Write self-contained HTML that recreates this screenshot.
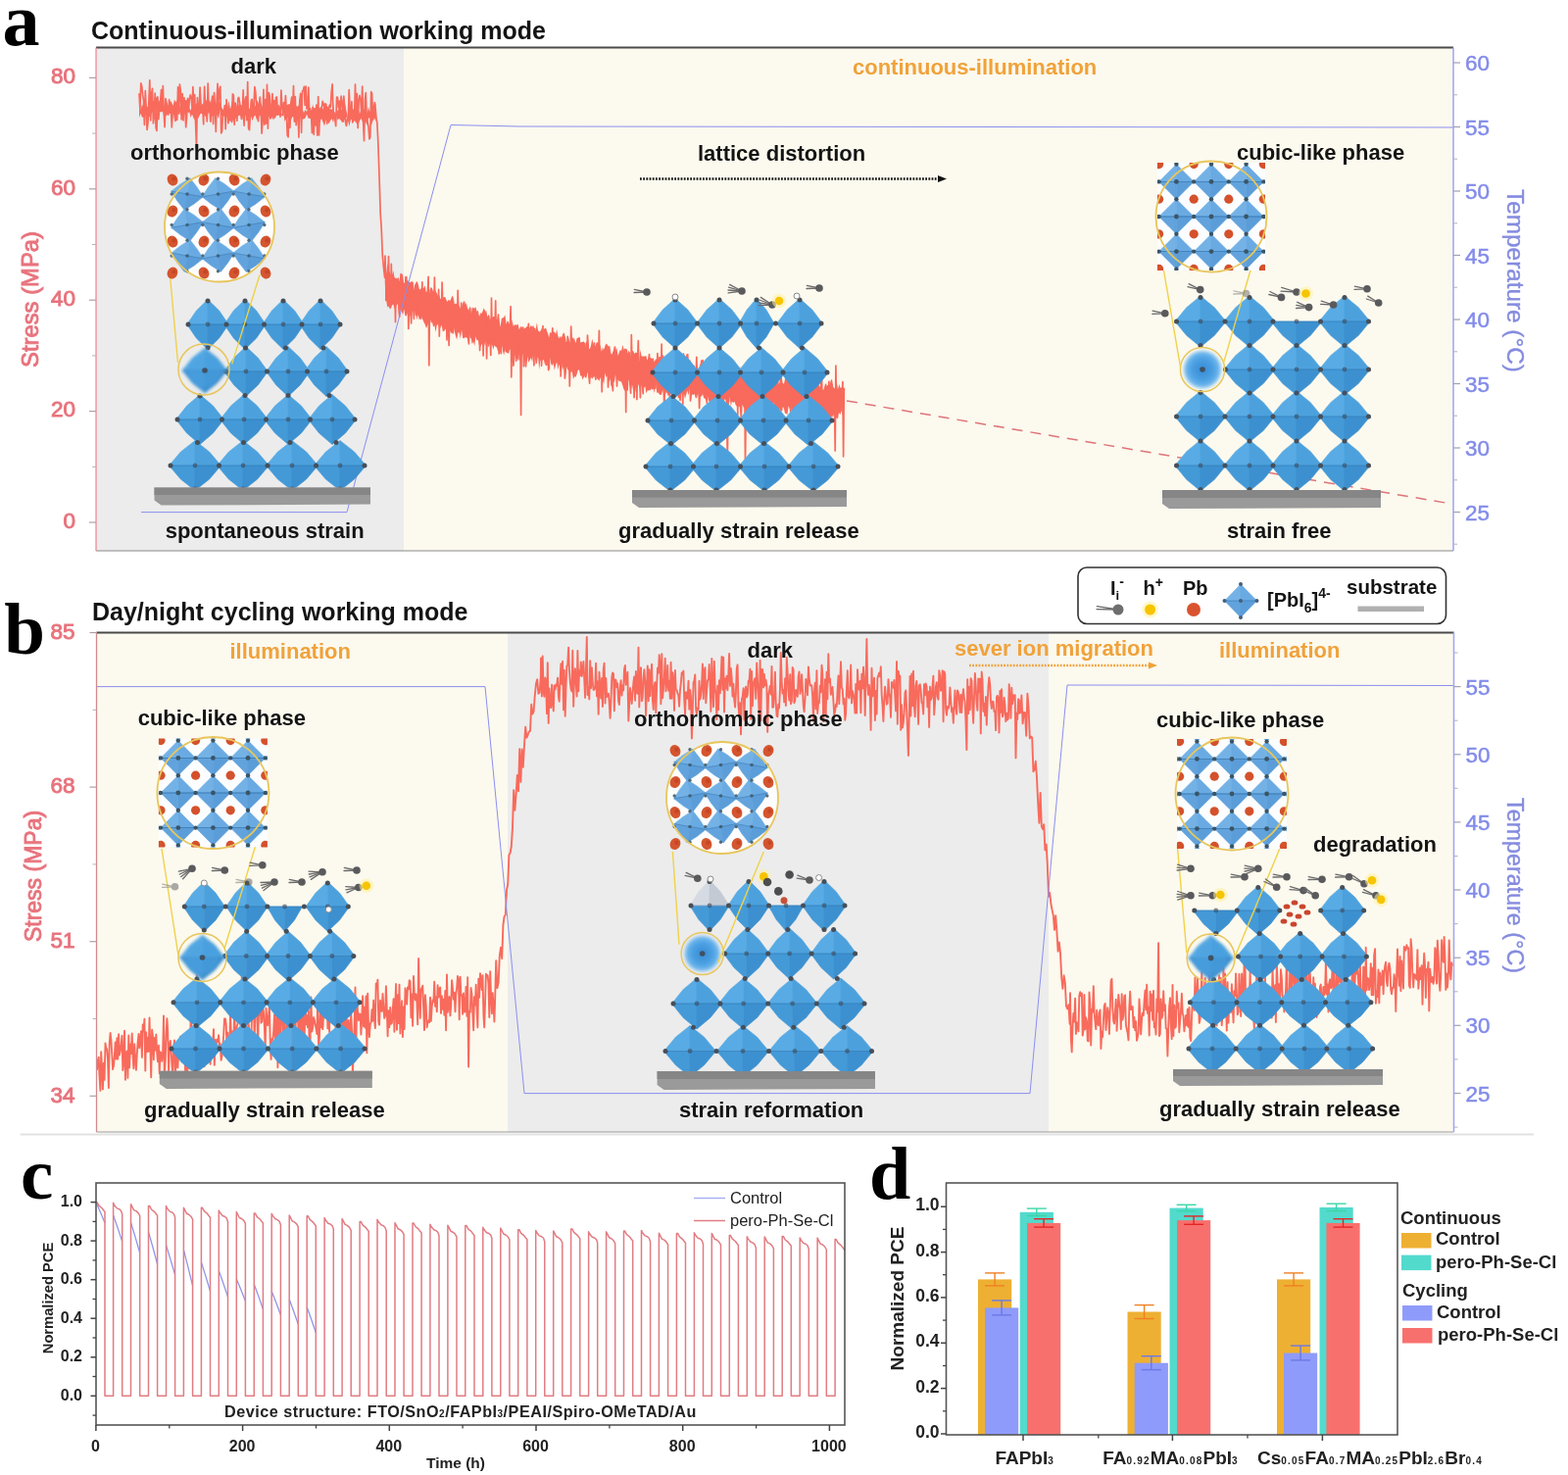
<!DOCTYPE html>
<html><head><meta charset="utf-8"><title>Figure</title>
<style>html,body{margin:0;padding:0;background:#fff;} svg{display:block;}</style></head>
<body><svg width="1600" height="1505" viewBox="0 0 1600 1505">
<rect width="1600" height="1505" fill="#ffffff"/>
<defs><radialGradient id="ballg" cx="0.5" cy="0.5" r="0.5">
<stop offset="0" stop-color="#3a8ad2"/><stop offset="0.55" stop-color="#4aa0e2"/><stop offset="0.85" stop-color="#6db6ec"/><stop offset="1" stop-color="#a8d4f4" stop-opacity="0.6"/></radialGradient>
<filter id="soft" x="-30%" y="-30%" width="160%" height="160%"><feGaussianBlur stdDeviation="1.6"/></filter></defs>
<rect x="98" y="48.5" width="314" height="513.5" fill="#ececec" />
<rect x="412" y="48.5" width="1071" height="513.5" fill="#fcf9ee" />
<polygon points="142.0,96.4 143.5,112.5 145.0,106.2 146.5,109.6 148.0,101.5 149.5,108.7 151.0,109.1 152.5,109.0 154.0,104.3 155.5,100.8 157.0,104.0 158.5,97.9 160.0,99.5 161.5,104.9 163.0,101.7 164.5,104.3 166.0,104.5 167.5,110.6 169.0,108.8 170.5,104.8 172.0,108.6 173.5,102.7 175.0,104.1 176.5,107.9 178.0,101.5 179.5,104.4 181.0,101.3 182.5,105.7 184.0,110.3 185.5,103.2 187.0,106.2 188.5,102.8 190.0,102.1 191.5,101.9 193.0,110.1 194.5,112.8 196.0,107.2 197.5,103.7 199.0,108.0 200.5,104.9 202.0,108.4 203.5,106.9 205.0,106.9 206.5,108.0 208.0,104.4 209.5,105.0 211.0,101.1 212.5,105.0 214.0,102.1 215.5,106.0 217.0,103.6 218.5,106.8 220.0,107.9 221.5,102.4 223.0,104.2 224.5,103.9 226.0,109.0 227.5,111.9 229.0,109.4 230.5,105.9 232.0,111.4 233.5,102.5 235.0,111.6 236.5,105.2 238.0,98.8 239.5,115.2 241.0,112.0 242.5,104.2 244.0,107.9 245.5,106.8 247.0,107.8 248.5,103.1 250.0,105.5 251.5,109.0 253.0,108.3 254.5,111.3 256.0,108.0 257.5,114.9 259.0,105.7 260.5,108.7 262.0,102.2 263.5,104.3 265.0,112.1 266.5,105.3 268.0,109.8 269.5,108.0 271.0,105.1 272.5,107.3 274.0,106.8 275.5,107.0 277.0,110.7 278.5,110.5 280.0,106.8 281.5,105.9 283.0,109.5 284.5,108.4 286.0,111.8 287.5,116.8 289.0,111.4 290.5,108.8 292.0,108.4 293.5,106.4 295.0,106.3 296.5,106.1 298.0,108.0 299.5,107.9 301.0,111.5 302.5,108.1 304.0,108.8 305.5,105.8 307.0,114.4 308.5,111.0 310.0,114.9 311.5,112.0 313.0,114.1 314.5,109.0 316.0,111.9 317.5,117.9 319.0,106.2 320.5,113.4 322.0,115.0 323.5,111.3 325.0,112.3 326.5,113.9 328.0,108.1 329.5,111.5 331.0,107.6 332.5,108.2 334.0,108.5 335.5,110.0 337.0,110.9 338.5,111.9 340.0,106.2 341.5,116.7 343.0,114.2 344.5,112.9 346.0,109.6 347.5,110.5 349.0,112.5 350.5,112.2 352.0,105.8 353.5,113.3 355.0,120.0 356.5,105.4 358.0,114.2 359.5,112.3 361.0,110.9 362.5,115.5 364.0,107.7 365.5,111.9 367.0,115.9 368.5,110.9 370.0,110.2 371.5,111.9 373.0,110.3 374.5,116.5 376.0,108.9 377.5,114.5 379.0,108.0 380.5,113.9 382.0,111.6 383.5,104.0 383.5,124.0 382.0,120.6 380.5,122.5 379.0,128.6 377.5,120.3 376.0,120.5 374.5,128.1 373.0,124.0 371.5,128.3 370.0,124.5 368.5,120.8 367.0,123.2 365.5,127.2 364.0,126.2 362.5,123.3 361.0,123.4 359.5,122.8 358.0,121.4 356.5,129.0 355.0,123.1 353.5,119.5 352.0,121.5 350.5,125.1 349.0,124.8 347.5,122.4 346.0,120.7 344.5,122.8 343.0,117.5 341.5,118.6 340.0,125.0 338.5,121.0 337.0,123.6 335.5,126.2 334.0,124.4 332.5,122.4 331.0,128.8 329.5,124.3 328.0,121.1 326.5,124.4 325.0,123.3 323.5,119.4 322.0,122.2 320.5,121.4 319.0,115.8 317.5,121.3 316.0,120.9 314.5,120.4 313.0,116.6 311.5,120.5 310.0,121.4 308.5,121.8 307.0,118.0 305.5,123.4 304.0,117.6 302.5,120.6 301.0,125.3 299.5,119.1 298.0,119.6 296.5,124.4 295.0,119.9 293.5,120.1 292.0,121.6 290.5,124.1 289.0,114.1 287.5,118.3 286.0,117.7 284.5,117.4 283.0,118.0 281.5,118.0 280.0,121.5 278.5,117.8 277.0,120.8 275.5,121.6 274.0,118.1 272.5,120.7 271.0,125.3 269.5,121.2 268.0,118.2 266.5,119.9 265.0,117.3 263.5,120.8 262.0,122.6 260.5,117.4 259.0,119.2 257.5,123.2 256.0,118.2 254.5,120.3 253.0,116.5 251.5,117.1 250.0,118.0 248.5,126.0 247.0,118.2 245.5,117.8 244.0,117.7 242.5,118.8 241.0,121.2 239.5,119.8 238.0,125.3 236.5,119.8 235.0,123.4 233.5,119.9 232.0,120.8 230.5,114.6 229.0,118.5 227.5,118.6 226.0,118.0 224.5,112.3 223.0,121.3 221.5,117.5 220.0,117.3 218.5,117.8 217.0,117.8 215.5,119.7 214.0,114.6 212.5,115.5 211.0,119.2 209.5,118.7 208.0,117.1 206.5,116.4 205.0,115.6 203.5,117.9 202.0,121.5 200.5,114.8 199.0,122.5 197.5,120.4 196.0,116.4 194.5,120.1 193.0,113.3 191.5,112.4 190.0,113.7 188.5,116.3 187.0,116.5 185.5,115.9 184.0,117.7 182.5,110.9 181.0,118.8 179.5,113.0 178.0,115.2 176.5,115.9 175.0,113.6 173.5,112.9 172.0,114.0 170.5,116.9 169.0,118.7 167.5,118.5 166.0,113.8 164.5,114.4 163.0,113.9 161.5,118.0 160.0,110.5 158.5,120.3 157.0,115.0 155.5,114.1 154.0,117.4 152.5,119.4 151.0,117.3 149.5,119.4 148.0,116.6 146.5,119.8 145.0,119.8 143.5,115.8 142.0,120.3" fill="#f86a5c"/>
<polygon points="393.0,275.1 394.2,279.1 395.4,268.3 396.6,278.3 397.8,277.2 399.0,281.4 400.2,279.9 401.4,276.1 402.6,284.0 403.8,283.7 405.0,284.0 406.2,286.0 407.4,286.9 408.6,283.5 409.8,279.4 411.0,279.9 412.2,290.0 413.4,288.3 414.6,286.8 415.8,285.5 417.0,287.6 418.2,288.2 419.4,287.5 420.6,286.7 421.8,297.3 423.0,291.1 424.2,288.7 425.4,286.8 426.6,289.4 427.8,294.9 429.0,295.6 430.2,292.7 431.4,294.2 432.6,293.5 433.8,291.2 435.0,300.2 436.2,297.4 437.4,305.3 438.6,294.5 439.8,297.2 441.0,301.3 442.2,297.8 443.4,294.3 444.6,296.4 445.8,300.6 447.0,301.9 448.2,300.9 449.4,305.2 450.6,305.7 451.8,303.8 453.0,303.3 454.2,302.8 455.4,306.1 456.6,307.9 457.8,305.4 459.0,307.2 460.2,305.0 461.4,301.6 462.6,303.6 463.8,310.2 465.0,309.6 466.2,314.0 467.4,309.1 468.6,312.4 469.8,314.5 471.0,313.8 472.2,308.7 473.4,310.6 474.6,312.2 475.8,308.7 477.0,314.3 478.2,316.7 479.4,311.9 480.6,320.9 481.8,313.4 483.0,314.2 484.2,314.5 485.4,313.3 486.6,317.7 487.8,316.7 489.0,322.9 490.2,319.6 491.4,319.8 492.6,317.6 493.8,313.9 495.0,318.9 496.2,316.7 497.4,323.4 498.6,320.4 499.8,326.8 501.0,323.9 502.2,324.7 503.4,323.0 504.6,323.3 505.8,325.3 507.0,326.7 508.2,321.3 509.4,326.0 510.6,333.8 511.8,324.7 513.0,324.6 514.2,323.4 515.4,321.2 516.6,330.8 517.8,327.3 519.0,328.5 520.2,334.3 521.4,337.0 522.6,325.5 523.8,332.7 525.0,331.6 526.2,331.2 527.4,331.8 528.6,330.5 529.8,336.5 531.0,333.5 532.2,332.9 533.4,336.4 534.6,335.6 535.8,334.4 537.0,334.3 538.2,339.7 539.4,335.7 540.6,334.0 541.8,331.7 543.0,333.8 544.2,331.7 545.4,336.1 546.6,337.0 547.8,329.3 549.0,336.9 550.2,339.5 551.4,338.1 552.6,334.6 553.8,342.7 555.0,336.2 556.2,334.6 557.4,335.5 558.6,339.6 559.8,343.4 561.0,344.4 562.2,341.4 563.4,336.8 564.6,339.0 565.8,338.5 567.0,341.4 568.2,336.1 569.4,343.1 570.6,345.3 571.8,342.8 573.0,345.3 574.2,340.7 575.4,339.2 576.6,342.4 577.8,349.0 579.0,348.9 580.2,344.0 581.4,350.2 582.6,345.1 583.8,351.9 585.0,348.6 586.2,345.6 587.4,350.3 588.6,345.1 589.8,344.9 591.0,343.4 592.2,349.7 593.4,348.9 594.6,349.1 595.8,348.3 597.0,355.0 598.2,348.8 599.4,348.1 600.6,355.3 601.8,356.2 603.0,352.7 604.2,345.7 605.4,350.0 606.6,354.5 607.8,352.8 609.0,358.4 610.2,348.5 611.4,355.9 612.6,351.7 613.8,358.8 615.0,354.2 616.2,358.3 617.4,352.7 618.6,350.4 619.8,351.7 621.0,353.7 622.2,352.5 623.4,360.6 624.6,361.4 625.8,357.9 627.0,353.6 628.2,357.1 629.4,355.4 630.6,363.1 631.8,359.4 633.0,360.3 634.2,357.5 635.4,352.1 636.6,356.7 637.8,355.8 639.0,361.2 640.2,360.5 641.4,357.7 642.6,359.4 643.8,366.5 645.0,357.9 646.2,358.3 647.4,361.0 648.6,359.6 649.8,360.8 651.0,364.4 652.2,368.8 653.4,356.8 654.6,363.2 655.8,363.7 657.0,363.5 658.2,363.4 659.4,363.1 660.6,368.0 661.8,363.1 663.0,364.6 664.2,365.3 665.4,365.9 666.6,365.1 667.8,369.5 669.0,366.2 670.2,367.1 671.4,366.5 672.6,363.4 673.8,364.3 675.0,363.7 676.2,368.3 677.4,365.4 678.6,364.4 679.8,369.2 681.0,370.4 682.2,362.6 683.4,374.9 684.6,369.4 685.8,369.1 687.0,373.4 688.2,370.2 689.4,368.0 690.6,378.1 691.8,366.8 693.0,370.5 694.2,374.0 695.4,367.5 696.6,371.1 697.8,373.0 699.0,380.3 700.2,369.0 701.4,372.2 702.6,374.9 703.8,373.1 705.0,368.8 706.2,374.6 707.4,373.8 708.6,375.2 709.8,377.8 711.0,377.6 712.2,375.7 713.4,375.5 714.6,370.8 715.8,374.4 717.0,375.8 718.2,373.9 719.4,375.8 720.6,372.8 721.8,381.2 723.0,383.6 724.2,374.9 725.4,377.9 726.6,375.8 727.8,381.3 729.0,378.6 730.2,377.5 731.4,376.7 732.6,378.1 733.8,374.3 735.0,380.4 736.2,375.7 737.4,380.3 738.6,379.1 739.8,382.6 741.0,378.9 742.2,382.7 743.4,376.1 744.6,381.7 745.8,378.9 747.0,380.6 748.2,380.3 749.4,383.6 750.6,373.4 751.8,381.8 753.0,375.6 754.2,385.2 755.4,374.3 756.6,377.8 757.8,375.7 759.0,387.5 760.2,377.4 761.4,382.5 762.6,380.4 763.8,376.1 765.0,381.4 766.2,385.1 767.4,382.3 768.6,386.4 769.8,382.0 771.0,383.5 772.2,382.3 773.4,385.0 774.6,390.6 775.8,385.4 777.0,385.0 778.2,382.3 779.4,382.0 780.6,389.9 781.8,381.1 783.0,381.9 784.2,384.9 785.4,384.0 786.6,392.5 787.8,377.5 789.0,387.2 790.2,388.6 791.4,382.3 792.6,384.2 793.8,388.1 795.0,392.4 796.2,383.7 797.4,381.5 798.6,390.6 799.8,392.7 801.0,386.3 802.2,379.9 803.4,392.9 804.6,387.3 805.8,392.0 807.0,388.1 808.2,387.1 809.4,387.0 810.6,393.9 811.8,393.9 813.0,381.5 814.2,385.9 815.4,395.5 816.6,388.2 817.8,384.8 819.0,389.8 820.2,389.5 821.4,389.7 822.6,388.5 823.8,389.2 825.0,388.9 826.2,391.8 827.4,387.9 828.6,389.9 829.8,390.5 831.0,395.7 832.2,392.6 833.4,391.1 834.6,393.5 835.8,393.1 837.0,395.7 838.2,393.8 839.4,398.4 840.6,397.0 841.8,392.3 843.0,391.1 844.2,395.8 845.4,394.6 846.6,392.6 847.8,387.9 849.0,386.8 850.2,394.5 851.4,396.2 852.6,396.4 853.8,389.2 855.0,397.5 856.2,392.1 857.4,395.5 858.6,395.7 859.8,391.5 859.8,424.3 858.6,419.0 857.4,422.9 856.2,419.7 855.0,427.4 853.8,425.9 852.6,428.8 851.4,426.7 850.2,423.1 849.0,426.4 847.8,423.7 846.6,427.1 845.4,425.9 844.2,421.2 843.0,424.5 841.8,424.6 840.6,423.2 839.4,427.3 838.2,430.0 837.0,422.6 835.8,422.5 834.6,415.7 833.4,423.0 832.2,421.8 831.0,415.6 829.8,424.0 828.6,425.0 827.4,420.2 826.2,421.3 825.0,419.1 823.8,425.0 822.6,416.9 821.4,420.9 820.2,428.7 819.0,421.9 817.8,423.2 816.6,420.9 815.4,417.2 814.2,421.0 813.0,422.4 811.8,417.3 810.6,421.9 809.4,424.9 808.2,424.2 807.0,414.7 805.8,416.7 804.6,414.3 803.4,423.6 802.2,421.8 801.0,422.0 799.8,416.3 798.6,415.1 797.4,419.3 796.2,419.2 795.0,415.7 793.8,419.1 792.6,420.7 791.4,419.0 790.2,414.5 789.0,410.5 787.8,416.9 786.6,418.2 785.4,416.5 784.2,415.8 783.0,414.7 781.8,419.5 780.6,416.6 779.4,417.1 778.2,413.1 777.0,414.1 775.8,416.7 774.6,412.4 773.4,411.4 772.2,414.5 771.0,419.7 769.8,415.9 768.6,420.2 767.4,414.5 766.2,413.7 765.0,409.7 763.8,412.4 762.6,419.3 761.4,415.2 760.2,416.5 759.0,416.2 757.8,413.5 756.6,412.6 755.4,413.6 754.2,415.4 753.0,414.4 751.8,414.4 750.6,413.0 749.4,409.6 748.2,411.2 747.0,408.6 745.8,415.2 744.6,404.2 743.4,410.6 742.2,419.5 741.0,409.8 739.8,406.8 738.6,410.5 737.4,414.9 736.2,409.7 735.0,412.2 733.8,410.2 732.6,408.3 731.4,420.5 730.2,409.5 729.0,407.2 727.8,407.1 726.6,410.0 725.4,409.9 724.2,411.0 723.0,408.6 721.8,402.9 720.6,409.5 719.4,406.4 718.2,406.3 717.0,401.9 715.8,404.8 714.6,404.1 713.4,406.3 712.2,401.2 711.0,406.2 709.8,406.3 708.6,401.7 707.4,403.2 706.2,402.2 705.0,408.2 703.8,395.9 702.6,403.4 701.4,398.5 700.2,402.6 699.0,406.9 697.8,401.5 696.6,404.0 695.4,400.3 694.2,409.8 693.0,406.0 691.8,406.5 690.6,397.7 689.4,398.3 688.2,405.7 687.0,401.0 685.8,400.6 684.6,402.4 683.4,396.6 682.2,403.5 681.0,400.6 679.8,402.0 678.6,397.8 677.4,401.7 676.2,397.2 675.0,402.7 673.8,403.1 672.6,402.1 671.4,400.5 670.2,400.7 669.0,388.8 667.8,400.9 666.6,396.8 665.4,397.8 664.2,396.3 663.0,392.1 661.8,394.9 660.6,398.8 659.4,401.2 658.2,393.9 657.0,392.6 655.8,400.6 654.6,392.2 653.4,402.3 652.2,395.0 651.0,391.4 649.8,397.7 648.6,399.9 647.4,388.7 646.2,399.0 645.0,392.3 643.8,398.2 642.6,391.4 641.4,386.9 640.2,394.0 639.0,395.2 637.8,399.0 636.6,397.4 635.4,393.6 634.2,390.0 633.0,388.8 631.8,389.3 630.6,387.2 629.4,388.8 628.2,380.6 627.0,389.9 625.8,388.9 624.6,397.7 623.4,391.1 622.2,386.4 621.0,389.8 619.8,383.3 618.6,385.2 617.4,380.5 616.2,391.7 615.0,388.5 613.8,382.0 612.6,385.6 611.4,388.9 610.2,387.0 609.0,386.3 607.8,381.7 606.6,382.2 605.4,384.4 604.2,387.0 603.0,380.6 601.8,379.3 600.6,386.9 599.4,379.4 598.2,386.1 597.0,382.9 595.8,384.8 594.6,387.5 593.4,383.5 592.2,383.5 591.0,377.3 589.8,377.7 588.6,382.1 587.4,384.9 586.2,384.1 585.0,387.0 583.8,379.7 582.6,379.0 581.4,381.5 580.2,377.7 579.0,377.1 577.8,373.3 576.6,380.1 575.4,372.6 574.2,377.8 573.0,370.7 571.8,379.2 570.6,371.4 569.4,377.6 568.2,368.8 567.0,372.5 565.8,377.8 564.6,370.5 563.4,373.2 562.2,371.0 561.0,364.2 559.8,373.1 558.6,373.1 557.4,367.4 556.2,372.9 555.0,367.8 553.8,366.7 552.6,369.9 551.4,367.1 550.2,377.2 549.0,363.4 547.8,371.0 546.6,371.6 545.4,360.8 544.2,361.3 543.0,369.0 541.8,365.0 540.6,367.6 539.4,369.9 538.2,364.3 537.0,361.5 535.8,355.3 534.6,365.2 533.4,360.8 532.2,364.8 531.0,364.1 529.8,358.1 528.6,368.6 527.4,366.0 526.2,364.7 525.0,357.2 523.8,359.6 522.6,358.7 521.4,358.8 520.2,355.9 519.0,361.0 517.8,359.9 516.6,359.9 515.4,356.5 514.2,362.4 513.0,358.1 511.8,347.5 510.6,354.4 509.4,356.0 508.2,359.2 507.0,354.4 505.8,354.1 504.6,352.3 503.4,356.5 502.2,352.2 501.0,351.2 499.8,350.3 498.6,354.5 497.4,350.2 496.2,345.8 495.0,353.4 493.8,348.4 492.6,351.6 491.4,351.3 490.2,353.7 489.0,352.7 487.8,346.6 486.6,347.6 485.4,343.2 484.2,353.2 483.0,348.4 481.8,351.3 480.6,344.9 479.4,338.4 478.2,350.4 477.0,345.0 475.8,344.6 474.6,343.9 473.4,345.5 472.2,344.7 471.0,336.8 469.8,345.7 468.6,339.6 467.4,339.3 466.2,346.5 465.0,343.2 463.8,338.3 462.6,332.6 461.4,339.1 460.2,340.0 459.0,337.3 457.8,332.8 456.6,333.9 455.4,331.8 454.2,336.4 453.0,338.1 451.8,338.3 450.6,331.6 449.4,334.5 448.2,335.1 447.0,330.9 445.8,331.7 444.6,339.1 443.4,331.9 442.2,333.8 441.0,328.7 439.8,329.8 438.6,323.2 437.4,328.5 436.2,332.3 435.0,334.9 433.8,331.3 432.6,329.0 431.4,326.2 430.2,323.4 429.0,324.4 427.8,326.6 426.6,321.1 425.4,326.6 424.2,319.4 423.0,316.0 421.8,318.2 420.6,315.4 419.4,315.8 418.2,324.0 417.0,318.8 415.8,319.7 414.6,322.5 413.4,322.3 412.2,315.5 411.0,321.4 409.8,317.5 408.6,315.6 407.4,316.6 406.2,309.5 405.0,311.1 403.8,312.9 402.6,314.9 401.4,310.8 400.2,311.1 399.0,314.4 397.8,315.3 396.6,312.5 395.4,313.6 394.2,307.2 393.0,306.9" fill="#f86a5c"/>
<polyline points="142.0,95.2 142.9,111.3 143.8,84.9 144.7,87.8 145.6,96.7 146.5,102.1 147.4,127.4 148.3,92.6 149.2,111.9 150.1,132.5 151.0,125.1 151.9,102.1 152.8,81.8 153.7,123.0 154.6,95.3 155.5,90.4 156.4,126.0 157.3,119.4 158.2,95.1 159.1,130.2 160.0,133.5 160.9,98.9 161.8,121.7 162.7,108.8 163.6,103.8 164.5,91.7 165.4,112.2 166.3,87.5 167.2,114.3 168.1,129.7 169.0,100.6 169.9,105.1 170.8,115.4 171.7,117.1 172.6,101.7 173.5,115.2 174.4,108.9 175.3,130.0 176.2,113.8 177.1,109.9 178.0,117.5 178.9,123.4 179.8,104.5 180.7,122.5 181.6,88.8 182.5,115.8 183.4,86.1 184.3,92.5 185.2,121.9 186.1,95.6 187.0,123.0 187.9,99.6 188.8,109.5 189.7,129.9 190.6,119.5 191.5,100.3 192.4,114.2 193.3,101.3 194.2,96.9 195.1,99.6 196.0,109.2 196.9,88.7 197.8,109.7 198.7,96.6 199.6,125.8 200.5,150.7 201.4,99.5 202.3,115.0 203.2,111.6 204.1,89.1 205.0,106.0 205.9,106.6 206.8,109.7 207.7,126.8 208.6,88.4 209.5,108.4 210.4,113.7 211.3,123.9 212.2,85.1 213.1,111.9 214.0,113.0 214.9,124.1 215.8,105.6 216.7,98.2 217.6,126.6 218.5,94.5 219.4,107.8 220.3,134.5 221.2,100.7 222.1,85.4 223.0,104.4 223.9,92.0 224.8,88.3 225.7,136.0 226.6,133.6 227.5,114.1 228.4,117.7 229.3,107.7 230.2,131.6 231.1,101.6 232.0,112.2 232.9,125.8 233.8,112.8 234.7,123.0 235.6,114.7 236.5,124.4 237.4,95.9 238.3,97.1 239.2,127.3 240.1,105.0 241.0,110.4 241.9,123.3 242.8,100.5 243.7,99.4 244.6,104.8 245.5,113.7 246.4,121.3 247.3,114.7 248.2,91.8 249.1,128.2 250.0,103.2 250.9,98.9 251.8,122.7 252.7,83.6 253.6,130.9 254.5,132.7 255.4,116.3 256.3,102.5 257.2,101.3 258.1,118.7 259.0,109.0 259.9,88.6 260.8,93.8 261.7,110.2 262.6,112.1 263.5,123.7 264.4,107.7 265.3,99.2 266.2,110.5 267.1,136.1 268.0,124.2 268.9,91.3 269.8,127.3 270.7,101.6 271.6,126.2 272.5,86.4 273.4,131.2 274.3,94.5 275.2,97.6 276.1,121.0 277.0,113.2 277.9,95.7 278.8,121.0 279.7,102.5 280.6,119.6 281.5,99.6 282.4,98.9 283.3,113.2 284.2,107.9 285.1,111.5 286.0,119.2 286.9,92.2 287.8,108.0 288.7,117.7 289.6,104.6 290.5,112.6 291.4,97.5 292.3,113.1 293.2,138.2 294.1,139.8 295.0,108.3 295.9,130.4 296.8,105.2 297.7,99.2 298.6,114.5 299.5,87.6 300.4,124.1 301.3,98.6 302.2,127.7 303.1,115.0 304.0,112.2 304.9,140.1 305.8,102.4 306.7,95.3 307.6,135.3 308.5,93.1 309.4,92.2 310.3,88.4 311.2,107.5 312.1,88.0 313.0,111.0 313.9,110.6 314.8,89.1 315.7,115.0 316.6,110.9 317.5,114.6 318.4,135.6 319.3,109.6 320.2,137.3 321.1,110.7 322.0,128.0 322.9,107.2 323.8,138.2 324.7,98.6 325.6,137.9 326.5,111.1 327.4,110.2 328.3,110.3 329.2,103.3 330.1,106.2 331.0,109.8 331.9,105.8 332.8,106.4 333.7,126.3 334.6,111.4 335.5,110.2 336.4,107.0 337.3,109.4 338.2,94.2 339.1,85.9 340.0,114.1 340.9,114.9 341.8,121.9 342.7,128.7 343.6,99.1 344.5,99.3 345.4,109.8 346.3,103.2 347.2,114.8 348.1,98.1 349.0,104.8 349.9,116.0 350.8,98.1 351.7,108.9 352.6,125.1 353.5,128.5 354.4,121.4 355.3,122.7 356.2,91.6 357.1,111.1 358.0,120.3 358.9,103.7 359.8,124.9 360.7,122.4 361.6,121.7 362.5,86.1 363.4,124.2 364.3,95.5 365.2,130.6 366.1,102.1 367.0,97.4 367.9,102.1 368.8,115.9 369.7,88.0 370.6,122.9 371.5,143.7 372.4,101.5 373.3,94.7 374.2,119.7 375.1,124.1 376.0,129.5 376.9,141.9 377.8,140.1 378.7,93.7 379.6,95.5 380.5,122.4 381.4,110.9 382.3,104.5 383.2,111.4 384.1,121.6 384.8,124.7 385.6,140.3 386.4,161.3 387.3,188.8 388.2,218.1 389.2,232.7 390.3,260.6 391.5,273.4 392.6,283.1 393.0,261.1 393.7,290.9 394.4,301.8 395.1,282.4 395.8,294.7 396.5,261.5 397.2,303.5 397.9,285.2 398.6,307.0 399.3,269.3 400.0,305.2 400.7,292.5 401.4,307.4 402.1,283.5 402.8,288.2 403.5,328.6 404.2,285.9 404.9,287.9 405.6,294.3 406.3,284.2 407.0,315.5 407.7,323.3 408.4,289.6 409.1,279.5 409.8,316.6 410.5,316.0 411.2,312.3 411.9,304.5 412.6,289.3 413.3,299.5 414.0,282.8 414.7,282.6 415.4,316.5 416.1,293.7 416.8,335.4 417.5,304.8 418.2,295.1 418.9,315.6 419.6,329.9 420.3,311.9 421.0,288.3 421.7,310.9 422.4,325.3 423.1,299.4 423.8,295.8 424.5,321.2 425.2,309.2 425.9,292.1 426.6,302.6 427.3,297.6 428.0,312.7 428.7,311.3 429.4,325.2 430.1,319.4 430.8,287.9 431.5,315.8 432.2,322.9 432.9,317.1 433.6,325.4 434.3,303.6 435.0,298.3 435.7,324.9 436.4,297.3 437.1,282.3 437.8,372.7 438.5,303.0 439.2,309.1 439.9,294.1 440.6,295.5 441.3,298.1 442.0,309.6 442.7,320.1 443.4,283.0 444.1,326.0 444.8,299.2 445.5,301.2 446.2,325.9 446.9,315.6 447.6,295.4 448.3,343.1 449.0,305.5 449.7,321.3 450.4,320.9 451.1,288.0 451.8,312.3 452.5,333.1 453.2,308.9 453.9,335.3 454.6,309.2 455.3,316.5 456.0,347.0 456.7,325.1 457.4,322.5 458.1,352.6 458.8,326.6 459.5,310.4 460.2,332.4 460.9,305.8 461.6,338.5 462.3,339.8 463.0,324.9 463.7,314.7 464.4,326.2 465.1,324.2 465.8,310.6 466.5,332.5 467.2,296.3 467.9,319.1 468.6,319.8 469.3,321.9 470.0,330.3 470.7,309.0 471.4,334.7 472.1,324.2 472.8,317.9 473.5,308.2 474.2,311.0 474.9,332.9 475.6,314.6 476.3,329.3 477.0,343.5 477.7,343.4 478.4,351.0 479.1,325.3 479.8,314.5 480.5,344.2 481.2,334.5 481.9,346.2 482.6,330.9 483.3,347.7 484.0,343.1 484.7,341.5 485.4,338.8 486.1,337.6 486.8,335.5 487.5,335.7 488.2,346.6 488.9,325.9 489.6,357.6 490.3,332.1 491.0,347.6 491.7,332.8 492.4,330.9 493.1,363.0 493.8,330.5 494.5,317.2 495.2,325.3 495.9,331.1 496.6,366.0 497.3,338.9 498.0,349.4 498.7,322.5 499.4,341.7 500.1,346.4 500.8,362.5 501.5,304.2 502.2,346.2 502.9,342.2 503.6,323.9 504.3,338.2 505.0,335.0 505.7,306.8 506.4,347.6 507.1,347.0 507.8,333.5 508.5,321.2 509.2,360.9 509.9,344.1 510.6,354.9 511.3,360.6 512.0,333.8 512.7,352.7 513.4,338.2 514.1,340.9 514.8,340.9 515.5,342.3 516.2,358.1 516.9,344.5 517.6,340.8 518.3,339.3 519.0,348.2 519.7,331.1 520.4,336.9 521.1,312.7 521.8,384.8 522.5,342.9 523.2,336.3 523.9,373.1 524.6,363.9 525.3,351.8 526.0,345.0 526.7,368.3 527.4,350.7 528.1,345.2 528.8,350.9 529.5,351.1 530.2,366.8 530.9,347.0 531.6,423.5 532.3,335.4 533.0,357.7 533.7,334.1 534.4,373.8 535.1,344.0 535.8,348.0 536.5,374.0 537.2,366.8 537.9,333.9 538.6,346.5 539.3,330.4 540.0,352.0 540.7,348.9 541.4,345.6 542.1,341.2 542.8,345.6 543.5,340.7 544.2,358.8 544.9,372.8 545.6,335.4 546.3,350.4 547.0,346.4 547.7,359.3 548.4,339.3 549.1,350.8 549.8,338.5 550.5,363.0 551.2,354.9 551.9,351.4 552.6,373.3 553.3,350.6 554.0,332.5 554.7,362.8 555.4,358.7 556.1,352.8 556.8,368.9 557.5,372.4 558.2,340.2 558.9,344.8 559.6,377.6 560.3,376.0 561.0,346.0 561.7,340.0 562.4,347.8 563.1,349.9 563.8,334.9 564.5,357.7 565.2,339.6 565.9,340.8 566.6,370.7 567.3,348.5 568.0,357.3 568.7,367.3 569.4,370.1 570.1,354.2 570.8,359.7 571.5,347.7 572.2,383.9 572.9,368.8 573.6,344.4 574.3,360.1 575.0,370.2 575.7,367.1 576.4,386.2 577.1,380.0 577.8,353.4 578.5,359.9 579.2,343.4 579.9,365.0 580.6,363.9 581.3,394.1 582.0,363.5 582.7,333.0 583.4,353.1 584.1,364.2 584.8,345.3 585.5,350.9 586.2,358.1 586.9,368.2 587.6,361.3 588.3,351.3 589.0,375.0 589.7,356.6 590.4,357.3 591.1,345.2 591.8,353.7 592.5,374.0 593.2,368.8 593.9,364.2 594.6,375.4 595.3,360.3 596.0,369.1 596.7,350.3 597.4,384.5 598.1,381.7 598.8,369.8 599.5,342.1 600.2,352.2 600.9,380.7 601.6,391.1 602.3,371.5 603.0,385.0 603.7,359.2 604.4,365.2 605.1,368.0 605.8,383.9 606.5,350.2 607.2,381.7 607.9,387.2 608.6,352.8 609.3,350.1 610.0,374.1 610.7,360.2 611.4,337.4 612.1,385.0 612.8,372.1 613.5,363.4 614.2,399.8 614.9,372.4 615.6,360.0 616.3,372.2 617.0,356.3 617.7,360.4 618.4,376.6 619.1,363.6 619.8,365.3 620.5,395.1 621.2,383.9 621.9,383.3 622.6,379.6 623.3,379.2 624.0,392.9 624.7,372.4 625.4,398.8 626.1,359.7 626.8,369.6 627.5,354.1 628.2,368.7 628.9,380.9 629.6,394.1 630.3,364.7 631.0,374.2 631.7,369.3 632.4,364.1 633.1,358.0 633.8,375.6 634.5,381.0 635.2,376.6 635.9,375.5 636.6,366.2 637.3,361.4 638.0,356.3 638.7,420.4 639.4,357.2 640.1,398.0 640.8,384.7 641.5,371.4 642.2,360.4 642.9,391.4 643.6,401.2 644.3,341.6 645.0,373.1 645.7,392.1 646.4,382.2 647.1,405.7 647.8,369.9 648.5,385.6 649.2,360.6 649.9,407.6 650.6,368.2 651.3,347.7 652.0,377.0 652.7,376.9 653.4,405.8 654.1,374.4 654.8,379.1 655.5,387.8 656.2,401.8 656.9,378.9 657.6,394.5 658.3,387.3 659.0,376.0 659.7,381.4 660.4,380.9 661.1,367.8 661.8,397.8 662.5,361.5 663.2,397.5 663.9,394.6 664.6,380.0 665.3,370.8 666.0,378.5 666.7,388.4 667.4,392.3 668.1,386.1 668.8,396.1 669.5,374.5 670.2,385.7 670.9,360.6 671.6,393.4 672.3,385.0 673.0,377.2 673.7,399.4 674.4,393.0 675.1,351.2 675.8,384.1 676.5,363.3 677.2,398.8 677.9,416.2 678.6,376.8 679.3,385.3 680.0,380.9 680.7,375.2 681.4,393.7 682.1,402.8 682.8,371.1 683.5,407.0 684.2,372.1 684.9,389.2 685.6,401.7 686.3,395.6 687.0,372.6 687.7,376.0 688.4,386.9 689.1,385.4 689.8,402.3 690.5,368.3 691.2,393.0 691.9,395.2 692.6,394.6 693.3,393.4 694.0,408.3 694.7,394.0 695.4,385.3 696.1,395.3 696.8,412.6 697.5,361.0 698.2,397.3 698.9,384.2 699.6,384.1 700.3,374.6 701.0,362.1 701.7,361.6 702.4,378.9 703.1,395.6 703.8,368.2 704.5,408.9 705.2,392.8 705.9,385.7 706.6,379.3 707.3,378.4 708.0,373.7 708.7,382.0 709.4,389.8 710.1,387.4 710.8,364.3 711.5,386.4 712.2,377.7 712.9,392.6 713.6,416.6 714.3,399.4 715.0,386.3 715.7,368.1 716.4,371.2 717.1,367.5 717.8,401.4 718.5,380.6 719.2,392.3 719.9,382.8 720.6,392.9 721.3,411.4 722.0,391.8 722.7,387.2 723.4,380.8 724.1,404.5 724.8,378.0 725.5,376.6 726.2,373.2 726.9,373.0 727.6,399.4 728.3,425.1 729.0,379.1 729.7,406.5 730.4,396.8 731.1,378.0 731.8,389.6 732.5,390.4 733.2,384.1 733.9,420.9 734.6,367.3 735.3,399.4 736.0,398.8 736.7,386.2 737.4,418.8 738.1,406.8 738.8,396.8 739.5,400.6 740.2,404.6 740.9,366.5 741.6,416.0 742.3,473.6 743.0,409.0 743.7,409.6 744.4,375.8 745.1,394.0 745.8,382.6 746.5,387.6 747.2,409.5 747.9,384.8 748.6,394.3 749.3,369.5 750.0,394.1 750.7,397.7 751.4,386.7 752.1,386.6 752.8,423.2 753.5,380.0 754.2,382.3 754.9,385.8 755.6,414.0 756.3,426.7 757.0,402.1 757.7,387.5 758.4,391.6 759.1,412.6 759.8,385.1 760.5,474.3 761.2,417.9 761.9,399.1 762.6,429.7 763.3,408.8 764.0,420.2 764.7,383.8 765.4,415.2 766.1,393.5 766.8,388.1 767.5,400.4 768.2,396.1 768.9,385.3 769.6,376.9 770.3,386.2 771.0,430.9 771.7,427.0 772.4,408.8 773.1,416.4 773.8,392.6 774.5,398.9 775.2,404.0 775.9,385.0 776.6,386.4 777.3,401.7 778.0,395.9 778.7,374.5 779.4,406.0 780.1,397.0 780.8,415.1 781.5,400.8 782.2,396.8 782.9,402.9 783.6,398.8 784.3,391.9 785.0,395.8 785.7,412.0 786.4,410.6 787.1,419.7 787.8,378.1 788.5,396.4 789.2,396.2 789.9,404.5 790.6,395.8 791.3,395.1 792.0,413.3 792.7,404.9 793.4,386.2 794.1,421.3 794.8,416.7 795.5,394.8 796.2,414.5 796.9,392.7 797.6,418.8 798.3,400.1 799.0,392.0 799.7,398.1 800.4,392.7 801.1,406.2 801.8,406.1 802.5,404.2 803.2,396.0 803.9,371.7 804.6,405.3 805.3,377.5 806.0,407.6 806.7,420.1 807.4,408.1 808.1,398.9 808.8,402.0 809.5,402.7 810.2,397.0 810.9,396.6 811.6,391.9 812.3,421.6 813.0,404.8 813.7,362.5 814.4,401.7 815.1,406.3 815.8,403.0 816.5,411.9 817.2,417.1 817.9,409.0 818.6,396.3 819.3,394.9 820.0,429.1 820.7,398.6 821.4,402.0 822.1,426.6 822.8,421.4 823.5,413.8 824.2,400.8 824.9,438.6 825.6,412.0 826.3,414.3 827.0,404.3 827.7,387.0 828.4,388.2 829.1,412.6 829.8,412.5 830.5,403.7 831.2,390.8 831.9,387.1 832.6,402.8 833.3,387.0 834.0,420.1 834.7,423.7 835.4,439.9 836.1,420.0 836.8,399.5 837.5,395.7 838.2,375.8 838.9,399.7 839.6,405.7 840.3,421.8 841.0,416.9 841.7,416.6 842.4,411.5 843.1,417.8 843.8,428.9 844.5,393.8 845.2,402.4 845.9,389.4 846.6,431.6 847.3,427.2 848.0,419.6 848.7,392.4 849.4,411.7 850.1,410.0 850.8,410.5 851.5,406.8 852.2,459.9 852.9,373.2 853.6,421.7 854.3,413.1 855.0,405.7 855.7,408.4 856.4,403.8 857.1,421.5 857.8,406.3 858.5,414.3 859.2,404.8 859.9,389.6 860.6,465.8 861.3,395.7" fill="none" stroke="#f86a5c" stroke-width="1.7" stroke-linejoin="round" />
<line x1="864" y1="409" x2="1475" y2="513" stroke="#de7479" stroke-width="1.5" stroke-dasharray="11,8"/>
<polyline points="144.0,522.6 354.0,522.6 460.0,127.5 530.0,129.0 1483.0,130.0" fill="none" stroke="#8a8ff0" stroke-width="1.0" stroke-linejoin="round" />
<g opacity="1.0"><polygon points="212.0,331.0 190.8,331.0 200.3,317.0 212.0,305.6" fill="#58abe4" stroke="#58abe4" stroke-width="0.6" stroke-linejoin="round"/><polygon points="212.0,331.0 212.0,305.6 223.7,317.0 233.2,331.0" fill="#4ca1dd" stroke="#4ca1dd" stroke-width="0.6" stroke-linejoin="round"/><polygon points="212.0,331.0 190.8,331.0 200.3,345.0 212.0,356.4" fill="#4499d7" stroke="#4499d7" stroke-width="0.6" stroke-linejoin="round"/><polygon points="212.0,331.0 212.0,356.4 223.7,345.0 233.2,331.0" fill="#3c90cf" stroke="#3c90cf" stroke-width="0.6" stroke-linejoin="round"/><line x1="190.8" y1="331.0" x2="233.2" y2="331.0" stroke="#2a6aa3" stroke-width="0.8" opacity="0.5"/></g>
<g opacity="1.0"><polygon points="250.0,331.0 228.8,331.0 238.3,317.0 250.0,305.6" fill="#58abe4" stroke="#58abe4" stroke-width="0.6" stroke-linejoin="round"/><polygon points="250.0,331.0 250.0,305.6 261.7,317.0 271.2,331.0" fill="#4ca1dd" stroke="#4ca1dd" stroke-width="0.6" stroke-linejoin="round"/><polygon points="250.0,331.0 228.8,331.0 238.3,345.0 250.0,356.4" fill="#4499d7" stroke="#4499d7" stroke-width="0.6" stroke-linejoin="round"/><polygon points="250.0,331.0 250.0,356.4 261.7,345.0 271.2,331.0" fill="#3c90cf" stroke="#3c90cf" stroke-width="0.6" stroke-linejoin="round"/><line x1="228.8" y1="331.0" x2="271.2" y2="331.0" stroke="#2a6aa3" stroke-width="0.8" opacity="0.5"/></g>
<g opacity="1.0"><polygon points="289.0,331.0 267.8,331.0 277.3,317.0 289.0,305.6" fill="#58abe4" stroke="#58abe4" stroke-width="0.6" stroke-linejoin="round"/><polygon points="289.0,331.0 289.0,305.6 300.7,317.0 310.2,331.0" fill="#4ca1dd" stroke="#4ca1dd" stroke-width="0.6" stroke-linejoin="round"/><polygon points="289.0,331.0 267.8,331.0 277.3,345.0 289.0,356.4" fill="#4499d7" stroke="#4499d7" stroke-width="0.6" stroke-linejoin="round"/><polygon points="289.0,331.0 289.0,356.4 300.7,345.0 310.2,331.0" fill="#3c90cf" stroke="#3c90cf" stroke-width="0.6" stroke-linejoin="round"/><line x1="267.8" y1="331.0" x2="310.2" y2="331.0" stroke="#2a6aa3" stroke-width="0.8" opacity="0.5"/></g>
<g opacity="1.0"><polygon points="327.0,331.0 305.8,331.0 315.3,317.0 327.0,305.6" fill="#58abe4" stroke="#58abe4" stroke-width="0.6" stroke-linejoin="round"/><polygon points="327.0,331.0 327.0,305.6 338.7,317.0 348.2,331.0" fill="#4ca1dd" stroke="#4ca1dd" stroke-width="0.6" stroke-linejoin="round"/><polygon points="327.0,331.0 305.8,331.0 315.3,345.0 327.0,356.4" fill="#4499d7" stroke="#4499d7" stroke-width="0.6" stroke-linejoin="round"/><polygon points="327.0,331.0 327.0,356.4 338.7,345.0 348.2,331.0" fill="#3c90cf" stroke="#3c90cf" stroke-width="0.6" stroke-linejoin="round"/><line x1="305.8" y1="331.0" x2="348.2" y2="331.0" stroke="#2a6aa3" stroke-width="0.8" opacity="0.5"/></g>
<g opacity="1.0"><polygon points="251.0,379.0 228.7,379.0 238.8,365.0 251.0,353.6" fill="#58abe4" stroke="#58abe4" stroke-width="0.6" stroke-linejoin="round"/><polygon points="251.0,379.0 251.0,353.6 263.2,365.0 273.3,379.0" fill="#4ca1dd" stroke="#4ca1dd" stroke-width="0.6" stroke-linejoin="round"/><polygon points="251.0,379.0 228.7,379.0 238.8,393.0 251.0,404.4" fill="#4499d7" stroke="#4499d7" stroke-width="0.6" stroke-linejoin="round"/><polygon points="251.0,379.0 251.0,404.4 263.2,393.0 273.3,379.0" fill="#3c90cf" stroke="#3c90cf" stroke-width="0.6" stroke-linejoin="round"/><line x1="228.7" y1="379.0" x2="273.3" y2="379.0" stroke="#2a6aa3" stroke-width="0.8" opacity="0.5"/></g>
<g opacity="1.0"><polygon points="294.0,379.0 271.7,379.0 281.8,365.0 294.0,353.6" fill="#58abe4" stroke="#58abe4" stroke-width="0.6" stroke-linejoin="round"/><polygon points="294.0,379.0 294.0,353.6 306.2,365.0 316.3,379.0" fill="#4ca1dd" stroke="#4ca1dd" stroke-width="0.6" stroke-linejoin="round"/><polygon points="294.0,379.0 271.7,379.0 281.8,393.0 294.0,404.4" fill="#4499d7" stroke="#4499d7" stroke-width="0.6" stroke-linejoin="round"/><polygon points="294.0,379.0 294.0,404.4 306.2,393.0 316.3,379.0" fill="#3c90cf" stroke="#3c90cf" stroke-width="0.6" stroke-linejoin="round"/><line x1="271.7" y1="379.0" x2="316.3" y2="379.0" stroke="#2a6aa3" stroke-width="0.8" opacity="0.5"/></g>
<g opacity="1.0"><polygon points="333.0,379.0 310.7,379.0 320.8,365.0 333.0,353.6" fill="#58abe4" stroke="#58abe4" stroke-width="0.6" stroke-linejoin="round"/><polygon points="333.0,379.0 333.0,353.6 345.2,365.0 355.3,379.0" fill="#4ca1dd" stroke="#4ca1dd" stroke-width="0.6" stroke-linejoin="round"/><polygon points="333.0,379.0 310.7,379.0 320.8,393.0 333.0,404.4" fill="#4499d7" stroke="#4499d7" stroke-width="0.6" stroke-linejoin="round"/><polygon points="333.0,379.0 333.0,404.4 345.2,393.0 355.3,379.0" fill="#3c90cf" stroke="#3c90cf" stroke-width="0.6" stroke-linejoin="round"/><line x1="310.7" y1="379.0" x2="355.3" y2="379.0" stroke="#2a6aa3" stroke-width="0.8" opacity="0.5"/></g>
<g opacity="1.0"><polygon points="204.0,428.0 179.6,428.0 190.6,414.0 204.0,402.6" fill="#58abe4" stroke="#58abe4" stroke-width="0.6" stroke-linejoin="round"/><polygon points="204.0,428.0 204.0,402.6 217.4,414.0 228.4,428.0" fill="#4ca1dd" stroke="#4ca1dd" stroke-width="0.6" stroke-linejoin="round"/><polygon points="204.0,428.0 179.6,428.0 190.6,442.0 204.0,453.4" fill="#4499d7" stroke="#4499d7" stroke-width="0.6" stroke-linejoin="round"/><polygon points="204.0,428.0 204.0,453.4 217.4,442.0 228.4,428.0" fill="#3c90cf" stroke="#3c90cf" stroke-width="0.6" stroke-linejoin="round"/><line x1="179.6" y1="428.0" x2="228.4" y2="428.0" stroke="#2a6aa3" stroke-width="0.8" opacity="0.5"/></g>
<g opacity="1.0"><polygon points="249.0,428.0 224.6,428.0 235.6,414.0 249.0,402.6" fill="#58abe4" stroke="#58abe4" stroke-width="0.6" stroke-linejoin="round"/><polygon points="249.0,428.0 249.0,402.6 262.4,414.0 273.4,428.0" fill="#4ca1dd" stroke="#4ca1dd" stroke-width="0.6" stroke-linejoin="round"/><polygon points="249.0,428.0 224.6,428.0 235.6,442.0 249.0,453.4" fill="#4499d7" stroke="#4499d7" stroke-width="0.6" stroke-linejoin="round"/><polygon points="249.0,428.0 249.0,453.4 262.4,442.0 273.4,428.0" fill="#3c90cf" stroke="#3c90cf" stroke-width="0.6" stroke-linejoin="round"/><line x1="224.6" y1="428.0" x2="273.4" y2="428.0" stroke="#2a6aa3" stroke-width="0.8" opacity="0.5"/></g>
<g opacity="1.0"><polygon points="294.0,428.0 269.6,428.0 280.6,414.0 294.0,402.6" fill="#58abe4" stroke="#58abe4" stroke-width="0.6" stroke-linejoin="round"/><polygon points="294.0,428.0 294.0,402.6 307.4,414.0 318.4,428.0" fill="#4ca1dd" stroke="#4ca1dd" stroke-width="0.6" stroke-linejoin="round"/><polygon points="294.0,428.0 269.6,428.0 280.6,442.0 294.0,453.4" fill="#4499d7" stroke="#4499d7" stroke-width="0.6" stroke-linejoin="round"/><polygon points="294.0,428.0 294.0,453.4 307.4,442.0 318.4,428.0" fill="#3c90cf" stroke="#3c90cf" stroke-width="0.6" stroke-linejoin="round"/><line x1="269.6" y1="428.0" x2="318.4" y2="428.0" stroke="#2a6aa3" stroke-width="0.8" opacity="0.5"/></g>
<g opacity="1.0"><polygon points="339.0,428.0 314.6,428.0 325.6,414.0 339.0,402.6" fill="#58abe4" stroke="#58abe4" stroke-width="0.6" stroke-linejoin="round"/><polygon points="339.0,428.0 339.0,402.6 352.4,414.0 363.4,428.0" fill="#4ca1dd" stroke="#4ca1dd" stroke-width="0.6" stroke-linejoin="round"/><polygon points="339.0,428.0 314.6,428.0 325.6,442.0 339.0,453.4" fill="#4499d7" stroke="#4499d7" stroke-width="0.6" stroke-linejoin="round"/><polygon points="339.0,428.0 339.0,453.4 352.4,442.0 363.4,428.0" fill="#3c90cf" stroke="#3c90cf" stroke-width="0.6" stroke-linejoin="round"/><line x1="314.6" y1="428.0" x2="363.4" y2="428.0" stroke="#2a6aa3" stroke-width="0.8" opacity="0.5"/></g>
<g opacity="1.0"><polygon points="199.0,475.0 172.5,475.0 184.4,461.0 199.0,449.6" fill="#58abe4" stroke="#58abe4" stroke-width="0.6" stroke-linejoin="round"/><polygon points="199.0,475.0 199.0,449.6 213.6,461.0 225.5,475.0" fill="#4ca1dd" stroke="#4ca1dd" stroke-width="0.6" stroke-linejoin="round"/><polygon points="199.0,475.0 172.5,475.0 184.4,489.0 199.0,500.4" fill="#4499d7" stroke="#4499d7" stroke-width="0.6" stroke-linejoin="round"/><polygon points="199.0,475.0 199.0,500.4 213.6,489.0 225.5,475.0" fill="#3c90cf" stroke="#3c90cf" stroke-width="0.6" stroke-linejoin="round"/><line x1="172.5" y1="475.0" x2="225.5" y2="475.0" stroke="#2a6aa3" stroke-width="0.8" opacity="0.5"/></g>
<g opacity="1.0"><polygon points="248.0,475.0 221.5,475.0 233.4,461.0 248.0,449.6" fill="#58abe4" stroke="#58abe4" stroke-width="0.6" stroke-linejoin="round"/><polygon points="248.0,475.0 248.0,449.6 262.6,461.0 274.5,475.0" fill="#4ca1dd" stroke="#4ca1dd" stroke-width="0.6" stroke-linejoin="round"/><polygon points="248.0,475.0 221.5,475.0 233.4,489.0 248.0,500.4" fill="#4499d7" stroke="#4499d7" stroke-width="0.6" stroke-linejoin="round"/><polygon points="248.0,475.0 248.0,500.4 262.6,489.0 274.5,475.0" fill="#3c90cf" stroke="#3c90cf" stroke-width="0.6" stroke-linejoin="round"/><line x1="221.5" y1="475.0" x2="274.5" y2="475.0" stroke="#2a6aa3" stroke-width="0.8" opacity="0.5"/></g>
<g opacity="1.0"><polygon points="298.0,475.0 271.5,475.0 283.4,461.0 298.0,449.6" fill="#58abe4" stroke="#58abe4" stroke-width="0.6" stroke-linejoin="round"/><polygon points="298.0,475.0 298.0,449.6 312.6,461.0 324.5,475.0" fill="#4ca1dd" stroke="#4ca1dd" stroke-width="0.6" stroke-linejoin="round"/><polygon points="298.0,475.0 271.5,475.0 283.4,489.0 298.0,500.4" fill="#4499d7" stroke="#4499d7" stroke-width="0.6" stroke-linejoin="round"/><polygon points="298.0,475.0 298.0,500.4 312.6,489.0 324.5,475.0" fill="#3c90cf" stroke="#3c90cf" stroke-width="0.6" stroke-linejoin="round"/><line x1="271.5" y1="475.0" x2="324.5" y2="475.0" stroke="#2a6aa3" stroke-width="0.8" opacity="0.5"/></g>
<g opacity="1.0"><polygon points="347.0,475.0 320.5,475.0 332.4,461.0 347.0,449.6" fill="#58abe4" stroke="#58abe4" stroke-width="0.6" stroke-linejoin="round"/><polygon points="347.0,475.0 347.0,449.6 361.6,461.0 373.5,475.0" fill="#4ca1dd" stroke="#4ca1dd" stroke-width="0.6" stroke-linejoin="round"/><polygon points="347.0,475.0 320.5,475.0 332.4,489.0 347.0,500.4" fill="#4499d7" stroke="#4499d7" stroke-width="0.6" stroke-linejoin="round"/><polygon points="347.0,475.0 347.0,500.4 361.6,489.0 373.5,475.0" fill="#3c90cf" stroke="#3c90cf" stroke-width="0.6" stroke-linejoin="round"/><line x1="320.5" y1="475.0" x2="373.5" y2="475.0" stroke="#2a6aa3" stroke-width="0.8" opacity="0.5"/></g>
<circle cx="192.0" cy="331.0" r="2.5" fill="#474f59" opacity="1.0"/>
<circle cx="231.0" cy="331.0" r="2.5" fill="#474f59" opacity="1.0"/>
<circle cx="212.0" cy="307.0" r="2.5" fill="#474f59" opacity="1.0"/>
<circle cx="212.0" cy="355.0" r="2.5" fill="#474f59" opacity="1.0"/>
<circle cx="269.5" cy="331.0" r="2.5" fill="#474f59" opacity="1.0"/>
<circle cx="250.0" cy="307.0" r="2.5" fill="#474f59" opacity="1.0"/>
<circle cx="250.5" cy="355.0" r="2.5" fill="#474f59" opacity="1.0"/>
<circle cx="308.0" cy="331.0" r="2.5" fill="#474f59" opacity="1.0"/>
<circle cx="289.0" cy="307.0" r="2.5" fill="#474f59" opacity="1.0"/>
<circle cx="291.5" cy="355.0" r="2.5" fill="#474f59" opacity="1.0"/>
<circle cx="347.0" cy="331.0" r="2.5" fill="#474f59" opacity="1.0"/>
<circle cx="327.0" cy="307.0" r="2.5" fill="#474f59" opacity="1.0"/>
<circle cx="330.0" cy="355.0" r="2.5" fill="#474f59" opacity="1.0"/>
<circle cx="230.0" cy="379.0" r="2.5" fill="#474f59" opacity="1.0"/>
<circle cx="272.5" cy="379.0" r="2.5" fill="#474f59" opacity="1.0"/>
<circle cx="250.0" cy="403.5" r="2.5" fill="#474f59" opacity="1.0"/>
<circle cx="313.5" cy="379.0" r="2.5" fill="#474f59" opacity="1.0"/>
<circle cx="294.0" cy="403.5" r="2.5" fill="#474f59" opacity="1.0"/>
<circle cx="354.0" cy="379.0" r="2.5" fill="#474f59" opacity="1.0"/>
<circle cx="336.0" cy="403.5" r="2.5" fill="#474f59" opacity="1.0"/>
<circle cx="181.0" cy="428.0" r="2.5" fill="#474f59" opacity="1.0"/>
<circle cx="226.5" cy="428.0" r="2.5" fill="#474f59" opacity="1.0"/>
<circle cx="204.0" cy="404.0" r="2.5" fill="#474f59" opacity="1.0"/>
<circle cx="201.5" cy="451.5" r="2.5" fill="#474f59" opacity="1.0"/>
<circle cx="271.5" cy="428.0" r="2.5" fill="#474f59" opacity="1.0"/>
<circle cx="248.5" cy="451.5" r="2.5" fill="#474f59" opacity="1.0"/>
<circle cx="316.5" cy="428.0" r="2.5" fill="#474f59" opacity="1.0"/>
<circle cx="296.0" cy="451.5" r="2.5" fill="#474f59" opacity="1.0"/>
<circle cx="362.0" cy="428.0" r="2.5" fill="#474f59" opacity="1.0"/>
<circle cx="343.0" cy="451.5" r="2.5" fill="#474f59" opacity="1.0"/>
<circle cx="174.0" cy="475.0" r="2.5" fill="#474f59" opacity="1.0"/>
<circle cx="223.5" cy="475.0" r="2.5" fill="#474f59" opacity="1.0"/>
<circle cx="199.0" cy="499.0" r="2.5" fill="#474f59" opacity="1.0"/>
<circle cx="273.0" cy="475.0" r="2.5" fill="#474f59" opacity="1.0"/>
<circle cx="248.0" cy="499.0" r="2.5" fill="#474f59" opacity="1.0"/>
<circle cx="322.5" cy="475.0" r="2.5" fill="#474f59" opacity="1.0"/>
<circle cx="298.0" cy="499.0" r="2.5" fill="#474f59" opacity="1.0"/>
<circle cx="372.0" cy="475.0" r="2.5" fill="#474f59" opacity="1.0"/>
<circle cx="347.0" cy="499.0" r="2.5" fill="#474f59" opacity="1.0"/>
<circle cx="212.0" cy="331.0" r="2.4" fill="#3e4a58" opacity="0.6"/>
<circle cx="250.0" cy="331.0" r="2.4" fill="#3e4a58" opacity="0.6"/>
<circle cx="289.0" cy="331.0" r="2.4" fill="#3e4a58" opacity="0.6"/>
<circle cx="327.0" cy="331.0" r="2.4" fill="#3e4a58" opacity="0.6"/>
<circle cx="251.0" cy="379.0" r="2.4" fill="#3e4a58" opacity="0.6"/>
<circle cx="294.0" cy="379.0" r="2.4" fill="#3e4a58" opacity="0.6"/>
<circle cx="333.0" cy="379.0" r="2.4" fill="#3e4a58" opacity="0.6"/>
<circle cx="204.0" cy="428.0" r="2.4" fill="#3e4a58" opacity="0.6"/>
<circle cx="249.0" cy="428.0" r="2.4" fill="#3e4a58" opacity="0.6"/>
<circle cx="294.0" cy="428.0" r="2.4" fill="#3e4a58" opacity="0.6"/>
<circle cx="339.0" cy="428.0" r="2.4" fill="#3e4a58" opacity="0.6"/>
<circle cx="199.0" cy="475.0" r="2.4" fill="#3e4a58" opacity="0.6"/>
<circle cx="248.0" cy="475.0" r="2.4" fill="#3e4a58" opacity="0.6"/>
<circle cx="298.0" cy="475.0" r="2.4" fill="#3e4a58" opacity="0.6"/>
<circle cx="347.0" cy="475.0" r="2.4" fill="#3e4a58" opacity="0.6"/>
<polygon points="157.5,497.5 378,497.5 378,514.6 164.5,515.6 157.5,510.6" fill="#9a9a9b"/>
<polygon points="157.5,497.5 378,497.5 378,505.1 157.5,505.1" fill="#868687"/>
<g filter="url(#soft)">
<g opacity="1.0"><polygon points="209.0,378.0 185.9,378.0 196.3,365.3 209.0,354.9" fill="#58abe4" stroke="#58abe4" stroke-width="0.6" stroke-linejoin="round"/><polygon points="209.0,378.0 209.0,354.9 221.7,365.3 232.1,378.0" fill="#4ca1dd" stroke="#4ca1dd" stroke-width="0.6" stroke-linejoin="round"/><polygon points="209.0,378.0 185.9,378.0 196.3,390.7 209.0,401.1" fill="#4499d7" stroke="#4499d7" stroke-width="0.6" stroke-linejoin="round"/><polygon points="209.0,378.0 209.0,401.1 221.7,390.7 232.1,378.0" fill="#3c90cf" stroke="#3c90cf" stroke-width="0.6" stroke-linejoin="round"/><line x1="185.9" y1="378.0" x2="232.1" y2="378.0" stroke="#2a6aa3" stroke-width="0.8" opacity="0.5"/></g>
</g>
<circle cx="209.0" cy="378.0" r="16.5" fill="#4aa0e0" opacity="0.5" filter="url(#soft)"/>
<circle cx="209.0" cy="378.0" r="2.8" fill="#3f4a55" opacity="0.9"/>
<circle cx="208.0" cy="377.0" r="26" fill="none" stroke="#e8c65c" stroke-width="1.5"/>
<line x1="173.7" y1="283.4" x2="181.5" y2="369.7" stroke="#efd24a" stroke-width="1.4" />
<line x1="265.2" y1="280" x2="236.7" y2="371.4" stroke="#efd24a" stroke-width="1.4" />
<circle cx="224" cy="231.5" r="56" fill="#fdfdfd"/>
<g transform="rotate(10 191.0 198.0)">
<g opacity="1.0"><polygon points="191.0,198.0 174.5,198.0 182.3,189.3 191.0,181.5" fill="#74b2e6" stroke="#74b2e6" stroke-width="0.6" stroke-linejoin="round"/><polygon points="191.0,198.0 191.0,181.5 199.7,189.3 207.5,198.0" fill="#6aaae2" stroke="#6aaae2" stroke-width="0.6" stroke-linejoin="round"/><polygon points="191.0,198.0 174.5,198.0 182.3,206.7 191.0,214.5" fill="#62a3dd" stroke="#62a3dd" stroke-width="0.6" stroke-linejoin="round"/><polygon points="191.0,198.0 191.0,214.5 199.7,206.7 207.5,198.0" fill="#5b9dd8" stroke="#5b9dd8" stroke-width="0.6" stroke-linejoin="round"/><line x1="174.5" y1="198.0" x2="207.5" y2="198.0" stroke="#2a6aa3" stroke-width="0.8" opacity="0.5"/></g>
</g>
<g transform="rotate(-10 222.5 198.0)">
<g opacity="1.0"><polygon points="222.5,198.0 206.0,198.0 213.8,189.3 222.5,181.5" fill="#74b2e6" stroke="#74b2e6" stroke-width="0.6" stroke-linejoin="round"/><polygon points="222.5,198.0 222.5,181.5 231.2,189.3 239.0,198.0" fill="#6aaae2" stroke="#6aaae2" stroke-width="0.6" stroke-linejoin="round"/><polygon points="222.5,198.0 206.0,198.0 213.8,206.7 222.5,214.5" fill="#62a3dd" stroke="#62a3dd" stroke-width="0.6" stroke-linejoin="round"/><polygon points="222.5,198.0 222.5,214.5 231.2,206.7 239.0,198.0" fill="#5b9dd8" stroke="#5b9dd8" stroke-width="0.6" stroke-linejoin="round"/><line x1="206.0" y1="198.0" x2="239.0" y2="198.0" stroke="#2a6aa3" stroke-width="0.8" opacity="0.5"/></g>
</g>
<g transform="rotate(10 254.0 198.0)">
<g opacity="1.0"><polygon points="254.0,198.0 237.5,198.0 245.3,189.3 254.0,181.5" fill="#74b2e6" stroke="#74b2e6" stroke-width="0.6" stroke-linejoin="round"/><polygon points="254.0,198.0 254.0,181.5 262.7,189.3 270.5,198.0" fill="#6aaae2" stroke="#6aaae2" stroke-width="0.6" stroke-linejoin="round"/><polygon points="254.0,198.0 237.5,198.0 245.3,206.7 254.0,214.5" fill="#62a3dd" stroke="#62a3dd" stroke-width="0.6" stroke-linejoin="round"/><polygon points="254.0,198.0 254.0,214.5 262.7,206.7 270.5,198.0" fill="#5b9dd8" stroke="#5b9dd8" stroke-width="0.6" stroke-linejoin="round"/><line x1="237.5" y1="198.0" x2="270.5" y2="198.0" stroke="#2a6aa3" stroke-width="0.8" opacity="0.5"/></g>
</g>
<g transform="rotate(-10 191.0 229.5)">
<g opacity="1.0"><polygon points="191.0,229.5 174.5,229.5 182.3,220.8 191.0,213.0" fill="#74b2e6" stroke="#74b2e6" stroke-width="0.6" stroke-linejoin="round"/><polygon points="191.0,229.5 191.0,213.0 199.7,220.8 207.5,229.5" fill="#6aaae2" stroke="#6aaae2" stroke-width="0.6" stroke-linejoin="round"/><polygon points="191.0,229.5 174.5,229.5 182.3,238.2 191.0,246.0" fill="#62a3dd" stroke="#62a3dd" stroke-width="0.6" stroke-linejoin="round"/><polygon points="191.0,229.5 191.0,246.0 199.7,238.2 207.5,229.5" fill="#5b9dd8" stroke="#5b9dd8" stroke-width="0.6" stroke-linejoin="round"/><line x1="174.5" y1="229.5" x2="207.5" y2="229.5" stroke="#2a6aa3" stroke-width="0.8" opacity="0.5"/></g>
</g>
<g transform="rotate(10 222.5 229.5)">
<g opacity="1.0"><polygon points="222.5,229.5 206.0,229.5 213.8,220.8 222.5,213.0" fill="#74b2e6" stroke="#74b2e6" stroke-width="0.6" stroke-linejoin="round"/><polygon points="222.5,229.5 222.5,213.0 231.2,220.8 239.0,229.5" fill="#6aaae2" stroke="#6aaae2" stroke-width="0.6" stroke-linejoin="round"/><polygon points="222.5,229.5 206.0,229.5 213.8,238.2 222.5,246.0" fill="#62a3dd" stroke="#62a3dd" stroke-width="0.6" stroke-linejoin="round"/><polygon points="222.5,229.5 222.5,246.0 231.2,238.2 239.0,229.5" fill="#5b9dd8" stroke="#5b9dd8" stroke-width="0.6" stroke-linejoin="round"/><line x1="206.0" y1="229.5" x2="239.0" y2="229.5" stroke="#2a6aa3" stroke-width="0.8" opacity="0.5"/></g>
</g>
<g transform="rotate(-10 254.0 229.5)">
<g opacity="1.0"><polygon points="254.0,229.5 237.5,229.5 245.3,220.8 254.0,213.0" fill="#74b2e6" stroke="#74b2e6" stroke-width="0.6" stroke-linejoin="round"/><polygon points="254.0,229.5 254.0,213.0 262.7,220.8 270.5,229.5" fill="#6aaae2" stroke="#6aaae2" stroke-width="0.6" stroke-linejoin="round"/><polygon points="254.0,229.5 237.5,229.5 245.3,238.2 254.0,246.0" fill="#62a3dd" stroke="#62a3dd" stroke-width="0.6" stroke-linejoin="round"/><polygon points="254.0,229.5 254.0,246.0 262.7,238.2 270.5,229.5" fill="#5b9dd8" stroke="#5b9dd8" stroke-width="0.6" stroke-linejoin="round"/><line x1="237.5" y1="229.5" x2="270.5" y2="229.5" stroke="#2a6aa3" stroke-width="0.8" opacity="0.5"/></g>
</g>
<g transform="rotate(10 191.0 261.0)">
<g opacity="1.0"><polygon points="191.0,261.0 174.5,261.0 182.3,252.3 191.0,244.5" fill="#74b2e6" stroke="#74b2e6" stroke-width="0.6" stroke-linejoin="round"/><polygon points="191.0,261.0 191.0,244.5 199.7,252.3 207.5,261.0" fill="#6aaae2" stroke="#6aaae2" stroke-width="0.6" stroke-linejoin="round"/><polygon points="191.0,261.0 174.5,261.0 182.3,269.7 191.0,277.5" fill="#62a3dd" stroke="#62a3dd" stroke-width="0.6" stroke-linejoin="round"/><polygon points="191.0,261.0 191.0,277.5 199.7,269.7 207.5,261.0" fill="#5b9dd8" stroke="#5b9dd8" stroke-width="0.6" stroke-linejoin="round"/><line x1="174.5" y1="261.0" x2="207.5" y2="261.0" stroke="#2a6aa3" stroke-width="0.8" opacity="0.5"/></g>
</g>
<g transform="rotate(-10 222.5 261.0)">
<g opacity="1.0"><polygon points="222.5,261.0 206.0,261.0 213.8,252.3 222.5,244.5" fill="#74b2e6" stroke="#74b2e6" stroke-width="0.6" stroke-linejoin="round"/><polygon points="222.5,261.0 222.5,244.5 231.2,252.3 239.0,261.0" fill="#6aaae2" stroke="#6aaae2" stroke-width="0.6" stroke-linejoin="round"/><polygon points="222.5,261.0 206.0,261.0 213.8,269.7 222.5,277.5" fill="#62a3dd" stroke="#62a3dd" stroke-width="0.6" stroke-linejoin="round"/><polygon points="222.5,261.0 222.5,277.5 231.2,269.7 239.0,261.0" fill="#5b9dd8" stroke="#5b9dd8" stroke-width="0.6" stroke-linejoin="round"/><line x1="206.0" y1="261.0" x2="239.0" y2="261.0" stroke="#2a6aa3" stroke-width="0.8" opacity="0.5"/></g>
</g>
<g transform="rotate(10 254.0 261.0)">
<g opacity="1.0"><polygon points="254.0,261.0 237.5,261.0 245.3,252.3 254.0,244.5" fill="#74b2e6" stroke="#74b2e6" stroke-width="0.6" stroke-linejoin="round"/><polygon points="254.0,261.0 254.0,244.5 262.7,252.3 270.5,261.0" fill="#6aaae2" stroke="#6aaae2" stroke-width="0.6" stroke-linejoin="round"/><polygon points="254.0,261.0 237.5,261.0 245.3,269.7 254.0,277.5" fill="#62a3dd" stroke="#62a3dd" stroke-width="0.6" stroke-linejoin="round"/><polygon points="254.0,261.0 254.0,277.5 262.7,269.7 270.5,261.0" fill="#5b9dd8" stroke="#5b9dd8" stroke-width="0.6" stroke-linejoin="round"/><line x1="237.5" y1="261.0" x2="270.5" y2="261.0" stroke="#2a6aa3" stroke-width="0.8" opacity="0.5"/></g>
</g>
<circle cx="191.0" cy="198.0" r="1.8" fill="#3a5566" opacity="0.8"/>
<circle cx="222.5" cy="198.0" r="1.8" fill="#3a5566" opacity="0.8"/>
<circle cx="254.0" cy="198.0" r="1.8" fill="#3a5566" opacity="0.8"/>
<circle cx="191.0" cy="229.5" r="1.8" fill="#3a5566" opacity="0.8"/>
<circle cx="222.5" cy="229.5" r="1.8" fill="#3a5566" opacity="0.8"/>
<circle cx="254.0" cy="229.5" r="1.8" fill="#3a5566" opacity="0.8"/>
<circle cx="191.0" cy="261.0" r="1.8" fill="#3a5566" opacity="0.8"/>
<circle cx="222.5" cy="261.0" r="1.8" fill="#3a5566" opacity="0.8"/>
<circle cx="254.0" cy="261.0" r="1.8" fill="#3a5566" opacity="0.8"/>
<circle cx="191.0" cy="182.2" r="1.7" fill="#3a5566" opacity="0.85"/>
<circle cx="175.2" cy="198.0" r="1.7" fill="#3a5566" opacity="0.85"/>
<circle cx="222.5" cy="182.2" r="1.7" fill="#3a5566" opacity="0.85"/>
<circle cx="175.2" cy="229.5" r="1.7" fill="#3a5566" opacity="0.85"/>
<circle cx="254.0" cy="182.2" r="1.7" fill="#3a5566" opacity="0.85"/>
<circle cx="175.2" cy="261.0" r="1.7" fill="#3a5566" opacity="0.85"/>
<circle cx="191.0" cy="213.8" r="1.7" fill="#3a5566" opacity="0.85"/>
<circle cx="206.8" cy="198.0" r="1.7" fill="#3a5566" opacity="0.85"/>
<circle cx="222.5" cy="213.8" r="1.7" fill="#3a5566" opacity="0.85"/>
<circle cx="206.8" cy="229.5" r="1.7" fill="#3a5566" opacity="0.85"/>
<circle cx="254.0" cy="213.8" r="1.7" fill="#3a5566" opacity="0.85"/>
<circle cx="206.8" cy="261.0" r="1.7" fill="#3a5566" opacity="0.85"/>
<circle cx="191.0" cy="245.2" r="1.7" fill="#3a5566" opacity="0.85"/>
<circle cx="238.2" cy="198.0" r="1.7" fill="#3a5566" opacity="0.85"/>
<circle cx="222.5" cy="245.2" r="1.7" fill="#3a5566" opacity="0.85"/>
<circle cx="238.2" cy="229.5" r="1.7" fill="#3a5566" opacity="0.85"/>
<circle cx="254.0" cy="245.2" r="1.7" fill="#3a5566" opacity="0.85"/>
<circle cx="238.2" cy="261.0" r="1.7" fill="#3a5566" opacity="0.85"/>
<circle cx="191.0" cy="276.8" r="1.7" fill="#3a5566" opacity="0.85"/>
<circle cx="269.8" cy="198.0" r="1.7" fill="#3a5566" opacity="0.85"/>
<circle cx="222.5" cy="276.8" r="1.7" fill="#3a5566" opacity="0.85"/>
<circle cx="269.8" cy="229.5" r="1.7" fill="#3a5566" opacity="0.85"/>
<circle cx="254.0" cy="276.8" r="1.7" fill="#3a5566" opacity="0.85"/>
<circle cx="269.8" cy="261.0" r="1.7" fill="#3a5566" opacity="0.85"/>
<ellipse cx="176.0" cy="183.5" rx="5.2" ry="6.2" fill="#d4552f" transform="rotate(-25 176.0 183.5)"/>
<circle cx="177.5" cy="182.3" r="2.2" fill="#c2401f" opacity="0.7"/>
<ellipse cx="208.0" cy="183.5" rx="5.2" ry="6.2" fill="#d4552f" transform="rotate(25 208.0 183.5)"/>
<circle cx="209.5" cy="182.3" r="2.2" fill="#c2401f" opacity="0.7"/>
<ellipse cx="239.0" cy="183.5" rx="5.2" ry="6.2" fill="#d4552f" transform="rotate(-25 239.0 183.5)"/>
<circle cx="240.5" cy="182.3" r="2.2" fill="#c2401f" opacity="0.7"/>
<ellipse cx="271.0" cy="183.5" rx="5.2" ry="6.2" fill="#d4552f" transform="rotate(25 271.0 183.5)"/>
<circle cx="272.5" cy="182.3" r="2.2" fill="#c2401f" opacity="0.7"/>
<ellipse cx="176.0" cy="215.5" rx="5.2" ry="6.2" fill="#d4552f" transform="rotate(25 176.0 215.5)"/>
<circle cx="177.5" cy="214.3" r="2.2" fill="#c2401f" opacity="0.7"/>
<ellipse cx="208.0" cy="215.5" rx="5.2" ry="6.2" fill="#d4552f" transform="rotate(-25 208.0 215.5)"/>
<circle cx="209.5" cy="214.3" r="2.2" fill="#c2401f" opacity="0.7"/>
<ellipse cx="239.0" cy="215.5" rx="5.2" ry="6.2" fill="#d4552f" transform="rotate(25 239.0 215.5)"/>
<circle cx="240.5" cy="214.3" r="2.2" fill="#c2401f" opacity="0.7"/>
<ellipse cx="271.0" cy="215.5" rx="5.2" ry="6.2" fill="#d4552f" transform="rotate(-25 271.0 215.5)"/>
<circle cx="272.5" cy="214.3" r="2.2" fill="#c2401f" opacity="0.7"/>
<ellipse cx="176.0" cy="246.5" rx="5.2" ry="6.2" fill="#d4552f" transform="rotate(-25 176.0 246.5)"/>
<circle cx="177.5" cy="245.3" r="2.2" fill="#c2401f" opacity="0.7"/>
<ellipse cx="208.0" cy="246.5" rx="5.2" ry="6.2" fill="#d4552f" transform="rotate(25 208.0 246.5)"/>
<circle cx="209.5" cy="245.3" r="2.2" fill="#c2401f" opacity="0.7"/>
<ellipse cx="239.0" cy="246.5" rx="5.2" ry="6.2" fill="#d4552f" transform="rotate(-25 239.0 246.5)"/>
<circle cx="240.5" cy="245.3" r="2.2" fill="#c2401f" opacity="0.7"/>
<ellipse cx="271.0" cy="246.5" rx="5.2" ry="6.2" fill="#d4552f" transform="rotate(25 271.0 246.5)"/>
<circle cx="272.5" cy="245.3" r="2.2" fill="#c2401f" opacity="0.7"/>
<ellipse cx="176.0" cy="278.5" rx="5.2" ry="6.2" fill="#d4552f" transform="rotate(25 176.0 278.5)"/>
<circle cx="177.5" cy="277.3" r="2.2" fill="#c2401f" opacity="0.7"/>
<ellipse cx="208.0" cy="278.5" rx="5.2" ry="6.2" fill="#d4552f" transform="rotate(-25 208.0 278.5)"/>
<circle cx="209.5" cy="277.3" r="2.2" fill="#c2401f" opacity="0.7"/>
<ellipse cx="239.0" cy="278.5" rx="5.2" ry="6.2" fill="#d4552f" transform="rotate(25 239.0 278.5)"/>
<circle cx="240.5" cy="277.3" r="2.2" fill="#c2401f" opacity="0.7"/>
<ellipse cx="271.0" cy="278.5" rx="5.2" ry="6.2" fill="#d4552f" transform="rotate(-25 271.0 278.5)"/>
<circle cx="272.5" cy="277.3" r="2.2" fill="#c2401f" opacity="0.7"/>
<circle cx="224.0" cy="231.5" r="56" fill="none" stroke="#e8c65c" stroke-width="1.8"/>
<g opacity="1.0"><polygon points="689.0,330.0 665.7,330.0 676.2,316.0 689.0,304.6" fill="#58abe4" stroke="#58abe4" stroke-width="0.6" stroke-linejoin="round"/><polygon points="689.0,330.0 689.0,304.6 701.8,316.0 712.3,330.0" fill="#4ca1dd" stroke="#4ca1dd" stroke-width="0.6" stroke-linejoin="round"/><polygon points="689.0,330.0 665.7,330.0 676.2,344.0 689.0,355.4" fill="#4499d7" stroke="#4499d7" stroke-width="0.6" stroke-linejoin="round"/><polygon points="689.0,330.0 689.0,355.4 701.8,344.0 712.3,330.0" fill="#3c90cf" stroke="#3c90cf" stroke-width="0.6" stroke-linejoin="round"/><line x1="665.7" y1="330.0" x2="712.3" y2="330.0" stroke="#2a6aa3" stroke-width="0.8" opacity="0.5"/></g>
<g opacity="1.0"><polygon points="734.0,330.0 710.7,330.0 721.2,316.0 734.0,304.6" fill="#58abe4" stroke="#58abe4" stroke-width="0.6" stroke-linejoin="round"/><polygon points="734.0,330.0 734.0,304.6 746.8,316.0 757.3,330.0" fill="#4ca1dd" stroke="#4ca1dd" stroke-width="0.6" stroke-linejoin="round"/><polygon points="734.0,330.0 710.7,330.0 721.2,344.0 734.0,355.4" fill="#4499d7" stroke="#4499d7" stroke-width="0.6" stroke-linejoin="round"/><polygon points="734.0,330.0 734.0,355.4 746.8,344.0 757.3,330.0" fill="#3c90cf" stroke="#3c90cf" stroke-width="0.6" stroke-linejoin="round"/><line x1="710.7" y1="330.0" x2="757.3" y2="330.0" stroke="#2a6aa3" stroke-width="0.8" opacity="0.5"/></g>
<g opacity="1.0"><polygon points="772.0,330.0 754.0,330.0 762.1,316.0 772.0,304.6" fill="#58abe4" stroke="#58abe4" stroke-width="0.6" stroke-linejoin="round"/><polygon points="772.0,330.0 772.0,304.6 781.9,316.0 790.0,330.0" fill="#4ca1dd" stroke="#4ca1dd" stroke-width="0.6" stroke-linejoin="round"/><polygon points="772.0,330.0 754.0,330.0 762.1,344.0 772.0,355.4" fill="#4499d7" stroke="#4499d7" stroke-width="0.6" stroke-linejoin="round"/><polygon points="772.0,330.0 772.0,355.4 781.9,344.0 790.0,330.0" fill="#3c90cf" stroke="#3c90cf" stroke-width="0.6" stroke-linejoin="round"/><line x1="754.0" y1="330.0" x2="790.0" y2="330.0" stroke="#2a6aa3" stroke-width="0.8" opacity="0.5"/></g>
<g opacity="1.0"><polygon points="816.0,330.0 792.7,330.0 803.2,316.0 816.0,304.6" fill="#58abe4" stroke="#58abe4" stroke-width="0.6" stroke-linejoin="round"/><polygon points="816.0,330.0 816.0,304.6 828.8,316.0 839.3,330.0" fill="#4ca1dd" stroke="#4ca1dd" stroke-width="0.6" stroke-linejoin="round"/><polygon points="816.0,330.0 792.7,330.0 803.2,344.0 816.0,355.4" fill="#4499d7" stroke="#4499d7" stroke-width="0.6" stroke-linejoin="round"/><polygon points="816.0,330.0 816.0,355.4 828.8,344.0 839.3,330.0" fill="#3c90cf" stroke="#3c90cf" stroke-width="0.6" stroke-linejoin="round"/><line x1="792.7" y1="330.0" x2="839.3" y2="330.0" stroke="#2a6aa3" stroke-width="0.8" opacity="0.5"/></g>
<g opacity="1.0"><polygon points="689.0,380.0 664.6,380.0 675.6,366.0 689.0,354.6" fill="#58abe4" stroke="#58abe4" stroke-width="0.6" stroke-linejoin="round"/><polygon points="689.0,380.0 689.0,354.6 702.4,366.0 713.4,380.0" fill="#4ca1dd" stroke="#4ca1dd" stroke-width="0.6" stroke-linejoin="round"/><polygon points="689.0,380.0 664.6,380.0 675.6,394.0 689.0,405.4" fill="#4499d7" stroke="#4499d7" stroke-width="0.6" stroke-linejoin="round"/><polygon points="689.0,380.0 689.0,405.4 702.4,394.0 713.4,380.0" fill="#3c90cf" stroke="#3c90cf" stroke-width="0.6" stroke-linejoin="round"/><line x1="664.6" y1="380.0" x2="713.4" y2="380.0" stroke="#2a6aa3" stroke-width="0.8" opacity="0.5"/></g>
<g opacity="1.0"><polygon points="734.0,380.0 709.6,380.0 720.6,366.0 734.0,354.6" fill="#58abe4" stroke="#58abe4" stroke-width="0.6" stroke-linejoin="round"/><polygon points="734.0,380.0 734.0,354.6 747.4,366.0 758.4,380.0" fill="#4ca1dd" stroke="#4ca1dd" stroke-width="0.6" stroke-linejoin="round"/><polygon points="734.0,380.0 709.6,380.0 720.6,394.0 734.0,405.4" fill="#4499d7" stroke="#4499d7" stroke-width="0.6" stroke-linejoin="round"/><polygon points="734.0,380.0 734.0,405.4 747.4,394.0 758.4,380.0" fill="#3c90cf" stroke="#3c90cf" stroke-width="0.6" stroke-linejoin="round"/><line x1="709.6" y1="380.0" x2="758.4" y2="380.0" stroke="#2a6aa3" stroke-width="0.8" opacity="0.5"/></g>
<g opacity="1.0"><polygon points="777.0,380.0 752.6,380.0 763.6,366.0 777.0,354.6" fill="#58abe4" stroke="#58abe4" stroke-width="0.6" stroke-linejoin="round"/><polygon points="777.0,380.0 777.0,354.6 790.4,366.0 801.4,380.0" fill="#4ca1dd" stroke="#4ca1dd" stroke-width="0.6" stroke-linejoin="round"/><polygon points="777.0,380.0 752.6,380.0 763.6,394.0 777.0,405.4" fill="#4499d7" stroke="#4499d7" stroke-width="0.6" stroke-linejoin="round"/><polygon points="777.0,380.0 777.0,405.4 790.4,394.0 801.4,380.0" fill="#3c90cf" stroke="#3c90cf" stroke-width="0.6" stroke-linejoin="round"/><line x1="752.6" y1="380.0" x2="801.4" y2="380.0" stroke="#2a6aa3" stroke-width="0.8" opacity="0.5"/></g>
<g opacity="1.0"><polygon points="821.0,380.0 796.6,380.0 807.6,366.0 821.0,354.6" fill="#58abe4" stroke="#58abe4" stroke-width="0.6" stroke-linejoin="round"/><polygon points="821.0,380.0 821.0,354.6 834.4,366.0 845.4,380.0" fill="#4ca1dd" stroke="#4ca1dd" stroke-width="0.6" stroke-linejoin="round"/><polygon points="821.0,380.0 796.6,380.0 807.6,394.0 821.0,405.4" fill="#4499d7" stroke="#4499d7" stroke-width="0.6" stroke-linejoin="round"/><polygon points="821.0,380.0 821.0,405.4 834.4,394.0 845.4,380.0" fill="#3c90cf" stroke="#3c90cf" stroke-width="0.6" stroke-linejoin="round"/><line x1="796.6" y1="380.0" x2="845.4" y2="380.0" stroke="#2a6aa3" stroke-width="0.8" opacity="0.5"/></g>
<g opacity="1.0"><polygon points="685.0,429.0 659.6,429.0 671.0,415.0 685.0,403.6" fill="#58abe4" stroke="#58abe4" stroke-width="0.6" stroke-linejoin="round"/><polygon points="685.0,429.0 685.0,403.6 699.0,415.0 710.4,429.0" fill="#4ca1dd" stroke="#4ca1dd" stroke-width="0.6" stroke-linejoin="round"/><polygon points="685.0,429.0 659.6,429.0 671.0,443.0 685.0,454.4" fill="#4499d7" stroke="#4499d7" stroke-width="0.6" stroke-linejoin="round"/><polygon points="685.0,429.0 685.0,454.4 699.0,443.0 710.4,429.0" fill="#3c90cf" stroke="#3c90cf" stroke-width="0.6" stroke-linejoin="round"/><line x1="659.6" y1="429.0" x2="710.4" y2="429.0" stroke="#2a6aa3" stroke-width="0.8" opacity="0.5"/></g>
<g opacity="1.0"><polygon points="732.0,429.0 706.6,429.0 718.0,415.0 732.0,403.6" fill="#58abe4" stroke="#58abe4" stroke-width="0.6" stroke-linejoin="round"/><polygon points="732.0,429.0 732.0,403.6 746.0,415.0 757.4,429.0" fill="#4ca1dd" stroke="#4ca1dd" stroke-width="0.6" stroke-linejoin="round"/><polygon points="732.0,429.0 706.6,429.0 718.0,443.0 732.0,454.4" fill="#4499d7" stroke="#4499d7" stroke-width="0.6" stroke-linejoin="round"/><polygon points="732.0,429.0 732.0,454.4 746.0,443.0 757.4,429.0" fill="#3c90cf" stroke="#3c90cf" stroke-width="0.6" stroke-linejoin="round"/><line x1="706.6" y1="429.0" x2="757.4" y2="429.0" stroke="#2a6aa3" stroke-width="0.8" opacity="0.5"/></g>
<g opacity="1.0"><polygon points="779.0,429.0 753.6,429.0 765.0,415.0 779.0,403.6" fill="#58abe4" stroke="#58abe4" stroke-width="0.6" stroke-linejoin="round"/><polygon points="779.0,429.0 779.0,403.6 793.0,415.0 804.4,429.0" fill="#4ca1dd" stroke="#4ca1dd" stroke-width="0.6" stroke-linejoin="round"/><polygon points="779.0,429.0 753.6,429.0 765.0,443.0 779.0,454.4" fill="#4499d7" stroke="#4499d7" stroke-width="0.6" stroke-linejoin="round"/><polygon points="779.0,429.0 779.0,454.4 793.0,443.0 804.4,429.0" fill="#3c90cf" stroke="#3c90cf" stroke-width="0.6" stroke-linejoin="round"/><line x1="753.6" y1="429.0" x2="804.4" y2="429.0" stroke="#2a6aa3" stroke-width="0.8" opacity="0.5"/></g>
<g opacity="1.0"><polygon points="825.0,429.0 799.6,429.0 811.0,415.0 825.0,403.6" fill="#58abe4" stroke="#58abe4" stroke-width="0.6" stroke-linejoin="round"/><polygon points="825.0,429.0 825.0,403.6 839.0,415.0 850.4,429.0" fill="#4ca1dd" stroke="#4ca1dd" stroke-width="0.6" stroke-linejoin="round"/><polygon points="825.0,429.0 799.6,429.0 811.0,443.0 825.0,454.4" fill="#4499d7" stroke="#4499d7" stroke-width="0.6" stroke-linejoin="round"/><polygon points="825.0,429.0 825.0,454.4 839.0,443.0 850.4,429.0" fill="#3c90cf" stroke="#3c90cf" stroke-width="0.6" stroke-linejoin="round"/><line x1="799.6" y1="429.0" x2="850.4" y2="429.0" stroke="#2a6aa3" stroke-width="0.8" opacity="0.5"/></g>
<g opacity="1.0"><polygon points="684.0,476.0 657.5,476.0 669.4,462.0 684.0,450.6" fill="#58abe4" stroke="#58abe4" stroke-width="0.6" stroke-linejoin="round"/><polygon points="684.0,476.0 684.0,450.6 698.6,462.0 710.5,476.0" fill="#4ca1dd" stroke="#4ca1dd" stroke-width="0.6" stroke-linejoin="round"/><polygon points="684.0,476.0 657.5,476.0 669.4,490.0 684.0,501.4" fill="#4499d7" stroke="#4499d7" stroke-width="0.6" stroke-linejoin="round"/><polygon points="684.0,476.0 684.0,501.4 698.6,490.0 710.5,476.0" fill="#3c90cf" stroke="#3c90cf" stroke-width="0.6" stroke-linejoin="round"/><line x1="657.5" y1="476.0" x2="710.5" y2="476.0" stroke="#2a6aa3" stroke-width="0.8" opacity="0.5"/></g>
<g opacity="1.0"><polygon points="731.0,476.0 704.5,476.0 716.4,462.0 731.0,450.6" fill="#58abe4" stroke="#58abe4" stroke-width="0.6" stroke-linejoin="round"/><polygon points="731.0,476.0 731.0,450.6 745.6,462.0 757.5,476.0" fill="#4ca1dd" stroke="#4ca1dd" stroke-width="0.6" stroke-linejoin="round"/><polygon points="731.0,476.0 704.5,476.0 716.4,490.0 731.0,501.4" fill="#4499d7" stroke="#4499d7" stroke-width="0.6" stroke-linejoin="round"/><polygon points="731.0,476.0 731.0,501.4 745.6,490.0 757.5,476.0" fill="#3c90cf" stroke="#3c90cf" stroke-width="0.6" stroke-linejoin="round"/><line x1="704.5" y1="476.0" x2="757.5" y2="476.0" stroke="#2a6aa3" stroke-width="0.8" opacity="0.5"/></g>
<g opacity="1.0"><polygon points="780.0,476.0 753.5,476.0 765.4,462.0 780.0,450.6" fill="#58abe4" stroke="#58abe4" stroke-width="0.6" stroke-linejoin="round"/><polygon points="780.0,476.0 780.0,450.6 794.6,462.0 806.5,476.0" fill="#4ca1dd" stroke="#4ca1dd" stroke-width="0.6" stroke-linejoin="round"/><polygon points="780.0,476.0 753.5,476.0 765.4,490.0 780.0,501.4" fill="#4499d7" stroke="#4499d7" stroke-width="0.6" stroke-linejoin="round"/><polygon points="780.0,476.0 780.0,501.4 794.6,490.0 806.5,476.0" fill="#3c90cf" stroke="#3c90cf" stroke-width="0.6" stroke-linejoin="round"/><line x1="753.5" y1="476.0" x2="806.5" y2="476.0" stroke="#2a6aa3" stroke-width="0.8" opacity="0.5"/></g>
<g opacity="1.0"><polygon points="830.0,476.0 803.5,476.0 815.4,462.0 830.0,450.6" fill="#58abe4" stroke="#58abe4" stroke-width="0.6" stroke-linejoin="round"/><polygon points="830.0,476.0 830.0,450.6 844.6,462.0 856.5,476.0" fill="#4ca1dd" stroke="#4ca1dd" stroke-width="0.6" stroke-linejoin="round"/><polygon points="830.0,476.0 803.5,476.0 815.4,490.0 830.0,501.4" fill="#4499d7" stroke="#4499d7" stroke-width="0.6" stroke-linejoin="round"/><polygon points="830.0,476.0 830.0,501.4 844.6,490.0 856.5,476.0" fill="#3c90cf" stroke="#3c90cf" stroke-width="0.6" stroke-linejoin="round"/><line x1="803.5" y1="476.0" x2="856.5" y2="476.0" stroke="#2a6aa3" stroke-width="0.8" opacity="0.5"/></g>
<circle cx="667.0" cy="330.0" r="2.5" fill="#474f59" opacity="1.0"/>
<circle cx="711.5" cy="330.0" r="2.5" fill="#474f59" opacity="1.0"/>
<circle cx="689.0" cy="306.0" r="2.5" fill="#474f59" opacity="1.0"/>
<circle cx="689.0" cy="355.0" r="2.5" fill="#474f59" opacity="1.0"/>
<circle cx="755.5" cy="330.0" r="2.5" fill="#474f59" opacity="1.0"/>
<circle cx="734.0" cy="306.0" r="2.5" fill="#474f59" opacity="1.0"/>
<circle cx="734.0" cy="355.0" r="2.5" fill="#474f59" opacity="1.0"/>
<circle cx="791.5" cy="330.0" r="2.5" fill="#474f59" opacity="1.0"/>
<circle cx="772.0" cy="306.0" r="2.5" fill="#474f59" opacity="1.0"/>
<circle cx="774.5" cy="355.0" r="2.5" fill="#474f59" opacity="1.0"/>
<circle cx="838.0" cy="330.0" r="2.5" fill="#474f59" opacity="1.0"/>
<circle cx="816.0" cy="306.0" r="2.5" fill="#474f59" opacity="1.0"/>
<circle cx="818.5" cy="355.0" r="2.5" fill="#474f59" opacity="1.0"/>
<circle cx="666.0" cy="380.0" r="2.5" fill="#474f59" opacity="1.0"/>
<circle cx="711.5" cy="380.0" r="2.5" fill="#474f59" opacity="1.0"/>
<circle cx="687.0" cy="404.5" r="2.5" fill="#474f59" opacity="1.0"/>
<circle cx="755.5" cy="380.0" r="2.5" fill="#474f59" opacity="1.0"/>
<circle cx="733.0" cy="404.5" r="2.5" fill="#474f59" opacity="1.0"/>
<circle cx="799.0" cy="380.0" r="2.5" fill="#474f59" opacity="1.0"/>
<circle cx="778.0" cy="404.5" r="2.5" fill="#474f59" opacity="1.0"/>
<circle cx="844.0" cy="380.0" r="2.5" fill="#474f59" opacity="1.0"/>
<circle cx="823.0" cy="404.5" r="2.5" fill="#474f59" opacity="1.0"/>
<circle cx="661.0" cy="429.0" r="2.5" fill="#474f59" opacity="1.0"/>
<circle cx="708.5" cy="429.0" r="2.5" fill="#474f59" opacity="1.0"/>
<circle cx="684.5" cy="452.5" r="2.5" fill="#474f59" opacity="1.0"/>
<circle cx="755.5" cy="429.0" r="2.5" fill="#474f59" opacity="1.0"/>
<circle cx="731.5" cy="452.5" r="2.5" fill="#474f59" opacity="1.0"/>
<circle cx="802.0" cy="429.0" r="2.5" fill="#474f59" opacity="1.0"/>
<circle cx="779.5" cy="452.5" r="2.5" fill="#474f59" opacity="1.0"/>
<circle cx="849.0" cy="429.0" r="2.5" fill="#474f59" opacity="1.0"/>
<circle cx="827.5" cy="452.5" r="2.5" fill="#474f59" opacity="1.0"/>
<circle cx="659.0" cy="476.0" r="2.5" fill="#474f59" opacity="1.0"/>
<circle cx="707.5" cy="476.0" r="2.5" fill="#474f59" opacity="1.0"/>
<circle cx="684.0" cy="500.0" r="2.5" fill="#474f59" opacity="1.0"/>
<circle cx="755.5" cy="476.0" r="2.5" fill="#474f59" opacity="1.0"/>
<circle cx="731.0" cy="500.0" r="2.5" fill="#474f59" opacity="1.0"/>
<circle cx="805.0" cy="476.0" r="2.5" fill="#474f59" opacity="1.0"/>
<circle cx="780.0" cy="500.0" r="2.5" fill="#474f59" opacity="1.0"/>
<circle cx="855.0" cy="476.0" r="2.5" fill="#474f59" opacity="1.0"/>
<circle cx="830.0" cy="500.0" r="2.5" fill="#474f59" opacity="1.0"/>
<circle cx="689.0" cy="330.0" r="2.4" fill="#3e4a58" opacity="0.6"/>
<circle cx="734.0" cy="330.0" r="2.4" fill="#3e4a58" opacity="0.6"/>
<circle cx="772.0" cy="330.0" r="2.4" fill="#3e4a58" opacity="0.6"/>
<circle cx="816.0" cy="330.0" r="2.4" fill="#3e4a58" opacity="0.6"/>
<circle cx="689.0" cy="380.0" r="2.4" fill="#3e4a58" opacity="0.6"/>
<circle cx="734.0" cy="380.0" r="2.4" fill="#3e4a58" opacity="0.6"/>
<circle cx="777.0" cy="380.0" r="2.4" fill="#3e4a58" opacity="0.6"/>
<circle cx="821.0" cy="380.0" r="2.4" fill="#3e4a58" opacity="0.6"/>
<circle cx="685.0" cy="429.0" r="2.4" fill="#3e4a58" opacity="0.6"/>
<circle cx="732.0" cy="429.0" r="2.4" fill="#3e4a58" opacity="0.6"/>
<circle cx="779.0" cy="429.0" r="2.4" fill="#3e4a58" opacity="0.6"/>
<circle cx="825.0" cy="429.0" r="2.4" fill="#3e4a58" opacity="0.6"/>
<circle cx="684.0" cy="476.0" r="2.4" fill="#3e4a58" opacity="0.6"/>
<circle cx="731.0" cy="476.0" r="2.4" fill="#3e4a58" opacity="0.6"/>
<circle cx="780.0" cy="476.0" r="2.4" fill="#3e4a58" opacity="0.6"/>
<circle cx="830.0" cy="476.0" r="2.4" fill="#3e4a58" opacity="0.6"/>
<polygon points="645,500 864,500 864,517 652,518 645,513" fill="#9a9a9b"/>
<polygon points="645,500 864,500 864,507.6 645,507.6" fill="#868687"/>
<g opacity="1.0"><line x1="660.0" y1="298.0" x2="647.0" y2="298.5" stroke="#6a6a6a" stroke-width="1.3" stroke-linecap="round"/><line x1="660.0" y1="298.0" x2="647.3" y2="295.3" stroke="#6a6a6a" stroke-width="1.3" stroke-linecap="round"/><circle cx="660.0" cy="298.0" r="3.8" fill="#5a5a5c"/></g>
<g opacity="1.0"><line x1="757.0" y1="297.0" x2="743.1" y2="298.9" stroke="#6a6a6a" stroke-width="1.3" stroke-linecap="round"/><line x1="757.0" y1="297.0" x2="743.0" y2="296.0" stroke="#6a6a6a" stroke-width="1.3" stroke-linecap="round"/><line x1="757.0" y1="297.0" x2="743.5" y2="293.1" stroke="#6a6a6a" stroke-width="1.3" stroke-linecap="round"/><line x1="757.0" y1="297.0" x2="744.6" y2="290.4" stroke="#6a6a6a" stroke-width="1.3" stroke-linecap="round"/><circle cx="757.0" cy="297.0" r="3.8" fill="#5a5a5c"/></g>
<g opacity="1.0"><line x1="788.0" y1="311.0" x2="774.0" y2="311.7" stroke="#6a6a6a" stroke-width="1.3" stroke-linecap="round"/><line x1="788.0" y1="311.0" x2="774.2" y2="308.8" stroke="#6a6a6a" stroke-width="1.3" stroke-linecap="round"/><line x1="788.0" y1="311.0" x2="774.9" y2="306.0" stroke="#6a6a6a" stroke-width="1.3" stroke-linecap="round"/><line x1="788.0" y1="311.0" x2="776.3" y2="303.4" stroke="#6a6a6a" stroke-width="1.3" stroke-linecap="round"/><circle cx="788.0" cy="311.0" r="3.8" fill="#5a5a5c"/></g>
<circle cx="795" cy="307" r="7.3" fill="#fff3a0" opacity="0.55"/><circle cx="795" cy="307" r="4.3" fill="#f7c400"/>
<g opacity="1.0"><line x1="836.0" y1="294.0" x2="823.0" y2="294.5" stroke="#6a6a6a" stroke-width="1.3" stroke-linecap="round"/><line x1="836.0" y1="294.0" x2="823.3" y2="291.3" stroke="#6a6a6a" stroke-width="1.3" stroke-linecap="round"/><circle cx="836.0" cy="294.0" r="3.8" fill="#5a5a5c"/></g>
<circle cx="689" cy="303" r="3" fill="#ffffff" stroke="#8a8a8a" stroke-width="1"/>
<circle cx="813" cy="302" r="3" fill="#ffffff" stroke="#8a8a8a" stroke-width="1"/>
<g opacity="1.0"><polygon points="1225.0,328.0 1199.0,328.0 1210.7,313.7 1225.0,302.0" fill="#58abe4" stroke="#58abe4" stroke-width="0.6" stroke-linejoin="round"/><polygon points="1225.0,328.0 1225.0,302.0 1239.3,313.7 1251.0,328.0" fill="#4ca1dd" stroke="#4ca1dd" stroke-width="0.6" stroke-linejoin="round"/><polygon points="1225.0,328.0 1199.0,328.0 1210.7,342.3 1225.0,354.0" fill="#4499d7" stroke="#4499d7" stroke-width="0.6" stroke-linejoin="round"/><polygon points="1225.0,328.0 1225.0,354.0 1239.3,342.3 1251.0,328.0" fill="#3c90cf" stroke="#3c90cf" stroke-width="0.6" stroke-linejoin="round"/><line x1="1199.0" y1="328.0" x2="1251.0" y2="328.0" stroke="#2a6aa3" stroke-width="0.8" opacity="0.5"/></g>
<g opacity="1.0"><polygon points="1275.0,328.0 1249.0,328.0 1260.7,313.7 1275.0,302.0" fill="#58abe4" stroke="#58abe4" stroke-width="0.6" stroke-linejoin="round"/><polygon points="1275.0,328.0 1275.0,302.0 1289.3,313.7 1301.0,328.0" fill="#4ca1dd" stroke="#4ca1dd" stroke-width="0.6" stroke-linejoin="round"/><polygon points="1275.0,328.0 1249.0,328.0 1260.7,342.3 1275.0,354.0" fill="#4499d7" stroke="#4499d7" stroke-width="0.6" stroke-linejoin="round"/><polygon points="1275.0,328.0 1275.0,354.0 1289.3,342.3 1301.0,328.0" fill="#3c90cf" stroke="#3c90cf" stroke-width="0.6" stroke-linejoin="round"/><line x1="1249.0" y1="328.0" x2="1301.0" y2="328.0" stroke="#2a6aa3" stroke-width="0.8" opacity="0.5"/></g>
<g opacity="1.0"><polygon points="1323.0,328.0 1297.0,328.0 1308.7,342.3 1323.0,354.0" fill="#4499d7" stroke="#4499d7" stroke-width="0.6" stroke-linejoin="round"/><polygon points="1323.0,328.0 1323.0,354.0 1337.3,342.3 1349.0,328.0" fill="#3c90cf" stroke="#3c90cf" stroke-width="0.6" stroke-linejoin="round"/><line x1="1297.0" y1="328.0" x2="1349.0" y2="328.0" stroke="#2a6aa3" stroke-width="0.8" opacity="0.5"/></g>
<g opacity="1.0"><polygon points="1372.0,328.0 1346.0,328.0 1357.7,313.7 1372.0,302.0" fill="#58abe4" stroke="#58abe4" stroke-width="0.6" stroke-linejoin="round"/><polygon points="1372.0,328.0 1372.0,302.0 1386.3,313.7 1398.0,328.0" fill="#4ca1dd" stroke="#4ca1dd" stroke-width="0.6" stroke-linejoin="round"/><polygon points="1372.0,328.0 1346.0,328.0 1357.7,342.3 1372.0,354.0" fill="#4499d7" stroke="#4499d7" stroke-width="0.6" stroke-linejoin="round"/><polygon points="1372.0,328.0 1372.0,354.0 1386.3,342.3 1398.0,328.0" fill="#3c90cf" stroke="#3c90cf" stroke-width="0.6" stroke-linejoin="round"/><line x1="1346.0" y1="328.0" x2="1398.0" y2="328.0" stroke="#2a6aa3" stroke-width="0.8" opacity="0.5"/></g>
<g opacity="1.0"><polygon points="1275.0,377.0 1249.0,377.0 1260.7,362.7 1275.0,351.0" fill="#58abe4" stroke="#58abe4" stroke-width="0.6" stroke-linejoin="round"/><polygon points="1275.0,377.0 1275.0,351.0 1289.3,362.7 1301.0,377.0" fill="#4ca1dd" stroke="#4ca1dd" stroke-width="0.6" stroke-linejoin="round"/><polygon points="1275.0,377.0 1249.0,377.0 1260.7,391.3 1275.0,403.0" fill="#4499d7" stroke="#4499d7" stroke-width="0.6" stroke-linejoin="round"/><polygon points="1275.0,377.0 1275.0,403.0 1289.3,391.3 1301.0,377.0" fill="#3c90cf" stroke="#3c90cf" stroke-width="0.6" stroke-linejoin="round"/><line x1="1249.0" y1="377.0" x2="1301.0" y2="377.0" stroke="#2a6aa3" stroke-width="0.8" opacity="0.5"/></g>
<g opacity="1.0"><polygon points="1323.0,377.0 1297.0,377.0 1308.7,362.7 1323.0,351.0" fill="#58abe4" stroke="#58abe4" stroke-width="0.6" stroke-linejoin="round"/><polygon points="1323.0,377.0 1323.0,351.0 1337.3,362.7 1349.0,377.0" fill="#4ca1dd" stroke="#4ca1dd" stroke-width="0.6" stroke-linejoin="round"/><polygon points="1323.0,377.0 1297.0,377.0 1308.7,391.3 1323.0,403.0" fill="#4499d7" stroke="#4499d7" stroke-width="0.6" stroke-linejoin="round"/><polygon points="1323.0,377.0 1323.0,403.0 1337.3,391.3 1349.0,377.0" fill="#3c90cf" stroke="#3c90cf" stroke-width="0.6" stroke-linejoin="round"/><line x1="1297.0" y1="377.0" x2="1349.0" y2="377.0" stroke="#2a6aa3" stroke-width="0.8" opacity="0.5"/></g>
<g opacity="1.0"><polygon points="1372.0,377.0 1346.0,377.0 1357.7,362.7 1372.0,351.0" fill="#58abe4" stroke="#58abe4" stroke-width="0.6" stroke-linejoin="round"/><polygon points="1372.0,377.0 1372.0,351.0 1386.3,362.7 1398.0,377.0" fill="#4ca1dd" stroke="#4ca1dd" stroke-width="0.6" stroke-linejoin="round"/><polygon points="1372.0,377.0 1346.0,377.0 1357.7,391.3 1372.0,403.0" fill="#4499d7" stroke="#4499d7" stroke-width="0.6" stroke-linejoin="round"/><polygon points="1372.0,377.0 1372.0,403.0 1386.3,391.3 1398.0,377.0" fill="#3c90cf" stroke="#3c90cf" stroke-width="0.6" stroke-linejoin="round"/><line x1="1346.0" y1="377.0" x2="1398.0" y2="377.0" stroke="#2a6aa3" stroke-width="0.8" opacity="0.5"/></g>
<g opacity="1.0"><polygon points="1225.0,425.0 1199.0,425.0 1210.7,410.7 1225.0,399.0" fill="#58abe4" stroke="#58abe4" stroke-width="0.6" stroke-linejoin="round"/><polygon points="1225.0,425.0 1225.0,399.0 1239.3,410.7 1251.0,425.0" fill="#4ca1dd" stroke="#4ca1dd" stroke-width="0.6" stroke-linejoin="round"/><polygon points="1225.0,425.0 1199.0,425.0 1210.7,439.3 1225.0,451.0" fill="#4499d7" stroke="#4499d7" stroke-width="0.6" stroke-linejoin="round"/><polygon points="1225.0,425.0 1225.0,451.0 1239.3,439.3 1251.0,425.0" fill="#3c90cf" stroke="#3c90cf" stroke-width="0.6" stroke-linejoin="round"/><line x1="1199.0" y1="425.0" x2="1251.0" y2="425.0" stroke="#2a6aa3" stroke-width="0.8" opacity="0.5"/></g>
<g opacity="1.0"><polygon points="1275.0,425.0 1249.0,425.0 1260.7,410.7 1275.0,399.0" fill="#58abe4" stroke="#58abe4" stroke-width="0.6" stroke-linejoin="round"/><polygon points="1275.0,425.0 1275.0,399.0 1289.3,410.7 1301.0,425.0" fill="#4ca1dd" stroke="#4ca1dd" stroke-width="0.6" stroke-linejoin="round"/><polygon points="1275.0,425.0 1249.0,425.0 1260.7,439.3 1275.0,451.0" fill="#4499d7" stroke="#4499d7" stroke-width="0.6" stroke-linejoin="round"/><polygon points="1275.0,425.0 1275.0,451.0 1289.3,439.3 1301.0,425.0" fill="#3c90cf" stroke="#3c90cf" stroke-width="0.6" stroke-linejoin="round"/><line x1="1249.0" y1="425.0" x2="1301.0" y2="425.0" stroke="#2a6aa3" stroke-width="0.8" opacity="0.5"/></g>
<g opacity="1.0"><polygon points="1323.0,425.0 1297.0,425.0 1308.7,410.7 1323.0,399.0" fill="#58abe4" stroke="#58abe4" stroke-width="0.6" stroke-linejoin="round"/><polygon points="1323.0,425.0 1323.0,399.0 1337.3,410.7 1349.0,425.0" fill="#4ca1dd" stroke="#4ca1dd" stroke-width="0.6" stroke-linejoin="round"/><polygon points="1323.0,425.0 1297.0,425.0 1308.7,439.3 1323.0,451.0" fill="#4499d7" stroke="#4499d7" stroke-width="0.6" stroke-linejoin="round"/><polygon points="1323.0,425.0 1323.0,451.0 1337.3,439.3 1349.0,425.0" fill="#3c90cf" stroke="#3c90cf" stroke-width="0.6" stroke-linejoin="round"/><line x1="1297.0" y1="425.0" x2="1349.0" y2="425.0" stroke="#2a6aa3" stroke-width="0.8" opacity="0.5"/></g>
<g opacity="1.0"><polygon points="1372.0,425.0 1346.0,425.0 1357.7,410.7 1372.0,399.0" fill="#58abe4" stroke="#58abe4" stroke-width="0.6" stroke-linejoin="round"/><polygon points="1372.0,425.0 1372.0,399.0 1386.3,410.7 1398.0,425.0" fill="#4ca1dd" stroke="#4ca1dd" stroke-width="0.6" stroke-linejoin="round"/><polygon points="1372.0,425.0 1346.0,425.0 1357.7,439.3 1372.0,451.0" fill="#4499d7" stroke="#4499d7" stroke-width="0.6" stroke-linejoin="round"/><polygon points="1372.0,425.0 1372.0,451.0 1386.3,439.3 1398.0,425.0" fill="#3c90cf" stroke="#3c90cf" stroke-width="0.6" stroke-linejoin="round"/><line x1="1346.0" y1="425.0" x2="1398.0" y2="425.0" stroke="#2a6aa3" stroke-width="0.8" opacity="0.5"/></g>
<g opacity="1.0"><polygon points="1225.0,475.0 1199.0,475.0 1210.7,460.7 1225.0,449.0" fill="#58abe4" stroke="#58abe4" stroke-width="0.6" stroke-linejoin="round"/><polygon points="1225.0,475.0 1225.0,449.0 1239.3,460.7 1251.0,475.0" fill="#4ca1dd" stroke="#4ca1dd" stroke-width="0.6" stroke-linejoin="round"/><polygon points="1225.0,475.0 1199.0,475.0 1210.7,489.3 1225.0,501.0" fill="#4499d7" stroke="#4499d7" stroke-width="0.6" stroke-linejoin="round"/><polygon points="1225.0,475.0 1225.0,501.0 1239.3,489.3 1251.0,475.0" fill="#3c90cf" stroke="#3c90cf" stroke-width="0.6" stroke-linejoin="round"/><line x1="1199.0" y1="475.0" x2="1251.0" y2="475.0" stroke="#2a6aa3" stroke-width="0.8" opacity="0.5"/></g>
<g opacity="1.0"><polygon points="1275.0,475.0 1249.0,475.0 1260.7,460.7 1275.0,449.0" fill="#58abe4" stroke="#58abe4" stroke-width="0.6" stroke-linejoin="round"/><polygon points="1275.0,475.0 1275.0,449.0 1289.3,460.7 1301.0,475.0" fill="#4ca1dd" stroke="#4ca1dd" stroke-width="0.6" stroke-linejoin="round"/><polygon points="1275.0,475.0 1249.0,475.0 1260.7,489.3 1275.0,501.0" fill="#4499d7" stroke="#4499d7" stroke-width="0.6" stroke-linejoin="round"/><polygon points="1275.0,475.0 1275.0,501.0 1289.3,489.3 1301.0,475.0" fill="#3c90cf" stroke="#3c90cf" stroke-width="0.6" stroke-linejoin="round"/><line x1="1249.0" y1="475.0" x2="1301.0" y2="475.0" stroke="#2a6aa3" stroke-width="0.8" opacity="0.5"/></g>
<g opacity="1.0"><polygon points="1323.0,475.0 1297.0,475.0 1308.7,460.7 1323.0,449.0" fill="#58abe4" stroke="#58abe4" stroke-width="0.6" stroke-linejoin="round"/><polygon points="1323.0,475.0 1323.0,449.0 1337.3,460.7 1349.0,475.0" fill="#4ca1dd" stroke="#4ca1dd" stroke-width="0.6" stroke-linejoin="round"/><polygon points="1323.0,475.0 1297.0,475.0 1308.7,489.3 1323.0,501.0" fill="#4499d7" stroke="#4499d7" stroke-width="0.6" stroke-linejoin="round"/><polygon points="1323.0,475.0 1323.0,501.0 1337.3,489.3 1349.0,475.0" fill="#3c90cf" stroke="#3c90cf" stroke-width="0.6" stroke-linejoin="round"/><line x1="1297.0" y1="475.0" x2="1349.0" y2="475.0" stroke="#2a6aa3" stroke-width="0.8" opacity="0.5"/></g>
<g opacity="1.0"><polygon points="1372.0,475.0 1346.0,475.0 1357.7,460.7 1372.0,449.0" fill="#58abe4" stroke="#58abe4" stroke-width="0.6" stroke-linejoin="round"/><polygon points="1372.0,475.0 1372.0,449.0 1386.3,460.7 1398.0,475.0" fill="#4ca1dd" stroke="#4ca1dd" stroke-width="0.6" stroke-linejoin="round"/><polygon points="1372.0,475.0 1346.0,475.0 1357.7,489.3 1372.0,501.0" fill="#4499d7" stroke="#4499d7" stroke-width="0.6" stroke-linejoin="round"/><polygon points="1372.0,475.0 1372.0,501.0 1386.3,489.3 1398.0,475.0" fill="#3c90cf" stroke="#3c90cf" stroke-width="0.6" stroke-linejoin="round"/><line x1="1346.0" y1="475.0" x2="1398.0" y2="475.0" stroke="#2a6aa3" stroke-width="0.8" opacity="0.5"/></g>
<circle cx="1200.5" cy="328.0" r="2.5" fill="#474f59" opacity="1.0"/>
<circle cx="1250.0" cy="328.0" r="2.5" fill="#474f59" opacity="1.0"/>
<circle cx="1225.0" cy="303.5" r="2.5" fill="#474f59" opacity="1.0"/>
<circle cx="1225.0" cy="352.5" r="2.5" fill="#474f59" opacity="1.0"/>
<circle cx="1299.0" cy="328.0" r="2.5" fill="#474f59" opacity="1.0"/>
<circle cx="1275.0" cy="303.5" r="2.5" fill="#474f59" opacity="1.0"/>
<circle cx="1275.0" cy="352.5" r="2.5" fill="#474f59" opacity="1.0"/>
<circle cx="1347.5" cy="328.0" r="2.5" fill="#474f59" opacity="1.0"/>
<circle cx="1323.0" cy="352.5" r="2.5" fill="#474f59" opacity="1.0"/>
<circle cx="1396.5" cy="328.0" r="2.5" fill="#474f59" opacity="1.0"/>
<circle cx="1372.0" cy="303.5" r="2.5" fill="#474f59" opacity="1.0"/>
<circle cx="1372.0" cy="352.5" r="2.5" fill="#474f59" opacity="1.0"/>
<circle cx="1250.5" cy="377.0" r="2.5" fill="#474f59" opacity="1.0"/>
<circle cx="1299.0" cy="377.0" r="2.5" fill="#474f59" opacity="1.0"/>
<circle cx="1275.0" cy="401.0" r="2.5" fill="#474f59" opacity="1.0"/>
<circle cx="1347.5" cy="377.0" r="2.5" fill="#474f59" opacity="1.0"/>
<circle cx="1323.0" cy="401.0" r="2.5" fill="#474f59" opacity="1.0"/>
<circle cx="1396.5" cy="377.0" r="2.5" fill="#474f59" opacity="1.0"/>
<circle cx="1372.0" cy="401.0" r="2.5" fill="#474f59" opacity="1.0"/>
<circle cx="1200.5" cy="425.0" r="2.5" fill="#474f59" opacity="1.0"/>
<circle cx="1250.0" cy="425.0" r="2.5" fill="#474f59" opacity="1.0"/>
<circle cx="1225.0" cy="400.5" r="2.5" fill="#474f59" opacity="1.0"/>
<circle cx="1225.0" cy="450.0" r="2.5" fill="#474f59" opacity="1.0"/>
<circle cx="1299.0" cy="425.0" r="2.5" fill="#474f59" opacity="1.0"/>
<circle cx="1275.0" cy="450.0" r="2.5" fill="#474f59" opacity="1.0"/>
<circle cx="1347.5" cy="425.0" r="2.5" fill="#474f59" opacity="1.0"/>
<circle cx="1323.0" cy="450.0" r="2.5" fill="#474f59" opacity="1.0"/>
<circle cx="1396.5" cy="425.0" r="2.5" fill="#474f59" opacity="1.0"/>
<circle cx="1372.0" cy="450.0" r="2.5" fill="#474f59" opacity="1.0"/>
<circle cx="1200.5" cy="475.0" r="2.5" fill="#474f59" opacity="1.0"/>
<circle cx="1250.0" cy="475.0" r="2.5" fill="#474f59" opacity="1.0"/>
<circle cx="1225.0" cy="499.5" r="2.5" fill="#474f59" opacity="1.0"/>
<circle cx="1299.0" cy="475.0" r="2.5" fill="#474f59" opacity="1.0"/>
<circle cx="1275.0" cy="499.5" r="2.5" fill="#474f59" opacity="1.0"/>
<circle cx="1347.5" cy="475.0" r="2.5" fill="#474f59" opacity="1.0"/>
<circle cx="1323.0" cy="499.5" r="2.5" fill="#474f59" opacity="1.0"/>
<circle cx="1396.5" cy="475.0" r="2.5" fill="#474f59" opacity="1.0"/>
<circle cx="1372.0" cy="499.5" r="2.5" fill="#474f59" opacity="1.0"/>
<circle cx="1225.0" cy="328.0" r="2.4" fill="#3e4a58" opacity="0.6"/>
<circle cx="1275.0" cy="328.0" r="2.4" fill="#3e4a58" opacity="0.6"/>
<circle cx="1323.0" cy="328.0" r="2.4" fill="#3e4a58" opacity="0.6"/>
<circle cx="1372.0" cy="328.0" r="2.4" fill="#3e4a58" opacity="0.6"/>
<circle cx="1275.0" cy="377.0" r="2.4" fill="#3e4a58" opacity="0.6"/>
<circle cx="1323.0" cy="377.0" r="2.4" fill="#3e4a58" opacity="0.6"/>
<circle cx="1372.0" cy="377.0" r="2.4" fill="#3e4a58" opacity="0.6"/>
<circle cx="1225.0" cy="425.0" r="2.4" fill="#3e4a58" opacity="0.6"/>
<circle cx="1275.0" cy="425.0" r="2.4" fill="#3e4a58" opacity="0.6"/>
<circle cx="1323.0" cy="425.0" r="2.4" fill="#3e4a58" opacity="0.6"/>
<circle cx="1372.0" cy="425.0" r="2.4" fill="#3e4a58" opacity="0.6"/>
<circle cx="1225.0" cy="475.0" r="2.4" fill="#3e4a58" opacity="0.6"/>
<circle cx="1275.0" cy="475.0" r="2.4" fill="#3e4a58" opacity="0.6"/>
<circle cx="1323.0" cy="475.0" r="2.4" fill="#3e4a58" opacity="0.6"/>
<circle cx="1372.0" cy="475.0" r="2.4" fill="#3e4a58" opacity="0.6"/>
<polygon points="1186,500 1409,500 1409,518 1193,519 1186,514" fill="#9a9a9b"/>
<polygon points="1186,500 1409,500 1409,508.0 1186,508.0" fill="#868687"/>
<circle cx="1227.0" cy="377.0" r="19.9" fill="url(#ballg)" filter="url(#soft)"/>
<circle cx="1227.0" cy="377.0" r="2.8" fill="#3f4a55" opacity="0.9"/>
<circle cx="1227.0" cy="377.0" r="22.6" fill="none" stroke="#e8c65c" stroke-width="1.5"/>
<line x1="1186" y1="267.5" x2="1204.7" y2="375.3" stroke="#efd24a" stroke-width="1.4" />
<line x1="1276.6" y1="273.7" x2="1248.4" y2="370.6" stroke="#efd24a" stroke-width="1.4" />
<clipPath id="cq1"><rect x="1181.0" y="166.0" width="110" height="110"/></clipPath>
<g clip-path="url(#cq1)">
<rect x="1181" y="166" width="110" height="110" fill="#fbfdff" />
<g opacity="1.0"><polygon points="1164.8,149.8 1147.0,149.8 1155.9,140.9 1164.8,132.0" fill="#74b2e6" stroke="#74b2e6" stroke-width="0.6" stroke-linejoin="round"/><polygon points="1164.8,149.8 1164.8,132.0 1173.7,140.9 1182.6,149.8" fill="#6aaae2" stroke="#6aaae2" stroke-width="0.6" stroke-linejoin="round"/><polygon points="1164.8,149.8 1147.0,149.8 1155.9,158.7 1164.8,167.6" fill="#62a3dd" stroke="#62a3dd" stroke-width="0.6" stroke-linejoin="round"/><polygon points="1164.8,149.8 1164.8,167.6 1173.7,158.7 1182.6,149.8" fill="#5b9dd8" stroke="#5b9dd8" stroke-width="0.6" stroke-linejoin="round"/><line x1="1147.0" y1="149.8" x2="1182.6" y2="149.8" stroke="#2a6aa3" stroke-width="0.8" opacity="0.5"/></g>
<g opacity="1.0"><polygon points="1200.4,149.8 1182.6,149.8 1191.5,140.9 1200.4,132.0" fill="#74b2e6" stroke="#74b2e6" stroke-width="0.6" stroke-linejoin="round"/><polygon points="1200.4,149.8 1200.4,132.0 1209.3,140.9 1218.2,149.8" fill="#6aaae2" stroke="#6aaae2" stroke-width="0.6" stroke-linejoin="round"/><polygon points="1200.4,149.8 1182.6,149.8 1191.5,158.7 1200.4,167.6" fill="#62a3dd" stroke="#62a3dd" stroke-width="0.6" stroke-linejoin="round"/><polygon points="1200.4,149.8 1200.4,167.6 1209.3,158.7 1218.2,149.8" fill="#5b9dd8" stroke="#5b9dd8" stroke-width="0.6" stroke-linejoin="round"/><line x1="1182.6" y1="149.8" x2="1218.2" y2="149.8" stroke="#2a6aa3" stroke-width="0.8" opacity="0.5"/></g>
<g opacity="1.0"><polygon points="1236.0,149.8 1218.2,149.8 1227.1,140.9 1236.0,132.0" fill="#74b2e6" stroke="#74b2e6" stroke-width="0.6" stroke-linejoin="round"/><polygon points="1236.0,149.8 1236.0,132.0 1244.9,140.9 1253.8,149.8" fill="#6aaae2" stroke="#6aaae2" stroke-width="0.6" stroke-linejoin="round"/><polygon points="1236.0,149.8 1218.2,149.8 1227.1,158.7 1236.0,167.6" fill="#62a3dd" stroke="#62a3dd" stroke-width="0.6" stroke-linejoin="round"/><polygon points="1236.0,149.8 1236.0,167.6 1244.9,158.7 1253.8,149.8" fill="#5b9dd8" stroke="#5b9dd8" stroke-width="0.6" stroke-linejoin="round"/><line x1="1218.2" y1="149.8" x2="1253.8" y2="149.8" stroke="#2a6aa3" stroke-width="0.8" opacity="0.5"/></g>
<g opacity="1.0"><polygon points="1271.6,149.8 1253.8,149.8 1262.7,140.9 1271.6,132.0" fill="#74b2e6" stroke="#74b2e6" stroke-width="0.6" stroke-linejoin="round"/><polygon points="1271.6,149.8 1271.6,132.0 1280.5,140.9 1289.4,149.8" fill="#6aaae2" stroke="#6aaae2" stroke-width="0.6" stroke-linejoin="round"/><polygon points="1271.6,149.8 1253.8,149.8 1262.7,158.7 1271.6,167.6" fill="#62a3dd" stroke="#62a3dd" stroke-width="0.6" stroke-linejoin="round"/><polygon points="1271.6,149.8 1271.6,167.6 1280.5,158.7 1289.4,149.8" fill="#5b9dd8" stroke="#5b9dd8" stroke-width="0.6" stroke-linejoin="round"/><line x1="1253.8" y1="149.8" x2="1289.4" y2="149.8" stroke="#2a6aa3" stroke-width="0.8" opacity="0.5"/></g>
<g opacity="1.0"><polygon points="1307.2,149.8 1289.4,149.8 1298.3,140.9 1307.2,132.0" fill="#74b2e6" stroke="#74b2e6" stroke-width="0.6" stroke-linejoin="round"/><polygon points="1307.2,149.8 1307.2,132.0 1316.1,140.9 1325.0,149.8" fill="#6aaae2" stroke="#6aaae2" stroke-width="0.6" stroke-linejoin="round"/><polygon points="1307.2,149.8 1289.4,149.8 1298.3,158.7 1307.2,167.6" fill="#62a3dd" stroke="#62a3dd" stroke-width="0.6" stroke-linejoin="round"/><polygon points="1307.2,149.8 1307.2,167.6 1316.1,158.7 1325.0,149.8" fill="#5b9dd8" stroke="#5b9dd8" stroke-width="0.6" stroke-linejoin="round"/><line x1="1289.4" y1="149.8" x2="1325.0" y2="149.8" stroke="#2a6aa3" stroke-width="0.8" opacity="0.5"/></g>
<g opacity="1.0"><polygon points="1164.8,185.4 1147.0,185.4 1155.9,176.5 1164.8,167.6" fill="#74b2e6" stroke="#74b2e6" stroke-width="0.6" stroke-linejoin="round"/><polygon points="1164.8,185.4 1164.8,167.6 1173.7,176.5 1182.6,185.4" fill="#6aaae2" stroke="#6aaae2" stroke-width="0.6" stroke-linejoin="round"/><polygon points="1164.8,185.4 1147.0,185.4 1155.9,194.3 1164.8,203.2" fill="#62a3dd" stroke="#62a3dd" stroke-width="0.6" stroke-linejoin="round"/><polygon points="1164.8,185.4 1164.8,203.2 1173.7,194.3 1182.6,185.4" fill="#5b9dd8" stroke="#5b9dd8" stroke-width="0.6" stroke-linejoin="round"/><line x1="1147.0" y1="185.4" x2="1182.6" y2="185.4" stroke="#2a6aa3" stroke-width="0.8" opacity="0.5"/></g>
<g opacity="1.0"><polygon points="1200.4,185.4 1182.6,185.4 1191.5,176.5 1200.4,167.6" fill="#74b2e6" stroke="#74b2e6" stroke-width="0.6" stroke-linejoin="round"/><polygon points="1200.4,185.4 1200.4,167.6 1209.3,176.5 1218.2,185.4" fill="#6aaae2" stroke="#6aaae2" stroke-width="0.6" stroke-linejoin="round"/><polygon points="1200.4,185.4 1182.6,185.4 1191.5,194.3 1200.4,203.2" fill="#62a3dd" stroke="#62a3dd" stroke-width="0.6" stroke-linejoin="round"/><polygon points="1200.4,185.4 1200.4,203.2 1209.3,194.3 1218.2,185.4" fill="#5b9dd8" stroke="#5b9dd8" stroke-width="0.6" stroke-linejoin="round"/><line x1="1182.6" y1="185.4" x2="1218.2" y2="185.4" stroke="#2a6aa3" stroke-width="0.8" opacity="0.5"/></g>
<g opacity="1.0"><polygon points="1236.0,185.4 1218.2,185.4 1227.1,176.5 1236.0,167.6" fill="#74b2e6" stroke="#74b2e6" stroke-width="0.6" stroke-linejoin="round"/><polygon points="1236.0,185.4 1236.0,167.6 1244.9,176.5 1253.8,185.4" fill="#6aaae2" stroke="#6aaae2" stroke-width="0.6" stroke-linejoin="round"/><polygon points="1236.0,185.4 1218.2,185.4 1227.1,194.3 1236.0,203.2" fill="#62a3dd" stroke="#62a3dd" stroke-width="0.6" stroke-linejoin="round"/><polygon points="1236.0,185.4 1236.0,203.2 1244.9,194.3 1253.8,185.4" fill="#5b9dd8" stroke="#5b9dd8" stroke-width="0.6" stroke-linejoin="round"/><line x1="1218.2" y1="185.4" x2="1253.8" y2="185.4" stroke="#2a6aa3" stroke-width="0.8" opacity="0.5"/></g>
<g opacity="1.0"><polygon points="1271.6,185.4 1253.8,185.4 1262.7,176.5 1271.6,167.6" fill="#74b2e6" stroke="#74b2e6" stroke-width="0.6" stroke-linejoin="round"/><polygon points="1271.6,185.4 1271.6,167.6 1280.5,176.5 1289.4,185.4" fill="#6aaae2" stroke="#6aaae2" stroke-width="0.6" stroke-linejoin="round"/><polygon points="1271.6,185.4 1253.8,185.4 1262.7,194.3 1271.6,203.2" fill="#62a3dd" stroke="#62a3dd" stroke-width="0.6" stroke-linejoin="round"/><polygon points="1271.6,185.4 1271.6,203.2 1280.5,194.3 1289.4,185.4" fill="#5b9dd8" stroke="#5b9dd8" stroke-width="0.6" stroke-linejoin="round"/><line x1="1253.8" y1="185.4" x2="1289.4" y2="185.4" stroke="#2a6aa3" stroke-width="0.8" opacity="0.5"/></g>
<g opacity="1.0"><polygon points="1307.2,185.4 1289.4,185.4 1298.3,176.5 1307.2,167.6" fill="#74b2e6" stroke="#74b2e6" stroke-width="0.6" stroke-linejoin="round"/><polygon points="1307.2,185.4 1307.2,167.6 1316.1,176.5 1325.0,185.4" fill="#6aaae2" stroke="#6aaae2" stroke-width="0.6" stroke-linejoin="round"/><polygon points="1307.2,185.4 1289.4,185.4 1298.3,194.3 1307.2,203.2" fill="#62a3dd" stroke="#62a3dd" stroke-width="0.6" stroke-linejoin="round"/><polygon points="1307.2,185.4 1307.2,203.2 1316.1,194.3 1325.0,185.4" fill="#5b9dd8" stroke="#5b9dd8" stroke-width="0.6" stroke-linejoin="round"/><line x1="1289.4" y1="185.4" x2="1325.0" y2="185.4" stroke="#2a6aa3" stroke-width="0.8" opacity="0.5"/></g>
<g opacity="1.0"><polygon points="1164.8,221.0 1147.0,221.0 1155.9,212.1 1164.8,203.2" fill="#74b2e6" stroke="#74b2e6" stroke-width="0.6" stroke-linejoin="round"/><polygon points="1164.8,221.0 1164.8,203.2 1173.7,212.1 1182.6,221.0" fill="#6aaae2" stroke="#6aaae2" stroke-width="0.6" stroke-linejoin="round"/><polygon points="1164.8,221.0 1147.0,221.0 1155.9,229.9 1164.8,238.8" fill="#62a3dd" stroke="#62a3dd" stroke-width="0.6" stroke-linejoin="round"/><polygon points="1164.8,221.0 1164.8,238.8 1173.7,229.9 1182.6,221.0" fill="#5b9dd8" stroke="#5b9dd8" stroke-width="0.6" stroke-linejoin="round"/><line x1="1147.0" y1="221.0" x2="1182.6" y2="221.0" stroke="#2a6aa3" stroke-width="0.8" opacity="0.5"/></g>
<g opacity="1.0"><polygon points="1200.4,221.0 1182.6,221.0 1191.5,212.1 1200.4,203.2" fill="#74b2e6" stroke="#74b2e6" stroke-width="0.6" stroke-linejoin="round"/><polygon points="1200.4,221.0 1200.4,203.2 1209.3,212.1 1218.2,221.0" fill="#6aaae2" stroke="#6aaae2" stroke-width="0.6" stroke-linejoin="round"/><polygon points="1200.4,221.0 1182.6,221.0 1191.5,229.9 1200.4,238.8" fill="#62a3dd" stroke="#62a3dd" stroke-width="0.6" stroke-linejoin="round"/><polygon points="1200.4,221.0 1200.4,238.8 1209.3,229.9 1218.2,221.0" fill="#5b9dd8" stroke="#5b9dd8" stroke-width="0.6" stroke-linejoin="round"/><line x1="1182.6" y1="221.0" x2="1218.2" y2="221.0" stroke="#2a6aa3" stroke-width="0.8" opacity="0.5"/></g>
<g opacity="1.0"><polygon points="1236.0,221.0 1218.2,221.0 1227.1,212.1 1236.0,203.2" fill="#74b2e6" stroke="#74b2e6" stroke-width="0.6" stroke-linejoin="round"/><polygon points="1236.0,221.0 1236.0,203.2 1244.9,212.1 1253.8,221.0" fill="#6aaae2" stroke="#6aaae2" stroke-width="0.6" stroke-linejoin="round"/><polygon points="1236.0,221.0 1218.2,221.0 1227.1,229.9 1236.0,238.8" fill="#62a3dd" stroke="#62a3dd" stroke-width="0.6" stroke-linejoin="round"/><polygon points="1236.0,221.0 1236.0,238.8 1244.9,229.9 1253.8,221.0" fill="#5b9dd8" stroke="#5b9dd8" stroke-width="0.6" stroke-linejoin="round"/><line x1="1218.2" y1="221.0" x2="1253.8" y2="221.0" stroke="#2a6aa3" stroke-width="0.8" opacity="0.5"/></g>
<g opacity="1.0"><polygon points="1271.6,221.0 1253.8,221.0 1262.7,212.1 1271.6,203.2" fill="#74b2e6" stroke="#74b2e6" stroke-width="0.6" stroke-linejoin="round"/><polygon points="1271.6,221.0 1271.6,203.2 1280.5,212.1 1289.4,221.0" fill="#6aaae2" stroke="#6aaae2" stroke-width="0.6" stroke-linejoin="round"/><polygon points="1271.6,221.0 1253.8,221.0 1262.7,229.9 1271.6,238.8" fill="#62a3dd" stroke="#62a3dd" stroke-width="0.6" stroke-linejoin="round"/><polygon points="1271.6,221.0 1271.6,238.8 1280.5,229.9 1289.4,221.0" fill="#5b9dd8" stroke="#5b9dd8" stroke-width="0.6" stroke-linejoin="round"/><line x1="1253.8" y1="221.0" x2="1289.4" y2="221.0" stroke="#2a6aa3" stroke-width="0.8" opacity="0.5"/></g>
<g opacity="1.0"><polygon points="1307.2,221.0 1289.4,221.0 1298.3,212.1 1307.2,203.2" fill="#74b2e6" stroke="#74b2e6" stroke-width="0.6" stroke-linejoin="round"/><polygon points="1307.2,221.0 1307.2,203.2 1316.1,212.1 1325.0,221.0" fill="#6aaae2" stroke="#6aaae2" stroke-width="0.6" stroke-linejoin="round"/><polygon points="1307.2,221.0 1289.4,221.0 1298.3,229.9 1307.2,238.8" fill="#62a3dd" stroke="#62a3dd" stroke-width="0.6" stroke-linejoin="round"/><polygon points="1307.2,221.0 1307.2,238.8 1316.1,229.9 1325.0,221.0" fill="#5b9dd8" stroke="#5b9dd8" stroke-width="0.6" stroke-linejoin="round"/><line x1="1289.4" y1="221.0" x2="1325.0" y2="221.0" stroke="#2a6aa3" stroke-width="0.8" opacity="0.5"/></g>
<g opacity="1.0"><polygon points="1164.8,256.6 1147.0,256.6 1155.9,247.7 1164.8,238.8" fill="#74b2e6" stroke="#74b2e6" stroke-width="0.6" stroke-linejoin="round"/><polygon points="1164.8,256.6 1164.8,238.8 1173.7,247.7 1182.6,256.6" fill="#6aaae2" stroke="#6aaae2" stroke-width="0.6" stroke-linejoin="round"/><polygon points="1164.8,256.6 1147.0,256.6 1155.9,265.5 1164.8,274.4" fill="#62a3dd" stroke="#62a3dd" stroke-width="0.6" stroke-linejoin="round"/><polygon points="1164.8,256.6 1164.8,274.4 1173.7,265.5 1182.6,256.6" fill="#5b9dd8" stroke="#5b9dd8" stroke-width="0.6" stroke-linejoin="round"/><line x1="1147.0" y1="256.6" x2="1182.6" y2="256.6" stroke="#2a6aa3" stroke-width="0.8" opacity="0.5"/></g>
<g opacity="1.0"><polygon points="1200.4,256.6 1182.6,256.6 1191.5,247.7 1200.4,238.8" fill="#74b2e6" stroke="#74b2e6" stroke-width="0.6" stroke-linejoin="round"/><polygon points="1200.4,256.6 1200.4,238.8 1209.3,247.7 1218.2,256.6" fill="#6aaae2" stroke="#6aaae2" stroke-width="0.6" stroke-linejoin="round"/><polygon points="1200.4,256.6 1182.6,256.6 1191.5,265.5 1200.4,274.4" fill="#62a3dd" stroke="#62a3dd" stroke-width="0.6" stroke-linejoin="round"/><polygon points="1200.4,256.6 1200.4,274.4 1209.3,265.5 1218.2,256.6" fill="#5b9dd8" stroke="#5b9dd8" stroke-width="0.6" stroke-linejoin="round"/><line x1="1182.6" y1="256.6" x2="1218.2" y2="256.6" stroke="#2a6aa3" stroke-width="0.8" opacity="0.5"/></g>
<g opacity="1.0"><polygon points="1236.0,256.6 1218.2,256.6 1227.1,247.7 1236.0,238.8" fill="#74b2e6" stroke="#74b2e6" stroke-width="0.6" stroke-linejoin="round"/><polygon points="1236.0,256.6 1236.0,238.8 1244.9,247.7 1253.8,256.6" fill="#6aaae2" stroke="#6aaae2" stroke-width="0.6" stroke-linejoin="round"/><polygon points="1236.0,256.6 1218.2,256.6 1227.1,265.5 1236.0,274.4" fill="#62a3dd" stroke="#62a3dd" stroke-width="0.6" stroke-linejoin="round"/><polygon points="1236.0,256.6 1236.0,274.4 1244.9,265.5 1253.8,256.6" fill="#5b9dd8" stroke="#5b9dd8" stroke-width="0.6" stroke-linejoin="round"/><line x1="1218.2" y1="256.6" x2="1253.8" y2="256.6" stroke="#2a6aa3" stroke-width="0.8" opacity="0.5"/></g>
<g opacity="1.0"><polygon points="1271.6,256.6 1253.8,256.6 1262.7,247.7 1271.6,238.8" fill="#74b2e6" stroke="#74b2e6" stroke-width="0.6" stroke-linejoin="round"/><polygon points="1271.6,256.6 1271.6,238.8 1280.5,247.7 1289.4,256.6" fill="#6aaae2" stroke="#6aaae2" stroke-width="0.6" stroke-linejoin="round"/><polygon points="1271.6,256.6 1253.8,256.6 1262.7,265.5 1271.6,274.4" fill="#62a3dd" stroke="#62a3dd" stroke-width="0.6" stroke-linejoin="round"/><polygon points="1271.6,256.6 1271.6,274.4 1280.5,265.5 1289.4,256.6" fill="#5b9dd8" stroke="#5b9dd8" stroke-width="0.6" stroke-linejoin="round"/><line x1="1253.8" y1="256.6" x2="1289.4" y2="256.6" stroke="#2a6aa3" stroke-width="0.8" opacity="0.5"/></g>
<g opacity="1.0"><polygon points="1307.2,256.6 1289.4,256.6 1298.3,247.7 1307.2,238.8" fill="#74b2e6" stroke="#74b2e6" stroke-width="0.6" stroke-linejoin="round"/><polygon points="1307.2,256.6 1307.2,238.8 1316.1,247.7 1325.0,256.6" fill="#6aaae2" stroke="#6aaae2" stroke-width="0.6" stroke-linejoin="round"/><polygon points="1307.2,256.6 1289.4,256.6 1298.3,265.5 1307.2,274.4" fill="#62a3dd" stroke="#62a3dd" stroke-width="0.6" stroke-linejoin="round"/><polygon points="1307.2,256.6 1307.2,274.4 1316.1,265.5 1325.0,256.6" fill="#5b9dd8" stroke="#5b9dd8" stroke-width="0.6" stroke-linejoin="round"/><line x1="1289.4" y1="256.6" x2="1325.0" y2="256.6" stroke="#2a6aa3" stroke-width="0.8" opacity="0.5"/></g>
<g opacity="1.0"><polygon points="1164.8,292.2 1147.0,292.2 1155.9,283.3 1164.8,274.4" fill="#74b2e6" stroke="#74b2e6" stroke-width="0.6" stroke-linejoin="round"/><polygon points="1164.8,292.2 1164.8,274.4 1173.7,283.3 1182.6,292.2" fill="#6aaae2" stroke="#6aaae2" stroke-width="0.6" stroke-linejoin="round"/><polygon points="1164.8,292.2 1147.0,292.2 1155.9,301.1 1164.8,310.0" fill="#62a3dd" stroke="#62a3dd" stroke-width="0.6" stroke-linejoin="round"/><polygon points="1164.8,292.2 1164.8,310.0 1173.7,301.1 1182.6,292.2" fill="#5b9dd8" stroke="#5b9dd8" stroke-width="0.6" stroke-linejoin="round"/><line x1="1147.0" y1="292.2" x2="1182.6" y2="292.2" stroke="#2a6aa3" stroke-width="0.8" opacity="0.5"/></g>
<g opacity="1.0"><polygon points="1200.4,292.2 1182.6,292.2 1191.5,283.3 1200.4,274.4" fill="#74b2e6" stroke="#74b2e6" stroke-width="0.6" stroke-linejoin="round"/><polygon points="1200.4,292.2 1200.4,274.4 1209.3,283.3 1218.2,292.2" fill="#6aaae2" stroke="#6aaae2" stroke-width="0.6" stroke-linejoin="round"/><polygon points="1200.4,292.2 1182.6,292.2 1191.5,301.1 1200.4,310.0" fill="#62a3dd" stroke="#62a3dd" stroke-width="0.6" stroke-linejoin="round"/><polygon points="1200.4,292.2 1200.4,310.0 1209.3,301.1 1218.2,292.2" fill="#5b9dd8" stroke="#5b9dd8" stroke-width="0.6" stroke-linejoin="round"/><line x1="1182.6" y1="292.2" x2="1218.2" y2="292.2" stroke="#2a6aa3" stroke-width="0.8" opacity="0.5"/></g>
<g opacity="1.0"><polygon points="1236.0,292.2 1218.2,292.2 1227.1,283.3 1236.0,274.4" fill="#74b2e6" stroke="#74b2e6" stroke-width="0.6" stroke-linejoin="round"/><polygon points="1236.0,292.2 1236.0,274.4 1244.9,283.3 1253.8,292.2" fill="#6aaae2" stroke="#6aaae2" stroke-width="0.6" stroke-linejoin="round"/><polygon points="1236.0,292.2 1218.2,292.2 1227.1,301.1 1236.0,310.0" fill="#62a3dd" stroke="#62a3dd" stroke-width="0.6" stroke-linejoin="round"/><polygon points="1236.0,292.2 1236.0,310.0 1244.9,301.1 1253.8,292.2" fill="#5b9dd8" stroke="#5b9dd8" stroke-width="0.6" stroke-linejoin="round"/><line x1="1218.2" y1="292.2" x2="1253.8" y2="292.2" stroke="#2a6aa3" stroke-width="0.8" opacity="0.5"/></g>
<g opacity="1.0"><polygon points="1271.6,292.2 1253.8,292.2 1262.7,283.3 1271.6,274.4" fill="#74b2e6" stroke="#74b2e6" stroke-width="0.6" stroke-linejoin="round"/><polygon points="1271.6,292.2 1271.6,274.4 1280.5,283.3 1289.4,292.2" fill="#6aaae2" stroke="#6aaae2" stroke-width="0.6" stroke-linejoin="round"/><polygon points="1271.6,292.2 1253.8,292.2 1262.7,301.1 1271.6,310.0" fill="#62a3dd" stroke="#62a3dd" stroke-width="0.6" stroke-linejoin="round"/><polygon points="1271.6,292.2 1271.6,310.0 1280.5,301.1 1289.4,292.2" fill="#5b9dd8" stroke="#5b9dd8" stroke-width="0.6" stroke-linejoin="round"/><line x1="1253.8" y1="292.2" x2="1289.4" y2="292.2" stroke="#2a6aa3" stroke-width="0.8" opacity="0.5"/></g>
<g opacity="1.0"><polygon points="1307.2,292.2 1289.4,292.2 1298.3,283.3 1307.2,274.4" fill="#74b2e6" stroke="#74b2e6" stroke-width="0.6" stroke-linejoin="round"/><polygon points="1307.2,292.2 1307.2,274.4 1316.1,283.3 1325.0,292.2" fill="#6aaae2" stroke="#6aaae2" stroke-width="0.6" stroke-linejoin="round"/><polygon points="1307.2,292.2 1289.4,292.2 1298.3,301.1 1307.2,310.0" fill="#62a3dd" stroke="#62a3dd" stroke-width="0.6" stroke-linejoin="round"/><polygon points="1307.2,292.2 1307.2,310.0 1316.1,301.1 1325.0,292.2" fill="#5b9dd8" stroke="#5b9dd8" stroke-width="0.6" stroke-linejoin="round"/><line x1="1289.4" y1="292.2" x2="1325.0" y2="292.2" stroke="#2a6aa3" stroke-width="0.8" opacity="0.5"/></g>
<line x1="1181" y1="149.8" x2="1291" y2="149.8" stroke="#2f6ea6" stroke-width="0.8" opacity="0.5"/>
<line x1="1181" y1="185.4" x2="1291" y2="185.4" stroke="#2f6ea6" stroke-width="0.8" opacity="0.5"/>
<line x1="1181" y1="221" x2="1291" y2="221" stroke="#2f6ea6" stroke-width="0.8" opacity="0.5"/>
<line x1="1181" y1="256.6" x2="1291" y2="256.6" stroke="#2f6ea6" stroke-width="0.8" opacity="0.5"/>
<line x1="1181" y1="292.2" x2="1291" y2="292.2" stroke="#2f6ea6" stroke-width="0.8" opacity="0.5"/>
<circle cx="1164.8" cy="149.8" r="2.4" fill="#3a5566" opacity="1.0"/>
<circle cx="1182.6" cy="149.8" r="2.2" fill="#3a5566" opacity="1.0"/>
<circle cx="1164.8" cy="167.6" r="2.2" fill="#3a5566" opacity="1.0"/>
<circle cx="1200.4" cy="149.8" r="2.4" fill="#3a5566" opacity="1.0"/>
<circle cx="1218.2" cy="149.8" r="2.2" fill="#3a5566" opacity="1.0"/>
<circle cx="1200.4" cy="167.6" r="2.2" fill="#3a5566" opacity="1.0"/>
<circle cx="1236.0" cy="149.8" r="2.4" fill="#3a5566" opacity="1.0"/>
<circle cx="1253.8" cy="149.8" r="2.2" fill="#3a5566" opacity="1.0"/>
<circle cx="1236.0" cy="167.6" r="2.2" fill="#3a5566" opacity="1.0"/>
<circle cx="1271.6" cy="149.8" r="2.4" fill="#3a5566" opacity="1.0"/>
<circle cx="1289.4" cy="149.8" r="2.2" fill="#3a5566" opacity="1.0"/>
<circle cx="1271.6" cy="167.6" r="2.2" fill="#3a5566" opacity="1.0"/>
<circle cx="1307.2" cy="149.8" r="2.4" fill="#3a5566" opacity="1.0"/>
<circle cx="1325.0" cy="149.8" r="2.2" fill="#3a5566" opacity="1.0"/>
<circle cx="1307.2" cy="167.6" r="2.2" fill="#3a5566" opacity="1.0"/>
<circle cx="1164.8" cy="185.4" r="2.4" fill="#3a5566" opacity="1.0"/>
<circle cx="1182.6" cy="185.4" r="2.2" fill="#3a5566" opacity="1.0"/>
<circle cx="1164.8" cy="203.2" r="2.2" fill="#3a5566" opacity="1.0"/>
<circle cx="1200.4" cy="185.4" r="2.4" fill="#3a5566" opacity="1.0"/>
<circle cx="1218.2" cy="185.4" r="2.2" fill="#3a5566" opacity="1.0"/>
<circle cx="1200.4" cy="203.2" r="2.2" fill="#3a5566" opacity="1.0"/>
<circle cx="1236.0" cy="185.4" r="2.4" fill="#3a5566" opacity="1.0"/>
<circle cx="1253.8" cy="185.4" r="2.2" fill="#3a5566" opacity="1.0"/>
<circle cx="1236.0" cy="203.2" r="2.2" fill="#3a5566" opacity="1.0"/>
<circle cx="1271.6" cy="185.4" r="2.4" fill="#3a5566" opacity="1.0"/>
<circle cx="1289.4" cy="185.4" r="2.2" fill="#3a5566" opacity="1.0"/>
<circle cx="1271.6" cy="203.2" r="2.2" fill="#3a5566" opacity="1.0"/>
<circle cx="1307.2" cy="185.4" r="2.4" fill="#3a5566" opacity="1.0"/>
<circle cx="1325.0" cy="185.4" r="2.2" fill="#3a5566" opacity="1.0"/>
<circle cx="1307.2" cy="203.2" r="2.2" fill="#3a5566" opacity="1.0"/>
<circle cx="1164.8" cy="221.0" r="2.4" fill="#3a5566" opacity="1.0"/>
<circle cx="1182.6" cy="221.0" r="2.2" fill="#3a5566" opacity="1.0"/>
<circle cx="1164.8" cy="238.8" r="2.2" fill="#3a5566" opacity="1.0"/>
<circle cx="1200.4" cy="221.0" r="2.4" fill="#3a5566" opacity="1.0"/>
<circle cx="1218.2" cy="221.0" r="2.2" fill="#3a5566" opacity="1.0"/>
<circle cx="1200.4" cy="238.8" r="2.2" fill="#3a5566" opacity="1.0"/>
<circle cx="1236.0" cy="221.0" r="2.4" fill="#3a5566" opacity="1.0"/>
<circle cx="1253.8" cy="221.0" r="2.2" fill="#3a5566" opacity="1.0"/>
<circle cx="1236.0" cy="238.8" r="2.2" fill="#3a5566" opacity="1.0"/>
<circle cx="1271.6" cy="221.0" r="2.4" fill="#3a5566" opacity="1.0"/>
<circle cx="1289.4" cy="221.0" r="2.2" fill="#3a5566" opacity="1.0"/>
<circle cx="1271.6" cy="238.8" r="2.2" fill="#3a5566" opacity="1.0"/>
<circle cx="1307.2" cy="221.0" r="2.4" fill="#3a5566" opacity="1.0"/>
<circle cx="1325.0" cy="221.0" r="2.2" fill="#3a5566" opacity="1.0"/>
<circle cx="1307.2" cy="238.8" r="2.2" fill="#3a5566" opacity="1.0"/>
<circle cx="1164.8" cy="256.6" r="2.4" fill="#3a5566" opacity="1.0"/>
<circle cx="1182.6" cy="256.6" r="2.2" fill="#3a5566" opacity="1.0"/>
<circle cx="1164.8" cy="274.4" r="2.2" fill="#3a5566" opacity="1.0"/>
<circle cx="1200.4" cy="256.6" r="2.4" fill="#3a5566" opacity="1.0"/>
<circle cx="1218.2" cy="256.6" r="2.2" fill="#3a5566" opacity="1.0"/>
<circle cx="1200.4" cy="274.4" r="2.2" fill="#3a5566" opacity="1.0"/>
<circle cx="1236.0" cy="256.6" r="2.4" fill="#3a5566" opacity="1.0"/>
<circle cx="1253.8" cy="256.6" r="2.2" fill="#3a5566" opacity="1.0"/>
<circle cx="1236.0" cy="274.4" r="2.2" fill="#3a5566" opacity="1.0"/>
<circle cx="1271.6" cy="256.6" r="2.4" fill="#3a5566" opacity="1.0"/>
<circle cx="1289.4" cy="256.6" r="2.2" fill="#3a5566" opacity="1.0"/>
<circle cx="1271.6" cy="274.4" r="2.2" fill="#3a5566" opacity="1.0"/>
<circle cx="1307.2" cy="256.6" r="2.4" fill="#3a5566" opacity="1.0"/>
<circle cx="1325.0" cy="256.6" r="2.2" fill="#3a5566" opacity="1.0"/>
<circle cx="1307.2" cy="274.4" r="2.2" fill="#3a5566" opacity="1.0"/>
<circle cx="1164.8" cy="292.2" r="2.4" fill="#3a5566" opacity="1.0"/>
<circle cx="1182.6" cy="292.2" r="2.2" fill="#3a5566" opacity="1.0"/>
<circle cx="1164.8" cy="310.0" r="2.2" fill="#3a5566" opacity="1.0"/>
<circle cx="1200.4" cy="292.2" r="2.4" fill="#3a5566" opacity="1.0"/>
<circle cx="1218.2" cy="292.2" r="2.2" fill="#3a5566" opacity="1.0"/>
<circle cx="1200.4" cy="310.0" r="2.2" fill="#3a5566" opacity="1.0"/>
<circle cx="1236.0" cy="292.2" r="2.4" fill="#3a5566" opacity="1.0"/>
<circle cx="1253.8" cy="292.2" r="2.2" fill="#3a5566" opacity="1.0"/>
<circle cx="1236.0" cy="310.0" r="2.2" fill="#3a5566" opacity="1.0"/>
<circle cx="1271.6" cy="292.2" r="2.4" fill="#3a5566" opacity="1.0"/>
<circle cx="1289.4" cy="292.2" r="2.2" fill="#3a5566" opacity="1.0"/>
<circle cx="1271.6" cy="310.0" r="2.2" fill="#3a5566" opacity="1.0"/>
<circle cx="1307.2" cy="292.2" r="2.4" fill="#3a5566" opacity="1.0"/>
<circle cx="1325.0" cy="292.2" r="2.2" fill="#3a5566" opacity="1.0"/>
<circle cx="1307.2" cy="310.0" r="2.2" fill="#3a5566" opacity="1.0"/>
<circle cx="1182.6" cy="167.6" r="4.6" fill="#d4512c"/>
<circle cx="1218.2" cy="167.6" r="4.6" fill="#d4512c"/>
<circle cx="1253.8" cy="167.6" r="4.6" fill="#d4512c"/>
<circle cx="1289.4" cy="167.6" r="4.6" fill="#d4512c"/>
<circle cx="1182.6" cy="203.2" r="4.6" fill="#d4512c"/>
<circle cx="1218.2" cy="203.2" r="4.6" fill="#d4512c"/>
<circle cx="1253.8" cy="203.2" r="4.6" fill="#d4512c"/>
<circle cx="1289.4" cy="203.2" r="4.6" fill="#d4512c"/>
<circle cx="1182.6" cy="238.8" r="4.6" fill="#d4512c"/>
<circle cx="1218.2" cy="238.8" r="4.6" fill="#d4512c"/>
<circle cx="1253.8" cy="238.8" r="4.6" fill="#d4512c"/>
<circle cx="1289.4" cy="238.8" r="4.6" fill="#d4512c"/>
<circle cx="1182.6" cy="274.4" r="4.6" fill="#d4512c"/>
<circle cx="1218.2" cy="274.4" r="4.6" fill="#d4512c"/>
<circle cx="1253.8" cy="274.4" r="4.6" fill="#d4512c"/>
<circle cx="1289.4" cy="274.4" r="4.6" fill="#d4512c"/>
</g>
<circle cx="1236.0" cy="221.0" r="56.5" fill="none" stroke="#e8c65c" stroke-width="1.8"/>
<g opacity="1.0"><line x1="1224.7" y1="295.6" x2="1212.0" y2="292.7" stroke="#6a6a6a" stroke-width="1.3" stroke-linecap="round"/><line x1="1224.7" y1="295.6" x2="1213.1" y2="289.7" stroke="#6a6a6a" stroke-width="1.3" stroke-linecap="round"/><circle cx="1224.7" cy="295.6" r="3.8" fill="#5a5a5c"/></g>
<g opacity="1.0"><line x1="1188.8" y1="319.8" x2="1175.8" y2="320.3" stroke="#6a6a6a" stroke-width="1.3" stroke-linecap="round"/><line x1="1188.8" y1="319.8" x2="1176.1" y2="317.1" stroke="#6a6a6a" stroke-width="1.3" stroke-linecap="round"/><circle cx="1188.8" cy="319.8" r="3.8" fill="#5a5a5c"/></g>
<g opacity="0.45"><line x1="1271.6" y1="299.5" x2="1258.6" y2="300.0" stroke="#6a6a6a" stroke-width="1.3" stroke-linecap="round"/><line x1="1271.6" y1="299.5" x2="1258.9" y2="296.8" stroke="#6a6a6a" stroke-width="1.3" stroke-linecap="round"/><circle cx="1271.6" cy="299.5" r="3.8" fill="#5a5a5c"/></g>
<g opacity="1.0"><line x1="1307.5" y1="303.4" x2="1294.8" y2="300.5" stroke="#6a6a6a" stroke-width="1.3" stroke-linecap="round"/><line x1="1307.5" y1="303.4" x2="1295.9" y2="297.5" stroke="#6a6a6a" stroke-width="1.3" stroke-linecap="round"/><circle cx="1307.5" cy="303.4" r="3.8" fill="#5a5a5c"/></g>
<g opacity="1.0"><line x1="1323.0" y1="298.0" x2="1307.0" y2="297.2" stroke="#6a6a6a" stroke-width="1.3" stroke-linecap="round"/><line x1="1323.0" y1="298.0" x2="1307.7" y2="293.3" stroke="#6a6a6a" stroke-width="1.3" stroke-linecap="round"/><circle cx="1323.0" cy="298.0" r="3.8" fill="#5a5a5c"/></g>
<circle cx="1332.5" cy="299.5" r="7.3" fill="#fff3a0" opacity="0.55"/><circle cx="1332.5" cy="299.5" r="4.3" fill="#f7c400"/>
<g opacity="1.0"><line x1="1335.6" y1="313.6" x2="1322.6" y2="314.5" stroke="#6a6a6a" stroke-width="1.3" stroke-linecap="round"/><line x1="1335.6" y1="313.6" x2="1322.8" y2="311.3" stroke="#6a6a6a" stroke-width="1.3" stroke-linecap="round"/><line x1="1335.6" y1="313.6" x2="1323.7" y2="308.3" stroke="#6a6a6a" stroke-width="1.3" stroke-linecap="round"/><circle cx="1335.6" cy="313.6" r="3.8" fill="#5a5a5c"/></g>
<g opacity="1.0"><line x1="1360.6" y1="311.0" x2="1347.6" y2="310.3" stroke="#6a6a6a" stroke-width="1.3" stroke-linecap="round"/><line x1="1360.6" y1="311.0" x2="1348.2" y2="307.2" stroke="#6a6a6a" stroke-width="1.3" stroke-linecap="round"/><circle cx="1360.6" cy="311.0" r="3.8" fill="#5a5a5c"/></g>
<g opacity="1.0"><line x1="1395.0" y1="294.8" x2="1382.0" y2="295.3" stroke="#6a6a6a" stroke-width="1.3" stroke-linecap="round"/><line x1="1395.0" y1="294.8" x2="1382.3" y2="292.1" stroke="#6a6a6a" stroke-width="1.3" stroke-linecap="round"/><circle cx="1395.0" cy="294.8" r="3.8" fill="#5a5a5c"/></g>
<g opacity="1.0"><line x1="1406.7" y1="309.0" x2="1394.3" y2="305.0" stroke="#6a6a6a" stroke-width="1.3" stroke-linecap="round"/><line x1="1406.7" y1="309.0" x2="1395.7" y2="302.1" stroke="#6a6a6a" stroke-width="1.3" stroke-linecap="round"/><circle cx="1406.7" cy="309.0" r="3.8" fill="#5a5a5c"/></g>
<text x="2.6" y="45.5" font-size="76" font-weight="bold" fill="#000" text-anchor="start" font-family="'Liberation Serif', 'Times New Roman', serif" >a</text>
<text x="93" y="40" font-size="25" font-weight="bold" fill="#141414" text-anchor="start" font-family="'Liberation Sans', Arial, sans-serif" >Continuous-illumination working mode</text>
<text x="235.5" y="75" font-size="22" font-weight="bold" fill="#141414" text-anchor="start" font-family="'Liberation Sans', Arial, sans-serif" >dark</text>
<text x="870" y="75.5" font-size="22" font-weight="bold" fill="#f0a23a" text-anchor="start" font-family="'Liberation Sans', Arial, sans-serif" >continuous-illumination</text>
<text x="133" y="163" font-size="22" font-weight="bold" fill="#141414" text-anchor="start" font-family="'Liberation Sans', Arial, sans-serif" >orthorhombic phase</text>
<text x="712" y="163.7" font-size="22" font-weight="bold" fill="#141414" text-anchor="start" font-family="'Liberation Sans', Arial, sans-serif" >lattice distortion</text>
<text x="1262" y="163" font-size="22" font-weight="bold" fill="#141414" text-anchor="start" font-family="'Liberation Sans', Arial, sans-serif" >cubic-like phase</text>
<text x="168.7" y="549" font-size="22" font-weight="bold" fill="#141414" text-anchor="start" font-family="'Liberation Sans', Arial, sans-serif" >spontaneous strain</text>
<text x="631" y="549" font-size="22" font-weight="bold" fill="#141414" text-anchor="start" font-family="'Liberation Sans', Arial, sans-serif" >gradually strain release</text>
<text x="1252" y="549" font-size="22" font-weight="bold" fill="#141414" text-anchor="start" font-family="'Liberation Sans', Arial, sans-serif" >strain free</text>
<line x1="653" y1="182.5" x2="958" y2="182.5" stroke="#111" stroke-width="2.4" stroke-dasharray="1.8,1.4"/>
<polygon points="957,179 966,182.5 957,186" fill="#111"/>
<line x1="98" y1="48.5" x2="1483" y2="48.5" stroke="#4a4a4a" stroke-width="2" />
<line x1="98" y1="562" x2="1483" y2="562" stroke="#8a8a8a" stroke-width="1.2" />
<line x1="98" y1="48.5" x2="98" y2="562" stroke="#f08a96" stroke-width="1.3" />
<line x1="1483" y1="48.5" x2="1483" y2="562" stroke="#a3a9f3" stroke-width="1.6" />
<line x1="91" y1="533" x2="98" y2="533" stroke="#b0a0a0" stroke-width="1.2" />
<text x="77" y="538.7" font-size="22.5" font-weight="normal" fill="#e8737d" text-anchor="end" font-family="'Liberation Sans', Arial, sans-serif" stroke="#e8737d" stroke-width="0.9">0</text>
<line x1="91" y1="419.6" x2="98" y2="419.6" stroke="#b0a0a0" stroke-width="1.2" />
<text x="77" y="425.3" font-size="22.5" font-weight="normal" fill="#e8737d" text-anchor="end" font-family="'Liberation Sans', Arial, sans-serif" stroke="#e8737d" stroke-width="0.9">20</text>
<line x1="91" y1="306.2" x2="98" y2="306.2" stroke="#b0a0a0" stroke-width="1.2" />
<text x="77" y="311.9" font-size="22.5" font-weight="normal" fill="#e8737d" text-anchor="end" font-family="'Liberation Sans', Arial, sans-serif" stroke="#e8737d" stroke-width="0.9">40</text>
<line x1="91" y1="192.8" x2="98" y2="192.8" stroke="#b0a0a0" stroke-width="1.2" />
<text x="77" y="198.5" font-size="22.5" font-weight="normal" fill="#e8737d" text-anchor="end" font-family="'Liberation Sans', Arial, sans-serif" stroke="#e8737d" stroke-width="0.9">60</text>
<line x1="91" y1="79.4" x2="98" y2="79.4" stroke="#b0a0a0" stroke-width="1.2" />
<text x="77" y="85.1" font-size="22.5" font-weight="normal" fill="#e8737d" text-anchor="end" font-family="'Liberation Sans', Arial, sans-serif" stroke="#e8737d" stroke-width="0.9">80</text>
<line x1="94" y1="476.3" x2="98" y2="476.3" stroke="#c0b0b0" stroke-width="1.0" />
<line x1="94" y1="362.9" x2="98" y2="362.9" stroke="#c0b0b0" stroke-width="1.0" />
<line x1="94" y1="249.5" x2="98" y2="249.5" stroke="#c0b0b0" stroke-width="1.0" />
<line x1="94" y1="136.1" x2="98" y2="136.1" stroke="#c0b0b0" stroke-width="1.0" />
<line x1="1483" y1="522.5" x2="1490" y2="522.5" stroke="#a0a0b0" stroke-width="1.2" />
<text x="1495" y="530.5" font-size="22.5" font-weight="normal" fill="#838cea" text-anchor="start" font-family="'Liberation Sans', Arial, sans-serif" stroke="#838cea" stroke-width="0.5">25</text>
<line x1="1483" y1="457" x2="1490" y2="457" stroke="#a0a0b0" stroke-width="1.2" />
<text x="1495" y="465" font-size="22.5" font-weight="normal" fill="#838cea" text-anchor="start" font-family="'Liberation Sans', Arial, sans-serif" stroke="#838cea" stroke-width="0.5">30</text>
<line x1="1483" y1="391.5" x2="1490" y2="391.5" stroke="#a0a0b0" stroke-width="1.2" />
<text x="1495" y="399.5" font-size="22.5" font-weight="normal" fill="#838cea" text-anchor="start" font-family="'Liberation Sans', Arial, sans-serif" stroke="#838cea" stroke-width="0.5">35</text>
<line x1="1483" y1="326" x2="1490" y2="326" stroke="#a0a0b0" stroke-width="1.2" />
<text x="1495" y="334" font-size="22.5" font-weight="normal" fill="#838cea" text-anchor="start" font-family="'Liberation Sans', Arial, sans-serif" stroke="#838cea" stroke-width="0.5">40</text>
<line x1="1483" y1="260.5" x2="1490" y2="260.5" stroke="#a0a0b0" stroke-width="1.2" />
<text x="1495" y="268.5" font-size="22.5" font-weight="normal" fill="#838cea" text-anchor="start" font-family="'Liberation Sans', Arial, sans-serif" stroke="#838cea" stroke-width="0.5">45</text>
<line x1="1483" y1="195" x2="1490" y2="195" stroke="#a0a0b0" stroke-width="1.2" />
<text x="1495" y="203" font-size="22.5" font-weight="normal" fill="#838cea" text-anchor="start" font-family="'Liberation Sans', Arial, sans-serif" stroke="#838cea" stroke-width="0.5">50</text>
<line x1="1483" y1="129.5" x2="1490" y2="129.5" stroke="#a0a0b0" stroke-width="1.2" />
<text x="1495" y="137.5" font-size="22.5" font-weight="normal" fill="#838cea" text-anchor="start" font-family="'Liberation Sans', Arial, sans-serif" stroke="#838cea" stroke-width="0.5">55</text>
<line x1="1483" y1="64" x2="1490" y2="64" stroke="#a0a0b0" stroke-width="1.2" />
<text x="1495" y="72" font-size="22.5" font-weight="normal" fill="#838cea" text-anchor="start" font-family="'Liberation Sans', Arial, sans-serif" stroke="#838cea" stroke-width="0.5">60</text>
<line x1="1483" y1="555.2" x2="1487" y2="555.2" stroke="#b0b0c0" stroke-width="1.0" />
<line x1="1483" y1="489.8" x2="1487" y2="489.8" stroke="#b0b0c0" stroke-width="1.0" />
<line x1="1483" y1="424.2" x2="1487" y2="424.2" stroke="#b0b0c0" stroke-width="1.0" />
<line x1="1483" y1="358.8" x2="1487" y2="358.8" stroke="#b0b0c0" stroke-width="1.0" />
<line x1="1483" y1="293.2" x2="1487" y2="293.2" stroke="#b0b0c0" stroke-width="1.0" />
<line x1="1483" y1="227.8" x2="1487" y2="227.8" stroke="#b0b0c0" stroke-width="1.0" />
<line x1="1483" y1="162.2" x2="1487" y2="162.2" stroke="#b0b0c0" stroke-width="1.0" />
<line x1="1483" y1="96.8" x2="1487" y2="96.8" stroke="#b0b0c0" stroke-width="1.0" />
<text x="0" y="0" font-size="23.8" font-weight="normal" fill="#e8737d" text-anchor="middle" font-family="'Liberation Sans', Arial, sans-serif" stroke="#e8737d" stroke-width="0.9" transform="translate(39,305.5) rotate(-90)">Stress (MPa)</text>
<text x="0" y="0" font-size="24.3" font-weight="normal" fill="#858cdf" text-anchor="middle" font-family="'Liberation Sans', Arial, sans-serif" stroke="#858cdf" stroke-width="0.4" transform="translate(1537.5,286.5) rotate(90)">Temperature (°C)</text>
<rect x="98.5" y="645.5" width="419.5" height="509.5" fill="#fcf9ee" />
<rect x="518" y="645.5" width="552" height="509.5" fill="#ececec" />
<rect x="1070" y="645.5" width="413.5" height="509.5" fill="#fcf9ee" />
<polyline points="99.0,1091.9 99.8,1082.4 100.7,1078.8 101.5,1097.4 102.4,1112.9 103.2,1073.2 104.1,1091.6 104.9,1111.4 105.8,1084.8 106.6,1101.9 107.5,1064.4 108.3,1069.2 109.2,1070.8 110.0,1080.8 110.9,1110.0 111.7,1064.4 112.6,1054.0 113.4,1061.5 114.3,1075.9 115.1,1091.1 116.0,1087.3 116.8,1078.0 117.7,1063.4 118.5,1080.5 119.4,1059.1 120.2,1080.6 121.1,1055.3 121.9,1076.6 122.8,1072.0 123.6,1066.5 124.5,1056.8 125.3,1092.0 126.2,1082.4 127.0,1051.7 127.9,1101.7 128.7,1074.5 129.6,1072.6 130.4,1099.9 131.3,1056.5 132.1,1089.4 133.0,1065.4 133.8,1075.1 134.7,1054.4 135.5,1076.3 136.4,1090.3 137.2,1065.1 138.1,1081.5 138.9,1091.8 139.8,1075.8 140.6,1063.9 141.5,1055.0 142.3,1069.4 143.2,1061.4 144.0,1052.2 144.9,1078.9 145.7,1045.5 146.6,1052.4 147.4,1039.6 148.3,1092.6 149.1,1053.2 150.0,1073.3 150.8,1058.8 151.7,1072.7 152.5,1038.5 153.4,1070.8 154.2,1099.3 155.1,1050.7 155.9,1056.9 156.8,1081.3 157.6,1059.0 158.5,1071.5 159.3,1055.5 160.2,1074.3 161.0,1083.2 161.9,1066.7 162.7,1095.3 163.6,1073.3 164.4,1074.2 165.3,1082.9 166.1,1076.0 167.0,1036.5 167.8,1098.5 168.7,1082.7 169.5,1055.8 170.4,1039.3 171.2,1051.9 172.1,1094.6 172.9,1066.1 173.8,1061.9 174.6,1072.3 175.5,1087.6 176.3,1096.2 177.2,1068.1 178.0,1061.5 178.9,1094.3 179.7,1085.8 180.6,1068.3 181.4,1089.4 182.3,1071.0 183.1,1079.8 184.0,1057.6 184.8,1081.6 185.7,1073.6 186.5,1072.5 187.4,1077.7 188.2,1074.0 189.1,1092.9 189.9,1061.7 190.8,1100.5 191.6,1086.0 192.5,1057.8 193.3,1090.2 194.2,1061.9 195.0,1013.3 195.9,1084.9 196.7,1071.7 197.6,1076.4 198.4,1084.5 199.3,1064.4 200.1,1090.4 201.0,994.9 201.8,1066.4 202.7,1072.3 203.5,1066.5 204.4,1076.2 205.2,1065.5 206.1,1077.9 206.9,1082.8 207.8,1056.1 208.6,1088.2 209.5,1080.2 210.3,1084.9 211.2,1063.5 212.0,1067.9 212.9,1060.5 213.7,1071.5 214.6,1085.8 215.4,1063.4 216.3,1077.9 217.1,1063.7 218.0,1050.1 218.8,1086.7 219.7,1061.0 220.5,1065.0 221.4,1060.6 222.2,1063.4 223.1,1056.3 223.9,1067.4 224.8,1065.1 225.6,1081.9 226.5,1077.9 227.3,1068.4 228.2,1056.0 229.0,1039.5 229.9,1039.5 230.7,1045.5 231.6,1074.5 232.4,1053.6 233.3,1074.7 234.1,1077.4 235.0,1032.5 235.8,1055.6 236.7,1052.1 237.5,1052.6 238.4,1060.9 239.2,1033.4 240.1,1056.8 240.9,1056.1 241.8,1047.0 242.6,1044.4 243.5,1022.3 244.3,1039.3 245.2,1034.8 246.0,1066.8 246.9,986.0 247.7,1069.8 248.6,1059.3 249.4,1062.8 250.3,1065.7 251.1,1071.0 252.0,1034.4 252.8,1038.9 253.7,1045.1 254.5,1052.4 255.4,1064.2 256.2,1061.2 257.1,1036.0 257.9,1025.2 258.8,1017.8 259.6,1059.8 260.5,1035.6 261.3,1023.0 262.2,1021.5 263.0,1072.5 263.9,1037.5 264.7,1033.9 265.6,1024.6 266.4,1043.7 267.3,1042.4 268.1,1026.7 269.0,1033.2 269.8,1046.7 270.7,1071.0 271.5,1028.7 272.4,1040.4 273.2,1046.3 274.1,1035.9 274.9,1027.1 275.8,1066.0 276.6,1080.9 277.5,1060.0 278.3,1061.1 279.2,1052.0 280.0,1035.2 280.9,1061.5 281.7,1059.8 282.6,1011.9 283.4,1089.2 284.3,1039.9 285.1,1027.6 286.0,1077.0 286.8,1032.4 287.7,1033.1 288.5,1044.5 289.4,1075.4 290.2,1038.9 291.1,1058.5 291.9,1071.0 292.8,1038.2 293.6,1054.7 294.5,1023.8 295.3,1058.8 296.2,1038.5 297.0,1041.7 297.9,1049.1 298.7,1090.6 299.6,1048.4 300.4,1041.9 301.3,1064.5 302.1,1026.7 303.0,1042.6 303.8,1023.6 304.7,1065.9 305.5,1023.1 306.4,1061.3 307.2,1031.4 308.1,1061.6 308.9,1021.2 309.8,1070.9 310.6,1065.1 311.5,1018.6 312.3,1045.3 313.2,1036.1 314.0,1048.2 314.9,1031.3 315.7,1067.9 316.6,1061.0 317.4,1017.4 318.3,1052.6 319.1,1048.7 320.0,1038.0 320.8,1040.5 321.7,1046.1 322.5,1048.9 323.4,1055.0 324.2,1015.7 325.1,1070.5 325.9,1059.7 326.8,1033.4 327.6,1048.4 328.5,1034.9 329.3,1050.1 330.2,1033.4 331.0,1027.7 331.9,1038.5 332.7,1008.9 333.6,1012.2 334.4,1049.4 335.3,1028.0 336.1,1053.0 337.0,1005.2 337.8,1008.7 338.7,1019.1 339.5,1009.3 340.4,1037.9 341.2,1015.9 342.1,1038.0 342.9,1058.9 343.8,1025.1 344.6,1022.0 345.5,1067.7 346.3,1072.7 347.2,1060.7 348.0,1037.7 348.9,1043.8 349.7,1046.6 350.6,1026.4 351.4,1064.2 352.3,1062.1 353.1,1017.7 354.0,1050.4 354.8,1048.4 355.7,1040.9 356.5,1053.9 357.4,1058.5 358.2,1032.8 359.1,1053.0 359.9,1099.1 360.8,1064.8 361.6,1048.1 362.5,1007.5 363.3,1071.0 364.2,1020.0 365.0,1031.8 365.9,1041.2 366.7,1034.4 367.6,1034.6 368.4,1055.6 369.3,1038.1 370.1,1016.3 371.0,1047.3 371.8,1027.6 372.7,1048.6 373.5,1016.5 374.4,1074.2 375.2,1013.6 376.1,1049.8 376.9,1058.1 377.8,1044.4 378.6,1043.2 379.5,1030.2 380.3,1041.7 381.2,1020.6 382.0,1039.6 382.9,1049.1 383.7,1003.5 384.6,1007.9 385.4,999.6 386.3,1043.2 387.1,1045.7 388.0,1020.7 388.8,1029.1 389.7,1031.9 390.5,1014.0 391.4,1027.2 392.2,1038.9 393.1,1036.2 393.9,1006.3 394.8,1030.5 395.6,1057.3 396.5,1031.3 397.3,1048.1 398.2,1027.9 399.0,1044.7 399.9,1043.9 400.7,1031.1 401.6,1019.2 402.4,1052.7 403.3,1025.0 404.1,1003.9 405.0,1050.8 405.8,1015.1 406.7,1044.1 407.5,1004.8 408.4,1054.5 409.2,1040.2 410.1,1021.2 410.9,1058.1 411.8,1027.5 412.6,1050.1 413.5,1008.2 414.3,1012.2 415.2,1024.6 416.0,1007.4 416.9,1009.3 417.7,1000.2 418.6,1001.4 419.4,1038.2 420.3,1014.4 421.1,1046.7 422.0,996.0 422.8,1012.9 423.7,1020.2 424.5,1014.2 425.4,1022.6 426.2,1045.3 427.1,978.0 427.9,1018.7 428.8,1038.9 429.6,1009.7 430.5,1008.0 431.3,1005.7 432.2,1029.7 433.0,1051.1 433.9,1015.3 434.7,1025.4 435.6,1048.4 436.4,1043.2 437.3,1041.3 438.1,1043.2 439.0,1017.6 439.8,1041.9 440.7,1027.3 441.5,1020.4 442.4,1022.3 443.2,1001.6 444.1,1026.8 444.9,1017.2 445.8,1032.3 446.6,1005.2 447.5,1017.6 448.3,1009.1 449.2,1007.5 450.0,1033.9 450.9,1016.3 451.7,1029.9 452.6,1019.7 453.4,1035.8 454.3,1011.0 455.1,1051.2 456.0,994.5 456.8,1032.8 457.7,1026.9 458.5,1017.0 459.4,1036.4 460.2,1026.2 461.1,1000.1 461.9,1008.0 462.8,1019.6 463.6,1012.7 464.5,1032.2 465.3,1014.4 466.2,1007.4 467.0,995.9 467.9,999.8 468.7,1040.2 469.6,996.6 470.4,1015.6 471.3,1015.3 472.1,1034.7 473.0,1013.4 473.8,1032.6 474.7,1032.1 475.5,1006.9 476.4,1036.7 477.2,997.3 478.1,1088.5 478.9,1031.7 479.8,1032.8 480.6,1008.0 481.5,1014.8 482.3,1034.3 483.2,1051.2 484.0,1017.1 484.9,1025.5 485.7,1004.6 486.6,1031.6 487.4,1048.4 488.3,998.6 489.1,1017.7 490.0,993.3 490.8,999.9 491.7,1010.0 492.5,995.1 493.4,1035.6 494.2,1048.3 495.1,1020.7 495.9,993.8 496.8,994.8 497.6,995.1 498.5,1003.6 499.3,1038.1 500.2,991.3 501.0,1014.9 501.9,1034.2 502.7,1013.3 503.6,1025.8 504.4,1042.5 505.0,1025.1 506.2,980.2 507.4,1008.1 508.6,1002.6 509.8,975.3 511.0,966.7 512.2,978.0 513.4,944.0 514.6,935.0 515.8,933.5 517.0,908.3 518.2,902.2 519.4,872.4 520.6,870.2 521.8,863.8 523.0,844.2 524.2,806.1 525.4,826.8 526.6,810.6 527.8,791.0 529.0,807.2 530.2,764.3 531.4,797.9 532.6,764.5 533.8,782.7 535.0,760.2 536.2,741.6 537.4,752.7 538.6,750.0 539.8,746.3 541.0,746.0 542.2,718.7 543.4,728.5 544.6,725.8 545.8,709.3 547.0,697.6 548.2,693.2 549.4,707.7 550.6,706.8 551.8,690.1 552.0,671.4 552.9,710.4 553.7,669.5 554.6,705.4 555.4,710.9 556.3,691.4 557.1,695.4 558.0,728.1 558.8,676.3 559.7,737.9 560.5,702.4 561.4,721.3 562.2,722.1 563.1,698.8 563.9,716.4 564.8,725.4 565.6,699.5 566.5,703.5 567.3,698.5 568.2,699.8 569.0,691.7 569.9,711.0 570.7,715.7 571.6,692.8 572.4,677.2 573.3,698.0 574.1,674.7 575.0,724.3 575.8,683.8 576.7,730.8 577.5,701.4 578.4,679.4 579.2,678.7 580.1,660.6 580.9,683.1 581.8,696.2 582.6,703.2 583.5,705.5 584.3,663.8 585.2,720.7 586.0,690.1 586.9,682.1 587.7,697.5 588.6,710.5 589.4,663.9 590.3,705.3 591.1,684.3 592.0,689.3 592.8,675.4 593.7,690.0 594.5,684.1 595.4,674.9 596.2,692.1 597.1,711.9 597.9,685.3 598.8,650.0 599.6,709.0 600.5,701.0 601.3,713.4 602.2,674.1 603.0,702.1 603.9,681.3 604.7,696.2 605.6,703.8 606.4,703.8 607.3,700.5 608.1,676.7 609.0,710.4 609.8,695.3 610.7,728.8 611.5,685.7 612.4,701.8 613.2,712.5 614.1,692.0 614.9,721.0 615.8,682.1 616.6,676.6 617.5,717.5 618.3,692.0 619.2,711.0 620.0,709.8 620.9,707.7 621.7,716.6 622.6,732.8 623.4,716.1 624.3,690.9 625.1,686.5 626.0,687.5 626.8,725.2 627.7,693.4 628.5,693.9 629.4,701.1 630.2,697.3 631.1,715.1 631.9,719.0 632.8,700.6 633.6,694.3 634.5,709.6 635.3,699.4 636.2,704.5 637.0,682.9 637.9,679.0 638.7,698.7 639.6,691.7 640.4,685.8 641.3,735.5 642.1,720.1 643.0,702.0 643.8,709.2 644.7,718.0 645.5,707.2 646.4,696.3 647.2,690.5 648.1,714.8 648.9,685.0 649.8,706.7 650.6,707.8 651.5,660.6 652.3,721.4 653.2,693.2 654.0,681.1 654.9,715.2 655.7,711.3 656.6,691.8 657.4,683.3 658.3,696.2 659.1,730.1 660.0,699.2 660.8,679.5 661.7,715.2 662.5,683.2 663.4,710.1 664.2,691.7 665.1,677.6 665.9,714.1 666.8,724.0 667.6,699.6 668.5,696.1 669.3,727.3 670.2,700.0 671.0,681.6 671.9,686.8 672.7,668.1 673.6,678.0 674.4,718.2 675.3,667.3 676.1,712.3 677.0,702.9 677.8,691.4 678.7,671.8 679.5,705.2 680.4,697.8 681.2,678.9 682.1,704.6 682.9,694.7 683.8,712.8 684.6,675.7 685.5,712.7 686.3,686.2 687.2,693.4 688.0,724.9 688.9,683.9 689.7,703.7 690.6,704.1 691.4,707.4 692.3,709.6 693.1,720.8 694.0,703.9 694.8,697.5 695.7,686.4 696.5,686.6 697.4,684.6 698.2,713.1 699.1,729.2 699.9,706.1 700.8,709.4 701.6,712.8 702.5,694.8 703.3,723.8 704.2,703.9 705.0,711.1 705.9,753.5 706.7,728.9 707.6,696.5 708.4,694.8 709.3,688.4 710.1,723.6 711.0,729.0 711.8,722.1 712.7,723.9 713.5,694.8 714.4,713.7 715.2,709.1 716.1,697.8 716.9,677.5 717.8,713.0 718.6,684.2 719.5,681.2 720.3,717.2 721.2,704.5 722.0,694.1 722.9,693.3 723.7,678.0 724.6,699.5 725.4,725.9 726.3,671.9 727.1,702.6 728.0,721.3 728.8,674.7 729.7,702.3 730.5,708.1 731.4,734.1 732.2,699.8 733.1,724.2 733.9,694.2 734.8,707.2 735.6,690.7 736.5,670.0 737.3,703.8 738.2,670.8 739.0,726.5 739.9,692.1 740.7,702.2 741.6,689.7 742.4,704.2 743.3,688.7 744.1,666.9 745.0,699.9 745.8,681.9 746.7,691.5 747.5,710.5 748.4,697.8 749.2,713.3 750.1,721.5 750.9,707.1 751.8,681.6 752.6,678.3 753.5,720.7 754.3,730.1 755.2,717.2 756.0,749.2 756.9,713.5 757.7,710.7 758.6,702.3 759.4,734.6 760.3,705.9 761.1,700.6 762.0,711.4 762.8,708.9 763.7,694.7 764.5,695.3 765.4,682.6 766.2,733.7 767.1,685.0 767.9,720.3 768.8,699.8 769.6,694.5 770.5,692.2 771.3,712.9 772.2,676.4 773.0,693.8 773.9,709.1 774.7,730.1 775.6,673.7 776.4,735.3 777.3,683.2 778.1,682.9 779.0,701.5 779.8,687.7 780.7,699.6 781.5,693.6 782.4,700.3 783.2,746.9 784.1,709.5 784.9,705.3 785.8,699.9 786.6,708.5 787.5,679.9 788.3,721.8 789.2,721.3 790.0,708.3 790.9,685.6 791.7,716.7 792.6,730.6 793.4,731.4 794.3,718.6 795.1,722.5 796.0,702.2 796.8,666.0 797.7,696.1 798.5,707.5 799.4,703.8 800.2,716.4 801.1,692.3 801.9,720.0 802.8,671.0 803.6,685.1 804.5,705.7 805.3,714.5 806.2,688.1 807.0,718.2 807.9,715.3 808.7,681.0 809.6,683.1 810.4,717.3 811.3,714.6 812.1,703.9 813.0,706.9 813.8,710.9 814.7,690.5 815.5,685.4 816.4,708.0 817.2,704.2 818.1,688.2 818.9,702.5 819.8,720.5 820.6,726.2 821.5,713.1 822.3,693.0 823.2,697.0 824.0,709.2 824.9,680.4 825.7,691.5 826.6,699.4 827.4,699.1 828.3,699.4 829.1,709.6 830.0,735.8 830.8,708.1 831.7,696.8 832.5,723.4 833.4,684.2 834.2,728.0 835.1,715.9 835.9,717.2 836.8,699.8 837.6,706.4 838.5,678.7 839.3,687.7 840.2,736.3 841.0,720.8 841.9,693.1 842.7,729.4 843.6,685.6 844.4,713.4 845.3,667.3 846.1,696.4 847.0,692.5 847.8,708.7 848.7,705.7 849.5,701.0 850.4,714.9 851.2,729.1 852.1,725.8 852.9,718.8 853.8,720.8 854.6,704.9 855.5,689.4 856.3,718.1 857.2,695.7 858.0,675.2 858.9,701.8 859.7,703.4 860.6,718.4 861.4,712.9 862.3,734.8 863.1,727.8 864.0,702.1 864.8,684.2 865.7,710.8 866.5,712.4 867.4,706.5 868.2,678.5 869.1,717.4 869.9,705.1 870.8,708.4 871.6,713.7 872.5,727.6 873.3,697.9 874.2,727.5 875.0,683.1 875.9,699.7 876.7,703.9 877.6,695.0 878.4,727.3 879.3,687.7 880.1,702.5 881.0,680.8 881.8,694.7 882.7,730.0 883.5,694.2 884.4,651.9 885.2,697.5 886.1,709.0 886.9,698.9 887.8,710.5 888.6,744.9 889.5,681.7 890.3,710.5 891.2,707.1 892.0,691.6 892.9,735.0 893.7,705.0 894.6,728.5 895.4,691.8 896.3,689.4 897.1,686.6 898.0,690.3 898.8,680.2 899.7,709.0 900.5,719.2 901.4,736.0 902.2,714.7 903.1,700.7 903.9,709.7 904.8,718.7 905.6,717.9 906.5,693.3 907.3,706.8 908.2,711.8 909.0,731.9 909.9,696.0 910.7,701.1 911.6,701.8 912.4,694.0 913.3,710.0 914.1,725.4 915.0,675.0 915.8,738.7 916.7,684.6 917.5,691.1 918.4,689.5 919.2,744.7 920.1,719.3 920.9,742.5 921.8,737.3 922.6,727.9 923.5,706.8 924.3,704.5 925.2,725.6 926.0,745.4 926.9,771.0 927.7,732.2 928.6,690.0 929.4,730.6 930.3,687.5 931.1,720.3 932.0,684.7 932.8,719.5 933.7,731.3 934.5,699.8 935.4,695.0 936.2,712.5 937.1,738.9 937.9,699.5 938.8,698.3 939.6,704.3 940.5,716.9 941.3,717.9 942.2,728.5 943.0,698.1 943.9,709.2 944.7,697.5 945.6,700.7 946.4,721.4 947.3,705.7 948.1,742.0 949.0,700.8 949.8,714.2 950.7,712.2 951.5,701.1 952.4,689.6 953.2,729.3 954.1,716.0 954.9,701.0 955.8,696.3 956.6,710.9 957.5,713.8 958.3,684.2 959.2,689.0 960.0,704.9 960.9,699.5 961.7,684.2 962.6,736.2 963.4,685.1 964.3,687.8 965.1,723.0 966.0,729.7 966.8,720.9 967.7,722.8 968.5,718.9 969.4,701.5 970.2,714.5 971.1,726.5 971.9,722.4 972.8,737.6 973.6,723.0 974.5,704.4 975.3,720.4 976.2,728.6 977.0,704.4 977.9,706.3 978.7,714.2 979.6,726.9 980.4,708.7 981.3,727.0 982.1,711.8 983.0,703.2 983.8,711.9 984.7,716.4 985.5,736.1 986.4,765.1 987.2,693.3 988.1,728.1 988.9,700.6 989.8,724.4 990.6,692.1 991.5,694.5 992.3,721.5 993.2,737.7 994.0,711.6 994.9,686.9 995.7,700.1 996.6,717.9 997.4,724.8 998.3,692.5 999.1,706.0 1000.0,692.6 1000.8,748.4 1001.7,685.5 1002.5,693.5 1003.4,725.8 1004.2,718.0 1005.1,730.2 1005.9,710.9 1006.8,739.6 1007.6,718.2 1008.5,700.1 1009.3,691.2 1010.2,698.2 1011.0,715.8 1011.9,723.0 1012.7,715.7 1013.6,716.1 1014.4,725.9 1015.3,725.5 1016.1,745.1 1017.0,711.3 1017.8,709.8 1018.7,712.4 1019.5,747.5 1020.4,705.0 1021.2,726.8 1022.1,703.3 1022.9,731.3 1023.8,728.4 1024.6,711.8 1025.5,719.6 1026.3,736.1 1027.2,727.7 1028.0,734.5 1028.9,733.0 1029.7,698.2 1030.6,714.0 1031.4,732.8 1032.3,701.7 1033.1,718.3 1034.0,709.1 1034.8,713.8 1035.7,709.1 1036.5,773.4 1037.4,727.8 1038.2,734.0 1039.1,713.3 1039.9,714.7 1040.0,727.7 1041.2,727.3 1042.4,709.4 1043.6,738.4 1044.8,726.8 1046.0,727.2 1047.2,750.7 1048.4,707.7 1049.6,721.6 1050.8,753.4 1052.0,751.6 1053.2,752.5 1054.4,787.2 1055.6,785.5 1056.8,776.7 1058.0,793.4 1059.2,819.6 1060.4,839.7 1061.6,808.9 1062.8,842.9 1064.0,846.0 1065.2,841.1 1066.4,867.4 1067.6,861.4 1068.8,882.2 1070.0,914.7 1071.2,911.0 1072.4,922.1 1073.6,928.4 1074.8,934.0 1076.0,948.9 1077.2,934.1 1078.4,950.3 1079.6,970.8 1080.8,961.4 1082.0,972.1 1083.2,997.3 1084.4,1008.9 1085.6,995.3 1086.8,1002.3 1088.0,1026.6 1089.2,1029.3 1090.4,1025.2 1091.6,1044.8 1092.0,1013.2 1092.8,1059.0 1093.7,1073.4 1094.5,1048.1 1095.4,1033.9 1096.2,1042.5 1097.1,1018.6 1097.9,1054.9 1098.8,1043.2 1099.6,1044.4 1100.5,1052.3 1101.3,1015.7 1102.2,1012.2 1103.0,1016.2 1103.9,1013.5 1104.7,1056.5 1105.6,1050.8 1106.4,1014.9 1107.3,1050.2 1108.1,1038.1 1109.0,1041.9 1109.8,1062.0 1110.7,1062.4 1111.5,1012.5 1112.4,1025.4 1113.2,1066.6 1114.1,1029.6 1114.9,1032.7 1115.8,1006.1 1116.6,1032.8 1117.5,1042.7 1118.3,1050.1 1119.2,1030.8 1120.0,1044.3 1120.9,1046.3 1121.7,1033.7 1122.6,1030.5 1123.4,1070.0 1124.3,1052.8 1125.1,1058.1 1126.0,1040.0 1126.8,1026.3 1127.7,1023.9 1128.5,1051.0 1129.4,1038.0 1130.2,1028.3 1131.1,1035.0 1131.9,1055.0 1132.8,1027.6 1133.6,1000.6 1134.5,998.8 1135.3,1027.9 1136.2,1041.9 1137.0,1044.4 1137.9,1032.9 1138.7,1019.8 1139.6,1051.7 1140.4,1032.5 1141.3,1015.0 1142.1,1023.8 1143.0,1029.3 1143.8,1050.0 1144.7,1014.1 1145.5,1040.6 1146.4,1036.6 1147.2,1016.7 1148.1,1015.4 1148.9,1046.0 1149.8,1050.3 1150.6,1053.7 1151.5,1061.3 1152.3,1027.6 1153.2,1011.8 1154.0,1030.1 1154.9,1027.4 1155.7,1027.1 1156.6,1048.3 1157.4,1037.9 1158.3,1051.2 1159.1,1042.2 1160.0,1061.8 1160.8,1058.4 1161.7,1053.3 1162.5,1019.5 1163.4,1036.0 1164.2,1055.3 1165.1,1039.3 1165.9,1033.6 1166.8,1036.0 1167.6,1021.5 1168.5,1010.5 1169.3,1030.4 1170.2,1004.6 1171.0,1033.9 1171.9,1027.6 1172.7,1056.5 1173.6,1011.6 1174.4,1031.2 1175.3,1014.7 1176.1,1040.6 1177.0,1010.9 1177.8,1048.3 1178.7,1044.1 1179.5,1055.6 1180.4,1019.5 1181.2,1032.3 1182.1,962.1 1182.9,1057.0 1183.8,1055.2 1184.6,1019.4 1185.5,1038.9 1186.3,1036.1 1187.2,1011.3 1188.0,1031.1 1188.9,1025.2 1189.7,1049.1 1190.6,1050.0 1191.4,1077.5 1192.3,1048.8 1193.1,1027.3 1194.0,1018.2 1194.8,1045.9 1195.7,1060.1 1196.5,1005.0 1197.4,1057.0 1198.2,1025.6 1199.1,1048.7 1199.9,1047.6 1200.8,1011.8 1201.6,1028.5 1202.5,1023.4 1203.3,1053.3 1204.2,1041.1 1205.0,1031.4 1205.9,1013.8 1206.7,1033.7 1207.6,1037.1 1208.4,1052.3 1209.3,1043.9 1210.1,1035.9 1211.0,1046.2 1211.8,1029.8 1212.7,1047.9 1213.5,1028.0 1214.4,1059.1 1215.2,1062.1 1216.1,1036.5 1216.9,1019.9 1217.8,1024.4 1218.6,1030.9 1219.5,997.1 1220.3,1024.5 1221.2,1021.6 1222.0,998.8 1222.9,1018.9 1223.7,1043.9 1224.6,1040.3 1225.4,1016.8 1226.3,991.6 1227.1,1019.1 1228.0,1036.0 1228.8,1011.0 1229.7,997.9 1230.5,1029.9 1231.4,1007.5 1232.2,1012.1 1233.1,1020.2 1233.9,995.2 1234.8,1025.5 1235.6,1015.8 1236.5,1048.4 1237.3,1044.8 1238.2,1036.2 1239.0,1036.3 1239.9,1036.8 1240.7,1007.1 1241.6,1046.4 1242.4,1030.5 1243.3,1009.7 1244.1,995.3 1245.0,1029.4 1245.8,997.9 1246.7,1046.1 1247.5,1035.0 1248.4,987.6 1249.2,1017.2 1250.1,993.5 1250.9,1017.4 1251.8,1051.6 1252.6,1002.3 1253.5,1043.6 1254.3,1021.7 1255.2,1016.1 1256.0,1033.0 1256.9,1004.3 1257.7,1025.9 1258.6,1043.4 1259.4,1011.1 1260.3,1016.3 1261.1,993.4 1262.0,1015.1 1262.8,1035.2 1263.7,1032.4 1264.5,994.0 1265.4,1016.9 1266.2,1037.0 1267.1,993.5 1267.9,1005.0 1268.8,1023.5 1269.6,978.1 1270.5,981.1 1271.3,1035.2 1272.2,1018.1 1273.0,1021.0 1273.9,1009.7 1274.7,1030.2 1275.6,989.9 1276.4,1023.4 1277.3,1007.2 1278.1,1023.2 1279.0,1031.3 1279.8,1050.1 1280.7,1005.3 1281.5,1011.8 1282.4,992.5 1283.2,1013.9 1284.1,1014.3 1284.9,1001.8 1285.8,1006.1 1286.6,1023.9 1287.5,1022.5 1288.3,1033.3 1289.2,1001.7 1290.0,1021.6 1290.9,994.3 1291.7,1035.8 1292.6,1029.9 1293.4,1022.2 1294.3,1021.0 1295.1,1028.0 1296.0,1022.8 1296.8,1028.4 1297.7,1038.5 1298.5,986.5 1299.4,1014.0 1300.2,1024.0 1301.1,1005.3 1301.9,1043.0 1302.8,981.4 1303.6,1002.9 1304.5,1017.4 1305.3,1004.1 1306.2,1020.9 1307.0,989.3 1307.9,998.4 1308.7,1016.9 1309.6,1020.4 1310.4,1032.5 1311.3,1020.4 1312.1,1009.5 1313.0,977.6 1313.8,1012.6 1314.7,1023.5 1315.5,1030.1 1316.4,980.5 1317.2,999.1 1318.1,1010.2 1318.9,985.1 1319.8,981.9 1320.6,1013.3 1321.5,1009.9 1322.3,992.1 1323.2,1003.3 1324.0,1001.3 1324.9,986.3 1325.7,1015.9 1326.6,1019.4 1327.4,1014.4 1328.3,1015.4 1329.1,989.6 1330.0,1005.0 1330.8,990.2 1331.7,1024.2 1332.5,1008.1 1333.4,985.6 1334.2,1032.3 1335.1,1034.0 1335.9,986.4 1336.8,994.0 1337.6,1007.8 1338.5,1018.5 1339.3,1030.0 1340.2,997.2 1341.0,1011.7 1341.9,1003.7 1342.7,1030.6 1343.6,1038.0 1344.4,1030.8 1345.3,1034.5 1346.1,1032.1 1347.0,1006.5 1347.8,1004.6 1348.7,1026.4 1349.5,1024.6 1350.4,1006.9 1351.2,1015.5 1352.1,1012.2 1352.9,981.0 1353.8,1014.6 1354.6,1004.5 1355.5,1032.5 1356.3,1003.1 1357.2,999.3 1358.0,1008.2 1358.9,1005.3 1359.7,979.7 1360.6,1022.7 1361.4,989.5 1362.3,1022.4 1363.1,1034.9 1364.0,985.5 1364.8,1026.1 1365.7,990.7 1366.5,997.4 1367.4,1002.6 1368.2,980.6 1369.1,1020.5 1369.9,984.4 1370.8,980.5 1371.6,976.8 1372.5,1006.5 1373.3,985.4 1374.2,1020.2 1375.0,1026.3 1375.9,1002.0 1376.7,1008.1 1377.6,1014.4 1378.4,1001.9 1379.3,1009.1 1380.1,973.6 1381.0,985.1 1381.8,1014.4 1382.7,999.7 1383.5,979.4 1384.4,993.6 1385.2,986.9 1386.1,1001.8 1386.9,1016.7 1387.8,982.9 1388.6,1010.7 1389.5,1033.6 1390.3,1026.1 1391.2,986.5 1392.0,987.3 1392.9,1029.4 1393.7,966.8 1394.6,1010.3 1395.4,997.8 1396.3,998.7 1397.1,1010.1 1398.0,1003.0 1398.8,983.2 1399.7,1015.3 1400.5,987.7 1401.4,1015.2 1402.2,974.4 1403.1,968.3 1403.9,1023.7 1404.8,1011.6 1405.6,1017.1 1406.5,989.5 1407.3,1023.4 1408.2,992.6 1409.0,1005.1 1409.9,1003.9 1410.7,990.5 1411.6,1014.3 1412.4,992.2 1413.3,985.3 1414.1,981.8 1415.0,1002.3 1415.8,1006.0 1416.7,986.1 1417.5,982.6 1418.4,988.5 1419.2,1009.9 1420.1,1014.2 1420.9,1007.6 1421.8,1007.7 1422.6,994.3 1423.5,1000.5 1424.3,1032.0 1425.2,992.2 1426.0,968.5 1426.9,993.4 1427.7,1005.8 1428.6,976.0 1429.4,1011.1 1430.3,980.5 1431.1,993.8 1432.0,1008.5 1432.8,965.9 1433.7,968.7 1434.5,969.7 1435.4,964.2 1436.2,967.6 1437.1,967.0 1437.9,1005.5 1438.8,1007.8 1439.6,958.1 1440.5,968.2 1441.3,992.9 1442.2,1007.4 1443.0,994.0 1443.9,994.8 1444.7,998.0 1445.6,999.5 1446.4,969.1 1447.3,1008.7 1448.1,999.5 1449.0,987.4 1449.8,999.1 1450.7,985.2 1451.5,1024.7 1452.4,991.4 1453.2,972.8 1454.1,986.2 1454.9,1017.9 1455.8,988.9 1456.6,991.2 1457.5,981.8 1458.3,1031.4 1459.2,988.6 1460.0,996.9 1460.9,1002.0 1461.7,996.9 1462.6,1003.8 1463.4,999.8 1464.3,967.2 1465.1,970.2 1466.0,1003.6 1466.8,959.6 1467.7,974.7 1468.5,1001.1 1469.4,1010.8 1470.2,995.7 1471.1,959.3 1471.9,976.4 1472.8,981.7 1473.6,956.0 1474.5,977.1 1475.3,1009.9 1476.2,993.4 1477.0,1007.5 1477.9,993.6 1478.7,959.4 1479.6,991.0 1480.4,999.2 1481.3,982.3 1482.1,985.8" fill="none" stroke="#f86a5c" stroke-width="1.9" stroke-linejoin="round" />
<polyline points="99.0,700.6 495.0,700.6 535.0,1115.6 1051.0,1115.6 1089.0,699.0 1483.0,699.5" fill="none" stroke="#8a8ff0" stroke-width="1.0" stroke-linejoin="round" />
<g opacity="1.0"><polygon points="208.3,925.0 187.1,925.0 196.6,911.0 208.3,899.6" fill="#58abe4" stroke="#58abe4" stroke-width="0.6" stroke-linejoin="round"/><polygon points="208.3,925.0 208.3,899.6 220.0,911.0 229.5,925.0" fill="#4ca1dd" stroke="#4ca1dd" stroke-width="0.6" stroke-linejoin="round"/><polygon points="208.3,925.0 187.1,925.0 196.6,939.0 208.3,950.4" fill="#4499d7" stroke="#4499d7" stroke-width="0.6" stroke-linejoin="round"/><polygon points="208.3,925.0 208.3,950.4 220.0,939.0 229.5,925.0" fill="#3c90cf" stroke="#3c90cf" stroke-width="0.6" stroke-linejoin="round"/><line x1="187.1" y1="925.0" x2="229.5" y2="925.0" stroke="#2a6aa3" stroke-width="0.8" opacity="0.5"/></g>
<g opacity="1.0"><polygon points="252.0,925.0 230.8,925.0 240.3,911.0 252.0,899.6" fill="#58abe4" stroke="#58abe4" stroke-width="0.6" stroke-linejoin="round"/><polygon points="252.0,925.0 252.0,899.6 263.7,911.0 273.2,925.0" fill="#4ca1dd" stroke="#4ca1dd" stroke-width="0.6" stroke-linejoin="round"/><polygon points="252.0,925.0 230.8,925.0 240.3,939.0 252.0,950.4" fill="#4499d7" stroke="#4499d7" stroke-width="0.6" stroke-linejoin="round"/><polygon points="252.0,925.0 252.0,950.4 263.7,939.0 273.2,925.0" fill="#3c90cf" stroke="#3c90cf" stroke-width="0.6" stroke-linejoin="round"/><line x1="230.8" y1="925.0" x2="273.2" y2="925.0" stroke="#2a6aa3" stroke-width="0.8" opacity="0.5"/></g>
<g opacity="1.0"><polygon points="290.5,925.0 272.5,925.0 280.6,939.0 290.5,950.4" fill="#4499d7" stroke="#4499d7" stroke-width="0.6" stroke-linejoin="round"/><polygon points="290.5,925.0 290.5,950.4 300.4,939.0 308.5,925.0" fill="#3c90cf" stroke="#3c90cf" stroke-width="0.6" stroke-linejoin="round"/><line x1="272.5" y1="925.0" x2="308.5" y2="925.0" stroke="#2a6aa3" stroke-width="0.8" opacity="0.5"/></g>
<g opacity="1.0"><polygon points="334.3,925.0 312.0,925.0 322.1,911.0 334.3,899.6" fill="#58abe4" stroke="#58abe4" stroke-width="0.6" stroke-linejoin="round"/><polygon points="334.3,925.0 334.3,899.6 346.5,911.0 356.6,925.0" fill="#4ca1dd" stroke="#4ca1dd" stroke-width="0.6" stroke-linejoin="round"/><polygon points="334.3,925.0 312.0,925.0 322.1,939.0 334.3,950.4" fill="#4499d7" stroke="#4499d7" stroke-width="0.6" stroke-linejoin="round"/><polygon points="334.3,925.0 334.3,950.4 346.5,939.0 356.6,925.0" fill="#3c90cf" stroke="#3c90cf" stroke-width="0.6" stroke-linejoin="round"/><line x1="312.0" y1="925.0" x2="356.6" y2="925.0" stroke="#2a6aa3" stroke-width="0.8" opacity="0.5"/></g>
<g opacity="1.0"><polygon points="251.3,975.5 228.0,975.5 238.5,961.5 251.3,950.1" fill="#58abe4" stroke="#58abe4" stroke-width="0.6" stroke-linejoin="round"/><polygon points="251.3,975.5 251.3,950.1 264.1,961.5 274.6,975.5" fill="#4ca1dd" stroke="#4ca1dd" stroke-width="0.6" stroke-linejoin="round"/><polygon points="251.3,975.5 228.0,975.5 238.5,989.5 251.3,1000.9" fill="#4499d7" stroke="#4499d7" stroke-width="0.6" stroke-linejoin="round"/><polygon points="251.3,975.5 251.3,1000.9 264.1,989.5 274.6,975.5" fill="#3c90cf" stroke="#3c90cf" stroke-width="0.6" stroke-linejoin="round"/><line x1="228.0" y1="975.5" x2="274.6" y2="975.5" stroke="#2a6aa3" stroke-width="0.8" opacity="0.5"/></g>
<g opacity="1.0"><polygon points="294.0,975.5 270.7,975.5 281.2,961.5 294.0,950.1" fill="#58abe4" stroke="#58abe4" stroke-width="0.6" stroke-linejoin="round"/><polygon points="294.0,975.5 294.0,950.1 306.8,961.5 317.3,975.5" fill="#4ca1dd" stroke="#4ca1dd" stroke-width="0.6" stroke-linejoin="round"/><polygon points="294.0,975.5 270.7,975.5 281.2,989.5 294.0,1000.9" fill="#4499d7" stroke="#4499d7" stroke-width="0.6" stroke-linejoin="round"/><polygon points="294.0,975.5 294.0,1000.9 306.8,989.5 317.3,975.5" fill="#3c90cf" stroke="#3c90cf" stroke-width="0.6" stroke-linejoin="round"/><line x1="270.7" y1="975.5" x2="317.3" y2="975.5" stroke="#2a6aa3" stroke-width="0.8" opacity="0.5"/></g>
<g opacity="1.0"><polygon points="338.8,975.5 315.5,975.5 326.0,961.5 338.8,950.1" fill="#58abe4" stroke="#58abe4" stroke-width="0.6" stroke-linejoin="round"/><polygon points="338.8,975.5 338.8,950.1 351.6,961.5 362.1,975.5" fill="#4ca1dd" stroke="#4ca1dd" stroke-width="0.6" stroke-linejoin="round"/><polygon points="338.8,975.5 315.5,975.5 326.0,989.5 338.8,1000.9" fill="#4499d7" stroke="#4499d7" stroke-width="0.6" stroke-linejoin="round"/><polygon points="338.8,975.5 338.8,1000.9 351.6,989.5 362.1,975.5" fill="#3c90cf" stroke="#3c90cf" stroke-width="0.6" stroke-linejoin="round"/><line x1="315.5" y1="975.5" x2="362.1" y2="975.5" stroke="#2a6aa3" stroke-width="0.8" opacity="0.5"/></g>
<g opacity="1.0"><polygon points="201.0,1022.8 175.6,1022.8 187.0,1008.8 201.0,997.4" fill="#58abe4" stroke="#58abe4" stroke-width="0.6" stroke-linejoin="round"/><polygon points="201.0,1022.8 201.0,997.4 215.0,1008.8 226.4,1022.8" fill="#4ca1dd" stroke="#4ca1dd" stroke-width="0.6" stroke-linejoin="round"/><polygon points="201.0,1022.8 175.6,1022.8 187.0,1036.8 201.0,1048.2" fill="#4499d7" stroke="#4499d7" stroke-width="0.6" stroke-linejoin="round"/><polygon points="201.0,1022.8 201.0,1048.2 215.0,1036.8 226.4,1022.8" fill="#3c90cf" stroke="#3c90cf" stroke-width="0.6" stroke-linejoin="round"/><line x1="175.6" y1="1022.8" x2="226.4" y2="1022.8" stroke="#2a6aa3" stroke-width="0.8" opacity="0.5"/></g>
<g opacity="1.0"><polygon points="248.5,1022.8 223.1,1022.8 234.5,1008.8 248.5,997.4" fill="#58abe4" stroke="#58abe4" stroke-width="0.6" stroke-linejoin="round"/><polygon points="248.5,1022.8 248.5,997.4 262.5,1008.8 273.9,1022.8" fill="#4ca1dd" stroke="#4ca1dd" stroke-width="0.6" stroke-linejoin="round"/><polygon points="248.5,1022.8 223.1,1022.8 234.5,1036.8 248.5,1048.2" fill="#4499d7" stroke="#4499d7" stroke-width="0.6" stroke-linejoin="round"/><polygon points="248.5,1022.8 248.5,1048.2 262.5,1036.8 273.9,1022.8" fill="#3c90cf" stroke="#3c90cf" stroke-width="0.6" stroke-linejoin="round"/><line x1="223.1" y1="1022.8" x2="273.9" y2="1022.8" stroke="#2a6aa3" stroke-width="0.8" opacity="0.5"/></g>
<g opacity="1.0"><polygon points="295.8,1022.8 270.4,1022.8 281.8,1008.8 295.8,997.4" fill="#58abe4" stroke="#58abe4" stroke-width="0.6" stroke-linejoin="round"/><polygon points="295.8,1022.8 295.8,997.4 309.8,1008.8 321.2,1022.8" fill="#4ca1dd" stroke="#4ca1dd" stroke-width="0.6" stroke-linejoin="round"/><polygon points="295.8,1022.8 270.4,1022.8 281.8,1036.8 295.8,1048.2" fill="#4499d7" stroke="#4499d7" stroke-width="0.6" stroke-linejoin="round"/><polygon points="295.8,1022.8 295.8,1048.2 309.8,1036.8 321.2,1022.8" fill="#3c90cf" stroke="#3c90cf" stroke-width="0.6" stroke-linejoin="round"/><line x1="270.4" y1="1022.8" x2="321.2" y2="1022.8" stroke="#2a6aa3" stroke-width="0.8" opacity="0.5"/></g>
<g opacity="1.0"><polygon points="343.0,1022.8 317.6,1022.8 329.0,1008.8 343.0,997.4" fill="#58abe4" stroke="#58abe4" stroke-width="0.6" stroke-linejoin="round"/><polygon points="343.0,1022.8 343.0,997.4 357.0,1008.8 368.4,1022.8" fill="#4ca1dd" stroke="#4ca1dd" stroke-width="0.6" stroke-linejoin="round"/><polygon points="343.0,1022.8 317.6,1022.8 329.0,1036.8 343.0,1048.2" fill="#4499d7" stroke="#4499d7" stroke-width="0.6" stroke-linejoin="round"/><polygon points="343.0,1022.8 343.0,1048.2 357.0,1036.8 368.4,1022.8" fill="#3c90cf" stroke="#3c90cf" stroke-width="0.6" stroke-linejoin="round"/><line x1="317.6" y1="1022.8" x2="368.4" y2="1022.8" stroke="#2a6aa3" stroke-width="0.8" opacity="0.5"/></g>
<g opacity="1.0"><polygon points="199.5,1070.0 173.5,1070.0 185.2,1056.0 199.5,1044.6" fill="#58abe4" stroke="#58abe4" stroke-width="0.6" stroke-linejoin="round"/><polygon points="199.5,1070.0 199.5,1044.6 213.8,1056.0 225.5,1070.0" fill="#4ca1dd" stroke="#4ca1dd" stroke-width="0.6" stroke-linejoin="round"/><polygon points="199.5,1070.0 173.5,1070.0 185.2,1084.0 199.5,1095.4" fill="#4499d7" stroke="#4499d7" stroke-width="0.6" stroke-linejoin="round"/><polygon points="199.5,1070.0 199.5,1095.4 213.8,1084.0 225.5,1070.0" fill="#3c90cf" stroke="#3c90cf" stroke-width="0.6" stroke-linejoin="round"/><line x1="173.5" y1="1070.0" x2="225.5" y2="1070.0" stroke="#2a6aa3" stroke-width="0.8" opacity="0.5"/></g>
<g opacity="1.0"><polygon points="248.5,1070.0 222.5,1070.0 234.2,1056.0 248.5,1044.6" fill="#58abe4" stroke="#58abe4" stroke-width="0.6" stroke-linejoin="round"/><polygon points="248.5,1070.0 248.5,1044.6 262.8,1056.0 274.5,1070.0" fill="#4ca1dd" stroke="#4ca1dd" stroke-width="0.6" stroke-linejoin="round"/><polygon points="248.5,1070.0 222.5,1070.0 234.2,1084.0 248.5,1095.4" fill="#4499d7" stroke="#4499d7" stroke-width="0.6" stroke-linejoin="round"/><polygon points="248.5,1070.0 248.5,1095.4 262.8,1084.0 274.5,1070.0" fill="#3c90cf" stroke="#3c90cf" stroke-width="0.6" stroke-linejoin="round"/><line x1="222.5" y1="1070.0" x2="274.5" y2="1070.0" stroke="#2a6aa3" stroke-width="0.8" opacity="0.5"/></g>
<g opacity="1.0"><polygon points="298.2,1070.0 272.2,1070.0 283.9,1056.0 298.2,1044.6" fill="#58abe4" stroke="#58abe4" stroke-width="0.6" stroke-linejoin="round"/><polygon points="298.2,1070.0 298.2,1044.6 312.5,1056.0 324.2,1070.0" fill="#4ca1dd" stroke="#4ca1dd" stroke-width="0.6" stroke-linejoin="round"/><polygon points="298.2,1070.0 272.2,1070.0 283.9,1084.0 298.2,1095.4" fill="#4499d7" stroke="#4499d7" stroke-width="0.6" stroke-linejoin="round"/><polygon points="298.2,1070.0 298.2,1095.4 312.5,1084.0 324.2,1070.0" fill="#3c90cf" stroke="#3c90cf" stroke-width="0.6" stroke-linejoin="round"/><line x1="272.2" y1="1070.0" x2="324.2" y2="1070.0" stroke="#2a6aa3" stroke-width="0.8" opacity="0.5"/></g>
<g opacity="1.0"><polygon points="347.6,1070.0 321.6,1070.0 333.3,1056.0 347.6,1044.6" fill="#58abe4" stroke="#58abe4" stroke-width="0.6" stroke-linejoin="round"/><polygon points="347.6,1070.0 347.6,1044.6 361.9,1056.0 373.6,1070.0" fill="#4ca1dd" stroke="#4ca1dd" stroke-width="0.6" stroke-linejoin="round"/><polygon points="347.6,1070.0 321.6,1070.0 333.3,1084.0 347.6,1095.4" fill="#4499d7" stroke="#4499d7" stroke-width="0.6" stroke-linejoin="round"/><polygon points="347.6,1070.0 347.6,1095.4 361.9,1084.0 373.6,1070.0" fill="#3c90cf" stroke="#3c90cf" stroke-width="0.6" stroke-linejoin="round"/><line x1="321.6" y1="1070.0" x2="373.6" y2="1070.0" stroke="#2a6aa3" stroke-width="0.8" opacity="0.5"/></g>
<circle cx="188.3" cy="925.0" r="2.5" fill="#474f59" opacity="1.0"/>
<circle cx="230.2" cy="925.0" r="2.5" fill="#474f59" opacity="1.0"/>
<circle cx="208.3" cy="901.0" r="2.5" fill="#474f59" opacity="1.0"/>
<circle cx="208.3" cy="949.0" r="2.5" fill="#474f59" opacity="1.0"/>
<circle cx="272.8" cy="925.0" r="2.5" fill="#474f59" opacity="1.0"/>
<circle cx="252.0" cy="901.0" r="2.5" fill="#474f59" opacity="1.0"/>
<circle cx="251.7" cy="950.2" r="2.5" fill="#474f59" opacity="1.0"/>
<circle cx="310.4" cy="925.0" r="2.5" fill="#474f59" opacity="1.0"/>
<circle cx="292.2" cy="950.2" r="2.5" fill="#474f59" opacity="1.0"/>
<circle cx="355.3" cy="925.0" r="2.5" fill="#474f59" opacity="1.0"/>
<circle cx="334.3" cy="901.0" r="2.5" fill="#474f59" opacity="1.0"/>
<circle cx="336.6" cy="950.2" r="2.5" fill="#474f59" opacity="1.0"/>
<circle cx="229.3" cy="975.5" r="2.5" fill="#474f59" opacity="1.0"/>
<circle cx="272.6" cy="975.5" r="2.5" fill="#474f59" opacity="1.0"/>
<circle cx="249.9" cy="999.1" r="2.5" fill="#474f59" opacity="1.0"/>
<circle cx="316.4" cy="975.5" r="2.5" fill="#474f59" opacity="1.0"/>
<circle cx="294.9" cy="999.1" r="2.5" fill="#474f59" opacity="1.0"/>
<circle cx="360.8" cy="975.5" r="2.5" fill="#474f59" opacity="1.0"/>
<circle cx="340.9" cy="999.1" r="2.5" fill="#474f59" opacity="1.0"/>
<circle cx="177.0" cy="1022.8" r="2.5" fill="#474f59" opacity="1.0"/>
<circle cx="224.8" cy="1022.8" r="2.5" fill="#474f59" opacity="1.0"/>
<circle cx="201.0" cy="998.8" r="2.5" fill="#474f59" opacity="1.0"/>
<circle cx="200.2" cy="1046.4" r="2.5" fill="#474f59" opacity="1.0"/>
<circle cx="272.1" cy="1022.8" r="2.5" fill="#474f59" opacity="1.0"/>
<circle cx="248.5" cy="1046.4" r="2.5" fill="#474f59" opacity="1.0"/>
<circle cx="319.4" cy="1022.8" r="2.5" fill="#474f59" opacity="1.0"/>
<circle cx="297.0" cy="1046.4" r="2.5" fill="#474f59" opacity="1.0"/>
<circle cx="367.0" cy="1022.8" r="2.5" fill="#474f59" opacity="1.0"/>
<circle cx="345.3" cy="1046.4" r="2.5" fill="#474f59" opacity="1.0"/>
<circle cx="175.0" cy="1070.0" r="2.5" fill="#474f59" opacity="1.0"/>
<circle cx="224.0" cy="1070.0" r="2.5" fill="#474f59" opacity="1.0"/>
<circle cx="199.5" cy="1094.0" r="2.5" fill="#474f59" opacity="1.0"/>
<circle cx="273.4" cy="1070.0" r="2.5" fill="#474f59" opacity="1.0"/>
<circle cx="248.5" cy="1094.0" r="2.5" fill="#474f59" opacity="1.0"/>
<circle cx="322.9" cy="1070.0" r="2.5" fill="#474f59" opacity="1.0"/>
<circle cx="298.2" cy="1094.0" r="2.5" fill="#474f59" opacity="1.0"/>
<circle cx="372.1" cy="1070.0" r="2.5" fill="#474f59" opacity="1.0"/>
<circle cx="347.6" cy="1094.0" r="2.5" fill="#474f59" opacity="1.0"/>
<circle cx="208.3" cy="925.0" r="2.4" fill="#3e4a58" opacity="0.6"/>
<circle cx="252.0" cy="925.0" r="2.4" fill="#3e4a58" opacity="0.6"/>
<circle cx="290.5" cy="925.0" r="2.4" fill="#3e4a58" opacity="0.6"/>
<circle cx="334.3" cy="925.0" r="2.4" fill="#3e4a58" opacity="0.6"/>
<circle cx="251.3" cy="975.5" r="2.4" fill="#3e4a58" opacity="0.6"/>
<circle cx="294.0" cy="975.5" r="2.4" fill="#3e4a58" opacity="0.6"/>
<circle cx="338.8" cy="975.5" r="2.4" fill="#3e4a58" opacity="0.6"/>
<circle cx="201.0" cy="1022.8" r="2.4" fill="#3e4a58" opacity="0.6"/>
<circle cx="248.5" cy="1022.8" r="2.4" fill="#3e4a58" opacity="0.6"/>
<circle cx="295.8" cy="1022.8" r="2.4" fill="#3e4a58" opacity="0.6"/>
<circle cx="343.0" cy="1022.8" r="2.4" fill="#3e4a58" opacity="0.6"/>
<circle cx="199.5" cy="1070.0" r="2.4" fill="#3e4a58" opacity="0.6"/>
<circle cx="248.5" cy="1070.0" r="2.4" fill="#3e4a58" opacity="0.6"/>
<circle cx="298.2" cy="1070.0" r="2.4" fill="#3e4a58" opacity="0.6"/>
<circle cx="347.6" cy="1070.0" r="2.4" fill="#3e4a58" opacity="0.6"/>
<polygon points="162.8,1092.8 379.8,1092.8 379.8,1110 169.8,1111 162.8,1106" fill="#9a9a9b"/>
<polygon points="162.8,1092.8 379.8,1092.8 379.8,1100.4 162.8,1100.4" fill="#868687"/>
<g filter="url(#soft)">
<g opacity="1.0"><polygon points="206.5,977.0 183.4,977.0 193.8,964.3 206.5,953.9" fill="#58abe4" stroke="#58abe4" stroke-width="0.6" stroke-linejoin="round"/><polygon points="206.5,977.0 206.5,953.9 219.2,964.3 229.6,977.0" fill="#4ca1dd" stroke="#4ca1dd" stroke-width="0.6" stroke-linejoin="round"/><polygon points="206.5,977.0 183.4,977.0 193.8,989.7 206.5,1000.1" fill="#4499d7" stroke="#4499d7" stroke-width="0.6" stroke-linejoin="round"/><polygon points="206.5,977.0 206.5,1000.1 219.2,989.7 229.6,977.0" fill="#3c90cf" stroke="#3c90cf" stroke-width="0.6" stroke-linejoin="round"/><line x1="183.4" y1="977.0" x2="229.6" y2="977.0" stroke="#2a6aa3" stroke-width="0.8" opacity="0.5"/></g>
</g>
<circle cx="206.5" cy="977.0" r="16.5" fill="#4aa0e0" opacity="0.5" filter="url(#soft)"/>
<circle cx="206.5" cy="977.0" r="2.8" fill="#3f4a55" opacity="0.9"/>
<circle cx="206.5" cy="977.0" r="24.5" fill="none" stroke="#e8c65c" stroke-width="1.5"/>
<line x1="165" y1="866" x2="182" y2="975" stroke="#efd24a" stroke-width="1.4" />
<line x1="261" y1="862" x2="229" y2="968" stroke="#efd24a" stroke-width="1.4" />
<clipPath id="cq2"><rect x="161.9" y="753.5" width="111.0" height="111.0"/></clipPath>
<g clip-path="url(#cq2)">
<rect x="161.9" y="753.5" width="111" height="111" fill="#fbfdff" />
<g opacity="1.0"><polygon points="146.2,737.8 128.4,737.8 137.3,728.9 146.2,720.0" fill="#74b2e6" stroke="#74b2e6" stroke-width="0.6" stroke-linejoin="round"/><polygon points="146.2,737.8 146.2,720.0 155.1,728.9 164.0,737.8" fill="#6aaae2" stroke="#6aaae2" stroke-width="0.6" stroke-linejoin="round"/><polygon points="146.2,737.8 128.4,737.8 137.3,746.7 146.2,755.6" fill="#62a3dd" stroke="#62a3dd" stroke-width="0.6" stroke-linejoin="round"/><polygon points="146.2,737.8 146.2,755.6 155.1,746.7 164.0,737.8" fill="#5b9dd8" stroke="#5b9dd8" stroke-width="0.6" stroke-linejoin="round"/><line x1="128.4" y1="737.8" x2="164.0" y2="737.8" stroke="#2a6aa3" stroke-width="0.8" opacity="0.5"/></g>
<g opacity="1.0"><polygon points="181.8,737.8 164.0,737.8 172.9,728.9 181.8,720.0" fill="#74b2e6" stroke="#74b2e6" stroke-width="0.6" stroke-linejoin="round"/><polygon points="181.8,737.8 181.8,720.0 190.7,728.9 199.6,737.8" fill="#6aaae2" stroke="#6aaae2" stroke-width="0.6" stroke-linejoin="round"/><polygon points="181.8,737.8 164.0,737.8 172.9,746.7 181.8,755.6" fill="#62a3dd" stroke="#62a3dd" stroke-width="0.6" stroke-linejoin="round"/><polygon points="181.8,737.8 181.8,755.6 190.7,746.7 199.6,737.8" fill="#5b9dd8" stroke="#5b9dd8" stroke-width="0.6" stroke-linejoin="round"/><line x1="164.0" y1="737.8" x2="199.6" y2="737.8" stroke="#2a6aa3" stroke-width="0.8" opacity="0.5"/></g>
<g opacity="1.0"><polygon points="217.4,737.8 199.6,737.8 208.5,728.9 217.4,720.0" fill="#74b2e6" stroke="#74b2e6" stroke-width="0.6" stroke-linejoin="round"/><polygon points="217.4,737.8 217.4,720.0 226.3,728.9 235.2,737.8" fill="#6aaae2" stroke="#6aaae2" stroke-width="0.6" stroke-linejoin="round"/><polygon points="217.4,737.8 199.6,737.8 208.5,746.7 217.4,755.6" fill="#62a3dd" stroke="#62a3dd" stroke-width="0.6" stroke-linejoin="round"/><polygon points="217.4,737.8 217.4,755.6 226.3,746.7 235.2,737.8" fill="#5b9dd8" stroke="#5b9dd8" stroke-width="0.6" stroke-linejoin="round"/><line x1="199.6" y1="737.8" x2="235.2" y2="737.8" stroke="#2a6aa3" stroke-width="0.8" opacity="0.5"/></g>
<g opacity="1.0"><polygon points="253.0,737.8 235.2,737.8 244.1,728.9 253.0,720.0" fill="#74b2e6" stroke="#74b2e6" stroke-width="0.6" stroke-linejoin="round"/><polygon points="253.0,737.8 253.0,720.0 261.9,728.9 270.8,737.8" fill="#6aaae2" stroke="#6aaae2" stroke-width="0.6" stroke-linejoin="round"/><polygon points="253.0,737.8 235.2,737.8 244.1,746.7 253.0,755.6" fill="#62a3dd" stroke="#62a3dd" stroke-width="0.6" stroke-linejoin="round"/><polygon points="253.0,737.8 253.0,755.6 261.9,746.7 270.8,737.8" fill="#5b9dd8" stroke="#5b9dd8" stroke-width="0.6" stroke-linejoin="round"/><line x1="235.2" y1="737.8" x2="270.8" y2="737.8" stroke="#2a6aa3" stroke-width="0.8" opacity="0.5"/></g>
<g opacity="1.0"><polygon points="288.6,737.8 270.8,737.8 279.7,728.9 288.6,720.0" fill="#74b2e6" stroke="#74b2e6" stroke-width="0.6" stroke-linejoin="round"/><polygon points="288.6,737.8 288.6,720.0 297.5,728.9 306.4,737.8" fill="#6aaae2" stroke="#6aaae2" stroke-width="0.6" stroke-linejoin="round"/><polygon points="288.6,737.8 270.8,737.8 279.7,746.7 288.6,755.6" fill="#62a3dd" stroke="#62a3dd" stroke-width="0.6" stroke-linejoin="round"/><polygon points="288.6,737.8 288.6,755.6 297.5,746.7 306.4,737.8" fill="#5b9dd8" stroke="#5b9dd8" stroke-width="0.6" stroke-linejoin="round"/><line x1="270.8" y1="737.8" x2="306.4" y2="737.8" stroke="#2a6aa3" stroke-width="0.8" opacity="0.5"/></g>
<g opacity="1.0"><polygon points="146.2,773.4 128.4,773.4 137.3,764.5 146.2,755.6" fill="#74b2e6" stroke="#74b2e6" stroke-width="0.6" stroke-linejoin="round"/><polygon points="146.2,773.4 146.2,755.6 155.1,764.5 164.0,773.4" fill="#6aaae2" stroke="#6aaae2" stroke-width="0.6" stroke-linejoin="round"/><polygon points="146.2,773.4 128.4,773.4 137.3,782.3 146.2,791.2" fill="#62a3dd" stroke="#62a3dd" stroke-width="0.6" stroke-linejoin="round"/><polygon points="146.2,773.4 146.2,791.2 155.1,782.3 164.0,773.4" fill="#5b9dd8" stroke="#5b9dd8" stroke-width="0.6" stroke-linejoin="round"/><line x1="128.4" y1="773.4" x2="164.0" y2="773.4" stroke="#2a6aa3" stroke-width="0.8" opacity="0.5"/></g>
<g opacity="1.0"><polygon points="181.8,773.4 164.0,773.4 172.9,764.5 181.8,755.6" fill="#74b2e6" stroke="#74b2e6" stroke-width="0.6" stroke-linejoin="round"/><polygon points="181.8,773.4 181.8,755.6 190.7,764.5 199.6,773.4" fill="#6aaae2" stroke="#6aaae2" stroke-width="0.6" stroke-linejoin="round"/><polygon points="181.8,773.4 164.0,773.4 172.9,782.3 181.8,791.2" fill="#62a3dd" stroke="#62a3dd" stroke-width="0.6" stroke-linejoin="round"/><polygon points="181.8,773.4 181.8,791.2 190.7,782.3 199.6,773.4" fill="#5b9dd8" stroke="#5b9dd8" stroke-width="0.6" stroke-linejoin="round"/><line x1="164.0" y1="773.4" x2="199.6" y2="773.4" stroke="#2a6aa3" stroke-width="0.8" opacity="0.5"/></g>
<g opacity="1.0"><polygon points="217.4,773.4 199.6,773.4 208.5,764.5 217.4,755.6" fill="#74b2e6" stroke="#74b2e6" stroke-width="0.6" stroke-linejoin="round"/><polygon points="217.4,773.4 217.4,755.6 226.3,764.5 235.2,773.4" fill="#6aaae2" stroke="#6aaae2" stroke-width="0.6" stroke-linejoin="round"/><polygon points="217.4,773.4 199.6,773.4 208.5,782.3 217.4,791.2" fill="#62a3dd" stroke="#62a3dd" stroke-width="0.6" stroke-linejoin="round"/><polygon points="217.4,773.4 217.4,791.2 226.3,782.3 235.2,773.4" fill="#5b9dd8" stroke="#5b9dd8" stroke-width="0.6" stroke-linejoin="round"/><line x1="199.6" y1="773.4" x2="235.2" y2="773.4" stroke="#2a6aa3" stroke-width="0.8" opacity="0.5"/></g>
<g opacity="1.0"><polygon points="253.0,773.4 235.2,773.4 244.1,764.5 253.0,755.6" fill="#74b2e6" stroke="#74b2e6" stroke-width="0.6" stroke-linejoin="round"/><polygon points="253.0,773.4 253.0,755.6 261.9,764.5 270.8,773.4" fill="#6aaae2" stroke="#6aaae2" stroke-width="0.6" stroke-linejoin="round"/><polygon points="253.0,773.4 235.2,773.4 244.1,782.3 253.0,791.2" fill="#62a3dd" stroke="#62a3dd" stroke-width="0.6" stroke-linejoin="round"/><polygon points="253.0,773.4 253.0,791.2 261.9,782.3 270.8,773.4" fill="#5b9dd8" stroke="#5b9dd8" stroke-width="0.6" stroke-linejoin="round"/><line x1="235.2" y1="773.4" x2="270.8" y2="773.4" stroke="#2a6aa3" stroke-width="0.8" opacity="0.5"/></g>
<g opacity="1.0"><polygon points="288.6,773.4 270.8,773.4 279.7,764.5 288.6,755.6" fill="#74b2e6" stroke="#74b2e6" stroke-width="0.6" stroke-linejoin="round"/><polygon points="288.6,773.4 288.6,755.6 297.5,764.5 306.4,773.4" fill="#6aaae2" stroke="#6aaae2" stroke-width="0.6" stroke-linejoin="round"/><polygon points="288.6,773.4 270.8,773.4 279.7,782.3 288.6,791.2" fill="#62a3dd" stroke="#62a3dd" stroke-width="0.6" stroke-linejoin="round"/><polygon points="288.6,773.4 288.6,791.2 297.5,782.3 306.4,773.4" fill="#5b9dd8" stroke="#5b9dd8" stroke-width="0.6" stroke-linejoin="round"/><line x1="270.8" y1="773.4" x2="306.4" y2="773.4" stroke="#2a6aa3" stroke-width="0.8" opacity="0.5"/></g>
<g opacity="1.0"><polygon points="146.2,809.0 128.4,809.0 137.3,800.1 146.2,791.2" fill="#74b2e6" stroke="#74b2e6" stroke-width="0.6" stroke-linejoin="round"/><polygon points="146.2,809.0 146.2,791.2 155.1,800.1 164.0,809.0" fill="#6aaae2" stroke="#6aaae2" stroke-width="0.6" stroke-linejoin="round"/><polygon points="146.2,809.0 128.4,809.0 137.3,817.9 146.2,826.8" fill="#62a3dd" stroke="#62a3dd" stroke-width="0.6" stroke-linejoin="round"/><polygon points="146.2,809.0 146.2,826.8 155.1,817.9 164.0,809.0" fill="#5b9dd8" stroke="#5b9dd8" stroke-width="0.6" stroke-linejoin="round"/><line x1="128.4" y1="809.0" x2="164.0" y2="809.0" stroke="#2a6aa3" stroke-width="0.8" opacity="0.5"/></g>
<g opacity="1.0"><polygon points="181.8,809.0 164.0,809.0 172.9,800.1 181.8,791.2" fill="#74b2e6" stroke="#74b2e6" stroke-width="0.6" stroke-linejoin="round"/><polygon points="181.8,809.0 181.8,791.2 190.7,800.1 199.6,809.0" fill="#6aaae2" stroke="#6aaae2" stroke-width="0.6" stroke-linejoin="round"/><polygon points="181.8,809.0 164.0,809.0 172.9,817.9 181.8,826.8" fill="#62a3dd" stroke="#62a3dd" stroke-width="0.6" stroke-linejoin="round"/><polygon points="181.8,809.0 181.8,826.8 190.7,817.9 199.6,809.0" fill="#5b9dd8" stroke="#5b9dd8" stroke-width="0.6" stroke-linejoin="round"/><line x1="164.0" y1="809.0" x2="199.6" y2="809.0" stroke="#2a6aa3" stroke-width="0.8" opacity="0.5"/></g>
<g opacity="1.0"><polygon points="217.4,809.0 199.6,809.0 208.5,800.1 217.4,791.2" fill="#74b2e6" stroke="#74b2e6" stroke-width="0.6" stroke-linejoin="round"/><polygon points="217.4,809.0 217.4,791.2 226.3,800.1 235.2,809.0" fill="#6aaae2" stroke="#6aaae2" stroke-width="0.6" stroke-linejoin="round"/><polygon points="217.4,809.0 199.6,809.0 208.5,817.9 217.4,826.8" fill="#62a3dd" stroke="#62a3dd" stroke-width="0.6" stroke-linejoin="round"/><polygon points="217.4,809.0 217.4,826.8 226.3,817.9 235.2,809.0" fill="#5b9dd8" stroke="#5b9dd8" stroke-width="0.6" stroke-linejoin="round"/><line x1="199.6" y1="809.0" x2="235.2" y2="809.0" stroke="#2a6aa3" stroke-width="0.8" opacity="0.5"/></g>
<g opacity="1.0"><polygon points="253.0,809.0 235.2,809.0 244.1,800.1 253.0,791.2" fill="#74b2e6" stroke="#74b2e6" stroke-width="0.6" stroke-linejoin="round"/><polygon points="253.0,809.0 253.0,791.2 261.9,800.1 270.8,809.0" fill="#6aaae2" stroke="#6aaae2" stroke-width="0.6" stroke-linejoin="round"/><polygon points="253.0,809.0 235.2,809.0 244.1,817.9 253.0,826.8" fill="#62a3dd" stroke="#62a3dd" stroke-width="0.6" stroke-linejoin="round"/><polygon points="253.0,809.0 253.0,826.8 261.9,817.9 270.8,809.0" fill="#5b9dd8" stroke="#5b9dd8" stroke-width="0.6" stroke-linejoin="round"/><line x1="235.2" y1="809.0" x2="270.8" y2="809.0" stroke="#2a6aa3" stroke-width="0.8" opacity="0.5"/></g>
<g opacity="1.0"><polygon points="288.6,809.0 270.8,809.0 279.7,800.1 288.6,791.2" fill="#74b2e6" stroke="#74b2e6" stroke-width="0.6" stroke-linejoin="round"/><polygon points="288.6,809.0 288.6,791.2 297.5,800.1 306.4,809.0" fill="#6aaae2" stroke="#6aaae2" stroke-width="0.6" stroke-linejoin="round"/><polygon points="288.6,809.0 270.8,809.0 279.7,817.9 288.6,826.8" fill="#62a3dd" stroke="#62a3dd" stroke-width="0.6" stroke-linejoin="round"/><polygon points="288.6,809.0 288.6,826.8 297.5,817.9 306.4,809.0" fill="#5b9dd8" stroke="#5b9dd8" stroke-width="0.6" stroke-linejoin="round"/><line x1="270.8" y1="809.0" x2="306.4" y2="809.0" stroke="#2a6aa3" stroke-width="0.8" opacity="0.5"/></g>
<g opacity="1.0"><polygon points="146.2,844.6 128.4,844.6 137.3,835.7 146.2,826.8" fill="#74b2e6" stroke="#74b2e6" stroke-width="0.6" stroke-linejoin="round"/><polygon points="146.2,844.6 146.2,826.8 155.1,835.7 164.0,844.6" fill="#6aaae2" stroke="#6aaae2" stroke-width="0.6" stroke-linejoin="round"/><polygon points="146.2,844.6 128.4,844.6 137.3,853.5 146.2,862.4" fill="#62a3dd" stroke="#62a3dd" stroke-width="0.6" stroke-linejoin="round"/><polygon points="146.2,844.6 146.2,862.4 155.1,853.5 164.0,844.6" fill="#5b9dd8" stroke="#5b9dd8" stroke-width="0.6" stroke-linejoin="round"/><line x1="128.4" y1="844.6" x2="164.0" y2="844.6" stroke="#2a6aa3" stroke-width="0.8" opacity="0.5"/></g>
<g opacity="1.0"><polygon points="181.8,844.6 164.0,844.6 172.9,835.7 181.8,826.8" fill="#74b2e6" stroke="#74b2e6" stroke-width="0.6" stroke-linejoin="round"/><polygon points="181.8,844.6 181.8,826.8 190.7,835.7 199.6,844.6" fill="#6aaae2" stroke="#6aaae2" stroke-width="0.6" stroke-linejoin="round"/><polygon points="181.8,844.6 164.0,844.6 172.9,853.5 181.8,862.4" fill="#62a3dd" stroke="#62a3dd" stroke-width="0.6" stroke-linejoin="round"/><polygon points="181.8,844.6 181.8,862.4 190.7,853.5 199.6,844.6" fill="#5b9dd8" stroke="#5b9dd8" stroke-width="0.6" stroke-linejoin="round"/><line x1="164.0" y1="844.6" x2="199.6" y2="844.6" stroke="#2a6aa3" stroke-width="0.8" opacity="0.5"/></g>
<g opacity="1.0"><polygon points="217.4,844.6 199.6,844.6 208.5,835.7 217.4,826.8" fill="#74b2e6" stroke="#74b2e6" stroke-width="0.6" stroke-linejoin="round"/><polygon points="217.4,844.6 217.4,826.8 226.3,835.7 235.2,844.6" fill="#6aaae2" stroke="#6aaae2" stroke-width="0.6" stroke-linejoin="round"/><polygon points="217.4,844.6 199.6,844.6 208.5,853.5 217.4,862.4" fill="#62a3dd" stroke="#62a3dd" stroke-width="0.6" stroke-linejoin="round"/><polygon points="217.4,844.6 217.4,862.4 226.3,853.5 235.2,844.6" fill="#5b9dd8" stroke="#5b9dd8" stroke-width="0.6" stroke-linejoin="round"/><line x1="199.6" y1="844.6" x2="235.2" y2="844.6" stroke="#2a6aa3" stroke-width="0.8" opacity="0.5"/></g>
<g opacity="1.0"><polygon points="253.0,844.6 235.2,844.6 244.1,835.7 253.0,826.8" fill="#74b2e6" stroke="#74b2e6" stroke-width="0.6" stroke-linejoin="round"/><polygon points="253.0,844.6 253.0,826.8 261.9,835.7 270.8,844.6" fill="#6aaae2" stroke="#6aaae2" stroke-width="0.6" stroke-linejoin="round"/><polygon points="253.0,844.6 235.2,844.6 244.1,853.5 253.0,862.4" fill="#62a3dd" stroke="#62a3dd" stroke-width="0.6" stroke-linejoin="round"/><polygon points="253.0,844.6 253.0,862.4 261.9,853.5 270.8,844.6" fill="#5b9dd8" stroke="#5b9dd8" stroke-width="0.6" stroke-linejoin="round"/><line x1="235.2" y1="844.6" x2="270.8" y2="844.6" stroke="#2a6aa3" stroke-width="0.8" opacity="0.5"/></g>
<g opacity="1.0"><polygon points="288.6,844.6 270.8,844.6 279.7,835.7 288.6,826.8" fill="#74b2e6" stroke="#74b2e6" stroke-width="0.6" stroke-linejoin="round"/><polygon points="288.6,844.6 288.6,826.8 297.5,835.7 306.4,844.6" fill="#6aaae2" stroke="#6aaae2" stroke-width="0.6" stroke-linejoin="round"/><polygon points="288.6,844.6 270.8,844.6 279.7,853.5 288.6,862.4" fill="#62a3dd" stroke="#62a3dd" stroke-width="0.6" stroke-linejoin="round"/><polygon points="288.6,844.6 288.6,862.4 297.5,853.5 306.4,844.6" fill="#5b9dd8" stroke="#5b9dd8" stroke-width="0.6" stroke-linejoin="round"/><line x1="270.8" y1="844.6" x2="306.4" y2="844.6" stroke="#2a6aa3" stroke-width="0.8" opacity="0.5"/></g>
<g opacity="1.0"><polygon points="146.2,880.2 128.4,880.2 137.3,871.3 146.2,862.4" fill="#74b2e6" stroke="#74b2e6" stroke-width="0.6" stroke-linejoin="round"/><polygon points="146.2,880.2 146.2,862.4 155.1,871.3 164.0,880.2" fill="#6aaae2" stroke="#6aaae2" stroke-width="0.6" stroke-linejoin="round"/><polygon points="146.2,880.2 128.4,880.2 137.3,889.1 146.2,898.0" fill="#62a3dd" stroke="#62a3dd" stroke-width="0.6" stroke-linejoin="round"/><polygon points="146.2,880.2 146.2,898.0 155.1,889.1 164.0,880.2" fill="#5b9dd8" stroke="#5b9dd8" stroke-width="0.6" stroke-linejoin="round"/><line x1="128.4" y1="880.2" x2="164.0" y2="880.2" stroke="#2a6aa3" stroke-width="0.8" opacity="0.5"/></g>
<g opacity="1.0"><polygon points="181.8,880.2 164.0,880.2 172.9,871.3 181.8,862.4" fill="#74b2e6" stroke="#74b2e6" stroke-width="0.6" stroke-linejoin="round"/><polygon points="181.8,880.2 181.8,862.4 190.7,871.3 199.6,880.2" fill="#6aaae2" stroke="#6aaae2" stroke-width="0.6" stroke-linejoin="round"/><polygon points="181.8,880.2 164.0,880.2 172.9,889.1 181.8,898.0" fill="#62a3dd" stroke="#62a3dd" stroke-width="0.6" stroke-linejoin="round"/><polygon points="181.8,880.2 181.8,898.0 190.7,889.1 199.6,880.2" fill="#5b9dd8" stroke="#5b9dd8" stroke-width="0.6" stroke-linejoin="round"/><line x1="164.0" y1="880.2" x2="199.6" y2="880.2" stroke="#2a6aa3" stroke-width="0.8" opacity="0.5"/></g>
<g opacity="1.0"><polygon points="217.4,880.2 199.6,880.2 208.5,871.3 217.4,862.4" fill="#74b2e6" stroke="#74b2e6" stroke-width="0.6" stroke-linejoin="round"/><polygon points="217.4,880.2 217.4,862.4 226.3,871.3 235.2,880.2" fill="#6aaae2" stroke="#6aaae2" stroke-width="0.6" stroke-linejoin="round"/><polygon points="217.4,880.2 199.6,880.2 208.5,889.1 217.4,898.0" fill="#62a3dd" stroke="#62a3dd" stroke-width="0.6" stroke-linejoin="round"/><polygon points="217.4,880.2 217.4,898.0 226.3,889.1 235.2,880.2" fill="#5b9dd8" stroke="#5b9dd8" stroke-width="0.6" stroke-linejoin="round"/><line x1="199.6" y1="880.2" x2="235.2" y2="880.2" stroke="#2a6aa3" stroke-width="0.8" opacity="0.5"/></g>
<g opacity="1.0"><polygon points="253.0,880.2 235.2,880.2 244.1,871.3 253.0,862.4" fill="#74b2e6" stroke="#74b2e6" stroke-width="0.6" stroke-linejoin="round"/><polygon points="253.0,880.2 253.0,862.4 261.9,871.3 270.8,880.2" fill="#6aaae2" stroke="#6aaae2" stroke-width="0.6" stroke-linejoin="round"/><polygon points="253.0,880.2 235.2,880.2 244.1,889.1 253.0,898.0" fill="#62a3dd" stroke="#62a3dd" stroke-width="0.6" stroke-linejoin="round"/><polygon points="253.0,880.2 253.0,898.0 261.9,889.1 270.8,880.2" fill="#5b9dd8" stroke="#5b9dd8" stroke-width="0.6" stroke-linejoin="round"/><line x1="235.2" y1="880.2" x2="270.8" y2="880.2" stroke="#2a6aa3" stroke-width="0.8" opacity="0.5"/></g>
<g opacity="1.0"><polygon points="288.6,880.2 270.8,880.2 279.7,871.3 288.6,862.4" fill="#74b2e6" stroke="#74b2e6" stroke-width="0.6" stroke-linejoin="round"/><polygon points="288.6,880.2 288.6,862.4 297.5,871.3 306.4,880.2" fill="#6aaae2" stroke="#6aaae2" stroke-width="0.6" stroke-linejoin="round"/><polygon points="288.6,880.2 270.8,880.2 279.7,889.1 288.6,898.0" fill="#62a3dd" stroke="#62a3dd" stroke-width="0.6" stroke-linejoin="round"/><polygon points="288.6,880.2 288.6,898.0 297.5,889.1 306.4,880.2" fill="#5b9dd8" stroke="#5b9dd8" stroke-width="0.6" stroke-linejoin="round"/><line x1="270.8" y1="880.2" x2="306.4" y2="880.2" stroke="#2a6aa3" stroke-width="0.8" opacity="0.5"/></g>
<line x1="161.9" y1="737.8" x2="272.9" y2="737.8" stroke="#2f6ea6" stroke-width="0.8" opacity="0.5"/>
<line x1="161.9" y1="773.4" x2="272.9" y2="773.4" stroke="#2f6ea6" stroke-width="0.8" opacity="0.5"/>
<line x1="161.9" y1="809" x2="272.9" y2="809" stroke="#2f6ea6" stroke-width="0.8" opacity="0.5"/>
<line x1="161.9" y1="844.6" x2="272.9" y2="844.6" stroke="#2f6ea6" stroke-width="0.8" opacity="0.5"/>
<line x1="161.9" y1="880.2" x2="272.9" y2="880.2" stroke="#2f6ea6" stroke-width="0.8" opacity="0.5"/>
<circle cx="146.2" cy="737.8" r="2.4" fill="#3a5566" opacity="1.0"/>
<circle cx="164.0" cy="737.8" r="2.2" fill="#3a5566" opacity="1.0"/>
<circle cx="146.2" cy="755.6" r="2.2" fill="#3a5566" opacity="1.0"/>
<circle cx="181.8" cy="737.8" r="2.4" fill="#3a5566" opacity="1.0"/>
<circle cx="199.6" cy="737.8" r="2.2" fill="#3a5566" opacity="1.0"/>
<circle cx="181.8" cy="755.6" r="2.2" fill="#3a5566" opacity="1.0"/>
<circle cx="217.4" cy="737.8" r="2.4" fill="#3a5566" opacity="1.0"/>
<circle cx="235.2" cy="737.8" r="2.2" fill="#3a5566" opacity="1.0"/>
<circle cx="217.4" cy="755.6" r="2.2" fill="#3a5566" opacity="1.0"/>
<circle cx="253.0" cy="737.8" r="2.4" fill="#3a5566" opacity="1.0"/>
<circle cx="270.8" cy="737.8" r="2.2" fill="#3a5566" opacity="1.0"/>
<circle cx="253.0" cy="755.6" r="2.2" fill="#3a5566" opacity="1.0"/>
<circle cx="288.6" cy="737.8" r="2.4" fill="#3a5566" opacity="1.0"/>
<circle cx="306.4" cy="737.8" r="2.2" fill="#3a5566" opacity="1.0"/>
<circle cx="288.6" cy="755.6" r="2.2" fill="#3a5566" opacity="1.0"/>
<circle cx="146.2" cy="773.4" r="2.4" fill="#3a5566" opacity="1.0"/>
<circle cx="164.0" cy="773.4" r="2.2" fill="#3a5566" opacity="1.0"/>
<circle cx="146.2" cy="791.2" r="2.2" fill="#3a5566" opacity="1.0"/>
<circle cx="181.8" cy="773.4" r="2.4" fill="#3a5566" opacity="1.0"/>
<circle cx="199.6" cy="773.4" r="2.2" fill="#3a5566" opacity="1.0"/>
<circle cx="181.8" cy="791.2" r="2.2" fill="#3a5566" opacity="1.0"/>
<circle cx="217.4" cy="773.4" r="2.4" fill="#3a5566" opacity="1.0"/>
<circle cx="235.2" cy="773.4" r="2.2" fill="#3a5566" opacity="1.0"/>
<circle cx="217.4" cy="791.2" r="2.2" fill="#3a5566" opacity="1.0"/>
<circle cx="253.0" cy="773.4" r="2.4" fill="#3a5566" opacity="1.0"/>
<circle cx="270.8" cy="773.4" r="2.2" fill="#3a5566" opacity="1.0"/>
<circle cx="253.0" cy="791.2" r="2.2" fill="#3a5566" opacity="1.0"/>
<circle cx="288.6" cy="773.4" r="2.4" fill="#3a5566" opacity="1.0"/>
<circle cx="306.4" cy="773.4" r="2.2" fill="#3a5566" opacity="1.0"/>
<circle cx="288.6" cy="791.2" r="2.2" fill="#3a5566" opacity="1.0"/>
<circle cx="146.2" cy="809.0" r="2.4" fill="#3a5566" opacity="1.0"/>
<circle cx="164.0" cy="809.0" r="2.2" fill="#3a5566" opacity="1.0"/>
<circle cx="146.2" cy="826.8" r="2.2" fill="#3a5566" opacity="1.0"/>
<circle cx="181.8" cy="809.0" r="2.4" fill="#3a5566" opacity="1.0"/>
<circle cx="199.6" cy="809.0" r="2.2" fill="#3a5566" opacity="1.0"/>
<circle cx="181.8" cy="826.8" r="2.2" fill="#3a5566" opacity="1.0"/>
<circle cx="217.4" cy="809.0" r="2.4" fill="#3a5566" opacity="1.0"/>
<circle cx="235.2" cy="809.0" r="2.2" fill="#3a5566" opacity="1.0"/>
<circle cx="217.4" cy="826.8" r="2.2" fill="#3a5566" opacity="1.0"/>
<circle cx="253.0" cy="809.0" r="2.4" fill="#3a5566" opacity="1.0"/>
<circle cx="270.8" cy="809.0" r="2.2" fill="#3a5566" opacity="1.0"/>
<circle cx="253.0" cy="826.8" r="2.2" fill="#3a5566" opacity="1.0"/>
<circle cx="288.6" cy="809.0" r="2.4" fill="#3a5566" opacity="1.0"/>
<circle cx="306.4" cy="809.0" r="2.2" fill="#3a5566" opacity="1.0"/>
<circle cx="288.6" cy="826.8" r="2.2" fill="#3a5566" opacity="1.0"/>
<circle cx="146.2" cy="844.6" r="2.4" fill="#3a5566" opacity="1.0"/>
<circle cx="164.0" cy="844.6" r="2.2" fill="#3a5566" opacity="1.0"/>
<circle cx="146.2" cy="862.4" r="2.2" fill="#3a5566" opacity="1.0"/>
<circle cx="181.8" cy="844.6" r="2.4" fill="#3a5566" opacity="1.0"/>
<circle cx="199.6" cy="844.6" r="2.2" fill="#3a5566" opacity="1.0"/>
<circle cx="181.8" cy="862.4" r="2.2" fill="#3a5566" opacity="1.0"/>
<circle cx="217.4" cy="844.6" r="2.4" fill="#3a5566" opacity="1.0"/>
<circle cx="235.2" cy="844.6" r="2.2" fill="#3a5566" opacity="1.0"/>
<circle cx="217.4" cy="862.4" r="2.2" fill="#3a5566" opacity="1.0"/>
<circle cx="253.0" cy="844.6" r="2.4" fill="#3a5566" opacity="1.0"/>
<circle cx="270.8" cy="844.6" r="2.2" fill="#3a5566" opacity="1.0"/>
<circle cx="253.0" cy="862.4" r="2.2" fill="#3a5566" opacity="1.0"/>
<circle cx="288.6" cy="844.6" r="2.4" fill="#3a5566" opacity="1.0"/>
<circle cx="306.4" cy="844.6" r="2.2" fill="#3a5566" opacity="1.0"/>
<circle cx="288.6" cy="862.4" r="2.2" fill="#3a5566" opacity="1.0"/>
<circle cx="146.2" cy="880.2" r="2.4" fill="#3a5566" opacity="1.0"/>
<circle cx="164.0" cy="880.2" r="2.2" fill="#3a5566" opacity="1.0"/>
<circle cx="146.2" cy="898.0" r="2.2" fill="#3a5566" opacity="1.0"/>
<circle cx="181.8" cy="880.2" r="2.4" fill="#3a5566" opacity="1.0"/>
<circle cx="199.6" cy="880.2" r="2.2" fill="#3a5566" opacity="1.0"/>
<circle cx="181.8" cy="898.0" r="2.2" fill="#3a5566" opacity="1.0"/>
<circle cx="217.4" cy="880.2" r="2.4" fill="#3a5566" opacity="1.0"/>
<circle cx="235.2" cy="880.2" r="2.2" fill="#3a5566" opacity="1.0"/>
<circle cx="217.4" cy="898.0" r="2.2" fill="#3a5566" opacity="1.0"/>
<circle cx="253.0" cy="880.2" r="2.4" fill="#3a5566" opacity="1.0"/>
<circle cx="270.8" cy="880.2" r="2.2" fill="#3a5566" opacity="1.0"/>
<circle cx="253.0" cy="898.0" r="2.2" fill="#3a5566" opacity="1.0"/>
<circle cx="288.6" cy="880.2" r="2.4" fill="#3a5566" opacity="1.0"/>
<circle cx="306.4" cy="880.2" r="2.2" fill="#3a5566" opacity="1.0"/>
<circle cx="288.6" cy="898.0" r="2.2" fill="#3a5566" opacity="1.0"/>
<circle cx="164.0" cy="755.6" r="4.6" fill="#d4512c"/>
<circle cx="199.6" cy="755.6" r="4.6" fill="#d4512c"/>
<circle cx="235.2" cy="755.6" r="4.6" fill="#d4512c"/>
<circle cx="270.8" cy="755.6" r="4.6" fill="#d4512c"/>
<circle cx="164.0" cy="791.2" r="4.6" fill="#d4512c"/>
<circle cx="199.6" cy="791.2" r="4.6" fill="#d4512c"/>
<circle cx="235.2" cy="791.2" r="4.6" fill="#d4512c"/>
<circle cx="270.8" cy="791.2" r="4.6" fill="#d4512c"/>
<circle cx="164.0" cy="826.8" r="4.6" fill="#d4512c"/>
<circle cx="199.6" cy="826.8" r="4.6" fill="#d4512c"/>
<circle cx="235.2" cy="826.8" r="4.6" fill="#d4512c"/>
<circle cx="270.8" cy="826.8" r="4.6" fill="#d4512c"/>
<circle cx="164.0" cy="862.4" r="4.6" fill="#d4512c"/>
<circle cx="199.6" cy="862.4" r="4.6" fill="#d4512c"/>
<circle cx="235.2" cy="862.4" r="4.6" fill="#d4512c"/>
<circle cx="270.8" cy="862.4" r="4.6" fill="#d4512c"/>
</g>
<circle cx="217.4" cy="809.0" r="57.0" fill="none" stroke="#e8c65c" stroke-width="1.8"/>
<g opacity="1.0"><line x1="196.0" y1="886.3" x2="186.6" y2="896.7" stroke="#6a6a6a" stroke-width="1.3" stroke-linecap="round"/><line x1="196.0" y1="886.3" x2="184.7" y2="894.5" stroke="#6a6a6a" stroke-width="1.3" stroke-linecap="round"/><line x1="196.0" y1="886.3" x2="183.2" y2="892.0" stroke="#6a6a6a" stroke-width="1.3" stroke-linecap="round"/><line x1="196.0" y1="886.3" x2="182.3" y2="889.2" stroke="#6a6a6a" stroke-width="1.3" stroke-linecap="round"/><circle cx="196.0" cy="886.3" r="3.8" fill="#5a5a5c"/></g>
<g opacity="1.0"><line x1="229.3" y1="888.0" x2="216.3" y2="888.5" stroke="#6a6a6a" stroke-width="1.3" stroke-linecap="round"/><line x1="229.3" y1="888.0" x2="216.6" y2="885.3" stroke="#6a6a6a" stroke-width="1.3" stroke-linecap="round"/><circle cx="229.3" cy="888.0" r="3.8" fill="#5a5a5c"/></g>
<g opacity="1.0"><line x1="267.8" y1="882.8" x2="254.8" y2="883.3" stroke="#6a6a6a" stroke-width="1.3" stroke-linecap="round"/><line x1="267.8" y1="882.8" x2="255.1" y2="880.1" stroke="#6a6a6a" stroke-width="1.3" stroke-linecap="round"/><circle cx="267.8" cy="882.8" r="3.8" fill="#5a5a5c"/></g>
<g opacity="0.5"><line x1="178.5" y1="904.8" x2="165.5" y2="905.3" stroke="#6a6a6a" stroke-width="1.3" stroke-linecap="round"/><line x1="178.5" y1="904.8" x2="165.8" y2="902.1" stroke="#6a6a6a" stroke-width="1.3" stroke-linecap="round"/><circle cx="178.5" cy="904.8" r="3.8" fill="#5a5a5c"/></g>
<g opacity="0.5"><line x1="253.8" y1="900.0" x2="240.8" y2="900.5" stroke="#6a6a6a" stroke-width="1.3" stroke-linecap="round"/><line x1="253.8" y1="900.0" x2="241.1" y2="897.3" stroke="#6a6a6a" stroke-width="1.3" stroke-linecap="round"/><circle cx="253.8" cy="900.0" r="3.8" fill="#5a5a5c"/></g>
<g opacity="1.0"><line x1="280.0" y1="900.0" x2="269.0" y2="908.6" stroke="#6a6a6a" stroke-width="1.3" stroke-linecap="round"/><line x1="280.0" y1="900.0" x2="267.4" y2="906.1" stroke="#6a6a6a" stroke-width="1.3" stroke-linecap="round"/><line x1="280.0" y1="900.0" x2="266.4" y2="903.4" stroke="#6a6a6a" stroke-width="1.3" stroke-linecap="round"/><line x1="280.0" y1="900.0" x2="266.0" y2="900.5" stroke="#6a6a6a" stroke-width="1.3" stroke-linecap="round"/><circle cx="280.0" cy="900.0" r="3.8" fill="#5a5a5c"/></g>
<g opacity="1.0"><line x1="308.0" y1="900.0" x2="295.0" y2="900.5" stroke="#6a6a6a" stroke-width="1.3" stroke-linecap="round"/><line x1="308.0" y1="900.0" x2="295.3" y2="897.3" stroke="#6a6a6a" stroke-width="1.3" stroke-linecap="round"/><circle cx="308.0" cy="900.0" r="3.8" fill="#5a5a5c"/></g>
<g opacity="1.0"><line x1="329.0" y1="889.8" x2="317.3" y2="897.4" stroke="#6a6a6a" stroke-width="1.3" stroke-linecap="round"/><line x1="329.0" y1="889.8" x2="315.9" y2="894.8" stroke="#6a6a6a" stroke-width="1.3" stroke-linecap="round"/><line x1="329.0" y1="889.8" x2="315.2" y2="892.0" stroke="#6a6a6a" stroke-width="1.3" stroke-linecap="round"/><line x1="329.0" y1="889.8" x2="315.0" y2="889.1" stroke="#6a6a6a" stroke-width="1.3" stroke-linecap="round"/><circle cx="329.0" cy="889.8" r="3.8" fill="#5a5a5c"/></g>
<g opacity="1.0"><line x1="364.0" y1="888.0" x2="351.0" y2="888.5" stroke="#6a6a6a" stroke-width="1.3" stroke-linecap="round"/><line x1="364.0" y1="888.0" x2="351.3" y2="885.3" stroke="#6a6a6a" stroke-width="1.3" stroke-linecap="round"/><circle cx="364.0" cy="888.0" r="3.8" fill="#5a5a5c"/></g>
<g opacity="1.0"><line x1="365.8" y1="905.5" x2="353.9" y2="910.8" stroke="#6a6a6a" stroke-width="1.3" stroke-linecap="round"/><line x1="365.8" y1="905.5" x2="353.0" y2="907.8" stroke="#6a6a6a" stroke-width="1.3" stroke-linecap="round"/><line x1="365.8" y1="905.5" x2="352.8" y2="904.6" stroke="#6a6a6a" stroke-width="1.3" stroke-linecap="round"/><circle cx="365.8" cy="905.5" r="3.8" fill="#5a5a5c"/></g>
<circle cx="373.8" cy="903.8" r="7.3" fill="#fff3a0" opacity="0.55"/><circle cx="373.8" cy="903.8" r="4.3" fill="#f7c400"/>
<circle cx="208.3" cy="901" r="3" fill="#ffffff" stroke="#8a8a8a" stroke-width="1"/>
<circle cx="335.3" cy="928" r="3" fill="#ffffff" stroke="#8a8a8a" stroke-width="1"/>
<g opacity="1.0"><polygon points="724.0,924.0 703.9,924.0 712.9,938.3 724.0,950.0" fill="#4499d7" stroke="#4499d7" stroke-width="0.6" stroke-linejoin="round"/><polygon points="724.0,924.0 724.0,950.0 735.1,938.3 744.1,924.0" fill="#3c90cf" stroke="#3c90cf" stroke-width="0.6" stroke-linejoin="round"/><polygon points="724.0,924.0 703.9,924.0 712.9,909.7 724.0,898.0" fill="#d6dbe3" stroke="#d6dbe3" stroke-width="0.6" stroke-linejoin="round"/><polygon points="724.0,924.0 724.0,898.0 735.1,909.7 744.1,924.0" fill="#c4cad4" stroke="#c4cad4" stroke-width="0.6" stroke-linejoin="round"/><line x1="703.9" y1="924.0" x2="744.1" y2="924.0" stroke="#2a6aa3" stroke-width="0.8" opacity="0.5"/></g>
<g opacity="1.0"><polygon points="764.0,924.0 742.8,924.0 752.3,909.7 764.0,898.0" fill="#58abe4" stroke="#58abe4" stroke-width="0.6" stroke-linejoin="round"/><polygon points="764.0,924.0 764.0,898.0 775.7,909.7 785.2,924.0" fill="#4ca1dd" stroke="#4ca1dd" stroke-width="0.6" stroke-linejoin="round"/><polygon points="764.0,924.0 742.8,924.0 752.3,938.3 764.0,950.0" fill="#4499d7" stroke="#4499d7" stroke-width="0.6" stroke-linejoin="round"/><polygon points="764.0,924.0 764.0,950.0 775.7,938.3 785.2,924.0" fill="#3c90cf" stroke="#3c90cf" stroke-width="0.6" stroke-linejoin="round"/><line x1="742.8" y1="924.0" x2="785.2" y2="924.0" stroke="#2a6aa3" stroke-width="0.8" opacity="0.5"/></g>
<g opacity="1.0"><polygon points="802.0,924.0 784.0,924.0 792.1,938.3 802.0,950.0" fill="#4499d7" stroke="#4499d7" stroke-width="0.6" stroke-linejoin="round"/><polygon points="802.0,924.0 802.0,950.0 811.9,938.3 820.0,924.0" fill="#3c90cf" stroke="#3c90cf" stroke-width="0.6" stroke-linejoin="round"/><line x1="784.0" y1="924.0" x2="820.0" y2="924.0" stroke="#2a6aa3" stroke-width="0.8" opacity="0.5"/></g>
<g opacity="1.0"><polygon points="841.0,924.0 818.7,924.0 828.8,909.7 841.0,898.0" fill="#58abe4" stroke="#58abe4" stroke-width="0.6" stroke-linejoin="round"/><polygon points="841.0,924.0 841.0,898.0 853.2,909.7 863.3,924.0" fill="#4ca1dd" stroke="#4ca1dd" stroke-width="0.6" stroke-linejoin="round"/><polygon points="841.0,924.0 818.7,924.0 828.8,938.3 841.0,950.0" fill="#4499d7" stroke="#4499d7" stroke-width="0.6" stroke-linejoin="round"/><polygon points="841.0,924.0 841.0,950.0 853.2,938.3 863.3,924.0" fill="#3c90cf" stroke="#3c90cf" stroke-width="0.6" stroke-linejoin="round"/><line x1="818.7" y1="924.0" x2="863.3" y2="924.0" stroke="#2a6aa3" stroke-width="0.8" opacity="0.5"/></g>
<g opacity="1.0"><polygon points="761.7,973.0 738.4,973.0 748.9,958.7 761.7,947.0" fill="#58abe4" stroke="#58abe4" stroke-width="0.6" stroke-linejoin="round"/><polygon points="761.7,973.0 761.7,947.0 774.5,958.7 785.0,973.0" fill="#4ca1dd" stroke="#4ca1dd" stroke-width="0.6" stroke-linejoin="round"/><polygon points="761.7,973.0 738.4,973.0 748.9,987.3 761.7,999.0" fill="#4499d7" stroke="#4499d7" stroke-width="0.6" stroke-linejoin="round"/><polygon points="761.7,973.0 761.7,999.0 774.5,987.3 785.0,973.0" fill="#3c90cf" stroke="#3c90cf" stroke-width="0.6" stroke-linejoin="round"/><line x1="738.4" y1="973.0" x2="785.0" y2="973.0" stroke="#2a6aa3" stroke-width="0.8" opacity="0.5"/></g>
<g opacity="1.0"><polygon points="805.6,973.0 782.3,973.0 792.8,958.7 805.6,947.0" fill="#58abe4" stroke="#58abe4" stroke-width="0.6" stroke-linejoin="round"/><polygon points="805.6,973.0 805.6,947.0 818.4,958.7 828.9,973.0" fill="#4ca1dd" stroke="#4ca1dd" stroke-width="0.6" stroke-linejoin="round"/><polygon points="805.6,973.0 782.3,973.0 792.8,987.3 805.6,999.0" fill="#4499d7" stroke="#4499d7" stroke-width="0.6" stroke-linejoin="round"/><polygon points="805.6,973.0 805.6,999.0 818.4,987.3 828.9,973.0" fill="#3c90cf" stroke="#3c90cf" stroke-width="0.6" stroke-linejoin="round"/><line x1="782.3" y1="973.0" x2="828.9" y2="973.0" stroke="#2a6aa3" stroke-width="0.8" opacity="0.5"/></g>
<g opacity="1.0"><polygon points="850.6,973.0 827.3,973.0 837.8,958.7 850.6,947.0" fill="#58abe4" stroke="#58abe4" stroke-width="0.6" stroke-linejoin="round"/><polygon points="850.6,973.0 850.6,947.0 863.4,958.7 873.9,973.0" fill="#4ca1dd" stroke="#4ca1dd" stroke-width="0.6" stroke-linejoin="round"/><polygon points="850.6,973.0 827.3,973.0 837.8,987.3 850.6,999.0" fill="#4499d7" stroke="#4499d7" stroke-width="0.6" stroke-linejoin="round"/><polygon points="850.6,973.0 850.6,999.0 863.4,987.3 873.9,973.0" fill="#3c90cf" stroke="#3c90cf" stroke-width="0.6" stroke-linejoin="round"/><line x1="827.3" y1="973.0" x2="873.9" y2="973.0" stroke="#2a6aa3" stroke-width="0.8" opacity="0.5"/></g>
<g opacity="1.0"><polygon points="711.0,1024.0 685.6,1024.0 697.0,1009.7 711.0,998.0" fill="#58abe4" stroke="#58abe4" stroke-width="0.6" stroke-linejoin="round"/><polygon points="711.0,1024.0 711.0,998.0 725.0,1009.7 736.4,1024.0" fill="#4ca1dd" stroke="#4ca1dd" stroke-width="0.6" stroke-linejoin="round"/><polygon points="711.0,1024.0 685.6,1024.0 697.0,1038.3 711.0,1050.0" fill="#4499d7" stroke="#4499d7" stroke-width="0.6" stroke-linejoin="round"/><polygon points="711.0,1024.0 711.0,1050.0 725.0,1038.3 736.4,1024.0" fill="#3c90cf" stroke="#3c90cf" stroke-width="0.6" stroke-linejoin="round"/><line x1="685.6" y1="1024.0" x2="736.4" y2="1024.0" stroke="#2a6aa3" stroke-width="0.8" opacity="0.5"/></g>
<g opacity="1.0"><polygon points="758.7,1024.0 733.3,1024.0 744.7,1009.7 758.7,998.0" fill="#58abe4" stroke="#58abe4" stroke-width="0.6" stroke-linejoin="round"/><polygon points="758.7,1024.0 758.7,998.0 772.7,1009.7 784.1,1024.0" fill="#4ca1dd" stroke="#4ca1dd" stroke-width="0.6" stroke-linejoin="round"/><polygon points="758.7,1024.0 733.3,1024.0 744.7,1038.3 758.7,1050.0" fill="#4499d7" stroke="#4499d7" stroke-width="0.6" stroke-linejoin="round"/><polygon points="758.7,1024.0 758.7,1050.0 772.7,1038.3 784.1,1024.0" fill="#3c90cf" stroke="#3c90cf" stroke-width="0.6" stroke-linejoin="round"/><line x1="733.3" y1="1024.0" x2="784.1" y2="1024.0" stroke="#2a6aa3" stroke-width="0.8" opacity="0.5"/></g>
<g opacity="1.0"><polygon points="808.6,1024.0 783.2,1024.0 794.6,1009.7 808.6,998.0" fill="#58abe4" stroke="#58abe4" stroke-width="0.6" stroke-linejoin="round"/><polygon points="808.6,1024.0 808.6,998.0 822.6,1009.7 834.0,1024.0" fill="#4ca1dd" stroke="#4ca1dd" stroke-width="0.6" stroke-linejoin="round"/><polygon points="808.6,1024.0 783.2,1024.0 794.6,1038.3 808.6,1050.0" fill="#4499d7" stroke="#4499d7" stroke-width="0.6" stroke-linejoin="round"/><polygon points="808.6,1024.0 808.6,1050.0 822.6,1038.3 834.0,1024.0" fill="#3c90cf" stroke="#3c90cf" stroke-width="0.6" stroke-linejoin="round"/><line x1="783.2" y1="1024.0" x2="834.0" y2="1024.0" stroke="#2a6aa3" stroke-width="0.8" opacity="0.5"/></g>
<g opacity="1.0"><polygon points="858.0,1024.0 832.6,1024.0 844.0,1009.7 858.0,998.0" fill="#58abe4" stroke="#58abe4" stroke-width="0.6" stroke-linejoin="round"/><polygon points="858.0,1024.0 858.0,998.0 872.0,1009.7 883.4,1024.0" fill="#4ca1dd" stroke="#4ca1dd" stroke-width="0.6" stroke-linejoin="round"/><polygon points="858.0,1024.0 832.6,1024.0 844.0,1038.3 858.0,1050.0" fill="#4499d7" stroke="#4499d7" stroke-width="0.6" stroke-linejoin="round"/><polygon points="858.0,1024.0 858.0,1050.0 872.0,1038.3 883.4,1024.0" fill="#3c90cf" stroke="#3c90cf" stroke-width="0.6" stroke-linejoin="round"/><line x1="832.6" y1="1024.0" x2="883.4" y2="1024.0" stroke="#2a6aa3" stroke-width="0.8" opacity="0.5"/></g>
<g opacity="1.0"><polygon points="704.0,1072.5 677.5,1072.5 689.4,1058.2 704.0,1046.5" fill="#58abe4" stroke="#58abe4" stroke-width="0.6" stroke-linejoin="round"/><polygon points="704.0,1072.5 704.0,1046.5 718.6,1058.2 730.5,1072.5" fill="#4ca1dd" stroke="#4ca1dd" stroke-width="0.6" stroke-linejoin="round"/><polygon points="704.0,1072.5 677.5,1072.5 689.4,1086.8 704.0,1098.5" fill="#4499d7" stroke="#4499d7" stroke-width="0.6" stroke-linejoin="round"/><polygon points="704.0,1072.5 704.0,1098.5 718.6,1086.8 730.5,1072.5" fill="#3c90cf" stroke="#3c90cf" stroke-width="0.6" stroke-linejoin="round"/><line x1="677.5" y1="1072.5" x2="730.5" y2="1072.5" stroke="#2a6aa3" stroke-width="0.8" opacity="0.5"/></g>
<g opacity="1.0"><polygon points="758.0,1072.5 731.5,1072.5 743.4,1058.2 758.0,1046.5" fill="#58abe4" stroke="#58abe4" stroke-width="0.6" stroke-linejoin="round"/><polygon points="758.0,1072.5 758.0,1046.5 772.6,1058.2 784.5,1072.5" fill="#4ca1dd" stroke="#4ca1dd" stroke-width="0.6" stroke-linejoin="round"/><polygon points="758.0,1072.5 731.5,1072.5 743.4,1086.8 758.0,1098.5" fill="#4499d7" stroke="#4499d7" stroke-width="0.6" stroke-linejoin="round"/><polygon points="758.0,1072.5 758.0,1098.5 772.6,1086.8 784.5,1072.5" fill="#3c90cf" stroke="#3c90cf" stroke-width="0.6" stroke-linejoin="round"/><line x1="731.5" y1="1072.5" x2="784.5" y2="1072.5" stroke="#2a6aa3" stroke-width="0.8" opacity="0.5"/></g>
<g opacity="1.0"><polygon points="811.0,1072.5 784.5,1072.5 796.4,1058.2 811.0,1046.5" fill="#58abe4" stroke="#58abe4" stroke-width="0.6" stroke-linejoin="round"/><polygon points="811.0,1072.5 811.0,1046.5 825.6,1058.2 837.5,1072.5" fill="#4ca1dd" stroke="#4ca1dd" stroke-width="0.6" stroke-linejoin="round"/><polygon points="811.0,1072.5 784.5,1072.5 796.4,1086.8 811.0,1098.5" fill="#4499d7" stroke="#4499d7" stroke-width="0.6" stroke-linejoin="round"/><polygon points="811.0,1072.5 811.0,1098.5 825.6,1086.8 837.5,1072.5" fill="#3c90cf" stroke="#3c90cf" stroke-width="0.6" stroke-linejoin="round"/><line x1="784.5" y1="1072.5" x2="837.5" y2="1072.5" stroke="#2a6aa3" stroke-width="0.8" opacity="0.5"/></g>
<g opacity="1.0"><polygon points="864.5,1072.5 838.0,1072.5 849.9,1058.2 864.5,1046.5" fill="#58abe4" stroke="#58abe4" stroke-width="0.6" stroke-linejoin="round"/><polygon points="864.5,1072.5 864.5,1046.5 879.1,1058.2 891.0,1072.5" fill="#4ca1dd" stroke="#4ca1dd" stroke-width="0.6" stroke-linejoin="round"/><polygon points="864.5,1072.5 838.0,1072.5 849.9,1086.8 864.5,1098.5" fill="#4499d7" stroke="#4499d7" stroke-width="0.6" stroke-linejoin="round"/><polygon points="864.5,1072.5 864.5,1098.5 879.1,1086.8 891.0,1072.5" fill="#3c90cf" stroke="#3c90cf" stroke-width="0.6" stroke-linejoin="round"/><line x1="838.0" y1="1072.5" x2="891.0" y2="1072.5" stroke="#2a6aa3" stroke-width="0.8" opacity="0.5"/></g>
<circle cx="705.0" cy="924.0" r="2.5" fill="#474f59" opacity="1.0"/>
<circle cx="743.5" cy="924.0" r="2.5" fill="#474f59" opacity="1.0"/>
<circle cx="724.0" cy="899.5" r="2.5" fill="#474f59" opacity="1.0"/>
<circle cx="724.0" cy="948.5" r="2.5" fill="#474f59" opacity="1.0"/>
<circle cx="784.5" cy="924.0" r="2.5" fill="#474f59" opacity="1.0"/>
<circle cx="764.0" cy="899.5" r="2.5" fill="#474f59" opacity="1.0"/>
<circle cx="762.9" cy="948.5" r="2.5" fill="#474f59" opacity="1.0"/>
<circle cx="819.5" cy="924.0" r="2.5" fill="#474f59" opacity="1.0"/>
<circle cx="803.8" cy="948.5" r="2.5" fill="#474f59" opacity="1.0"/>
<circle cx="862.0" cy="924.0" r="2.5" fill="#474f59" opacity="1.0"/>
<circle cx="841.0" cy="899.5" r="2.5" fill="#474f59" opacity="1.0"/>
<circle cx="841.0" cy="948.5" r="2.5" fill="#474f59" opacity="1.0"/>
<circle cx="739.7" cy="973.0" r="2.5" fill="#474f59" opacity="1.0"/>
<circle cx="783.7" cy="973.0" r="2.5" fill="#474f59" opacity="1.0"/>
<circle cx="760.2" cy="998.5" r="2.5" fill="#474f59" opacity="1.0"/>
<circle cx="828.1" cy="973.0" r="2.5" fill="#474f59" opacity="1.0"/>
<circle cx="807.1" cy="998.5" r="2.5" fill="#474f59" opacity="1.0"/>
<circle cx="872.6" cy="973.0" r="2.5" fill="#474f59" opacity="1.0"/>
<circle cx="850.6" cy="948.5" r="2.5" fill="#474f59" opacity="1.0"/>
<circle cx="854.3" cy="998.5" r="2.5" fill="#474f59" opacity="1.0"/>
<circle cx="687.0" cy="1024.0" r="2.5" fill="#474f59" opacity="1.0"/>
<circle cx="734.9" cy="1024.0" r="2.5" fill="#474f59" opacity="1.0"/>
<circle cx="711.0" cy="999.5" r="2.5" fill="#474f59" opacity="1.0"/>
<circle cx="707.5" cy="1048.2" r="2.5" fill="#474f59" opacity="1.0"/>
<circle cx="783.7" cy="1024.0" r="2.5" fill="#474f59" opacity="1.0"/>
<circle cx="758.4" cy="1048.2" r="2.5" fill="#474f59" opacity="1.0"/>
<circle cx="833.3" cy="1024.0" r="2.5" fill="#474f59" opacity="1.0"/>
<circle cx="809.8" cy="1048.2" r="2.5" fill="#474f59" opacity="1.0"/>
<circle cx="882.0" cy="1024.0" r="2.5" fill="#474f59" opacity="1.0"/>
<circle cx="861.2" cy="1048.2" r="2.5" fill="#474f59" opacity="1.0"/>
<circle cx="679.0" cy="1072.5" r="2.5" fill="#474f59" opacity="1.0"/>
<circle cx="731.0" cy="1072.5" r="2.5" fill="#474f59" opacity="1.0"/>
<circle cx="704.0" cy="1097.0" r="2.5" fill="#474f59" opacity="1.0"/>
<circle cx="784.5" cy="1072.5" r="2.5" fill="#474f59" opacity="1.0"/>
<circle cx="758.0" cy="1097.0" r="2.5" fill="#474f59" opacity="1.0"/>
<circle cx="837.8" cy="1072.5" r="2.5" fill="#474f59" opacity="1.0"/>
<circle cx="811.0" cy="1097.0" r="2.5" fill="#474f59" opacity="1.0"/>
<circle cx="889.5" cy="1072.5" r="2.5" fill="#474f59" opacity="1.0"/>
<circle cx="864.5" cy="1097.0" r="2.5" fill="#474f59" opacity="1.0"/>
<circle cx="724.0" cy="924.0" r="2.4" fill="#3e4a58" opacity="0.6"/>
<circle cx="764.0" cy="924.0" r="2.4" fill="#3e4a58" opacity="0.6"/>
<circle cx="802.0" cy="924.0" r="2.4" fill="#3e4a58" opacity="0.6"/>
<circle cx="841.0" cy="924.0" r="2.4" fill="#3e4a58" opacity="0.6"/>
<circle cx="761.7" cy="973.0" r="2.4" fill="#3e4a58" opacity="0.6"/>
<circle cx="805.6" cy="973.0" r="2.4" fill="#3e4a58" opacity="0.6"/>
<circle cx="850.6" cy="973.0" r="2.4" fill="#3e4a58" opacity="0.6"/>
<circle cx="711.0" cy="1024.0" r="2.4" fill="#3e4a58" opacity="0.6"/>
<circle cx="758.7" cy="1024.0" r="2.4" fill="#3e4a58" opacity="0.6"/>
<circle cx="808.6" cy="1024.0" r="2.4" fill="#3e4a58" opacity="0.6"/>
<circle cx="858.0" cy="1024.0" r="2.4" fill="#3e4a58" opacity="0.6"/>
<circle cx="704.0" cy="1072.5" r="2.4" fill="#3e4a58" opacity="0.6"/>
<circle cx="758.0" cy="1072.5" r="2.4" fill="#3e4a58" opacity="0.6"/>
<circle cx="811.0" cy="1072.5" r="2.4" fill="#3e4a58" opacity="0.6"/>
<circle cx="864.5" cy="1072.5" r="2.4" fill="#3e4a58" opacity="0.6"/>
<polygon points="670.6,1093 893,1093 893,1111 677.6,1112 670.6,1107" fill="#9a9a9b"/>
<polygon points="670.6,1093 893,1093 893,1101.0 670.6,1101.0" fill="#868687"/>
<circle cx="716.7" cy="973.0" r="19.0" fill="url(#ballg)" filter="url(#soft)"/>
<circle cx="716.7" cy="973.0" r="2.8" fill="#3f4a55" opacity="0.9"/>
<circle cx="716.7" cy="973.0" r="21.6" fill="none" stroke="#e8c65c" stroke-width="1.5"/>
<line x1="686.4" y1="869" x2="693" y2="963.7" stroke="#efd24a" stroke-width="1.4" />
<line x1="779.3" y1="869" x2="732.5" y2="982.5" stroke="#efd24a" stroke-width="1.4" />
<circle cx="737" cy="814" r="57" fill="#fdfdfd"/>
<g transform="rotate(10 704.0 780.5)">
<g opacity="1.0"><polygon points="704.0,780.5 687.5,780.5 695.3,771.8 704.0,764.0" fill="#74b2e6" stroke="#74b2e6" stroke-width="0.6" stroke-linejoin="round"/><polygon points="704.0,780.5 704.0,764.0 712.7,771.8 720.5,780.5" fill="#6aaae2" stroke="#6aaae2" stroke-width="0.6" stroke-linejoin="round"/><polygon points="704.0,780.5 687.5,780.5 695.3,789.2 704.0,797.0" fill="#62a3dd" stroke="#62a3dd" stroke-width="0.6" stroke-linejoin="round"/><polygon points="704.0,780.5 704.0,797.0 712.7,789.2 720.5,780.5" fill="#5b9dd8" stroke="#5b9dd8" stroke-width="0.6" stroke-linejoin="round"/><line x1="687.5" y1="780.5" x2="720.5" y2="780.5" stroke="#2a6aa3" stroke-width="0.8" opacity="0.5"/></g>
</g>
<g transform="rotate(-10 735.5 780.5)">
<g opacity="1.0"><polygon points="735.5,780.5 719.0,780.5 726.8,771.8 735.5,764.0" fill="#74b2e6" stroke="#74b2e6" stroke-width="0.6" stroke-linejoin="round"/><polygon points="735.5,780.5 735.5,764.0 744.2,771.8 752.0,780.5" fill="#6aaae2" stroke="#6aaae2" stroke-width="0.6" stroke-linejoin="round"/><polygon points="735.5,780.5 719.0,780.5 726.8,789.2 735.5,797.0" fill="#62a3dd" stroke="#62a3dd" stroke-width="0.6" stroke-linejoin="round"/><polygon points="735.5,780.5 735.5,797.0 744.2,789.2 752.0,780.5" fill="#5b9dd8" stroke="#5b9dd8" stroke-width="0.6" stroke-linejoin="round"/><line x1="719.0" y1="780.5" x2="752.0" y2="780.5" stroke="#2a6aa3" stroke-width="0.8" opacity="0.5"/></g>
</g>
<g transform="rotate(10 767.0 780.5)">
<g opacity="1.0"><polygon points="767.0,780.5 750.5,780.5 758.3,771.8 767.0,764.0" fill="#74b2e6" stroke="#74b2e6" stroke-width="0.6" stroke-linejoin="round"/><polygon points="767.0,780.5 767.0,764.0 775.7,771.8 783.5,780.5" fill="#6aaae2" stroke="#6aaae2" stroke-width="0.6" stroke-linejoin="round"/><polygon points="767.0,780.5 750.5,780.5 758.3,789.2 767.0,797.0" fill="#62a3dd" stroke="#62a3dd" stroke-width="0.6" stroke-linejoin="round"/><polygon points="767.0,780.5 767.0,797.0 775.7,789.2 783.5,780.5" fill="#5b9dd8" stroke="#5b9dd8" stroke-width="0.6" stroke-linejoin="round"/><line x1="750.5" y1="780.5" x2="783.5" y2="780.5" stroke="#2a6aa3" stroke-width="0.8" opacity="0.5"/></g>
</g>
<g transform="rotate(-10 704.0 812.0)">
<g opacity="1.0"><polygon points="704.0,812.0 687.5,812.0 695.3,803.3 704.0,795.5" fill="#74b2e6" stroke="#74b2e6" stroke-width="0.6" stroke-linejoin="round"/><polygon points="704.0,812.0 704.0,795.5 712.7,803.3 720.5,812.0" fill="#6aaae2" stroke="#6aaae2" stroke-width="0.6" stroke-linejoin="round"/><polygon points="704.0,812.0 687.5,812.0 695.3,820.7 704.0,828.5" fill="#62a3dd" stroke="#62a3dd" stroke-width="0.6" stroke-linejoin="round"/><polygon points="704.0,812.0 704.0,828.5 712.7,820.7 720.5,812.0" fill="#5b9dd8" stroke="#5b9dd8" stroke-width="0.6" stroke-linejoin="round"/><line x1="687.5" y1="812.0" x2="720.5" y2="812.0" stroke="#2a6aa3" stroke-width="0.8" opacity="0.5"/></g>
</g>
<g transform="rotate(10 735.5 812.0)">
<g opacity="1.0"><polygon points="735.5,812.0 719.0,812.0 726.8,803.3 735.5,795.5" fill="#74b2e6" stroke="#74b2e6" stroke-width="0.6" stroke-linejoin="round"/><polygon points="735.5,812.0 735.5,795.5 744.2,803.3 752.0,812.0" fill="#6aaae2" stroke="#6aaae2" stroke-width="0.6" stroke-linejoin="round"/><polygon points="735.5,812.0 719.0,812.0 726.8,820.7 735.5,828.5" fill="#62a3dd" stroke="#62a3dd" stroke-width="0.6" stroke-linejoin="round"/><polygon points="735.5,812.0 735.5,828.5 744.2,820.7 752.0,812.0" fill="#5b9dd8" stroke="#5b9dd8" stroke-width="0.6" stroke-linejoin="round"/><line x1="719.0" y1="812.0" x2="752.0" y2="812.0" stroke="#2a6aa3" stroke-width="0.8" opacity="0.5"/></g>
</g>
<g transform="rotate(-10 767.0 812.0)">
<g opacity="1.0"><polygon points="767.0,812.0 750.5,812.0 758.3,803.3 767.0,795.5" fill="#74b2e6" stroke="#74b2e6" stroke-width="0.6" stroke-linejoin="round"/><polygon points="767.0,812.0 767.0,795.5 775.7,803.3 783.5,812.0" fill="#6aaae2" stroke="#6aaae2" stroke-width="0.6" stroke-linejoin="round"/><polygon points="767.0,812.0 750.5,812.0 758.3,820.7 767.0,828.5" fill="#62a3dd" stroke="#62a3dd" stroke-width="0.6" stroke-linejoin="round"/><polygon points="767.0,812.0 767.0,828.5 775.7,820.7 783.5,812.0" fill="#5b9dd8" stroke="#5b9dd8" stroke-width="0.6" stroke-linejoin="round"/><line x1="750.5" y1="812.0" x2="783.5" y2="812.0" stroke="#2a6aa3" stroke-width="0.8" opacity="0.5"/></g>
</g>
<g transform="rotate(10 704.0 843.5)">
<g opacity="1.0"><polygon points="704.0,843.5 687.5,843.5 695.3,834.8 704.0,827.0" fill="#74b2e6" stroke="#74b2e6" stroke-width="0.6" stroke-linejoin="round"/><polygon points="704.0,843.5 704.0,827.0 712.7,834.8 720.5,843.5" fill="#6aaae2" stroke="#6aaae2" stroke-width="0.6" stroke-linejoin="round"/><polygon points="704.0,843.5 687.5,843.5 695.3,852.2 704.0,860.0" fill="#62a3dd" stroke="#62a3dd" stroke-width="0.6" stroke-linejoin="round"/><polygon points="704.0,843.5 704.0,860.0 712.7,852.2 720.5,843.5" fill="#5b9dd8" stroke="#5b9dd8" stroke-width="0.6" stroke-linejoin="round"/><line x1="687.5" y1="843.5" x2="720.5" y2="843.5" stroke="#2a6aa3" stroke-width="0.8" opacity="0.5"/></g>
</g>
<g transform="rotate(-10 735.5 843.5)">
<g opacity="1.0"><polygon points="735.5,843.5 719.0,843.5 726.8,834.8 735.5,827.0" fill="#74b2e6" stroke="#74b2e6" stroke-width="0.6" stroke-linejoin="round"/><polygon points="735.5,843.5 735.5,827.0 744.2,834.8 752.0,843.5" fill="#6aaae2" stroke="#6aaae2" stroke-width="0.6" stroke-linejoin="round"/><polygon points="735.5,843.5 719.0,843.5 726.8,852.2 735.5,860.0" fill="#62a3dd" stroke="#62a3dd" stroke-width="0.6" stroke-linejoin="round"/><polygon points="735.5,843.5 735.5,860.0 744.2,852.2 752.0,843.5" fill="#5b9dd8" stroke="#5b9dd8" stroke-width="0.6" stroke-linejoin="round"/><line x1="719.0" y1="843.5" x2="752.0" y2="843.5" stroke="#2a6aa3" stroke-width="0.8" opacity="0.5"/></g>
</g>
<g transform="rotate(10 767.0 843.5)">
<g opacity="1.0"><polygon points="767.0,843.5 750.5,843.5 758.3,834.8 767.0,827.0" fill="#74b2e6" stroke="#74b2e6" stroke-width="0.6" stroke-linejoin="round"/><polygon points="767.0,843.5 767.0,827.0 775.7,834.8 783.5,843.5" fill="#6aaae2" stroke="#6aaae2" stroke-width="0.6" stroke-linejoin="round"/><polygon points="767.0,843.5 750.5,843.5 758.3,852.2 767.0,860.0" fill="#62a3dd" stroke="#62a3dd" stroke-width="0.6" stroke-linejoin="round"/><polygon points="767.0,843.5 767.0,860.0 775.7,852.2 783.5,843.5" fill="#5b9dd8" stroke="#5b9dd8" stroke-width="0.6" stroke-linejoin="round"/><line x1="750.5" y1="843.5" x2="783.5" y2="843.5" stroke="#2a6aa3" stroke-width="0.8" opacity="0.5"/></g>
</g>
<circle cx="704.0" cy="780.5" r="1.8" fill="#3a5566" opacity="0.8"/>
<circle cx="735.5" cy="780.5" r="1.8" fill="#3a5566" opacity="0.8"/>
<circle cx="767.0" cy="780.5" r="1.8" fill="#3a5566" opacity="0.8"/>
<circle cx="704.0" cy="812.0" r="1.8" fill="#3a5566" opacity="0.8"/>
<circle cx="735.5" cy="812.0" r="1.8" fill="#3a5566" opacity="0.8"/>
<circle cx="767.0" cy="812.0" r="1.8" fill="#3a5566" opacity="0.8"/>
<circle cx="704.0" cy="843.5" r="1.8" fill="#3a5566" opacity="0.8"/>
<circle cx="735.5" cy="843.5" r="1.8" fill="#3a5566" opacity="0.8"/>
<circle cx="767.0" cy="843.5" r="1.8" fill="#3a5566" opacity="0.8"/>
<circle cx="704.0" cy="764.8" r="1.7" fill="#3a5566" opacity="0.85"/>
<circle cx="688.2" cy="780.5" r="1.7" fill="#3a5566" opacity="0.85"/>
<circle cx="735.5" cy="764.8" r="1.7" fill="#3a5566" opacity="0.85"/>
<circle cx="688.2" cy="812.0" r="1.7" fill="#3a5566" opacity="0.85"/>
<circle cx="767.0" cy="764.8" r="1.7" fill="#3a5566" opacity="0.85"/>
<circle cx="688.2" cy="843.5" r="1.7" fill="#3a5566" opacity="0.85"/>
<circle cx="704.0" cy="796.2" r="1.7" fill="#3a5566" opacity="0.85"/>
<circle cx="719.8" cy="780.5" r="1.7" fill="#3a5566" opacity="0.85"/>
<circle cx="735.5" cy="796.2" r="1.7" fill="#3a5566" opacity="0.85"/>
<circle cx="719.8" cy="812.0" r="1.7" fill="#3a5566" opacity="0.85"/>
<circle cx="767.0" cy="796.2" r="1.7" fill="#3a5566" opacity="0.85"/>
<circle cx="719.8" cy="843.5" r="1.7" fill="#3a5566" opacity="0.85"/>
<circle cx="704.0" cy="827.8" r="1.7" fill="#3a5566" opacity="0.85"/>
<circle cx="751.2" cy="780.5" r="1.7" fill="#3a5566" opacity="0.85"/>
<circle cx="735.5" cy="827.8" r="1.7" fill="#3a5566" opacity="0.85"/>
<circle cx="751.2" cy="812.0" r="1.7" fill="#3a5566" opacity="0.85"/>
<circle cx="767.0" cy="827.8" r="1.7" fill="#3a5566" opacity="0.85"/>
<circle cx="751.2" cy="843.5" r="1.7" fill="#3a5566" opacity="0.85"/>
<circle cx="704.0" cy="859.2" r="1.7" fill="#3a5566" opacity="0.85"/>
<circle cx="782.8" cy="780.5" r="1.7" fill="#3a5566" opacity="0.85"/>
<circle cx="735.5" cy="859.2" r="1.7" fill="#3a5566" opacity="0.85"/>
<circle cx="782.8" cy="812.0" r="1.7" fill="#3a5566" opacity="0.85"/>
<circle cx="767.0" cy="859.2" r="1.7" fill="#3a5566" opacity="0.85"/>
<circle cx="782.8" cy="843.5" r="1.7" fill="#3a5566" opacity="0.85"/>
<ellipse cx="689.0" cy="766.0" rx="5.2" ry="6.2" fill="#d4552f" transform="rotate(-25 689.0 766.0)"/>
<circle cx="690.5" cy="764.8" r="2.2" fill="#c2401f" opacity="0.7"/>
<ellipse cx="721.0" cy="766.0" rx="5.2" ry="6.2" fill="#d4552f" transform="rotate(25 721.0 766.0)"/>
<circle cx="722.5" cy="764.8" r="2.2" fill="#c2401f" opacity="0.7"/>
<ellipse cx="752.0" cy="766.0" rx="5.2" ry="6.2" fill="#d4552f" transform="rotate(-25 752.0 766.0)"/>
<circle cx="753.5" cy="764.8" r="2.2" fill="#c2401f" opacity="0.7"/>
<ellipse cx="784.0" cy="766.0" rx="5.2" ry="6.2" fill="#d4552f" transform="rotate(25 784.0 766.0)"/>
<circle cx="785.5" cy="764.8" r="2.2" fill="#c2401f" opacity="0.7"/>
<ellipse cx="689.0" cy="798.0" rx="5.2" ry="6.2" fill="#d4552f" transform="rotate(25 689.0 798.0)"/>
<circle cx="690.5" cy="796.8" r="2.2" fill="#c2401f" opacity="0.7"/>
<ellipse cx="721.0" cy="798.0" rx="5.2" ry="6.2" fill="#d4552f" transform="rotate(-25 721.0 798.0)"/>
<circle cx="722.5" cy="796.8" r="2.2" fill="#c2401f" opacity="0.7"/>
<ellipse cx="752.0" cy="798.0" rx="5.2" ry="6.2" fill="#d4552f" transform="rotate(25 752.0 798.0)"/>
<circle cx="753.5" cy="796.8" r="2.2" fill="#c2401f" opacity="0.7"/>
<ellipse cx="784.0" cy="798.0" rx="5.2" ry="6.2" fill="#d4552f" transform="rotate(-25 784.0 798.0)"/>
<circle cx="785.5" cy="796.8" r="2.2" fill="#c2401f" opacity="0.7"/>
<ellipse cx="689.0" cy="829.0" rx="5.2" ry="6.2" fill="#d4552f" transform="rotate(-25 689.0 829.0)"/>
<circle cx="690.5" cy="827.8" r="2.2" fill="#c2401f" opacity="0.7"/>
<ellipse cx="721.0" cy="829.0" rx="5.2" ry="6.2" fill="#d4552f" transform="rotate(25 721.0 829.0)"/>
<circle cx="722.5" cy="827.8" r="2.2" fill="#c2401f" opacity="0.7"/>
<ellipse cx="752.0" cy="829.0" rx="5.2" ry="6.2" fill="#d4552f" transform="rotate(-25 752.0 829.0)"/>
<circle cx="753.5" cy="827.8" r="2.2" fill="#c2401f" opacity="0.7"/>
<ellipse cx="784.0" cy="829.0" rx="5.2" ry="6.2" fill="#d4552f" transform="rotate(25 784.0 829.0)"/>
<circle cx="785.5" cy="827.8" r="2.2" fill="#c2401f" opacity="0.7"/>
<ellipse cx="689.0" cy="861.0" rx="5.2" ry="6.2" fill="#d4552f" transform="rotate(25 689.0 861.0)"/>
<circle cx="690.5" cy="859.8" r="2.2" fill="#c2401f" opacity="0.7"/>
<ellipse cx="721.0" cy="861.0" rx="5.2" ry="6.2" fill="#d4552f" transform="rotate(-25 721.0 861.0)"/>
<circle cx="722.5" cy="859.8" r="2.2" fill="#c2401f" opacity="0.7"/>
<ellipse cx="752.0" cy="861.0" rx="5.2" ry="6.2" fill="#d4552f" transform="rotate(25 752.0 861.0)"/>
<circle cx="753.5" cy="859.8" r="2.2" fill="#c2401f" opacity="0.7"/>
<ellipse cx="784.0" cy="861.0" rx="5.2" ry="6.2" fill="#d4552f" transform="rotate(-25 784.0 861.0)"/>
<circle cx="785.5" cy="859.8" r="2.2" fill="#c2401f" opacity="0.7"/>
<circle cx="737.0" cy="814.0" r="57" fill="none" stroke="#e8c65c" stroke-width="1.8"/>
<g opacity="1.0"><line x1="711.8" y1="896.2" x2="699.1" y2="893.3" stroke="#6a6a6a" stroke-width="1.3" stroke-linecap="round"/><line x1="711.8" y1="896.2" x2="700.2" y2="890.3" stroke="#6a6a6a" stroke-width="1.3" stroke-linecap="round"/><circle cx="711.8" cy="896.2" r="3.8" fill="#5a5a5c"/></g>
<circle cx="725" cy="897" r="3" fill="#ffffff" stroke="#8a8a8a" stroke-width="1"/>
<circle cx="779.3" cy="894.4" r="7.3" fill="#fff3a0" opacity="0.55"/><circle cx="779.3" cy="894.4" r="4.3" fill="#f7c400"/>
<circle cx="783.0" cy="900.0" r="4.3" fill="#4d4d4f" opacity="1.0"/>
<circle cx="805.6" cy="892.5" r="4.3" fill="#4d4d4f" opacity="1.0"/>
<circle cx="794.3" cy="909.4" r="4.3" fill="#4d4d4f" opacity="1.0"/>
<g opacity="1.0"><line x1="826.0" y1="898.0" x2="813.1" y2="896.2" stroke="#6a6a6a" stroke-width="1.3" stroke-linecap="round"/><line x1="826.0" y1="898.0" x2="813.9" y2="893.1" stroke="#6a6a6a" stroke-width="1.3" stroke-linecap="round"/><circle cx="826.0" cy="898.0" r="3.8" fill="#5a5a5c"/></g>
<circle cx="835.6" cy="895.5" r="3" fill="#ffffff" stroke="#8a8a8a" stroke-width="1"/>
<circle cx="800.0" cy="918.7" r="3.5" fill="#c8503a" opacity="1.0"/>
<g opacity="1.0"><polygon points="1240.8,929.0 1217.5,929.0 1228.0,942.7 1240.8,953.9" fill="#4499d7" stroke="#4499d7" stroke-width="0.6" stroke-linejoin="round"/><polygon points="1240.8,929.0 1240.8,953.9 1253.6,942.7 1264.1,929.0" fill="#3c90cf" stroke="#3c90cf" stroke-width="0.6" stroke-linejoin="round"/><line x1="1217.5" y1="929.0" x2="1264.1" y2="929.0" stroke="#2a6aa3" stroke-width="0.8" opacity="0.5"/></g>
<g opacity="1.0"><polygon points="1283.8,929.0 1260.5,929.0 1271.0,915.3 1283.8,904.1" fill="#58abe4" stroke="#58abe4" stroke-width="0.6" stroke-linejoin="round"/><polygon points="1283.8,929.0 1283.8,904.1 1296.6,915.3 1307.1,929.0" fill="#4ca1dd" stroke="#4ca1dd" stroke-width="0.6" stroke-linejoin="round"/><polygon points="1283.8,929.0 1260.5,929.0 1271.0,942.7 1283.8,953.9" fill="#4499d7" stroke="#4499d7" stroke-width="0.6" stroke-linejoin="round"/><polygon points="1283.8,929.0 1283.8,953.9 1296.6,942.7 1307.1,929.0" fill="#3c90cf" stroke="#3c90cf" stroke-width="0.6" stroke-linejoin="round"/><line x1="1260.5" y1="929.0" x2="1307.1" y2="929.0" stroke="#2a6aa3" stroke-width="0.8" opacity="0.5"/></g>
<g opacity="1.0"><polygon points="1369.7,929.0 1346.4,929.0 1356.9,915.3 1369.7,904.1" fill="#58abe4" stroke="#58abe4" stroke-width="0.6" stroke-linejoin="round"/><polygon points="1369.7,929.0 1369.7,904.1 1382.5,915.3 1393.0,929.0" fill="#4ca1dd" stroke="#4ca1dd" stroke-width="0.6" stroke-linejoin="round"/><polygon points="1369.7,929.0 1346.4,929.0 1356.9,942.7 1369.7,953.9" fill="#4499d7" stroke="#4499d7" stroke-width="0.6" stroke-linejoin="round"/><polygon points="1369.7,929.0 1369.7,953.9 1382.5,942.7 1393.0,929.0" fill="#3c90cf" stroke="#3c90cf" stroke-width="0.6" stroke-linejoin="round"/><line x1="1346.4" y1="929.0" x2="1393.0" y2="929.0" stroke="#2a6aa3" stroke-width="0.8" opacity="0.5"/></g>
<g opacity="1.0"><polygon points="1286.5,976.0 1262.1,976.0 1273.1,962.3 1286.5,951.1" fill="#58abe4" stroke="#58abe4" stroke-width="0.6" stroke-linejoin="round"/><polygon points="1286.5,976.0 1286.5,951.1 1299.9,962.3 1310.9,976.0" fill="#4ca1dd" stroke="#4ca1dd" stroke-width="0.6" stroke-linejoin="round"/><polygon points="1286.5,976.0 1262.1,976.0 1273.1,989.7 1286.5,1000.9" fill="#4499d7" stroke="#4499d7" stroke-width="0.6" stroke-linejoin="round"/><polygon points="1286.5,976.0 1286.5,1000.9 1299.9,989.7 1310.9,976.0" fill="#3c90cf" stroke="#3c90cf" stroke-width="0.6" stroke-linejoin="round"/><line x1="1262.1" y1="976.0" x2="1310.9" y2="976.0" stroke="#2a6aa3" stroke-width="0.8" opacity="0.5"/></g>
<g opacity="1.0"><polygon points="1326.7,976.0 1302.3,976.0 1313.3,962.3 1326.7,951.1" fill="#58abe4" stroke="#58abe4" stroke-width="0.6" stroke-linejoin="round"/><polygon points="1326.7,976.0 1326.7,951.1 1340.1,962.3 1351.1,976.0" fill="#4ca1dd" stroke="#4ca1dd" stroke-width="0.6" stroke-linejoin="round"/><polygon points="1326.7,976.0 1302.3,976.0 1313.3,989.7 1326.7,1000.9" fill="#4499d7" stroke="#4499d7" stroke-width="0.6" stroke-linejoin="round"/><polygon points="1326.7,976.0 1326.7,1000.9 1340.1,989.7 1351.1,976.0" fill="#3c90cf" stroke="#3c90cf" stroke-width="0.6" stroke-linejoin="round"/><line x1="1302.3" y1="976.0" x2="1351.1" y2="976.0" stroke="#2a6aa3" stroke-width="0.8" opacity="0.5"/></g>
<g opacity="1.0"><polygon points="1371.4,976.0 1347.0,976.0 1358.0,962.3 1371.4,951.1" fill="#58abe4" stroke="#58abe4" stroke-width="0.6" stroke-linejoin="round"/><polygon points="1371.4,976.0 1371.4,951.1 1384.8,962.3 1395.8,976.0" fill="#4ca1dd" stroke="#4ca1dd" stroke-width="0.6" stroke-linejoin="round"/><polygon points="1371.4,976.0 1347.0,976.0 1358.0,989.7 1371.4,1000.9" fill="#4499d7" stroke="#4499d7" stroke-width="0.6" stroke-linejoin="round"/><polygon points="1371.4,976.0 1371.4,1000.9 1384.8,989.7 1395.8,976.0" fill="#3c90cf" stroke="#3c90cf" stroke-width="0.6" stroke-linejoin="round"/><line x1="1347.0" y1="976.0" x2="1395.8" y2="976.0" stroke="#2a6aa3" stroke-width="0.8" opacity="0.5"/></g>
<g opacity="1.0"><polygon points="1238.4,1022.7 1213.0,1022.7 1224.4,1009.0 1238.4,997.8" fill="#58abe4" stroke="#58abe4" stroke-width="0.6" stroke-linejoin="round"/><polygon points="1238.4,1022.7 1238.4,997.8 1252.4,1009.0 1263.8,1022.7" fill="#4ca1dd" stroke="#4ca1dd" stroke-width="0.6" stroke-linejoin="round"/><polygon points="1238.4,1022.7 1213.0,1022.7 1224.4,1036.4 1238.4,1047.6" fill="#4499d7" stroke="#4499d7" stroke-width="0.6" stroke-linejoin="round"/><polygon points="1238.4,1022.7 1238.4,1047.6 1252.4,1036.4 1263.8,1022.7" fill="#3c90cf" stroke="#3c90cf" stroke-width="0.6" stroke-linejoin="round"/><line x1="1213.0" y1="1022.7" x2="1263.8" y2="1022.7" stroke="#2a6aa3" stroke-width="0.8" opacity="0.5"/></g>
<g opacity="1.0"><polygon points="1285.5,1022.7 1260.1,1022.7 1271.5,1009.0 1285.5,997.8" fill="#58abe4" stroke="#58abe4" stroke-width="0.6" stroke-linejoin="round"/><polygon points="1285.5,1022.7 1285.5,997.8 1299.5,1009.0 1310.9,1022.7" fill="#4ca1dd" stroke="#4ca1dd" stroke-width="0.6" stroke-linejoin="round"/><polygon points="1285.5,1022.7 1260.1,1022.7 1271.5,1036.4 1285.5,1047.6" fill="#4499d7" stroke="#4499d7" stroke-width="0.6" stroke-linejoin="round"/><polygon points="1285.5,1022.7 1285.5,1047.6 1299.5,1036.4 1310.9,1022.7" fill="#3c90cf" stroke="#3c90cf" stroke-width="0.6" stroke-linejoin="round"/><line x1="1260.1" y1="1022.7" x2="1310.9" y2="1022.7" stroke="#2a6aa3" stroke-width="0.8" opacity="0.5"/></g>
<g opacity="1.0"><polygon points="1330.0,1022.7 1304.6,1022.7 1316.0,1009.0 1330.0,997.8" fill="#58abe4" stroke="#58abe4" stroke-width="0.6" stroke-linejoin="round"/><polygon points="1330.0,1022.7 1330.0,997.8 1344.0,1009.0 1355.4,1022.7" fill="#4ca1dd" stroke="#4ca1dd" stroke-width="0.6" stroke-linejoin="round"/><polygon points="1330.0,1022.7 1304.6,1022.7 1316.0,1036.4 1330.0,1047.6" fill="#4499d7" stroke="#4499d7" stroke-width="0.6" stroke-linejoin="round"/><polygon points="1330.0,1022.7 1330.0,1047.6 1344.0,1036.4 1355.4,1022.7" fill="#3c90cf" stroke="#3c90cf" stroke-width="0.6" stroke-linejoin="round"/><line x1="1304.6" y1="1022.7" x2="1355.4" y2="1022.7" stroke="#2a6aa3" stroke-width="0.8" opacity="0.5"/></g>
<g opacity="1.0"><polygon points="1374.9,1022.7 1349.5,1022.7 1360.9,1009.0 1374.9,997.8" fill="#58abe4" stroke="#58abe4" stroke-width="0.6" stroke-linejoin="round"/><polygon points="1374.9,1022.7 1374.9,997.8 1388.9,1009.0 1400.3,1022.7" fill="#4ca1dd" stroke="#4ca1dd" stroke-width="0.6" stroke-linejoin="round"/><polygon points="1374.9,1022.7 1349.5,1022.7 1360.9,1036.4 1374.9,1047.6" fill="#4499d7" stroke="#4499d7" stroke-width="0.6" stroke-linejoin="round"/><polygon points="1374.9,1022.7 1374.9,1047.6 1388.9,1036.4 1400.3,1022.7" fill="#3c90cf" stroke="#3c90cf" stroke-width="0.6" stroke-linejoin="round"/><line x1="1349.5" y1="1022.7" x2="1400.3" y2="1022.7" stroke="#2a6aa3" stroke-width="0.8" opacity="0.5"/></g>
<g opacity="1.0"><polygon points="1237.0,1070.0 1211.6,1070.0 1223.0,1056.3 1237.0,1045.1" fill="#58abe4" stroke="#58abe4" stroke-width="0.6" stroke-linejoin="round"/><polygon points="1237.0,1070.0 1237.0,1045.1 1251.0,1056.3 1262.4,1070.0" fill="#4ca1dd" stroke="#4ca1dd" stroke-width="0.6" stroke-linejoin="round"/><polygon points="1237.0,1070.0 1211.6,1070.0 1223.0,1083.7 1237.0,1094.9" fill="#4499d7" stroke="#4499d7" stroke-width="0.6" stroke-linejoin="round"/><polygon points="1237.0,1070.0 1237.0,1094.9 1251.0,1083.7 1262.4,1070.0" fill="#3c90cf" stroke="#3c90cf" stroke-width="0.6" stroke-linejoin="round"/><line x1="1211.6" y1="1070.0" x2="1262.4" y2="1070.0" stroke="#2a6aa3" stroke-width="0.8" opacity="0.5"/></g>
<g opacity="1.0"><polygon points="1285.5,1070.0 1260.1,1070.0 1271.5,1056.3 1285.5,1045.1" fill="#58abe4" stroke="#58abe4" stroke-width="0.6" stroke-linejoin="round"/><polygon points="1285.5,1070.0 1285.5,1045.1 1299.5,1056.3 1310.9,1070.0" fill="#4ca1dd" stroke="#4ca1dd" stroke-width="0.6" stroke-linejoin="round"/><polygon points="1285.5,1070.0 1260.1,1070.0 1271.5,1083.7 1285.5,1094.9" fill="#4499d7" stroke="#4499d7" stroke-width="0.6" stroke-linejoin="round"/><polygon points="1285.5,1070.0 1285.5,1094.9 1299.5,1083.7 1310.9,1070.0" fill="#3c90cf" stroke="#3c90cf" stroke-width="0.6" stroke-linejoin="round"/><line x1="1260.1" y1="1070.0" x2="1310.9" y2="1070.0" stroke="#2a6aa3" stroke-width="0.8" opacity="0.5"/></g>
<g opacity="1.0"><polygon points="1331.0,1070.0 1305.6,1070.0 1317.0,1056.3 1331.0,1045.1" fill="#58abe4" stroke="#58abe4" stroke-width="0.6" stroke-linejoin="round"/><polygon points="1331.0,1070.0 1331.0,1045.1 1345.0,1056.3 1356.4,1070.0" fill="#4ca1dd" stroke="#4ca1dd" stroke-width="0.6" stroke-linejoin="round"/><polygon points="1331.0,1070.0 1305.6,1070.0 1317.0,1083.7 1331.0,1094.9" fill="#4499d7" stroke="#4499d7" stroke-width="0.6" stroke-linejoin="round"/><polygon points="1331.0,1070.0 1331.0,1094.9 1345.0,1083.7 1356.4,1070.0" fill="#3c90cf" stroke="#3c90cf" stroke-width="0.6" stroke-linejoin="round"/><line x1="1305.6" y1="1070.0" x2="1356.4" y2="1070.0" stroke="#2a6aa3" stroke-width="0.8" opacity="0.5"/></g>
<g opacity="1.0"><polygon points="1376.6,1070.0 1351.2,1070.0 1362.6,1056.3 1376.6,1045.1" fill="#58abe4" stroke="#58abe4" stroke-width="0.6" stroke-linejoin="round"/><polygon points="1376.6,1070.0 1376.6,1045.1 1390.6,1056.3 1402.0,1070.0" fill="#4ca1dd" stroke="#4ca1dd" stroke-width="0.6" stroke-linejoin="round"/><polygon points="1376.6,1070.0 1351.2,1070.0 1362.6,1083.7 1376.6,1094.9" fill="#4499d7" stroke="#4499d7" stroke-width="0.6" stroke-linejoin="round"/><polygon points="1376.6,1070.0 1376.6,1094.9 1390.6,1083.7 1402.0,1070.0" fill="#3c90cf" stroke="#3c90cf" stroke-width="0.6" stroke-linejoin="round"/><line x1="1351.2" y1="1070.0" x2="1402.0" y2="1070.0" stroke="#2a6aa3" stroke-width="0.8" opacity="0.5"/></g>
<circle cx="1218.8" cy="929.0" r="2.5" fill="#474f59" opacity="1.0"/>
<circle cx="1262.3" cy="929.0" r="2.5" fill="#474f59" opacity="1.0"/>
<circle cx="1240.8" cy="952.5" r="2.5" fill="#474f59" opacity="1.0"/>
<circle cx="1305.8" cy="929.0" r="2.5" fill="#474f59" opacity="1.0"/>
<circle cx="1283.8" cy="905.5" r="2.5" fill="#474f59" opacity="1.0"/>
<circle cx="1285.2" cy="952.5" r="2.5" fill="#474f59" opacity="1.0"/>
<circle cx="1347.7" cy="929.0" r="2.5" fill="#474f59" opacity="1.0"/>
<circle cx="1391.7" cy="929.0" r="2.5" fill="#474f59" opacity="1.0"/>
<circle cx="1369.7" cy="905.5" r="2.5" fill="#474f59" opacity="1.0"/>
<circle cx="1370.6" cy="952.5" r="2.5" fill="#474f59" opacity="1.0"/>
<circle cx="1263.5" cy="976.0" r="2.5" fill="#474f59" opacity="1.0"/>
<circle cx="1306.6" cy="976.0" r="2.5" fill="#474f59" opacity="1.0"/>
<circle cx="1286.0" cy="999.4" r="2.5" fill="#474f59" opacity="1.0"/>
<circle cx="1349.1" cy="976.0" r="2.5" fill="#474f59" opacity="1.0"/>
<circle cx="1326.7" cy="952.5" r="2.5" fill="#474f59" opacity="1.0"/>
<circle cx="1328.3" cy="999.4" r="2.5" fill="#474f59" opacity="1.0"/>
<circle cx="1394.4" cy="976.0" r="2.5" fill="#474f59" opacity="1.0"/>
<circle cx="1373.2" cy="999.4" r="2.5" fill="#474f59" opacity="1.0"/>
<circle cx="1214.4" cy="1022.7" r="2.5" fill="#474f59" opacity="1.0"/>
<circle cx="1262.0" cy="1022.7" r="2.5" fill="#474f59" opacity="1.0"/>
<circle cx="1238.4" cy="999.2" r="2.5" fill="#474f59" opacity="1.0"/>
<circle cx="1237.7" cy="1046.3" r="2.5" fill="#474f59" opacity="1.0"/>
<circle cx="1307.8" cy="1022.7" r="2.5" fill="#474f59" opacity="1.0"/>
<circle cx="1285.5" cy="1046.3" r="2.5" fill="#474f59" opacity="1.0"/>
<circle cx="1352.5" cy="1022.7" r="2.5" fill="#474f59" opacity="1.0"/>
<circle cx="1330.5" cy="1046.3" r="2.5" fill="#474f59" opacity="1.0"/>
<circle cx="1398.9" cy="1022.7" r="2.5" fill="#474f59" opacity="1.0"/>
<circle cx="1375.8" cy="1046.3" r="2.5" fill="#474f59" opacity="1.0"/>
<circle cx="1213.0" cy="1070.0" r="2.5" fill="#474f59" opacity="1.0"/>
<circle cx="1261.2" cy="1070.0" r="2.5" fill="#474f59" opacity="1.0"/>
<circle cx="1237.0" cy="1093.5" r="2.5" fill="#474f59" opacity="1.0"/>
<circle cx="1308.2" cy="1070.0" r="2.5" fill="#474f59" opacity="1.0"/>
<circle cx="1285.5" cy="1093.5" r="2.5" fill="#474f59" opacity="1.0"/>
<circle cx="1353.8" cy="1070.0" r="2.5" fill="#474f59" opacity="1.0"/>
<circle cx="1331.0" cy="1093.5" r="2.5" fill="#474f59" opacity="1.0"/>
<circle cx="1400.6" cy="1070.0" r="2.5" fill="#474f59" opacity="1.0"/>
<circle cx="1376.6" cy="1093.5" r="2.5" fill="#474f59" opacity="1.0"/>
<circle cx="1240.8" cy="929.0" r="2.4" fill="#3e4a58" opacity="0.6"/>
<circle cx="1283.8" cy="929.0" r="2.4" fill="#3e4a58" opacity="0.6"/>
<circle cx="1369.7" cy="929.0" r="2.4" fill="#3e4a58" opacity="0.6"/>
<circle cx="1286.5" cy="976.0" r="2.4" fill="#3e4a58" opacity="0.6"/>
<circle cx="1326.7" cy="976.0" r="2.4" fill="#3e4a58" opacity="0.6"/>
<circle cx="1371.4" cy="976.0" r="2.4" fill="#3e4a58" opacity="0.6"/>
<circle cx="1238.4" cy="1022.7" r="2.4" fill="#3e4a58" opacity="0.6"/>
<circle cx="1285.5" cy="1022.7" r="2.4" fill="#3e4a58" opacity="0.6"/>
<circle cx="1330.0" cy="1022.7" r="2.4" fill="#3e4a58" opacity="0.6"/>
<circle cx="1374.9" cy="1022.7" r="2.4" fill="#3e4a58" opacity="0.6"/>
<circle cx="1237.0" cy="1070.0" r="2.4" fill="#3e4a58" opacity="0.6"/>
<circle cx="1285.5" cy="1070.0" r="2.4" fill="#3e4a58" opacity="0.6"/>
<circle cx="1331.0" cy="1070.0" r="2.4" fill="#3e4a58" opacity="0.6"/>
<circle cx="1376.6" cy="1070.0" r="2.4" fill="#3e4a58" opacity="0.6"/>
<polygon points="1197,1091 1411,1091 1411,1107 1204,1108 1197,1103" fill="#9a9a9b"/>
<polygon points="1197,1091 1411,1091 1411,1098.1 1197,1098.1" fill="#868687"/>
<g filter="url(#soft)">
<g opacity="1.0"><polygon points="1235.6,977.4 1212.5,977.4 1222.9,964.7 1235.6,954.3" fill="#58abe4" stroke="#58abe4" stroke-width="0.6" stroke-linejoin="round"/><polygon points="1235.6,977.4 1235.6,954.3 1248.3,964.7 1258.7,977.4" fill="#4ca1dd" stroke="#4ca1dd" stroke-width="0.6" stroke-linejoin="round"/><polygon points="1235.6,977.4 1212.5,977.4 1222.9,990.1 1235.6,1000.5" fill="#4499d7" stroke="#4499d7" stroke-width="0.6" stroke-linejoin="round"/><polygon points="1235.6,977.4 1235.6,1000.5 1248.3,990.1 1258.7,977.4" fill="#3c90cf" stroke="#3c90cf" stroke-width="0.6" stroke-linejoin="round"/><line x1="1212.5" y1="977.4" x2="1258.7" y2="977.4" stroke="#2a6aa3" stroke-width="0.8" opacity="0.5"/></g>
</g>
<circle cx="1235.6" cy="977.4" r="16.5" fill="#4aa0e0" opacity="0.5" filter="url(#soft)"/>
<circle cx="1235.6" cy="977.4" r="2.8" fill="#3f4a55" opacity="0.9"/>
<circle cx="1235.6" cy="977.4" r="24.4" fill="none" stroke="#e8c65c" stroke-width="1.5"/>
<line x1="1201.3" y1="862.2" x2="1210.9" y2="972.2" stroke="#efd24a" stroke-width="1.4" />
<line x1="1306" y1="865.6" x2="1260.4" y2="975.6" stroke="#efd24a" stroke-width="1.4" />
<clipPath id="cq3"><rect x="1201.0" y="754.0" width="112" height="112"/></clipPath>
<g clip-path="url(#cq3)">
<rect x="1201" y="754" width="112" height="112" fill="#fbfdff" />
<g opacity="1.0"><polygon points="1185.8,738.8 1168.0,738.8 1176.9,729.9 1185.8,721.0" fill="#74b2e6" stroke="#74b2e6" stroke-width="0.6" stroke-linejoin="round"/><polygon points="1185.8,738.8 1185.8,721.0 1194.7,729.9 1203.6,738.8" fill="#6aaae2" stroke="#6aaae2" stroke-width="0.6" stroke-linejoin="round"/><polygon points="1185.8,738.8 1168.0,738.8 1176.9,747.7 1185.8,756.6" fill="#62a3dd" stroke="#62a3dd" stroke-width="0.6" stroke-linejoin="round"/><polygon points="1185.8,738.8 1185.8,756.6 1194.7,747.7 1203.6,738.8" fill="#5b9dd8" stroke="#5b9dd8" stroke-width="0.6" stroke-linejoin="round"/><line x1="1168.0" y1="738.8" x2="1203.6" y2="738.8" stroke="#2a6aa3" stroke-width="0.8" opacity="0.5"/></g>
<g opacity="1.0"><polygon points="1221.4,738.8 1203.6,738.8 1212.5,729.9 1221.4,721.0" fill="#74b2e6" stroke="#74b2e6" stroke-width="0.6" stroke-linejoin="round"/><polygon points="1221.4,738.8 1221.4,721.0 1230.3,729.9 1239.2,738.8" fill="#6aaae2" stroke="#6aaae2" stroke-width="0.6" stroke-linejoin="round"/><polygon points="1221.4,738.8 1203.6,738.8 1212.5,747.7 1221.4,756.6" fill="#62a3dd" stroke="#62a3dd" stroke-width="0.6" stroke-linejoin="round"/><polygon points="1221.4,738.8 1221.4,756.6 1230.3,747.7 1239.2,738.8" fill="#5b9dd8" stroke="#5b9dd8" stroke-width="0.6" stroke-linejoin="round"/><line x1="1203.6" y1="738.8" x2="1239.2" y2="738.8" stroke="#2a6aa3" stroke-width="0.8" opacity="0.5"/></g>
<g opacity="1.0"><polygon points="1257.0,738.8 1239.2,738.8 1248.1,729.9 1257.0,721.0" fill="#74b2e6" stroke="#74b2e6" stroke-width="0.6" stroke-linejoin="round"/><polygon points="1257.0,738.8 1257.0,721.0 1265.9,729.9 1274.8,738.8" fill="#6aaae2" stroke="#6aaae2" stroke-width="0.6" stroke-linejoin="round"/><polygon points="1257.0,738.8 1239.2,738.8 1248.1,747.7 1257.0,756.6" fill="#62a3dd" stroke="#62a3dd" stroke-width="0.6" stroke-linejoin="round"/><polygon points="1257.0,738.8 1257.0,756.6 1265.9,747.7 1274.8,738.8" fill="#5b9dd8" stroke="#5b9dd8" stroke-width="0.6" stroke-linejoin="round"/><line x1="1239.2" y1="738.8" x2="1274.8" y2="738.8" stroke="#2a6aa3" stroke-width="0.8" opacity="0.5"/></g>
<g opacity="1.0"><polygon points="1292.6,738.8 1274.8,738.8 1283.7,729.9 1292.6,721.0" fill="#74b2e6" stroke="#74b2e6" stroke-width="0.6" stroke-linejoin="round"/><polygon points="1292.6,738.8 1292.6,721.0 1301.5,729.9 1310.4,738.8" fill="#6aaae2" stroke="#6aaae2" stroke-width="0.6" stroke-linejoin="round"/><polygon points="1292.6,738.8 1274.8,738.8 1283.7,747.7 1292.6,756.6" fill="#62a3dd" stroke="#62a3dd" stroke-width="0.6" stroke-linejoin="round"/><polygon points="1292.6,738.8 1292.6,756.6 1301.5,747.7 1310.4,738.8" fill="#5b9dd8" stroke="#5b9dd8" stroke-width="0.6" stroke-linejoin="round"/><line x1="1274.8" y1="738.8" x2="1310.4" y2="738.8" stroke="#2a6aa3" stroke-width="0.8" opacity="0.5"/></g>
<g opacity="1.0"><polygon points="1328.2,738.8 1310.4,738.8 1319.3,729.9 1328.2,721.0" fill="#74b2e6" stroke="#74b2e6" stroke-width="0.6" stroke-linejoin="round"/><polygon points="1328.2,738.8 1328.2,721.0 1337.1,729.9 1346.0,738.8" fill="#6aaae2" stroke="#6aaae2" stroke-width="0.6" stroke-linejoin="round"/><polygon points="1328.2,738.8 1310.4,738.8 1319.3,747.7 1328.2,756.6" fill="#62a3dd" stroke="#62a3dd" stroke-width="0.6" stroke-linejoin="round"/><polygon points="1328.2,738.8 1328.2,756.6 1337.1,747.7 1346.0,738.8" fill="#5b9dd8" stroke="#5b9dd8" stroke-width="0.6" stroke-linejoin="round"/><line x1="1310.4" y1="738.8" x2="1346.0" y2="738.8" stroke="#2a6aa3" stroke-width="0.8" opacity="0.5"/></g>
<g opacity="1.0"><polygon points="1185.8,774.4 1168.0,774.4 1176.9,765.5 1185.8,756.6" fill="#74b2e6" stroke="#74b2e6" stroke-width="0.6" stroke-linejoin="round"/><polygon points="1185.8,774.4 1185.8,756.6 1194.7,765.5 1203.6,774.4" fill="#6aaae2" stroke="#6aaae2" stroke-width="0.6" stroke-linejoin="round"/><polygon points="1185.8,774.4 1168.0,774.4 1176.9,783.3 1185.8,792.2" fill="#62a3dd" stroke="#62a3dd" stroke-width="0.6" stroke-linejoin="round"/><polygon points="1185.8,774.4 1185.8,792.2 1194.7,783.3 1203.6,774.4" fill="#5b9dd8" stroke="#5b9dd8" stroke-width="0.6" stroke-linejoin="round"/><line x1="1168.0" y1="774.4" x2="1203.6" y2="774.4" stroke="#2a6aa3" stroke-width="0.8" opacity="0.5"/></g>
<g opacity="1.0"><polygon points="1221.4,774.4 1203.6,774.4 1212.5,765.5 1221.4,756.6" fill="#74b2e6" stroke="#74b2e6" stroke-width="0.6" stroke-linejoin="round"/><polygon points="1221.4,774.4 1221.4,756.6 1230.3,765.5 1239.2,774.4" fill="#6aaae2" stroke="#6aaae2" stroke-width="0.6" stroke-linejoin="round"/><polygon points="1221.4,774.4 1203.6,774.4 1212.5,783.3 1221.4,792.2" fill="#62a3dd" stroke="#62a3dd" stroke-width="0.6" stroke-linejoin="round"/><polygon points="1221.4,774.4 1221.4,792.2 1230.3,783.3 1239.2,774.4" fill="#5b9dd8" stroke="#5b9dd8" stroke-width="0.6" stroke-linejoin="round"/><line x1="1203.6" y1="774.4" x2="1239.2" y2="774.4" stroke="#2a6aa3" stroke-width="0.8" opacity="0.5"/></g>
<g opacity="1.0"><polygon points="1257.0,774.4 1239.2,774.4 1248.1,765.5 1257.0,756.6" fill="#74b2e6" stroke="#74b2e6" stroke-width="0.6" stroke-linejoin="round"/><polygon points="1257.0,774.4 1257.0,756.6 1265.9,765.5 1274.8,774.4" fill="#6aaae2" stroke="#6aaae2" stroke-width="0.6" stroke-linejoin="round"/><polygon points="1257.0,774.4 1239.2,774.4 1248.1,783.3 1257.0,792.2" fill="#62a3dd" stroke="#62a3dd" stroke-width="0.6" stroke-linejoin="round"/><polygon points="1257.0,774.4 1257.0,792.2 1265.9,783.3 1274.8,774.4" fill="#5b9dd8" stroke="#5b9dd8" stroke-width="0.6" stroke-linejoin="round"/><line x1="1239.2" y1="774.4" x2="1274.8" y2="774.4" stroke="#2a6aa3" stroke-width="0.8" opacity="0.5"/></g>
<g opacity="1.0"><polygon points="1292.6,774.4 1274.8,774.4 1283.7,765.5 1292.6,756.6" fill="#74b2e6" stroke="#74b2e6" stroke-width="0.6" stroke-linejoin="round"/><polygon points="1292.6,774.4 1292.6,756.6 1301.5,765.5 1310.4,774.4" fill="#6aaae2" stroke="#6aaae2" stroke-width="0.6" stroke-linejoin="round"/><polygon points="1292.6,774.4 1274.8,774.4 1283.7,783.3 1292.6,792.2" fill="#62a3dd" stroke="#62a3dd" stroke-width="0.6" stroke-linejoin="round"/><polygon points="1292.6,774.4 1292.6,792.2 1301.5,783.3 1310.4,774.4" fill="#5b9dd8" stroke="#5b9dd8" stroke-width="0.6" stroke-linejoin="round"/><line x1="1274.8" y1="774.4" x2="1310.4" y2="774.4" stroke="#2a6aa3" stroke-width="0.8" opacity="0.5"/></g>
<g opacity="1.0"><polygon points="1328.2,774.4 1310.4,774.4 1319.3,765.5 1328.2,756.6" fill="#74b2e6" stroke="#74b2e6" stroke-width="0.6" stroke-linejoin="round"/><polygon points="1328.2,774.4 1328.2,756.6 1337.1,765.5 1346.0,774.4" fill="#6aaae2" stroke="#6aaae2" stroke-width="0.6" stroke-linejoin="round"/><polygon points="1328.2,774.4 1310.4,774.4 1319.3,783.3 1328.2,792.2" fill="#62a3dd" stroke="#62a3dd" stroke-width="0.6" stroke-linejoin="round"/><polygon points="1328.2,774.4 1328.2,792.2 1337.1,783.3 1346.0,774.4" fill="#5b9dd8" stroke="#5b9dd8" stroke-width="0.6" stroke-linejoin="round"/><line x1="1310.4" y1="774.4" x2="1346.0" y2="774.4" stroke="#2a6aa3" stroke-width="0.8" opacity="0.5"/></g>
<g opacity="1.0"><polygon points="1185.8,810.0 1168.0,810.0 1176.9,801.1 1185.8,792.2" fill="#74b2e6" stroke="#74b2e6" stroke-width="0.6" stroke-linejoin="round"/><polygon points="1185.8,810.0 1185.8,792.2 1194.7,801.1 1203.6,810.0" fill="#6aaae2" stroke="#6aaae2" stroke-width="0.6" stroke-linejoin="round"/><polygon points="1185.8,810.0 1168.0,810.0 1176.9,818.9 1185.8,827.8" fill="#62a3dd" stroke="#62a3dd" stroke-width="0.6" stroke-linejoin="round"/><polygon points="1185.8,810.0 1185.8,827.8 1194.7,818.9 1203.6,810.0" fill="#5b9dd8" stroke="#5b9dd8" stroke-width="0.6" stroke-linejoin="round"/><line x1="1168.0" y1="810.0" x2="1203.6" y2="810.0" stroke="#2a6aa3" stroke-width="0.8" opacity="0.5"/></g>
<g opacity="1.0"><polygon points="1221.4,810.0 1203.6,810.0 1212.5,801.1 1221.4,792.2" fill="#74b2e6" stroke="#74b2e6" stroke-width="0.6" stroke-linejoin="round"/><polygon points="1221.4,810.0 1221.4,792.2 1230.3,801.1 1239.2,810.0" fill="#6aaae2" stroke="#6aaae2" stroke-width="0.6" stroke-linejoin="round"/><polygon points="1221.4,810.0 1203.6,810.0 1212.5,818.9 1221.4,827.8" fill="#62a3dd" stroke="#62a3dd" stroke-width="0.6" stroke-linejoin="round"/><polygon points="1221.4,810.0 1221.4,827.8 1230.3,818.9 1239.2,810.0" fill="#5b9dd8" stroke="#5b9dd8" stroke-width="0.6" stroke-linejoin="round"/><line x1="1203.6" y1="810.0" x2="1239.2" y2="810.0" stroke="#2a6aa3" stroke-width="0.8" opacity="0.5"/></g>
<g opacity="1.0"><polygon points="1257.0,810.0 1239.2,810.0 1248.1,801.1 1257.0,792.2" fill="#74b2e6" stroke="#74b2e6" stroke-width="0.6" stroke-linejoin="round"/><polygon points="1257.0,810.0 1257.0,792.2 1265.9,801.1 1274.8,810.0" fill="#6aaae2" stroke="#6aaae2" stroke-width="0.6" stroke-linejoin="round"/><polygon points="1257.0,810.0 1239.2,810.0 1248.1,818.9 1257.0,827.8" fill="#62a3dd" stroke="#62a3dd" stroke-width="0.6" stroke-linejoin="round"/><polygon points="1257.0,810.0 1257.0,827.8 1265.9,818.9 1274.8,810.0" fill="#5b9dd8" stroke="#5b9dd8" stroke-width="0.6" stroke-linejoin="round"/><line x1="1239.2" y1="810.0" x2="1274.8" y2="810.0" stroke="#2a6aa3" stroke-width="0.8" opacity="0.5"/></g>
<g opacity="1.0"><polygon points="1292.6,810.0 1274.8,810.0 1283.7,801.1 1292.6,792.2" fill="#74b2e6" stroke="#74b2e6" stroke-width="0.6" stroke-linejoin="round"/><polygon points="1292.6,810.0 1292.6,792.2 1301.5,801.1 1310.4,810.0" fill="#6aaae2" stroke="#6aaae2" stroke-width="0.6" stroke-linejoin="round"/><polygon points="1292.6,810.0 1274.8,810.0 1283.7,818.9 1292.6,827.8" fill="#62a3dd" stroke="#62a3dd" stroke-width="0.6" stroke-linejoin="round"/><polygon points="1292.6,810.0 1292.6,827.8 1301.5,818.9 1310.4,810.0" fill="#5b9dd8" stroke="#5b9dd8" stroke-width="0.6" stroke-linejoin="round"/><line x1="1274.8" y1="810.0" x2="1310.4" y2="810.0" stroke="#2a6aa3" stroke-width="0.8" opacity="0.5"/></g>
<g opacity="1.0"><polygon points="1328.2,810.0 1310.4,810.0 1319.3,801.1 1328.2,792.2" fill="#74b2e6" stroke="#74b2e6" stroke-width="0.6" stroke-linejoin="round"/><polygon points="1328.2,810.0 1328.2,792.2 1337.1,801.1 1346.0,810.0" fill="#6aaae2" stroke="#6aaae2" stroke-width="0.6" stroke-linejoin="round"/><polygon points="1328.2,810.0 1310.4,810.0 1319.3,818.9 1328.2,827.8" fill="#62a3dd" stroke="#62a3dd" stroke-width="0.6" stroke-linejoin="round"/><polygon points="1328.2,810.0 1328.2,827.8 1337.1,818.9 1346.0,810.0" fill="#5b9dd8" stroke="#5b9dd8" stroke-width="0.6" stroke-linejoin="round"/><line x1="1310.4" y1="810.0" x2="1346.0" y2="810.0" stroke="#2a6aa3" stroke-width="0.8" opacity="0.5"/></g>
<g opacity="1.0"><polygon points="1185.8,845.6 1168.0,845.6 1176.9,836.7 1185.8,827.8" fill="#74b2e6" stroke="#74b2e6" stroke-width="0.6" stroke-linejoin="round"/><polygon points="1185.8,845.6 1185.8,827.8 1194.7,836.7 1203.6,845.6" fill="#6aaae2" stroke="#6aaae2" stroke-width="0.6" stroke-linejoin="round"/><polygon points="1185.8,845.6 1168.0,845.6 1176.9,854.5 1185.8,863.4" fill="#62a3dd" stroke="#62a3dd" stroke-width="0.6" stroke-linejoin="round"/><polygon points="1185.8,845.6 1185.8,863.4 1194.7,854.5 1203.6,845.6" fill="#5b9dd8" stroke="#5b9dd8" stroke-width="0.6" stroke-linejoin="round"/><line x1="1168.0" y1="845.6" x2="1203.6" y2="845.6" stroke="#2a6aa3" stroke-width="0.8" opacity="0.5"/></g>
<g opacity="1.0"><polygon points="1221.4,845.6 1203.6,845.6 1212.5,836.7 1221.4,827.8" fill="#74b2e6" stroke="#74b2e6" stroke-width="0.6" stroke-linejoin="round"/><polygon points="1221.4,845.6 1221.4,827.8 1230.3,836.7 1239.2,845.6" fill="#6aaae2" stroke="#6aaae2" stroke-width="0.6" stroke-linejoin="round"/><polygon points="1221.4,845.6 1203.6,845.6 1212.5,854.5 1221.4,863.4" fill="#62a3dd" stroke="#62a3dd" stroke-width="0.6" stroke-linejoin="round"/><polygon points="1221.4,845.6 1221.4,863.4 1230.3,854.5 1239.2,845.6" fill="#5b9dd8" stroke="#5b9dd8" stroke-width="0.6" stroke-linejoin="round"/><line x1="1203.6" y1="845.6" x2="1239.2" y2="845.6" stroke="#2a6aa3" stroke-width="0.8" opacity="0.5"/></g>
<g opacity="1.0"><polygon points="1257.0,845.6 1239.2,845.6 1248.1,836.7 1257.0,827.8" fill="#74b2e6" stroke="#74b2e6" stroke-width="0.6" stroke-linejoin="round"/><polygon points="1257.0,845.6 1257.0,827.8 1265.9,836.7 1274.8,845.6" fill="#6aaae2" stroke="#6aaae2" stroke-width="0.6" stroke-linejoin="round"/><polygon points="1257.0,845.6 1239.2,845.6 1248.1,854.5 1257.0,863.4" fill="#62a3dd" stroke="#62a3dd" stroke-width="0.6" stroke-linejoin="round"/><polygon points="1257.0,845.6 1257.0,863.4 1265.9,854.5 1274.8,845.6" fill="#5b9dd8" stroke="#5b9dd8" stroke-width="0.6" stroke-linejoin="round"/><line x1="1239.2" y1="845.6" x2="1274.8" y2="845.6" stroke="#2a6aa3" stroke-width="0.8" opacity="0.5"/></g>
<g opacity="1.0"><polygon points="1292.6,845.6 1274.8,845.6 1283.7,836.7 1292.6,827.8" fill="#74b2e6" stroke="#74b2e6" stroke-width="0.6" stroke-linejoin="round"/><polygon points="1292.6,845.6 1292.6,827.8 1301.5,836.7 1310.4,845.6" fill="#6aaae2" stroke="#6aaae2" stroke-width="0.6" stroke-linejoin="round"/><polygon points="1292.6,845.6 1274.8,845.6 1283.7,854.5 1292.6,863.4" fill="#62a3dd" stroke="#62a3dd" stroke-width="0.6" stroke-linejoin="round"/><polygon points="1292.6,845.6 1292.6,863.4 1301.5,854.5 1310.4,845.6" fill="#5b9dd8" stroke="#5b9dd8" stroke-width="0.6" stroke-linejoin="round"/><line x1="1274.8" y1="845.6" x2="1310.4" y2="845.6" stroke="#2a6aa3" stroke-width="0.8" opacity="0.5"/></g>
<g opacity="1.0"><polygon points="1328.2,845.6 1310.4,845.6 1319.3,836.7 1328.2,827.8" fill="#74b2e6" stroke="#74b2e6" stroke-width="0.6" stroke-linejoin="round"/><polygon points="1328.2,845.6 1328.2,827.8 1337.1,836.7 1346.0,845.6" fill="#6aaae2" stroke="#6aaae2" stroke-width="0.6" stroke-linejoin="round"/><polygon points="1328.2,845.6 1310.4,845.6 1319.3,854.5 1328.2,863.4" fill="#62a3dd" stroke="#62a3dd" stroke-width="0.6" stroke-linejoin="round"/><polygon points="1328.2,845.6 1328.2,863.4 1337.1,854.5 1346.0,845.6" fill="#5b9dd8" stroke="#5b9dd8" stroke-width="0.6" stroke-linejoin="round"/><line x1="1310.4" y1="845.6" x2="1346.0" y2="845.6" stroke="#2a6aa3" stroke-width="0.8" opacity="0.5"/></g>
<g opacity="1.0"><polygon points="1185.8,881.2 1168.0,881.2 1176.9,872.3 1185.8,863.4" fill="#74b2e6" stroke="#74b2e6" stroke-width="0.6" stroke-linejoin="round"/><polygon points="1185.8,881.2 1185.8,863.4 1194.7,872.3 1203.6,881.2" fill="#6aaae2" stroke="#6aaae2" stroke-width="0.6" stroke-linejoin="round"/><polygon points="1185.8,881.2 1168.0,881.2 1176.9,890.1 1185.8,899.0" fill="#62a3dd" stroke="#62a3dd" stroke-width="0.6" stroke-linejoin="round"/><polygon points="1185.8,881.2 1185.8,899.0 1194.7,890.1 1203.6,881.2" fill="#5b9dd8" stroke="#5b9dd8" stroke-width="0.6" stroke-linejoin="round"/><line x1="1168.0" y1="881.2" x2="1203.6" y2="881.2" stroke="#2a6aa3" stroke-width="0.8" opacity="0.5"/></g>
<g opacity="1.0"><polygon points="1221.4,881.2 1203.6,881.2 1212.5,872.3 1221.4,863.4" fill="#74b2e6" stroke="#74b2e6" stroke-width="0.6" stroke-linejoin="round"/><polygon points="1221.4,881.2 1221.4,863.4 1230.3,872.3 1239.2,881.2" fill="#6aaae2" stroke="#6aaae2" stroke-width="0.6" stroke-linejoin="round"/><polygon points="1221.4,881.2 1203.6,881.2 1212.5,890.1 1221.4,899.0" fill="#62a3dd" stroke="#62a3dd" stroke-width="0.6" stroke-linejoin="round"/><polygon points="1221.4,881.2 1221.4,899.0 1230.3,890.1 1239.2,881.2" fill="#5b9dd8" stroke="#5b9dd8" stroke-width="0.6" stroke-linejoin="round"/><line x1="1203.6" y1="881.2" x2="1239.2" y2="881.2" stroke="#2a6aa3" stroke-width="0.8" opacity="0.5"/></g>
<g opacity="1.0"><polygon points="1257.0,881.2 1239.2,881.2 1248.1,872.3 1257.0,863.4" fill="#74b2e6" stroke="#74b2e6" stroke-width="0.6" stroke-linejoin="round"/><polygon points="1257.0,881.2 1257.0,863.4 1265.9,872.3 1274.8,881.2" fill="#6aaae2" stroke="#6aaae2" stroke-width="0.6" stroke-linejoin="round"/><polygon points="1257.0,881.2 1239.2,881.2 1248.1,890.1 1257.0,899.0" fill="#62a3dd" stroke="#62a3dd" stroke-width="0.6" stroke-linejoin="round"/><polygon points="1257.0,881.2 1257.0,899.0 1265.9,890.1 1274.8,881.2" fill="#5b9dd8" stroke="#5b9dd8" stroke-width="0.6" stroke-linejoin="round"/><line x1="1239.2" y1="881.2" x2="1274.8" y2="881.2" stroke="#2a6aa3" stroke-width="0.8" opacity="0.5"/></g>
<g opacity="1.0"><polygon points="1292.6,881.2 1274.8,881.2 1283.7,872.3 1292.6,863.4" fill="#74b2e6" stroke="#74b2e6" stroke-width="0.6" stroke-linejoin="round"/><polygon points="1292.6,881.2 1292.6,863.4 1301.5,872.3 1310.4,881.2" fill="#6aaae2" stroke="#6aaae2" stroke-width="0.6" stroke-linejoin="round"/><polygon points="1292.6,881.2 1274.8,881.2 1283.7,890.1 1292.6,899.0" fill="#62a3dd" stroke="#62a3dd" stroke-width="0.6" stroke-linejoin="round"/><polygon points="1292.6,881.2 1292.6,899.0 1301.5,890.1 1310.4,881.2" fill="#5b9dd8" stroke="#5b9dd8" stroke-width="0.6" stroke-linejoin="round"/><line x1="1274.8" y1="881.2" x2="1310.4" y2="881.2" stroke="#2a6aa3" stroke-width="0.8" opacity="0.5"/></g>
<g opacity="1.0"><polygon points="1328.2,881.2 1310.4,881.2 1319.3,872.3 1328.2,863.4" fill="#74b2e6" stroke="#74b2e6" stroke-width="0.6" stroke-linejoin="round"/><polygon points="1328.2,881.2 1328.2,863.4 1337.1,872.3 1346.0,881.2" fill="#6aaae2" stroke="#6aaae2" stroke-width="0.6" stroke-linejoin="round"/><polygon points="1328.2,881.2 1310.4,881.2 1319.3,890.1 1328.2,899.0" fill="#62a3dd" stroke="#62a3dd" stroke-width="0.6" stroke-linejoin="round"/><polygon points="1328.2,881.2 1328.2,899.0 1337.1,890.1 1346.0,881.2" fill="#5b9dd8" stroke="#5b9dd8" stroke-width="0.6" stroke-linejoin="round"/><line x1="1310.4" y1="881.2" x2="1346.0" y2="881.2" stroke="#2a6aa3" stroke-width="0.8" opacity="0.5"/></g>
<line x1="1201" y1="738.8" x2="1313" y2="738.8" stroke="#2f6ea6" stroke-width="0.8" opacity="0.5"/>
<line x1="1201" y1="774.4" x2="1313" y2="774.4" stroke="#2f6ea6" stroke-width="0.8" opacity="0.5"/>
<line x1="1201" y1="810" x2="1313" y2="810" stroke="#2f6ea6" stroke-width="0.8" opacity="0.5"/>
<line x1="1201" y1="845.6" x2="1313" y2="845.6" stroke="#2f6ea6" stroke-width="0.8" opacity="0.5"/>
<line x1="1201" y1="881.2" x2="1313" y2="881.2" stroke="#2f6ea6" stroke-width="0.8" opacity="0.5"/>
<circle cx="1185.8" cy="738.8" r="2.4" fill="#3a5566" opacity="1.0"/>
<circle cx="1203.6" cy="738.8" r="2.2" fill="#3a5566" opacity="1.0"/>
<circle cx="1185.8" cy="756.6" r="2.2" fill="#3a5566" opacity="1.0"/>
<circle cx="1221.4" cy="738.8" r="2.4" fill="#3a5566" opacity="1.0"/>
<circle cx="1239.2" cy="738.8" r="2.2" fill="#3a5566" opacity="1.0"/>
<circle cx="1221.4" cy="756.6" r="2.2" fill="#3a5566" opacity="1.0"/>
<circle cx="1257.0" cy="738.8" r="2.4" fill="#3a5566" opacity="1.0"/>
<circle cx="1274.8" cy="738.8" r="2.2" fill="#3a5566" opacity="1.0"/>
<circle cx="1257.0" cy="756.6" r="2.2" fill="#3a5566" opacity="1.0"/>
<circle cx="1292.6" cy="738.8" r="2.4" fill="#3a5566" opacity="1.0"/>
<circle cx="1310.4" cy="738.8" r="2.2" fill="#3a5566" opacity="1.0"/>
<circle cx="1292.6" cy="756.6" r="2.2" fill="#3a5566" opacity="1.0"/>
<circle cx="1328.2" cy="738.8" r="2.4" fill="#3a5566" opacity="1.0"/>
<circle cx="1346.0" cy="738.8" r="2.2" fill="#3a5566" opacity="1.0"/>
<circle cx="1328.2" cy="756.6" r="2.2" fill="#3a5566" opacity="1.0"/>
<circle cx="1185.8" cy="774.4" r="2.4" fill="#3a5566" opacity="1.0"/>
<circle cx="1203.6" cy="774.4" r="2.2" fill="#3a5566" opacity="1.0"/>
<circle cx="1185.8" cy="792.2" r="2.2" fill="#3a5566" opacity="1.0"/>
<circle cx="1221.4" cy="774.4" r="2.4" fill="#3a5566" opacity="1.0"/>
<circle cx="1239.2" cy="774.4" r="2.2" fill="#3a5566" opacity="1.0"/>
<circle cx="1221.4" cy="792.2" r="2.2" fill="#3a5566" opacity="1.0"/>
<circle cx="1257.0" cy="774.4" r="2.4" fill="#3a5566" opacity="1.0"/>
<circle cx="1274.8" cy="774.4" r="2.2" fill="#3a5566" opacity="1.0"/>
<circle cx="1257.0" cy="792.2" r="2.2" fill="#3a5566" opacity="1.0"/>
<circle cx="1292.6" cy="774.4" r="2.4" fill="#3a5566" opacity="1.0"/>
<circle cx="1310.4" cy="774.4" r="2.2" fill="#3a5566" opacity="1.0"/>
<circle cx="1292.6" cy="792.2" r="2.2" fill="#3a5566" opacity="1.0"/>
<circle cx="1328.2" cy="774.4" r="2.4" fill="#3a5566" opacity="1.0"/>
<circle cx="1346.0" cy="774.4" r="2.2" fill="#3a5566" opacity="1.0"/>
<circle cx="1328.2" cy="792.2" r="2.2" fill="#3a5566" opacity="1.0"/>
<circle cx="1185.8" cy="810.0" r="2.4" fill="#3a5566" opacity="1.0"/>
<circle cx="1203.6" cy="810.0" r="2.2" fill="#3a5566" opacity="1.0"/>
<circle cx="1185.8" cy="827.8" r="2.2" fill="#3a5566" opacity="1.0"/>
<circle cx="1221.4" cy="810.0" r="2.4" fill="#3a5566" opacity="1.0"/>
<circle cx="1239.2" cy="810.0" r="2.2" fill="#3a5566" opacity="1.0"/>
<circle cx="1221.4" cy="827.8" r="2.2" fill="#3a5566" opacity="1.0"/>
<circle cx="1257.0" cy="810.0" r="2.4" fill="#3a5566" opacity="1.0"/>
<circle cx="1274.8" cy="810.0" r="2.2" fill="#3a5566" opacity="1.0"/>
<circle cx="1257.0" cy="827.8" r="2.2" fill="#3a5566" opacity="1.0"/>
<circle cx="1292.6" cy="810.0" r="2.4" fill="#3a5566" opacity="1.0"/>
<circle cx="1310.4" cy="810.0" r="2.2" fill="#3a5566" opacity="1.0"/>
<circle cx="1292.6" cy="827.8" r="2.2" fill="#3a5566" opacity="1.0"/>
<circle cx="1328.2" cy="810.0" r="2.4" fill="#3a5566" opacity="1.0"/>
<circle cx="1346.0" cy="810.0" r="2.2" fill="#3a5566" opacity="1.0"/>
<circle cx="1328.2" cy="827.8" r="2.2" fill="#3a5566" opacity="1.0"/>
<circle cx="1185.8" cy="845.6" r="2.4" fill="#3a5566" opacity="1.0"/>
<circle cx="1203.6" cy="845.6" r="2.2" fill="#3a5566" opacity="1.0"/>
<circle cx="1185.8" cy="863.4" r="2.2" fill="#3a5566" opacity="1.0"/>
<circle cx="1221.4" cy="845.6" r="2.4" fill="#3a5566" opacity="1.0"/>
<circle cx="1239.2" cy="845.6" r="2.2" fill="#3a5566" opacity="1.0"/>
<circle cx="1221.4" cy="863.4" r="2.2" fill="#3a5566" opacity="1.0"/>
<circle cx="1257.0" cy="845.6" r="2.4" fill="#3a5566" opacity="1.0"/>
<circle cx="1274.8" cy="845.6" r="2.2" fill="#3a5566" opacity="1.0"/>
<circle cx="1257.0" cy="863.4" r="2.2" fill="#3a5566" opacity="1.0"/>
<circle cx="1292.6" cy="845.6" r="2.4" fill="#3a5566" opacity="1.0"/>
<circle cx="1310.4" cy="845.6" r="2.2" fill="#3a5566" opacity="1.0"/>
<circle cx="1292.6" cy="863.4" r="2.2" fill="#3a5566" opacity="1.0"/>
<circle cx="1328.2" cy="845.6" r="2.4" fill="#3a5566" opacity="1.0"/>
<circle cx="1346.0" cy="845.6" r="2.2" fill="#3a5566" opacity="1.0"/>
<circle cx="1328.2" cy="863.4" r="2.2" fill="#3a5566" opacity="1.0"/>
<circle cx="1185.8" cy="881.2" r="2.4" fill="#3a5566" opacity="1.0"/>
<circle cx="1203.6" cy="881.2" r="2.2" fill="#3a5566" opacity="1.0"/>
<circle cx="1185.8" cy="899.0" r="2.2" fill="#3a5566" opacity="1.0"/>
<circle cx="1221.4" cy="881.2" r="2.4" fill="#3a5566" opacity="1.0"/>
<circle cx="1239.2" cy="881.2" r="2.2" fill="#3a5566" opacity="1.0"/>
<circle cx="1221.4" cy="899.0" r="2.2" fill="#3a5566" opacity="1.0"/>
<circle cx="1257.0" cy="881.2" r="2.4" fill="#3a5566" opacity="1.0"/>
<circle cx="1274.8" cy="881.2" r="2.2" fill="#3a5566" opacity="1.0"/>
<circle cx="1257.0" cy="899.0" r="2.2" fill="#3a5566" opacity="1.0"/>
<circle cx="1292.6" cy="881.2" r="2.4" fill="#3a5566" opacity="1.0"/>
<circle cx="1310.4" cy="881.2" r="2.2" fill="#3a5566" opacity="1.0"/>
<circle cx="1292.6" cy="899.0" r="2.2" fill="#3a5566" opacity="1.0"/>
<circle cx="1328.2" cy="881.2" r="2.4" fill="#3a5566" opacity="1.0"/>
<circle cx="1346.0" cy="881.2" r="2.2" fill="#3a5566" opacity="1.0"/>
<circle cx="1328.2" cy="899.0" r="2.2" fill="#3a5566" opacity="1.0"/>
<circle cx="1203.6" cy="756.6" r="4.6" fill="#d4512c"/>
<circle cx="1239.2" cy="756.6" r="4.6" fill="#d4512c"/>
<circle cx="1274.8" cy="756.6" r="4.6" fill="#d4512c"/>
<circle cx="1310.4" cy="756.6" r="4.6" fill="#d4512c"/>
<circle cx="1203.6" cy="792.2" r="4.6" fill="#d4512c"/>
<circle cx="1239.2" cy="792.2" r="4.6" fill="#d4512c"/>
<circle cx="1274.8" cy="792.2" r="4.6" fill="#d4512c"/>
<circle cx="1310.4" cy="792.2" r="4.6" fill="#d4512c"/>
<circle cx="1203.6" cy="827.8" r="4.6" fill="#d4512c"/>
<circle cx="1239.2" cy="827.8" r="4.6" fill="#d4512c"/>
<circle cx="1274.8" cy="827.8" r="4.6" fill="#d4512c"/>
<circle cx="1310.4" cy="827.8" r="4.6" fill="#d4512c"/>
<circle cx="1203.6" cy="863.4" r="4.6" fill="#d4512c"/>
<circle cx="1239.2" cy="863.4" r="4.6" fill="#d4512c"/>
<circle cx="1274.8" cy="863.4" r="4.6" fill="#d4512c"/>
<circle cx="1310.4" cy="863.4" r="4.6" fill="#d4512c"/>
</g>
<circle cx="1257.0" cy="810.0" r="57.5" fill="none" stroke="#e8c65c" stroke-width="1.8"/>
<ellipse cx="1313" cy="925" rx="3.4" ry="2.6" fill="#c9452e"/>
<ellipse cx="1321" cy="921" rx="3.4" ry="2.6" fill="#c9452e"/>
<ellipse cx="1329" cy="925" rx="3.4" ry="2.6" fill="#c9452e"/>
<ellipse cx="1316" cy="933" rx="3.4" ry="2.6" fill="#c9452e"/>
<ellipse cx="1325" cy="935" rx="3.4" ry="2.6" fill="#c9452e"/>
<ellipse cx="1334" cy="931" rx="3.4" ry="2.6" fill="#c9452e"/>
<ellipse cx="1310" cy="940" rx="3.4" ry="2.6" fill="#c9452e"/>
<ellipse cx="1320" cy="943" rx="3.4" ry="2.6" fill="#c9452e"/>
<g opacity="1.0"><line x1="1215.0" y1="886.3" x2="1201.1" y2="888.0" stroke="#6a6a6a" stroke-width="1.3" stroke-linecap="round"/><line x1="1215.0" y1="886.3" x2="1201.1" y2="885.1" stroke="#6a6a6a" stroke-width="1.3" stroke-linecap="round"/><line x1="1215.0" y1="886.3" x2="1201.6" y2="882.2" stroke="#6a6a6a" stroke-width="1.3" stroke-linecap="round"/><circle cx="1215.0" cy="886.3" r="3.8" fill="#5a5a5c"/></g>
<g opacity="1.0"><line x1="1215.0" y1="913.8" x2="1201.7" y2="918.1" stroke="#6a6a6a" stroke-width="1.3" stroke-linecap="round"/><line x1="1215.0" y1="913.8" x2="1201.1" y2="915.3" stroke="#6a6a6a" stroke-width="1.3" stroke-linecap="round"/><line x1="1215.0" y1="913.8" x2="1201.1" y2="912.3" stroke="#6a6a6a" stroke-width="1.3" stroke-linecap="round"/><line x1="1215.0" y1="913.8" x2="1201.7" y2="909.5" stroke="#6a6a6a" stroke-width="1.3" stroke-linecap="round"/><circle cx="1215.0" cy="913.8" r="3.8" fill="#5a5a5c"/></g>
<g opacity="1.0"><line x1="1237.4" y1="913.8" x2="1223.4" y2="914.0" stroke="#6a6a6a" stroke-width="1.3" stroke-linecap="round"/><line x1="1237.4" y1="913.8" x2="1223.7" y2="911.1" stroke="#6a6a6a" stroke-width="1.3" stroke-linecap="round"/><circle cx="1237.4" cy="913.8" r="3.8" fill="#5a5a5c"/></g>
<g opacity="1.0"><line x1="1270.0" y1="894.8" x2="1256.0" y2="895.0" stroke="#6a6a6a" stroke-width="1.3" stroke-linecap="round"/><line x1="1270.0" y1="894.8" x2="1256.3" y2="892.1" stroke="#6a6a6a" stroke-width="1.3" stroke-linecap="round"/><circle cx="1270.0" cy="894.8" r="3.8" fill="#5a5a5c"/></g>
<g opacity="1.0"><line x1="1283.8" y1="886.3" x2="1270.9" y2="891.8" stroke="#6a6a6a" stroke-width="1.3" stroke-linecap="round"/><line x1="1283.8" y1="886.3" x2="1270.1" y2="889.0" stroke="#6a6a6a" stroke-width="1.3" stroke-linecap="round"/><line x1="1283.8" y1="886.3" x2="1269.8" y2="886.1" stroke="#6a6a6a" stroke-width="1.3" stroke-linecap="round"/><line x1="1283.8" y1="886.3" x2="1270.2" y2="883.2" stroke="#6a6a6a" stroke-width="1.3" stroke-linecap="round"/><circle cx="1283.8" cy="886.3" r="3.8" fill="#5a5a5c"/></g>
<g opacity="1.0"><line x1="1302.7" y1="905.2" x2="1289.9" y2="899.5" stroke="#6a6a6a" stroke-width="1.3" stroke-linecap="round"/><line x1="1302.7" y1="905.2" x2="1291.4" y2="897.0" stroke="#6a6a6a" stroke-width="1.3" stroke-linecap="round"/><circle cx="1302.7" cy="905.2" r="3.8" fill="#5a5a5c"/></g>
<g opacity="1.0"><line x1="1313.0" y1="894.8" x2="1299.0" y2="895.0" stroke="#6a6a6a" stroke-width="1.3" stroke-linecap="round"/><line x1="1313.0" y1="894.8" x2="1299.3" y2="892.1" stroke="#6a6a6a" stroke-width="1.3" stroke-linecap="round"/><circle cx="1313.0" cy="894.8" r="3.8" fill="#5a5a5c"/></g>
<g opacity="1.0"><line x1="1330.0" y1="908.6" x2="1316.0" y2="907.6" stroke="#6a6a6a" stroke-width="1.3" stroke-linecap="round"/><line x1="1330.0" y1="908.6" x2="1316.5" y2="904.7" stroke="#6a6a6a" stroke-width="1.3" stroke-linecap="round"/><circle cx="1330.0" cy="908.6" r="3.8" fill="#5a5a5c"/></g>
<g opacity="1.0"><line x1="1342.2" y1="913.8" x2="1329.4" y2="908.1" stroke="#6a6a6a" stroke-width="1.3" stroke-linecap="round"/><line x1="1342.2" y1="913.8" x2="1330.9" y2="905.6" stroke="#6a6a6a" stroke-width="1.3" stroke-linecap="round"/><circle cx="1342.2" cy="913.8" r="3.8" fill="#5a5a5c"/></g>
<g opacity="1.0"><line x1="1349.0" y1="897.3" x2="1335.0" y2="897.5" stroke="#6a6a6a" stroke-width="1.3" stroke-linecap="round"/><line x1="1349.0" y1="897.3" x2="1335.3" y2="894.6" stroke="#6a6a6a" stroke-width="1.3" stroke-linecap="round"/><circle cx="1349.0" cy="897.3" r="3.8" fill="#5a5a5c"/></g>
<g opacity="1.0"><line x1="1376.6" y1="894.8" x2="1362.6" y2="895.0" stroke="#6a6a6a" stroke-width="1.3" stroke-linecap="round"/><line x1="1376.6" y1="894.8" x2="1362.9" y2="892.1" stroke="#6a6a6a" stroke-width="1.3" stroke-linecap="round"/><circle cx="1376.6" cy="894.8" r="3.8" fill="#5a5a5c"/></g>
<g opacity="1.0"><line x1="1392.0" y1="901.7" x2="1379.2" y2="896.0" stroke="#6a6a6a" stroke-width="1.3" stroke-linecap="round"/><line x1="1392.0" y1="901.7" x2="1380.7" y2="893.5" stroke="#6a6a6a" stroke-width="1.3" stroke-linecap="round"/><circle cx="1392.0" cy="901.7" r="3.8" fill="#5a5a5c"/></g>
<g opacity="1.0"><line x1="1404.0" y1="913.8" x2="1390.4" y2="910.4" stroke="#6a6a6a" stroke-width="1.3" stroke-linecap="round"/><line x1="1404.0" y1="913.8" x2="1391.4" y2="907.7" stroke="#6a6a6a" stroke-width="1.3" stroke-linecap="round"/><circle cx="1404.0" cy="913.8" r="3.8" fill="#5a5a5c"/></g>
<circle cx="1245.3" cy="913" r="7.3" fill="#fff3a0" opacity="0.55"/><circle cx="1245.3" cy="913" r="4.3" fill="#f7c400"/>
<circle cx="1400" cy="898.3" r="7.3" fill="#fff3a0" opacity="0.55"/><circle cx="1400" cy="898.3" r="4.3" fill="#f7c400"/>
<circle cx="1409.2" cy="917.9" r="7.3" fill="#fff3a0" opacity="0.55"/><circle cx="1409.2" cy="917.9" r="4.3" fill="#f7c400"/>
<text x="4.2" y="667" font-size="75" font-weight="bold" fill="#000" text-anchor="start" font-family="'Liberation Serif', 'Times New Roman', serif" >b</text>
<text x="94" y="633" font-size="25" font-weight="bold" fill="#141414" text-anchor="start" font-family="'Liberation Sans', Arial, sans-serif" >Day/night cycling working mode</text>
<text x="234.5" y="672" font-size="22" font-weight="bold" fill="#f0a23a" text-anchor="start" font-family="'Liberation Sans', Arial, sans-serif" >illumination</text>
<text x="762.5" y="671" font-size="22" font-weight="bold" fill="#141414" text-anchor="start" font-family="'Liberation Sans', Arial, sans-serif" >dark</text>
<text x="974" y="669" font-size="22" font-weight="bold" fill="#f0a23a" text-anchor="start" font-family="'Liberation Sans', Arial, sans-serif" >sever ion migration</text>
<line x1="989" y1="679" x2="1173" y2="679" stroke="#f0a23a" stroke-width="2.4" stroke-dasharray="1.8,1.4"/>
<polygon points="1172,675.5 1181,679 1172,682.5" fill="#f0a23a"/>
<text x="1244" y="671" font-size="22" font-weight="bold" fill="#f0a23a" text-anchor="start" font-family="'Liberation Sans', Arial, sans-serif" >illumination</text>
<text x="140.7" y="740" font-size="22" font-weight="bold" fill="#141414" text-anchor="start" font-family="'Liberation Sans', Arial, sans-serif" >cubic-like phase</text>
<text x="647" y="740.6" font-size="22" font-weight="bold" fill="#141414" text-anchor="start" font-family="'Liberation Sans', Arial, sans-serif" >orthorhombic phase</text>
<text x="1180" y="742" font-size="22" font-weight="bold" fill="#141414" text-anchor="start" font-family="'Liberation Sans', Arial, sans-serif" >cubic-like phase</text>
<text x="1340" y="869" font-size="22" font-weight="bold" fill="#141414" text-anchor="start" font-family="'Liberation Sans', Arial, sans-serif" >degradation</text>
<text x="147" y="1140" font-size="22" font-weight="bold" fill="#141414" text-anchor="start" font-family="'Liberation Sans', Arial, sans-serif" >gradually strain release</text>
<text x="693" y="1140" font-size="22" font-weight="bold" fill="#141414" text-anchor="start" font-family="'Liberation Sans', Arial, sans-serif" >strain reformation</text>
<text x="1183" y="1139" font-size="22" font-weight="bold" fill="#141414" text-anchor="start" font-family="'Liberation Sans', Arial, sans-serif" >gradually strain release</text>
<line x1="98.5" y1="645.5" x2="1483.5" y2="645.5" stroke="#4a4a4a" stroke-width="2" />
<line x1="20.6" y1="1157.6" x2="1565" y2="1157.6" stroke="#e2e2e2" stroke-width="2" />
<line x1="98.5" y1="1155" x2="1483.5" y2="1155" stroke="#9a9a9a" stroke-width="1.2" />
<line x1="98.5" y1="645.5" x2="98.5" y2="1155" stroke="#d08a90" stroke-width="1.3" />
<line x1="1483.5" y1="645.5" x2="1483.5" y2="1155" stroke="#a3a9f3" stroke-width="1.6" />
<line x1="91.5" y1="645.5" x2="98.5" y2="645.5" stroke="#b0a0a0" stroke-width="1.2" />
<text x="76.5" y="651.8" font-size="22.5" font-weight="normal" fill="#e8737d" text-anchor="end" font-family="'Liberation Sans', Arial, sans-serif" stroke="#e8737d" stroke-width="0.9">85</text>
<line x1="91.5" y1="803.1" x2="98.5" y2="803.1" stroke="#b0a0a0" stroke-width="1.2" />
<text x="76.5" y="809.4" font-size="22.5" font-weight="normal" fill="#e8737d" text-anchor="end" font-family="'Liberation Sans', Arial, sans-serif" stroke="#e8737d" stroke-width="0.9">68</text>
<line x1="91.5" y1="960.7" x2="98.5" y2="960.7" stroke="#b0a0a0" stroke-width="1.2" />
<text x="76.5" y="967" font-size="22.5" font-weight="normal" fill="#e8737d" text-anchor="end" font-family="'Liberation Sans', Arial, sans-serif" stroke="#e8737d" stroke-width="0.9">51</text>
<line x1="91.5" y1="1118.3" x2="98.5" y2="1118.3" stroke="#b0a0a0" stroke-width="1.2" />
<text x="76.5" y="1124.6" font-size="22.5" font-weight="normal" fill="#e8737d" text-anchor="end" font-family="'Liberation Sans', Arial, sans-serif" stroke="#e8737d" stroke-width="0.9">34</text>
<line x1="94.5" y1="724.3" x2="98.5" y2="724.3" stroke="#c0b0b0" stroke-width="1.0" />
<line x1="94.5" y1="881.9" x2="98.5" y2="881.9" stroke="#c0b0b0" stroke-width="1.0" />
<line x1="94.5" y1="1039.5" x2="98.5" y2="1039.5" stroke="#c0b0b0" stroke-width="1.0" />
<line x1="1483.5" y1="1115.5" x2="1490.5" y2="1115.5" stroke="#a0a0b0" stroke-width="1.2" />
<text x="1495.5" y="1123.5" font-size="22.5" font-weight="normal" fill="#838cea" text-anchor="start" font-family="'Liberation Sans', Arial, sans-serif" stroke="#838cea" stroke-width="0.5">25</text>
<line x1="1483.5" y1="1046.3" x2="1490.5" y2="1046.3" stroke="#a0a0b0" stroke-width="1.2" />
<text x="1495.5" y="1054.3" font-size="22.5" font-weight="normal" fill="#838cea" text-anchor="start" font-family="'Liberation Sans', Arial, sans-serif" stroke="#838cea" stroke-width="0.5">30</text>
<line x1="1483.5" y1="977.2" x2="1490.5" y2="977.2" stroke="#a0a0b0" stroke-width="1.2" />
<text x="1495.5" y="985.2" font-size="22.5" font-weight="normal" fill="#838cea" text-anchor="start" font-family="'Liberation Sans', Arial, sans-serif" stroke="#838cea" stroke-width="0.5">35</text>
<line x1="1483.5" y1="908" x2="1490.5" y2="908" stroke="#a0a0b0" stroke-width="1.2" />
<text x="1495.5" y="916" font-size="22.5" font-weight="normal" fill="#838cea" text-anchor="start" font-family="'Liberation Sans', Arial, sans-serif" stroke="#838cea" stroke-width="0.5">40</text>
<line x1="1483.5" y1="838.9" x2="1490.5" y2="838.9" stroke="#a0a0b0" stroke-width="1.2" />
<text x="1495.5" y="846.9" font-size="22.5" font-weight="normal" fill="#838cea" text-anchor="start" font-family="'Liberation Sans', Arial, sans-serif" stroke="#838cea" stroke-width="0.5">45</text>
<line x1="1483.5" y1="769.8" x2="1490.5" y2="769.8" stroke="#a0a0b0" stroke-width="1.2" />
<text x="1495.5" y="777.8" font-size="22.5" font-weight="normal" fill="#838cea" text-anchor="start" font-family="'Liberation Sans', Arial, sans-serif" stroke="#838cea" stroke-width="0.5">50</text>
<line x1="1483.5" y1="700.6" x2="1490.5" y2="700.6" stroke="#a0a0b0" stroke-width="1.2" />
<text x="1495.5" y="708.6" font-size="22.5" font-weight="normal" fill="#838cea" text-anchor="start" font-family="'Liberation Sans', Arial, sans-serif" stroke="#838cea" stroke-width="0.5">55</text>
<line x1="1483.5" y1="1150.1" x2="1487.5" y2="1150.1" stroke="#b0b0c0" stroke-width="1.0" />
<line x1="1483.5" y1="1080.9" x2="1487.5" y2="1080.9" stroke="#b0b0c0" stroke-width="1.0" />
<line x1="1483.5" y1="1011.8" x2="1487.5" y2="1011.8" stroke="#b0b0c0" stroke-width="1.0" />
<line x1="1483.5" y1="942.6" x2="1487.5" y2="942.6" stroke="#b0b0c0" stroke-width="1.0" />
<line x1="1483.5" y1="873.5" x2="1487.5" y2="873.5" stroke="#b0b0c0" stroke-width="1.0" />
<line x1="1483.5" y1="804.3" x2="1487.5" y2="804.3" stroke="#b0b0c0" stroke-width="1.0" />
<line x1="1483.5" y1="735.2" x2="1487.5" y2="735.2" stroke="#b0b0c0" stroke-width="1.0" />
<line x1="1483.5" y1="666" x2="1487.5" y2="666" stroke="#b0b0c0" stroke-width="1.0" />
<text x="0" y="0" font-size="23" font-weight="normal" fill="#e8737d" text-anchor="middle" font-family="'Liberation Sans', Arial, sans-serif" stroke="#e8737d" stroke-width="0.9" transform="translate(42,894) rotate(-90)">Stress (MPa)</text>
<text x="0" y="0" font-size="23.3" font-weight="normal" fill="#858cdf" text-anchor="middle" font-family="'Liberation Sans', Arial, sans-serif" stroke="#858cdf" stroke-width="0.4" transform="translate(1538,903.5) rotate(90)">Temperature (°C)</text>
<rect x="1100" y="579" width="375.5" height="57.5" rx="9" ry="9" fill="#ffffff" stroke="#333" stroke-width="1.6"/>
<text x="1133" y="607" font-size="20" font-weight="bold" fill="#141414" text-anchor="start" font-family="'Liberation Sans', Arial, sans-serif" >I<tspan font-size="13" dy="5">i</tspan><tspan font-size="14" dy="-14">-</tspan></text>
<g opacity="1.0"><line x1="1141.0" y1="622.0" x2="1119.0" y2="621.6" stroke="#6a6a6a" stroke-width="1.3" stroke-linecap="round"/><line x1="1141.0" y1="622.0" x2="1119.3" y2="618.6" stroke="#6a6a6a" stroke-width="1.3" stroke-linecap="round"/><circle cx="1141.0" cy="622.0" r="3.8" fill="#5a5a5c"/></g>
<circle cx="1141" cy="622" r="5.5" fill="#6e6e70"/>
<text x="1166.5" y="607" font-size="20" font-weight="bold" fill="#141414" text-anchor="start" font-family="'Liberation Sans', Arial, sans-serif" >h<tspan font-size="14" dy="-8">+</tspan></text>
<circle cx="1173.6" cy="622" r="8.5" fill="#fff3a0" opacity="0.55"/><circle cx="1173.6" cy="622" r="5.5" fill="#f7c400"/>
<text x="1207" y="607" font-size="20" font-weight="bold" fill="#141414" text-anchor="start" font-family="'Liberation Sans', Arial, sans-serif" >Pb</text>
<circle cx="1218" cy="622" r="7" fill="#d9532f"/>
<g opacity="1.0"><polygon points="1266.0,613.0 1249.5,613.0 1257.8,604.5 1266.0,596.0" fill="#74b2e6" stroke="#74b2e6" stroke-width="0.6" stroke-linejoin="round"/><polygon points="1266.0,613.0 1266.0,596.0 1274.2,604.5 1282.5,613.0" fill="#6aaae2" stroke="#6aaae2" stroke-width="0.6" stroke-linejoin="round"/><polygon points="1266.0,613.0 1249.5,613.0 1257.8,621.5 1266.0,630.0" fill="#62a3dd" stroke="#62a3dd" stroke-width="0.6" stroke-linejoin="round"/><polygon points="1266.0,613.0 1266.0,630.0 1274.2,621.5 1282.5,613.0" fill="#5b9dd8" stroke="#5b9dd8" stroke-width="0.6" stroke-linejoin="round"/><line x1="1249.5" y1="613.0" x2="1282.5" y2="613.0" stroke="#2a6aa3" stroke-width="0.8" opacity="0.5"/></g>
<circle cx="1249.5" cy="613.0" r="2.0" fill="#44607a" opacity="1.0"/>
<circle cx="1282.5" cy="613.0" r="2.0" fill="#44607a" opacity="1.0"/>
<circle cx="1266.0" cy="596.0" r="2.0" fill="#44607a" opacity="1.0"/>
<circle cx="1266.0" cy="630.0" r="2.0" fill="#44607a" opacity="1.0"/>
<circle cx="1266.0" cy="613.0" r="2.0" fill="#44607a" opacity="1.0"/>
<text x="1293" y="619" font-size="20" font-weight="bold" fill="#141414" text-anchor="start" font-family="'Liberation Sans', Arial, sans-serif" >[PbI<tspan font-size="14" dy="6">6</tspan><tspan dy="-6">]</tspan><tspan font-size="14" dy="-9">4-</tspan></text>
<text x="1374" y="606" font-size="20.5" font-weight="bold" fill="#141414" text-anchor="start" font-family="'Liberation Sans', Arial, sans-serif" >substrate</text>
<rect x="1385.5" y="618.5" width="67.5" height="5.5" fill="#b0b0b0"/>
<text x="21" y="1222.5" font-size="75" font-weight="bold" fill="#000" text-anchor="start" font-family="'Liberation Serif', 'Times New Roman', serif" >c</text>
<polyline points="97.9,1226.6 102.4,1236.8 107.0,1247.8" fill="none" stroke="#8e95ea" stroke-width="1.3" stroke-linejoin="round" />
<polyline points="115.6,1240.0 120.1,1252.9 124.7,1266.9" fill="none" stroke="#8e95ea" stroke-width="1.3" stroke-linejoin="round" />
<polyline points="133.5,1247.2 138.0,1262.1 142.7,1278.2" fill="none" stroke="#8e95ea" stroke-width="1.3" stroke-linejoin="round" />
<polyline points="151.5,1257.0 156.0,1272.8 160.6,1289.9" fill="none" stroke="#8e95ea" stroke-width="1.3" stroke-linejoin="round" />
<polyline points="169.5,1270.5 173.9,1284.9 178.6,1300.5" fill="none" stroke="#8e95ea" stroke-width="1.3" stroke-linejoin="round" />
<polyline points="187.4,1275.2 191.9,1292.8 196.6,1311.8" fill="none" stroke="#8e95ea" stroke-width="1.3" stroke-linejoin="round" />
<polyline points="205.4,1287.9 209.9,1302.1 214.5,1317.5" fill="none" stroke="#8e95ea" stroke-width="1.3" stroke-linejoin="round" />
<polyline points="223.3,1296.4 227.8,1309.2 232.5,1323.1" fill="none" stroke="#8e95ea" stroke-width="1.3" stroke-linejoin="round" />
<polyline points="241.3,1304.9 245.8,1315.7 250.4,1327.4" fill="none" stroke="#8e95ea" stroke-width="1.3" stroke-linejoin="round" />
<polyline points="259.3,1310.4 263.8,1322.6 268.4,1335.7" fill="none" stroke="#8e95ea" stroke-width="1.3" stroke-linejoin="round" />
<polyline points="277.2,1317.5 281.7,1329.0 286.4,1341.5" fill="none" stroke="#8e95ea" stroke-width="1.3" stroke-linejoin="round" />
<polyline points="295.2,1325.8 299.7,1338.0 304.3,1351.2" fill="none" stroke="#8e95ea" stroke-width="1.3" stroke-linejoin="round" />
<polyline points="313.2,1333.8 317.7,1346.2 322.3,1359.7" fill="none" stroke="#8e95ea" stroke-width="1.3" stroke-linejoin="round" />
<polyline points="97.9,1226.6 99.0,1226.6 100.9,1230.2 103.9,1232.5 105.4,1234.5 107.0,1236.5 107.0,1424.3 115.6,1424.3 115.6,1424.3 115.6,1227.3 116.7,1229.7 119.3,1232.9 121.6,1233.6 123.4,1235.2 124.7,1238.8 124.7,1424.3 133.5,1424.3 133.5,1424.3 133.5,1228.7 135.0,1231.7 136.5,1234.6 138.8,1235.6 141.0,1237.6 142.7,1240.6 142.7,1424.3 151.5,1424.3 151.5,1424.3 151.5,1230.4 152.6,1230.4 154.5,1234.0 157.5,1236.3 159.0,1238.3 160.6,1240.3 160.6,1424.3 169.5,1424.3 169.5,1424.3 169.5,1230.6 170.6,1232.9 173.2,1236.1 175.4,1236.9 177.3,1238.5 178.6,1242.0 178.6,1424.3 187.4,1424.3 187.4,1424.3 187.4,1232.3 188.9,1235.2 190.4,1238.2 192.7,1239.2 194.9,1241.2 196.6,1244.1 196.6,1424.3 205.4,1424.3 205.4,1424.3 205.4,1232.3 206.5,1232.3 208.4,1235.9 211.4,1238.2 212.9,1240.2 214.5,1242.2 214.5,1424.3 223.3,1424.3 223.3,1424.3 223.3,1235.0 224.5,1237.3 227.1,1240.5 229.3,1241.3 231.2,1242.9 232.5,1246.4 232.5,1424.3 241.3,1424.3 241.3,1424.3 241.3,1236.5 242.8,1239.5 244.3,1242.5 246.6,1243.5 248.8,1245.4 250.4,1248.4 250.4,1424.3 259.3,1424.3 259.3,1424.3 259.3,1238.1 260.4,1238.1 262.3,1241.6 265.3,1244.0 266.8,1246.0 268.4,1248.0 268.4,1424.3 277.2,1424.3 277.2,1424.3 277.2,1238.3 278.4,1240.6 281.0,1243.8 283.2,1244.6 285.1,1246.2 286.4,1249.7 286.4,1424.3 295.2,1424.3 295.2,1424.3 295.2,1239.9 296.7,1242.9 298.2,1245.9 300.4,1246.9 302.7,1248.8 304.3,1251.8 304.3,1424.3 313.2,1424.3 313.2,1424.3 313.2,1240.8 314.3,1240.8 316.2,1244.4 319.2,1246.8 320.7,1248.7 322.3,1250.7 322.3,1424.3 331.1,1424.3 331.1,1424.3 331.1,1242.6 332.3,1245.0 334.9,1248.2 337.1,1249.0 339.0,1250.6 340.3,1254.1 340.3,1424.3 349.1,1424.3 349.1,1424.3 349.1,1243.5 350.6,1246.4 352.1,1249.4 354.3,1250.4 356.6,1252.4 358.2,1255.3 358.2,1424.3 367.1,1424.3 367.1,1424.3 367.1,1246.4 368.2,1246.4 370.1,1249.9 373.0,1252.3 374.5,1254.3 376.2,1256.3 376.2,1424.3 385.0,1424.3 385.0,1424.3 385.0,1244.2 386.1,1246.6 388.8,1249.8 391.0,1250.6 392.9,1252.2 394.2,1255.7 394.2,1424.3 403.0,1424.3 403.0,1424.3 403.0,1247.7 404.5,1250.7 406.0,1253.7 408.2,1254.7 410.5,1256.6 412.1,1259.6 412.1,1424.3 421.0,1424.3 421.0,1424.3 421.0,1248.0 422.1,1248.0 423.9,1251.5 426.9,1253.9 428.4,1255.9 430.1,1257.9 430.1,1424.3 438.9,1424.3 438.9,1424.3 438.9,1249.3 440.0,1251.6 442.7,1254.8 444.9,1255.6 446.8,1257.2 448.0,1260.7 448.0,1424.3 456.9,1424.3 456.9,1424.3 456.9,1250.2 458.4,1253.2 459.9,1256.2 462.1,1257.2 464.4,1259.1 466.0,1262.1 466.0,1424.3 474.8,1424.3 474.8,1424.3 474.8,1250.5 476.0,1250.5 477.8,1254.1 480.8,1256.4 482.3,1258.4 484.0,1260.4 484.0,1424.3 492.8,1424.3 492.8,1424.3 492.8,1252.2 493.9,1254.6 496.6,1257.7 498.8,1258.5 500.7,1260.1 501.9,1263.6 501.9,1424.3 510.8,1424.3 510.8,1424.3 510.8,1253.1 512.3,1256.0 513.8,1259.0 516.0,1260.0 518.3,1262.0 519.9,1264.9 519.9,1424.3 528.7,1424.3 528.7,1424.3 528.7,1254.8 529.9,1254.8 531.7,1258.4 534.7,1260.7 536.2,1262.7 537.9,1264.7 537.9,1424.3 546.7,1424.3 546.7,1424.3 546.7,1255.4 547.8,1257.8 550.4,1260.9 552.7,1261.7 554.6,1263.3 555.8,1266.9 555.8,1424.3 564.7,1424.3 564.7,1424.3 564.7,1255.9 566.2,1258.9 567.7,1261.8 569.9,1262.8 572.1,1264.8 573.8,1267.8 573.8,1424.3 582.6,1424.3 582.6,1424.3 582.6,1253.9 583.8,1253.9 585.6,1257.4 588.6,1259.8 590.1,1261.8 591.8,1263.8 591.8,1424.3 600.6,1424.3 600.6,1424.3 600.6,1256.7 601.7,1259.0 604.3,1262.2 606.6,1263.0 608.5,1264.6 609.7,1268.1 609.7,1424.3 618.6,1424.3 618.6,1424.3 618.6,1256.8 620.1,1259.7 621.6,1262.7 623.8,1263.7 626.0,1265.7 627.7,1268.6 627.7,1424.3 636.5,1424.3 636.5,1424.3 636.5,1256.1 637.6,1256.1 639.5,1259.6 642.5,1262.0 644.0,1264.0 645.7,1266.0 645.7,1424.3 654.5,1424.3 654.5,1424.3 654.5,1255.4 655.6,1257.8 658.2,1260.9 660.5,1261.7 662.3,1263.3 663.6,1266.9 663.6,1424.3 672.4,1424.3 672.4,1424.3 672.4,1258.2 673.9,1261.1 675.4,1264.1 677.7,1265.1 679.9,1267.1 681.6,1270.0 681.6,1424.3 690.4,1424.3 690.4,1424.3 690.4,1258.4 691.5,1258.4 693.4,1261.9 696.4,1264.3 697.9,1266.3 699.5,1268.3 699.5,1424.3 708.4,1424.3 708.4,1424.3 708.4,1257.7 709.5,1260.1 712.1,1263.2 714.4,1264.0 716.2,1265.6 717.5,1269.2 717.5,1424.3 726.3,1424.3 726.3,1424.3 726.3,1258.4 727.8,1261.3 729.3,1264.3 731.6,1265.3 733.8,1267.3 735.5,1270.2 735.5,1424.3 744.3,1424.3 744.3,1424.3 744.3,1260.6 745.4,1260.6 747.3,1264.2 750.3,1266.5 751.8,1268.5 753.4,1270.5 753.4,1424.3 762.3,1424.3 762.3,1424.3 762.3,1261.8 763.4,1264.1 766.0,1267.3 768.3,1268.1 770.1,1269.7 771.4,1273.2 771.4,1424.3 780.2,1424.3 780.2,1424.3 780.2,1261.9 781.7,1264.9 783.2,1267.9 785.5,1268.9 787.7,1270.8 789.4,1273.8 789.4,1424.3 798.2,1424.3 798.2,1424.3 798.2,1261.4 799.3,1261.4 801.2,1265.0 804.2,1267.4 805.7,1269.3 807.3,1271.3 807.3,1424.3 816.2,1424.3 816.2,1424.3 816.2,1262.9 817.3,1265.3 819.9,1268.4 822.1,1269.2 824.0,1270.8 825.3,1274.4 825.3,1424.3 834.1,1424.3 834.1,1424.3 834.1,1263.1 835.6,1266.1 837.1,1269.1 839.4,1270.0 841.6,1272.0 843.3,1275.0 843.3,1424.3 852.1,1424.3 852.1,1424.3 852.1,1264.6 853.2,1264.6 855.1,1268.2 858.1,1270.6 859.6,1272.5 861.2,1274.5 862.0,1275.9" fill="none" stroke="#e27c82" stroke-width="1.5" stroke-linejoin="round" />
<rect x="98" y="1207" width="764" height="247" fill="none" stroke="#555" stroke-width="1.6"/>
<line x1="92.5" y1="1424.3" x2="98" y2="1424.3" stroke="#444" stroke-width="1.5" />
<text x="84" y="1428.9" font-size="16" font-weight="bold" fill="#222" text-anchor="end" font-family="'Liberation Sans', Arial, sans-serif" >0.0</text>
<line x1="94.5" y1="1404.5" x2="98" y2="1404.5" stroke="#444" stroke-width="1.3" />
<line x1="92.5" y1="1384.8" x2="98" y2="1384.8" stroke="#444" stroke-width="1.5" />
<text x="84" y="1389.4" font-size="16" font-weight="bold" fill="#222" text-anchor="end" font-family="'Liberation Sans', Arial, sans-serif" >0.2</text>
<line x1="94.5" y1="1365" x2="98" y2="1365" stroke="#444" stroke-width="1.3" />
<line x1="92.5" y1="1345.2" x2="98" y2="1345.2" stroke="#444" stroke-width="1.5" />
<text x="84" y="1349.8" font-size="16" font-weight="bold" fill="#222" text-anchor="end" font-family="'Liberation Sans', Arial, sans-serif" >0.4</text>
<line x1="94.5" y1="1325.5" x2="98" y2="1325.5" stroke="#444" stroke-width="1.3" />
<line x1="92.5" y1="1305.7" x2="98" y2="1305.7" stroke="#444" stroke-width="1.5" />
<text x="84" y="1310.3" font-size="16" font-weight="bold" fill="#222" text-anchor="end" font-family="'Liberation Sans', Arial, sans-serif" >0.6</text>
<line x1="94.5" y1="1285.9" x2="98" y2="1285.9" stroke="#444" stroke-width="1.3" />
<line x1="92.5" y1="1266.1" x2="98" y2="1266.1" stroke="#444" stroke-width="1.5" />
<text x="84" y="1270.7" font-size="16" font-weight="bold" fill="#222" text-anchor="end" font-family="'Liberation Sans', Arial, sans-serif" >0.8</text>
<line x1="94.5" y1="1246.4" x2="98" y2="1246.4" stroke="#444" stroke-width="1.3" />
<line x1="92.5" y1="1226.6" x2="98" y2="1226.6" stroke="#444" stroke-width="1.5" />
<text x="84" y="1231.2" font-size="16" font-weight="bold" fill="#222" text-anchor="end" font-family="'Liberation Sans', Arial, sans-serif" >1.0</text>
<line x1="94.5" y1="1444.1" x2="98" y2="1444.1" stroke="#444" stroke-width="1.3" />
<line x1="97.9" y1="1454" x2="97.9" y2="1460" stroke="#444" stroke-width="1.5" />
<text x="97.4" y="1481" font-size="16" font-weight="bold" fill="#222" text-anchor="middle" font-family="'Liberation Sans', Arial, sans-serif" >0</text>
<line x1="172.8" y1="1454" x2="172.8" y2="1457.5" stroke="#444" stroke-width="1.3" />
<line x1="247.6" y1="1454" x2="247.6" y2="1460" stroke="#444" stroke-width="1.5" />
<text x="247.1" y="1481" font-size="16" font-weight="bold" fill="#222" text-anchor="middle" font-family="'Liberation Sans', Arial, sans-serif" >200</text>
<line x1="322.5" y1="1454" x2="322.5" y2="1457.5" stroke="#444" stroke-width="1.3" />
<line x1="397.3" y1="1454" x2="397.3" y2="1460" stroke="#444" stroke-width="1.5" />
<text x="396.8" y="1481" font-size="16" font-weight="bold" fill="#222" text-anchor="middle" font-family="'Liberation Sans', Arial, sans-serif" >400</text>
<line x1="472.1" y1="1454" x2="472.1" y2="1457.5" stroke="#444" stroke-width="1.3" />
<line x1="547" y1="1454" x2="547" y2="1460" stroke="#444" stroke-width="1.5" />
<text x="546.5" y="1481" font-size="16" font-weight="bold" fill="#222" text-anchor="middle" font-family="'Liberation Sans', Arial, sans-serif" >600</text>
<line x1="621.9" y1="1454" x2="621.9" y2="1457.5" stroke="#444" stroke-width="1.3" />
<line x1="696.7" y1="1454" x2="696.7" y2="1460" stroke="#444" stroke-width="1.5" />
<text x="696.2" y="1481" font-size="16" font-weight="bold" fill="#222" text-anchor="middle" font-family="'Liberation Sans', Arial, sans-serif" >800</text>
<line x1="771.6" y1="1454" x2="771.6" y2="1457.5" stroke="#444" stroke-width="1.3" />
<line x1="846.4" y1="1454" x2="846.4" y2="1460" stroke="#444" stroke-width="1.5" />
<text x="845.9" y="1481" font-size="16" font-weight="bold" fill="#222" text-anchor="middle" font-family="'Liberation Sans', Arial, sans-serif" >1000</text>
<text x="465" y="1498" font-size="15.5" font-weight="bold" fill="#222" text-anchor="middle" font-family="'Liberation Sans', Arial, sans-serif" >Time (h)</text>
<text x="0" y="0" font-size="14.7" font-weight="bold" fill="#222" text-anchor="middle" font-family="'Liberation Sans', Arial, sans-serif" transform="translate(54.3,1324.5) rotate(-90)">Normalized PCE</text>
<line x1="708" y1="1222.5" x2="740" y2="1222.5" stroke="#a9b0f2" stroke-width="1.5" />
<text x="745" y="1227.5" font-size="16.5" font-weight="normal" fill="#222" text-anchor="start" font-family="'Liberation Sans', Arial, sans-serif" >Control</text>
<line x1="708" y1="1245.5" x2="740" y2="1245.5" stroke="#e27c82" stroke-width="1.5" />
<text x="745" y="1250.5" font-size="16.5" font-weight="normal" fill="#222" text-anchor="start" font-family="'Liberation Sans', Arial, sans-serif" >pero-Ph-Se-Cl</text>
<text x="229" y="1446" font-size="16.2" font-weight="bold" fill="#222" text-anchor="start" font-family="'Liberation Sans', Arial, sans-serif" letter-spacing="0.5">Device structure: FTO/SnO<tspan font-size="10">2</tspan>/FAPbI<tspan font-size="10">3</tspan>/PEAI/Spiro-OMeTAD/Au</text>
<text x="887" y="1222.5" font-size="76" font-weight="bold" fill="#000" text-anchor="start" font-family="'Liberation Serif', 'Times New Roman', serif" >d</text>
<rect x="998" y="1305.4" width="34.2" height="158.6" fill="#eeb032" />
<rect x="1005" y="1334.4" width="34.2" height="129.6" fill="#8f9bfa" />
<rect x="1040.7" y="1236.8" width="34.2" height="227.2" fill="#52dacd" />
<rect x="1048" y="1247.9" width="34.2" height="216.1" fill="#f8706e" />
<line x1="1015.1" y1="1298.9" x2="1015.1" y2="1311.9" stroke="#f07f24" stroke-width="1.4" />
<line x1="1005.1" y1="1298.9" x2="1025.1" y2="1298.9" stroke="#f07f24" stroke-width="1.4" />
<line x1="1005.1" y1="1311.9" x2="1025.1" y2="1311.9" stroke="#f07f24" stroke-width="1.4" />
<line x1="1022.1" y1="1326.9" x2="1022.1" y2="1341.8" stroke="#6a79e6" stroke-width="1.4" />
<line x1="1012.1" y1="1326.9" x2="1032.1" y2="1326.9" stroke="#6a79e6" stroke-width="1.4" />
<line x1="1012.1" y1="1341.8" x2="1032.1" y2="1341.8" stroke="#6a79e6" stroke-width="1.4" />
<line x1="1057.8" y1="1233.1" x2="1057.8" y2="1240.5" stroke="#3ad7a4" stroke-width="1.4" />
<line x1="1047.8" y1="1233.1" x2="1067.8" y2="1233.1" stroke="#3ad7a4" stroke-width="1.4" />
<line x1="1047.8" y1="1240.5" x2="1067.8" y2="1240.5" stroke="#3ad7a4" stroke-width="1.4" />
<line x1="1065.1" y1="1243.7" x2="1065.1" y2="1252.1" stroke="#e32626" stroke-width="1.4" />
<line x1="1055.1" y1="1243.7" x2="1075.1" y2="1243.7" stroke="#e32626" stroke-width="1.4" />
<line x1="1055.1" y1="1252.1" x2="1075.1" y2="1252.1" stroke="#e32626" stroke-width="1.4" />
<rect x="1150.5" y="1338.5" width="34.2" height="125.5" fill="#eeb032" />
<rect x="1157.7" y="1390.7" width="34.2" height="73.3" fill="#8f9bfa" />
<rect x="1193.5" y="1232.6" width="34.2" height="231.4" fill="#52dacd" />
<rect x="1201" y="1245.1" width="34.2" height="218.9" fill="#f8706e" />
<line x1="1167.6" y1="1331.6" x2="1167.6" y2="1345.5" stroke="#f07f24" stroke-width="1.4" />
<line x1="1157.6" y1="1331.6" x2="1177.6" y2="1331.6" stroke="#f07f24" stroke-width="1.4" />
<line x1="1157.6" y1="1345.5" x2="1177.6" y2="1345.5" stroke="#f07f24" stroke-width="1.4" />
<line x1="1174.8" y1="1383.7" x2="1174.8" y2="1397.6" stroke="#6a79e6" stroke-width="1.4" />
<line x1="1164.8" y1="1383.7" x2="1184.8" y2="1383.7" stroke="#6a79e6" stroke-width="1.4" />
<line x1="1164.8" y1="1397.6" x2="1184.8" y2="1397.6" stroke="#6a79e6" stroke-width="1.4" />
<line x1="1210.6" y1="1229.3" x2="1210.6" y2="1235.8" stroke="#3ad7a4" stroke-width="1.4" />
<line x1="1200.6" y1="1229.3" x2="1220.6" y2="1229.3" stroke="#3ad7a4" stroke-width="1.4" />
<line x1="1200.6" y1="1235.8" x2="1220.6" y2="1235.8" stroke="#3ad7a4" stroke-width="1.4" />
<line x1="1218.1" y1="1240.9" x2="1218.1" y2="1249.3" stroke="#e32626" stroke-width="1.4" />
<line x1="1208.1" y1="1240.9" x2="1228.1" y2="1240.9" stroke="#e32626" stroke-width="1.4" />
<line x1="1208.1" y1="1249.3" x2="1228.1" y2="1249.3" stroke="#e32626" stroke-width="1.4" />
<rect x="1303" y="1305.4" width="34.2" height="158.6" fill="#eeb032" />
<rect x="1310" y="1380.5" width="34.2" height="83.5" fill="#8f9bfa" />
<rect x="1346.5" y="1231.9" width="34.2" height="232.1" fill="#52dacd" />
<rect x="1353.4" y="1247.9" width="34.2" height="216.1" fill="#f8706e" />
<line x1="1320.1" y1="1298.9" x2="1320.1" y2="1311.9" stroke="#f07f24" stroke-width="1.4" />
<line x1="1310.1" y1="1298.9" x2="1330.1" y2="1298.9" stroke="#f07f24" stroke-width="1.4" />
<line x1="1310.1" y1="1311.9" x2="1330.1" y2="1311.9" stroke="#f07f24" stroke-width="1.4" />
<line x1="1327.1" y1="1373.1" x2="1327.1" y2="1387.9" stroke="#6a79e6" stroke-width="1.4" />
<line x1="1317.1" y1="1373.1" x2="1337.1" y2="1373.1" stroke="#6a79e6" stroke-width="1.4" />
<line x1="1317.1" y1="1387.9" x2="1337.1" y2="1387.9" stroke="#6a79e6" stroke-width="1.4" />
<line x1="1363.6" y1="1228.2" x2="1363.6" y2="1235.6" stroke="#3ad7a4" stroke-width="1.4" />
<line x1="1353.6" y1="1228.2" x2="1373.6" y2="1228.2" stroke="#3ad7a4" stroke-width="1.4" />
<line x1="1353.6" y1="1235.6" x2="1373.6" y2="1235.6" stroke="#3ad7a4" stroke-width="1.4" />
<line x1="1370.5" y1="1243.7" x2="1370.5" y2="1252.1" stroke="#e32626" stroke-width="1.4" />
<line x1="1360.5" y1="1243.7" x2="1380.5" y2="1243.7" stroke="#e32626" stroke-width="1.4" />
<line x1="1360.5" y1="1252.1" x2="1380.5" y2="1252.1" stroke="#e32626" stroke-width="1.4" />
<rect x="965.5" y="1207" width="460.5" height="257" fill="none" stroke="#555" stroke-width="1.6"/>
<line x1="960" y1="1463" x2="965.5" y2="1463" stroke="#444" stroke-width="1.5" />
<text x="958.5" y="1466.9" font-size="17.5" font-weight="bold" fill="#222" text-anchor="end" font-family="'Liberation Sans', Arial, sans-serif" >0.0</text>
<line x1="962" y1="1439.8" x2="965.5" y2="1439.8" stroke="#444" stroke-width="1.3" />
<line x1="960" y1="1416.6" x2="965.5" y2="1416.6" stroke="#444" stroke-width="1.5" />
<text x="958.5" y="1420.5" font-size="17.5" font-weight="bold" fill="#222" text-anchor="end" font-family="'Liberation Sans', Arial, sans-serif" >0.2</text>
<line x1="962" y1="1393.5" x2="965.5" y2="1393.5" stroke="#444" stroke-width="1.3" />
<line x1="960" y1="1370.3" x2="965.5" y2="1370.3" stroke="#444" stroke-width="1.5" />
<text x="958.5" y="1374.2" font-size="17.5" font-weight="bold" fill="#222" text-anchor="end" font-family="'Liberation Sans', Arial, sans-serif" >0.4</text>
<line x1="962" y1="1347.1" x2="965.5" y2="1347.1" stroke="#444" stroke-width="1.3" />
<line x1="960" y1="1323.9" x2="965.5" y2="1323.9" stroke="#444" stroke-width="1.5" />
<text x="958.5" y="1327.8" font-size="17.5" font-weight="bold" fill="#222" text-anchor="end" font-family="'Liberation Sans', Arial, sans-serif" >0.6</text>
<line x1="962" y1="1300.7" x2="965.5" y2="1300.7" stroke="#444" stroke-width="1.3" />
<line x1="960" y1="1277.6" x2="965.5" y2="1277.6" stroke="#444" stroke-width="1.5" />
<text x="958.5" y="1281.5" font-size="17.5" font-weight="bold" fill="#222" text-anchor="end" font-family="'Liberation Sans', Arial, sans-serif" >0.8</text>
<line x1="962" y1="1254.4" x2="965.5" y2="1254.4" stroke="#444" stroke-width="1.3" />
<line x1="960" y1="1231.2" x2="965.5" y2="1231.2" stroke="#444" stroke-width="1.5" />
<text x="958.5" y="1235.1" font-size="17.5" font-weight="bold" fill="#222" text-anchor="end" font-family="'Liberation Sans', Arial, sans-serif" >1.0</text>
<line x1="1044" y1="1464" x2="1044" y2="1470" stroke="#444" stroke-width="1.5" />
<line x1="1196.4" y1="1464" x2="1196.4" y2="1470" stroke="#444" stroke-width="1.5" />
<line x1="1349.4" y1="1464" x2="1349.4" y2="1470" stroke="#444" stroke-width="1.5" />
<line x1="1120.8" y1="1464" x2="1120.8" y2="1467.5" stroke="#444" stroke-width="1.3" />
<line x1="1273" y1="1464" x2="1273" y2="1467.5" stroke="#444" stroke-width="1.3" />
<text x="1045.7" y="1494" font-size="19" font-weight="bold" fill="#222" text-anchor="middle" font-family="'Liberation Sans', Arial, sans-serif" >FAPbI<tspan font-size="10" letter-spacing="1.2">3</tspan></text>
<text x="1194.5" y="1494" font-size="19" font-weight="bold" fill="#222" text-anchor="middle" font-family="'Liberation Sans', Arial, sans-serif" >FA<tspan font-size="10" letter-spacing="1.2">0.92</tspan>MA<tspan font-size="10" letter-spacing="1.2">0.08</tspan>PbI<tspan font-size="10" letter-spacing="1.2">3</tspan></text>
<text x="1398" y="1494" font-size="19" font-weight="bold" fill="#222" text-anchor="middle" font-family="'Liberation Sans', Arial, sans-serif" >Cs<tspan font-size="10" letter-spacing="1.2">0.05</tspan>FA<tspan font-size="10" letter-spacing="1.2">0.7</tspan>MA<tspan font-size="10" letter-spacing="1.2">0.25</tspan>PbI<tspan font-size="10" letter-spacing="1.2">2.6</tspan>Br<tspan font-size="10" letter-spacing="1.2">0.4</tspan></text>
<text x="0" y="0" font-size="19" font-weight="bold" fill="#222" text-anchor="middle" font-family="'Liberation Sans', Arial, sans-serif" transform="translate(921.8,1325) rotate(-90)">Normalized PCE</text>
<text x="1429" y="1249" font-size="18.5" font-weight="bold" fill="#222" text-anchor="start" font-family="'Liberation Sans', Arial, sans-serif" >Continuous</text>
<rect x="1430" y="1258" width="30.5" height="15.5" fill="#eeb032" />
<text x="1465" y="1270" font-size="18.5" font-weight="bold" fill="#222" text-anchor="start" font-family="'Liberation Sans', Arial, sans-serif" >Control</text>
<rect x="1430" y="1280.6" width="30.5" height="15.5" fill="#52dacd" />
<text x="1465" y="1294" font-size="18.5" font-weight="bold" fill="#222" text-anchor="start" font-family="'Liberation Sans', Arial, sans-serif" >pero-Ph-Se-Cl</text>
<text x="1431" y="1323" font-size="18.5" font-weight="bold" fill="#222" text-anchor="start" font-family="'Liberation Sans', Arial, sans-serif" >Cycling</text>
<rect x="1431" y="1332" width="30.5" height="15.5" fill="#8f9bfa" />
<text x="1466" y="1344.5" font-size="18.5" font-weight="bold" fill="#222" text-anchor="start" font-family="'Liberation Sans', Arial, sans-serif" >Control</text>
<rect x="1431" y="1355" width="30.5" height="15.5" fill="#f8706e" />
<text x="1467" y="1368" font-size="18.5" font-weight="bold" fill="#222" text-anchor="start" font-family="'Liberation Sans', Arial, sans-serif" >pero-Ph-Se-Cl</text>
</svg></body></html>
